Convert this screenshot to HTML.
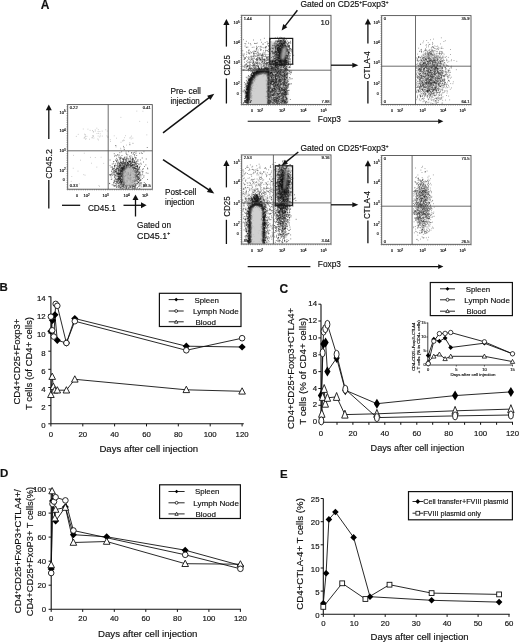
<!DOCTYPE html><html><head><meta charset="utf-8"><title>Figure</title><style>html,body{margin:0;padding:0;background:#fff}svg{display:block;filter:grayscale(1)}text{font-family:"Liberation Sans",Arial,sans-serif;stroke:#111;stroke-width:.16px}</style></head><body>
<svg width="520" height="642" viewBox="0 0 520 642">
<rect width="520" height="642" fill="#fff"/>
<defs><filter id="b0" x="-5%" y="-5%" width="110%" height="110%"><feGaussianBlur stdDeviation="0.38"/></filter><filter id="b3" x="-20%" y="-20%" width="140%" height="140%"><feGaussianBlur stdDeviation="1.5"/></filter><filter id="b1" x="-20%" y="-20%" width="140%" height="140%"><feGaussianBlur stdDeviation="1.0"/></filter><filter id="b2" x="-30%" y="-30%" width="160%" height="160%"><feGaussianBlur stdDeviation="1.6"/></filter></defs>
<text x="40.8" y="8.8" font-size="12.00" text-anchor="start" font-weight="bold" fill="#111" stroke-width="0.35">A</text>
<clipPath id="c0"><rect x="108.8" y="151.4" width="43" height="37.3"/></clipPath>
<g clip-path="url(#c0)"><ellipse cx="127" cy="174.5" rx="12" ry="14" fill="#444" opacity="0.28" filter="url(#b2)"/></g>
<path d="M125.0 178.5h0.9M125.2 171.7h0.9M120.4 172.6h0.9M134.3 177.8h0.9M133.8 176.3h0.9M129.4 175.8h0.9M115.4 181.3h0.9M130.2 178.4h0.9M115.2 160.0h0.9M120.7 170.5h0.9M128.8 173.9h0.9M130.3 169.0h0.9M128.8 177.5h0.9M122.3 188.4h0.9M130.5 184.1h0.9M122.5 168.2h0.9M124.4 173.4h0.9M131.0 176.3h0.9M123.7 166.5h0.9M123.2 184.3h0.9M121.3 176.3h0.9M129.7 162.1h0.9M127.1 185.0h0.9M113.1 171.7h0.9M126.0 167.6h0.9M130.1 173.8h0.9M116.8 181.1h0.9M131.3 182.1h0.9M136.5 177.3h0.9M127.6 163.6h0.9M130.9 169.3h0.9M123.7 163.9h0.9M120.2 169.9h0.9M135.5 157.6h0.9M116.8 176.3h0.9M136.6 179.0h0.9M113.8 153.7h0.9M129.2 168.3h0.9M119.1 182.3h0.9M134.2 175.6h0.9M128.4 177.9h0.9M137.6 179.4h0.9M130.3 178.8h0.9M116.1 184.8h0.9M133.2 178.6h0.9M113.3 169.1h0.9M132.5 159.4h0.9M125.5 182.7h0.9M117.8 187.5h0.9M130.5 173.1h0.9M129.0 179.6h0.9M127.6 183.7h0.9M122.3 170.9h0.9M133.8 174.5h0.9M120.8 182.1h0.9M136.7 170.7h0.9M117.4 173.2h0.9M125.7 171.9h0.9M136.3 165.9h0.9M135.3 163.9h0.9M121.4 179.5h0.9M134.4 181.3h0.9M129.1 175.5h0.9M127.8 179.0h0.9M125.6 176.6h0.9M130.6 174.3h0.9M131.9 178.9h0.9M140.4 177.0h0.9M123.8 171.2h0.9M126.7 181.9h0.9M124.5 177.5h0.9M139.2 153.3h0.9M119.1 176.3h0.9M129.5 176.3h0.9M123.8 179.7h0.9M128.7 170.0h0.9M143.3 177.2h0.9M123.0 173.5h0.9M125.2 173.8h0.9M133.6 164.7h0.9M126.3 182.1h0.9M132.6 186.5h0.9M115.2 171.4h0.9M124.4 179.4h0.9M134.2 152.3h0.9M134.2 162.4h0.9M131.4 162.1h0.9M127.9 184.1h0.9M125.7 175.9h0.9M132.2 175.5h0.9M126.1 186.9h0.9M133.9 171.9h0.9M145.4 164.9h0.9M133.0 172.1h0.9M127.7 180.1h0.9M128.3 179.5h0.9M116.4 161.9h0.9M130.9 166.4h0.9M119.8 162.2h0.9M135.4 180.4h0.9M136.8 166.6h0.9M126.8 164.9h0.9M132.0 187.3h0.9M120.7 187.1h0.9M133.5 172.8h0.9M113.3 185.8h0.9M126.1 169.4h0.9M129.5 177.7h0.9M136.9 165.9h0.9M134.5 186.5h0.9M136.6 172.8h0.9M121.7 182.7h0.9M127.5 175.3h0.9M136.4 172.1h0.9M111.1 171.1h0.9M114.1 181.0h0.9M128.9 169.3h0.9M126.7 181.1h0.9M127.3 185.2h0.9M126.3 182.8h0.9M136.9 187.5h0.9M122.2 181.5h0.9M114.0 165.4h0.9M113.4 183.1h0.9M118.4 174.2h0.9M125.4 174.1h0.9M122.7 176.2h0.9M138.9 174.7h0.9M130.4 182.5h0.9M125.4 164.0h0.9M123.0 183.1h0.9M115.6 169.4h0.9M133.6 180.8h0.9M126.8 180.9h0.9M127.9 164.6h0.9M116.1 169.1h0.9M133.0 169.7h0.9M120.6 168.0h0.9M116.3 173.3h0.9M118.7 177.3h0.9M110.7 177.0h0.9M122.4 158.4h0.9M131.7 172.0h0.9M111.6 167.1h0.9M128.7 170.5h0.9M132.1 180.4h0.9M131.3 177.0h0.9M135.8 179.7h0.9M129.8 157.2h0.9M132.8 185.0h0.9M124.7 170.5h0.9M139.9 159.9h0.9M120.4 180.0h0.9M139.6 173.3h0.9M130.6 181.7h0.9M120.6 173.6h0.9M128.7 181.1h0.9M126.5 172.7h0.9M119.8 171.4h0.9M132.8 175.1h0.9M120.9 167.4h0.9M144.9 183.6h0.9M131.1 153.0h0.9M131.0 178.2h0.9M138.2 177.8h0.9M126.3 178.6h0.9M113.5 182.8h0.9M129.0 168.5h0.9M117.2 168.8h0.9M128.7 175.8h0.9M124.0 166.3h0.9M141.2 182.8h0.9M118.6 163.3h0.9M138.3 182.4h0.9M139.1 180.9h0.9M120.8 176.4h0.9M112.1 168.2h0.9M126.3 178.6h0.9M121.8 173.3h0.9M129.9 177.4h0.9M131.1 176.0h0.9M124.5 180.8h0.9M127.1 167.5h0.9M122.5 174.3h0.9M126.0 175.6h0.9M126.7 175.7h0.9M125.8 164.0h0.9M129.6 182.9h0.9M129.7 172.7h0.9M129.8 166.4h0.9M113.9 174.8h0.9M120.4 180.4h0.9M119.4 152.7h0.9M119.7 187.2h0.9M124.2 163.1h0.9M121.6 178.6h0.9M130.1 175.7h0.9M136.8 180.1h0.9M126.6 179.2h0.9M138.0 182.3h0.9M133.7 165.4h0.9M125.7 180.3h0.9M124.7 183.1h0.9M130.8 181.7h0.9M135.2 172.5h0.9M124.4 181.5h0.9M133.4 174.4h0.9M118.8 175.8h0.9M129.2 183.6h0.9M132.1 174.5h0.9M132.6 178.7h0.9M128.2 174.8h0.9M125.1 179.9h0.9M119.6 169.1h0.9M126.8 162.3h0.9M123.8 157.8h0.9M122.1 179.0h0.9M130.6 173.9h0.9M125.2 162.7h0.9M139.2 178.5h0.9M134.2 167.1h0.9M125.5 159.4h0.9M132.1 182.0h0.9M113.8 173.9h0.9M131.0 159.9h0.9M114.3 165.6h0.9M122.5 162.8h0.9M127.0 176.3h0.9M131.1 180.1h0.9M137.0 183.8h0.9M117.8 170.2h0.9M119.5 165.5h0.9M126.2 174.3h0.9M130.1 161.3h0.9M118.3 174.1h0.9M125.4 171.7h0.9M126.3 168.1h0.9M131.5 177.2h0.9M126.2 168.8h0.9M125.6 152.0h0.9M120.1 174.6h0.9M116.5 175.9h0.9M127.8 163.0h0.9M125.0 171.7h0.9M129.9 179.3h0.9M126.5 167.3h0.9M125.8 173.8h0.9M131.7 176.7h0.9M121.8 163.2h0.9M124.2 168.2h0.9M119.2 173.3h0.9M123.4 175.2h0.9M130.3 170.9h0.9M142.6 171.7h0.9M134.2 175.3h0.9M134.3 154.8h0.9M121.6 176.3h0.9M128.9 184.8h0.9M132.0 182.1h0.9M130.2 173.0h0.9M130.2 165.5h0.9M134.8 166.0h0.9M125.2 174.5h0.9M134.7 174.5h0.9M121.3 176.4h0.9M130.7 180.1h0.9M121.5 188.7h0.9M138.1 174.4h0.9M128.6 170.8h0.9M136.4 168.5h0.9M131.3 170.4h0.9M122.0 180.2h0.9M135.8 174.2h0.9M122.1 181.0h0.9M126.4 176.8h0.9M137.1 183.6h0.9M126.8 180.7h0.9M122.3 173.9h0.9M136.0 164.3h0.9M116.5 161.0h0.9M134.7 170.5h0.9M126.3 171.7h0.9M125.9 165.4h0.9M126.9 162.5h0.9M126.3 176.8h0.9M129.9 172.4h0.9M120.6 175.6h0.9M123.5 187.1h0.9M132.0 173.4h0.9M123.5 168.5h0.9M120.4 171.4h0.9M128.8 178.5h0.9M122.0 174.4h0.9M145.8 159.0h0.9M123.2 175.7h0.9M127.8 177.6h0.9M125.1 177.3h0.9M127.1 180.6h0.9M113.9 167.0h0.9M126.7 165.8h0.9M119.6 179.4h0.9M122.3 179.5h0.9M131.8 176.8h0.9M130.2 173.4h0.9M117.2 174.1h0.9M129.8 170.0h0.9M126.1 180.4h0.9M120.8 179.5h0.9M139.4 169.8h0.9M127.7 173.1h0.9M137.2 176.9h0.9M132.9 168.6h0.9M126.6 174.2h0.9M114.7 186.1h0.9M132.9 160.0h0.9M131.8 173.2h0.9M129.8 177.3h0.9M116.6 172.6h0.9M136.9 169.6h0.9M119.8 163.2h0.9M118.4 177.1h0.9M138.3 177.8h0.9M123.2 168.8h0.9M130.3 178.8h0.9M119.8 164.7h0.9M128.7 176.3h0.9M117.9 172.6h0.9M123.1 178.1h0.9M126.0 173.6h0.9M124.3 182.9h0.9M136.2 171.3h0.9M132.5 168.1h0.9M127.2 180.4h0.9M137.0 171.2h0.9M126.2 175.9h0.9M116.6 174.4h0.9M122.2 177.3h0.9M119.1 158.1h0.9M127.0 176.4h0.9M123.0 181.6h0.9M124.9 169.3h0.9M130.0 161.4h0.9M122.1 174.1h0.9M132.5 173.0h0.9M128.8 168.9h0.9M128.8 187.9h0.9M122.4 174.4h0.9M127.9 182.7h0.9M118.3 157.1h0.9M130.9 180.8h0.9M128.1 176.4h0.9M133.1 177.3h0.9M138.1 164.1h0.9M132.3 171.2h0.9M126.7 172.2h0.9M123.4 167.4h0.9M122.5 179.5h0.9M127.0 174.8h0.9M125.6 181.8h0.9M130.1 173.1h0.9M131.3 173.1h0.9M118.9 186.2h0.9M129.9 166.5h0.9M134.1 177.1h0.9M116.1 187.5h0.9M129.0 181.6h0.9M128.1 173.1h0.9M116.2 182.3h0.9M127.0 172.0h0.9M129.1 174.9h0.9M131.3 171.3h0.9M126.5 156.8h0.9M123.9 179.8h0.9M135.8 171.3h0.9M125.9 187.3h0.9M124.5 180.3h0.9M138.2 174.6h0.9M135.1 168.5h0.9M128.2 173.7h0.9M127.5 183.6h0.9M143.0 168.8h0.9M122.8 178.4h0.9M119.6 178.4h0.9M130.6 172.0h0.9M130.4 161.6h0.9M131.9 161.6h0.9M122.0 169.7h0.9M124.0 181.3h0.9M127.3 171.0h0.9M130.4 187.3h0.9M126.8 177.3h0.9M135.2 176.5h0.9M141.8 158.0h0.9M126.5 177.7h0.9M133.3 179.8h0.9M124.9 165.7h0.9M127.5 182.8h0.9M119.3 165.9h0.9M126.6 158.4h0.9M125.0 170.7h0.9M129.8 168.5h0.9M120.8 171.1h0.9M126.4 168.8h0.9M126.8 180.5h0.9M134.8 188.3h0.9M121.4 170.9h0.9M121.8 174.0h0.9M130.3 163.2h0.9M129.9 174.1h0.9M114.3 176.7h0.9M134.9 159.0h0.9M132.2 176.0h0.9M130.0 177.9h0.9M135.6 172.5h0.9M132.7 170.9h0.9M131.7 167.6h0.9M126.0 188.5h0.9M129.8 173.0h0.9M119.0 167.8h0.9M128.1 182.0h0.9M129.6 178.6h0.9M126.5 185.4h0.9M124.1 169.8h0.9M132.8 174.8h0.9M124.9 169.6h0.9M125.0 179.4h0.9M129.2 164.4h0.9M129.6 175.8h0.9M119.9 180.6h0.9M124.8 171.5h0.9M132.2 185.1h0.9M122.1 177.9h0.9M123.4 184.1h0.9M122.3 181.0h0.9M141.8 153.5h0.9M123.8 178.4h0.9M126.1 168.8h0.9M141.4 175.0h0.9M115.6 181.3h0.9M115.0 183.7h0.9M122.8 175.5h0.9M135.3 175.3h0.9M117.3 160.4h0.9M134.8 180.4h0.9M121.2 181.3h0.9M130.1 179.6h0.9M111.4 171.8h0.9M132.9 180.3h0.9M132.7 154.2h0.9M127.9 178.3h0.9M144.1 166.5h0.9M124.5 174.6h0.9M132.8 170.7h0.9M134.6 167.8h0.9M128.6 170.0h0.9M127.8 168.6h0.9M115.9 183.3h0.9M128.8 169.7h0.9M128.1 182.4h0.9M120.1 173.4h0.9M130.4 178.6h0.9M124.5 157.0h0.9M135.2 177.0h0.9M126.8 172.0h0.9M128.5 170.8h0.9M119.8 168.2h0.9M122.7 169.3h0.9M118.9 179.5h0.9M117.8 179.7h0.9M119.9 177.2h0.9M136.1 176.0h0.9M121.8 174.7h0.9M127.8 160.1h0.9M122.6 175.6h0.9M123.6 175.0h0.9M131.7 180.6h0.9M132.9 179.1h0.9M124.8 174.1h0.9M124.9 171.7h0.9M125.5 160.2h0.9M124.5 174.1h0.9M120.1 174.1h0.9M130.3 173.0h0.9M140.9 152.9h0.9M125.3 159.3h0.9M109.7 175.3h0.9M130.3 171.8h0.9M130.5 155.9h0.9M132.5 177.4h0.9M126.9 169.5h0.9M131.1 170.3h0.9M128.3 170.1h0.9M111.5 174.0h0.9M128.1 180.5h0.9M120.8 174.0h0.9M130.9 175.5h0.9M120.6 158.5h0.9M132.6 186.8h0.9M133.0 181.0h0.9M122.5 168.4h0.9M132.8 166.8h0.9M114.4 166.1h0.9M122.1 168.3h0.9M128.3 168.2h0.9M135.7 173.7h0.9M119.4 185.0h0.9M122.8 176.1h0.9M126.7 171.7h0.9M129.0 168.6h0.9M114.2 156.2h0.9M118.1 168.1h0.9M126.6 174.8h0.9M130.5 175.3h0.9M121.4 168.5h0.9M112.3 172.9h0.9M130.0 178.6h0.9M125.9 172.9h0.9M133.1 174.4h0.9M131.8 179.1h0.9M128.2 185.0h0.9M122.9 171.4h0.9M121.3 167.8h0.9M126.9 179.0h0.9M134.7 180.9h0.9M134.9 163.9h0.9M122.4 178.0h0.9M136.5 175.2h0.9M120.9 171.4h0.9M122.3 167.3h0.9M137.0 169.2h0.9M134.8 177.1h0.9M122.6 177.7h0.9M137.8 179.4h0.9M135.3 175.1h0.9M130.3 172.7h0.9M129.7 185.0h0.9M117.0 173.8h0.9M128.4 169.6h0.9M124.7 180.8h0.9M140.4 179.5h0.9M129.0 161.6h0.9M139.9 174.9h0.9M126.5 165.1h0.9M126.4 165.3h0.9M127.2 178.1h0.9M127.0 176.6h0.9M121.0 186.0h0.9M122.3 159.4h0.9M125.5 168.0h0.9M119.9 171.4h0.9M128.7 164.6h0.9M125.8 186.0h0.9M131.4 173.1h0.9M127.6 173.3h0.9M126.4 180.3h0.9M126.1 154.6h0.9M126.6 167.0h0.9M131.2 169.3h0.9M119.6 165.1h0.9M117.2 154.7h0.9M114.0 177.3h0.9M122.4 159.0h0.9M116.7 179.4h0.9M121.5 171.3h0.9M129.0 185.4h0.9M139.9 182.8h0.9M127.7 175.8h0.9M139.0 186.0h0.9M124.6 178.1h0.9M128.7 174.7h0.9M123.3 163.4h0.9M123.1 161.6h0.9M135.1 178.7h0.9M118.5 185.7h0.9M132.8 158.6h0.9M139.3 180.9h0.9M140.8 164.2h0.9M130.4 177.8h0.9M128.1 175.7h0.9M133.9 162.0h0.9M118.3 162.9h0.9M123.0 169.3h0.9M129.2 176.5h0.9M127.0 168.8h0.9M123.7 182.1h0.9M131.9 175.1h0.9M124.6 187.0h0.9M122.7 179.6h0.9M134.6 172.1h0.9M132.4 165.2h0.9M133.6 175.9h0.9M116.0 179.8h0.9M120.7 184.8h0.9M122.1 172.9h0.9M128.7 171.6h0.9M128.5 169.8h0.9M131.3 174.3h0.9M128.2 151.7h0.9M134.6 174.6h0.9M114.6 175.1h0.9M129.9 183.1h0.9M119.4 187.0h0.9M125.8 179.9h0.9M124.3 165.1h0.9M134.2 181.7h0.9M137.2 181.3h0.9M122.9 160.7h0.9M122.3 168.8h0.9M121.2 179.1h0.9M129.0 172.1h0.9M127.9 173.1h0.9M128.2 180.5h0.9M133.3 168.7h0.9M116.5 186.0h0.9M127.5 183.4h0.9M115.6 171.6h0.9M126.9 162.5h0.9M123.2 180.2h0.9M134.1 187.4h0.9M120.9 162.8h0.9M130.3 182.0h0.9M128.1 163.6h0.9M132.1 180.8h0.9M130.5 170.3h0.9M128.8 180.8h0.9M123.0 159.2h0.9M129.0 178.2h0.9M126.8 181.6h0.9M122.8 173.6h0.9M124.7 179.0h0.9M137.6 172.2h0.9M140.7 186.8h0.9M132.1 179.1h0.9M138.8 172.8h0.9M126.0 165.6h0.9M130.0 185.3h0.9M130.4 177.8h0.9M125.4 175.7h0.9M117.1 182.9h0.9M124.0 165.2h0.9M121.6 167.5h0.9M132.6 183.0h0.9M117.5 181.9h0.9M132.8 169.5h0.9M116.6 168.2h0.9M122.4 177.1h0.9M124.3 157.7h0.9M128.3 161.7h0.9M132.9 164.4h0.9M122.0 167.3h0.9M123.1 184.9h0.9M132.5 179.2h0.9M128.9 161.6h0.9M123.2 169.8h0.9M120.1 178.5h0.9M121.7 168.5h0.9M119.6 157.4h0.9M130.8 185.2h0.9M127.9 166.3h0.9M135.0 176.7h0.9M133.1 186.4h0.9M134.4 170.7h0.9M133.9 180.7h0.9M116.3 171.0h0.9M117.1 173.4h0.9M130.7 165.5h0.9M112.8 184.9h0.9M129.3 186.4h0.9M117.7 183.0h0.9M125.3 176.5h0.9M125.7 182.5h0.9M133.8 175.0h0.9M117.5 180.4h0.9M123.6 179.5h0.9M128.5 187.6h0.9M134.5 170.6h0.9M123.1 177.9h0.9M134.8 184.6h0.9M130.3 163.5h0.9M118.2 176.3h0.9M120.9 183.6h0.9M132.0 160.6h0.9M121.2 175.7h0.9M123.4 173.0h0.9M129.9 167.7h0.9M129.9 169.1h0.9M123.0 178.7h0.9M122.9 176.7h0.9M137.6 174.5h0.9M125.8 180.3h0.9M124.3 183.2h0.9M118.0 179.4h0.9M123.3 167.8h0.9M138.8 167.3h0.9M138.7 179.7h0.9M136.6 166.3h0.9M134.9 186.2h0.9M126.0 173.2h0.9M143.5 175.8h0.9M123.9 169.1h0.9M129.8 177.0h0.9M128.0 188.4h0.9M124.5 178.2h0.9M136.7 166.1h0.9M117.5 165.3h0.9M119.7 159.2h0.9M129.8 159.1h0.9M130.1 186.2h0.9M115.8 171.7h0.9M113.7 180.7h0.9M121.7 172.1h0.9M127.1 178.8h0.9M124.4 174.4h0.9M123.0 175.2h0.9M118.8 174.8h0.9M113.6 170.3h0.9M139.8 175.0h0.9M118.2 176.4h0.9M120.1 160.8h0.9M121.7 180.3h0.9M129.4 173.5h0.9M120.4 165.5h0.9M135.9 176.3h0.9M120.3 157.0h0.9M118.9 173.7h0.9M128.2 173.0h0.9M124.9 163.0h0.9M119.6 188.1h0.9M121.6 181.2h0.9M115.2 172.1h0.9M128.5 182.8h0.9M119.1 179.2h0.9M129.4 168.3h0.9M130.0 166.9h0.9M121.3 174.1h0.9M119.9 162.3h0.9M123.9 180.6h0.9M124.0 184.7h0.9M118.9 163.5h0.9M137.3 177.6h0.9M133.2 167.5h0.9M132.2 176.4h0.9M131.2 174.5h0.9M135.0 169.0h0.9M120.2 162.2h0.9M134.6 168.2h0.9M119.7 166.6h0.9M123.7 163.9h0.9M124.8 169.2h0.9M123.0 166.4h0.9M127.0 170.5h0.9M127.5 176.3h0.9M129.1 156.3h0.9M123.1 167.8h0.9M132.0 161.4h0.9M121.9 171.9h0.9M124.5 182.4h0.9M123.7 182.2h0.9M116.8 159.4h0.9M135.0 177.9h0.9M130.1 175.3h0.9M130.0 164.3h0.9M133.2 169.9h0.9M133.5 175.0h0.9M113.3 163.7h0.9M134.4 173.2h0.9M124.1 176.3h0.9M123.9 169.8h0.9M127.4 175.5h0.9M137.1 174.7h0.9M138.4 183.0h0.9M127.6 175.4h0.9M125.8 168.3h0.9M126.3 169.0h0.9M137.9 178.7h0.9M123.7 158.6h0.9M126.4 170.9h0.9M119.4 165.0h0.9M111.4 179.0h0.9M126.5 173.1h0.9M136.6 175.4h0.9M127.9 171.3h0.9M122.6 186.6h0.9M133.6 188.4h0.9M124.4 174.5h0.9M120.8 182.2h0.9M117.3 178.9h0.9M134.2 185.9h0.9M120.4 183.2h0.9M121.9 168.1h0.9M117.8 183.8h0.9M138.0 169.4h0.9M121.6 171.5h0.9M143.8 182.5h0.9M123.1 159.6h0.9M122.2 184.0h0.9M139.5 172.1h0.9M122.0 170.1h0.9M113.9 181.7h0.9M119.4 183.0h0.9M115.1 163.9h0.9M128.7 168.0h0.9M132.1 174.4h0.9M118.8 179.4h0.9M132.5 158.6h0.9M139.2 178.4h0.9M131.9 159.0h0.9M121.9 171.4h0.9M134.1 162.3h0.9M120.7 157.7h0.9M125.1 177.1h0.9M115.3 169.5h0.9M130.2 187.3h0.9M131.3 171.8h0.9M118.7 166.6h0.9M122.2 175.5h0.9M126.4 188.0h0.9M128.7 165.5h0.9M137.3 182.1h0.9M127.4 168.4h0.9M114.0 165.9h0.9M132.9 167.7h0.9M117.8 175.9h0.9M128.4 179.3h0.9M131.2 185.9h0.9M121.0 182.3h0.9M120.0 180.0h0.9M128.0 176.3h0.9M133.3 174.2h0.9M134.3 181.5h0.9M127.7 169.7h0.9M121.6 170.0h0.9M125.4 174.1h0.9M147.0 179.5h0.9M132.0 167.2h0.9M121.9 171.7h0.9M128.1 165.8h0.9M137.7 169.7h0.9M134.1 155.1h0.9M126.7 176.6h0.9M128.1 179.2h0.9M128.7 175.6h0.9M113.9 168.4h0.9M110.8 179.5h0.9M128.8 172.7h0.9M121.2 169.5h0.9M139.3 188.5h0.9M126.4 184.9h0.9M116.0 158.4h0.9M123.5 167.1h0.9M122.9 175.8h0.9M147.3 168.9h0.9M127.1 176.6h0.9M126.5 181.9h0.9M138.8 164.1h0.9M127.8 172.1h0.9M129.2 161.7h0.9M114.8 155.3h0.9M130.3 175.9h0.9M127.3 154.9h0.9M124.2 168.1h0.9M117.1 166.8h0.9M131.5 178.8h0.9M126.6 178.5h0.9M122.6 174.9h0.9M127.0 178.8h0.9M126.3 173.1h0.9M125.8 169.0h0.9M141.9 178.5h0.9M136.3 161.5h0.9M131.5 181.2h0.9M139.6 185.1h0.9M132.0 164.6h0.9M120.8 176.5h0.9M130.2 165.9h0.9M124.1 171.0h0.9M127.2 177.1h0.9M124.8 164.2h0.9M135.2 187.4h0.9M126.0 182.7h0.9M129.8 179.7h0.9M130.0 168.0h0.9M130.7 182.6h0.9M140.3 180.4h0.9M124.4 169.4h0.9M121.2 175.3h0.9M126.5 179.8h0.9M142.2 174.1h0.9M131.3 178.2h0.9M128.6 172.6h0.9M125.9 167.5h0.9M128.0 174.1h0.9M128.9 167.3h0.9M127.0 174.7h0.9M130.9 165.6h0.9M129.6 182.4h0.9M130.8 171.3h0.9M123.4 172.4h0.9M131.7 187.0h0.9M125.7 169.0h0.9M129.3 176.0h0.9M120.6 168.3h0.9M126.1 179.8h0.9M118.6 166.0h0.9M130.1 164.3h0.9M127.5 177.2h0.9M126.0 166.0h0.9M126.3 171.6h0.9M129.0 167.4h0.9M134.2 160.6h0.9M125.6 174.4h0.9M133.3 169.3h0.9M130.5 169.7h0.9M131.8 188.5h0.9M124.0 177.9h0.9M120.4 182.3h0.9M135.0 174.6h0.9M119.0 177.6h0.9M134.6 183.2h0.9M132.3 159.3h0.9M122.1 186.0h0.9M118.4 183.6h0.9M139.6 180.5h0.9M134.4 171.6h0.9M118.4 173.5h0.9M125.4 173.9h0.9M131.5 173.1h0.9M128.1 177.8h0.9M129.8 175.0h0.9M125.3 169.2h0.9M135.9 175.5h0.9M119.4 169.7h0.9M125.8 170.6h0.9M134.1 164.8h0.9M130.1 175.5h0.9M118.7 174.7h0.9M126.1 178.4h0.9M123.7 176.8h0.9M115.4 165.4h0.9M132.1 182.8h0.9M126.7 169.4h0.9M134.1 157.1h0.9M121.3 179.8h0.9M131.2 165.8h0.9M113.9 186.2h0.9M127.8 167.0h0.9M127.1 181.7h0.9M109.1 183.4h0.9M131.8 157.2h0.9M132.0 159.7h0.9M134.5 177.6h0.9M142.1 169.3h0.9M126.8 182.9h0.9M122.4 168.5h0.9M124.2 173.7h0.9M119.4 178.3h0.9M130.4 174.9h0.9M138.3 171.6h0.9M135.6 169.8h0.9M131.9 158.4h0.9M128.1 172.9h0.9M123.4 169.3h0.9M124.4 168.4h0.9M111.8 169.4h0.9M123.0 170.0h0.9M119.6 173.2h0.9M132.1 172.2h0.9M123.4 185.4h0.9M133.4 181.9h0.9M134.6 171.6h0.9M125.9 183.4h0.9M123.0 173.3h0.9M129.3 177.4h0.9M124.9 182.4h0.9M125.5 180.2h0.9M134.0 179.7h0.9M131.7 164.8h0.9M117.8 169.2h0.9M130.0 186.6h0.9M118.4 176.8h0.9M120.9 168.3h0.9M124.9 180.0h0.9M128.2 184.0h0.9M120.0 181.6h0.9M133.1 174.9h0.9M130.0 169.7h0.9M119.3 171.0h0.9M123.5 187.8h0.9M128.1 176.9h0.9M131.8 167.9h0.9M133.0 177.4h0.9M116.4 179.2h0.9M130.5 178.0h0.9M137.5 170.9h0.9M130.2 180.4h0.9M120.6 184.1h0.9M116.9 163.6h0.9M130.3 165.4h0.9M126.0 160.8h0.9M127.2 165.0h0.9M129.1 161.7h0.9M129.8 172.1h0.9M127.2 173.7h0.9M127.6 163.5h0.9M109.3 174.6h0.9M120.4 170.6h0.9M129.7 158.0h0.9M121.6 169.3h0.9M119.6 177.0h0.9M125.8 167.6h0.9M120.1 180.9h0.9M122.3 179.1h0.9M129.8 158.8h0.9M119.4 174.3h0.9M129.1 180.7h0.9M132.2 182.8h0.9M124.2 172.6h0.9M132.0 170.8h0.9M133.9 161.3h0.9M131.2 172.9h0.9M113.4 182.3h0.9M128.9 174.5h0.9M119.4 170.5h0.9M137.0 167.5h0.9M118.6 173.2h0.9M124.1 166.8h0.9M121.0 182.9h0.9M123.1 165.3h0.9M132.1 178.9h0.9M119.7 180.4h0.9M114.2 166.7h0.9M134.4 172.2h0.9M117.9 178.5h0.9M133.0 174.1h0.9M114.5 171.5h0.9M129.6 180.6h0.9M139.4 172.2h0.9M123.5 174.0h0.9M135.0 166.6h0.9M135.6 151.8h0.9M132.2 168.8h0.9M129.9 179.9h0.9M118.7 173.6h0.9M128.4 179.1h0.9M120.4 166.2h0.9M125.4 172.5h0.9M116.6 181.9h0.9M123.1 186.1h0.9M132.5 174.5h0.9M131.7 165.2h0.9M124.5 169.6h0.9M118.1 174.4h0.9M125.8 186.1h0.9M120.5 170.5h0.9M129.6 177.6h0.9M126.9 170.4h0.9M130.1 177.3h0.9M114.2 172.1h0.9M117.4 164.6h0.9M127.7 174.8h0.9M127.5 167.1h0.9M125.4 166.8h0.9M129.3 179.9h0.9M138.7 184.7h0.9M121.3 170.5h0.9M120.4 176.8h0.9M140.2 180.1h0.9M111.8 164.0h0.9M118.0 178.5h0.9M126.8 176.8h0.9M138.9 167.5h0.9M129.1 167.9h0.9M113.0 161.8h0.9M110.1 174.9h0.9M127.1 182.4h0.9M125.8 168.6h0.9M114.7 175.7h0.9M126.9 179.4h0.9M124.0 178.4h0.9M132.3 173.1h0.9M123.6 172.8h0.9M120.2 172.6h0.9M124.7 176.0h0.9M135.8 185.0h0.9M123.7 179.2h0.9M128.8 180.5h0.9M126.9 176.5h0.9M123.6 167.9h0.9M132.7 185.0h0.9M131.3 177.9h0.9M128.6 170.6h0.9M114.6 179.7h0.9M128.1 169.8h0.9M120.2 184.8h0.9M121.9 174.1h0.9M123.3 175.6h0.9M125.3 168.2h0.9M134.1 167.9h0.9M123.3 178.8h0.9M123.1 170.7h0.9M129.2 171.3h0.9M118.3 173.5h0.9M125.3 188.3h0.9M119.3 182.2h0.9M121.4 171.4h0.9M124.5 176.5h0.9M132.6 188.6h0.9M122.4 185.2h0.9M133.5 181.0h0.9M121.6 181.7h0.9M126.0 177.2h0.9M124.9 179.7h0.9M134.3 183.6h0.9M125.4 182.5h0.9M136.6 166.6h0.9M136.8 163.4h0.9M130.4 179.2h0.9M136.8 176.6h0.9M123.5 167.8h0.9M118.2 180.6h0.9M125.1 168.4h0.9M130.4 168.0h0.9M123.8 170.5h0.9M138.0 186.3h0.9M125.7 161.4h0.9M128.6 174.9h0.9M129.1 178.9h0.9M124.6 181.9h0.9M132.4 176.0h0.9M124.0 170.4h0.9M131.5 165.3h0.9M125.7 168.2h0.9M117.3 179.3h0.9M126.6 174.6h0.9M132.7 162.0h0.9M126.3 176.7h0.9M132.4 165.4h0.9M131.6 176.1h0.9M136.0 183.6h0.9M126.7 170.8h0.9M124.4 166.6h0.9M126.6 158.9h0.9M126.2 177.8h0.9M133.5 171.5h0.9M136.2 169.0h0.9M125.8 158.9h0.9M121.6 167.8h0.9M136.7 178.5h0.9M119.4 178.6h0.9M129.9 172.4h0.9M126.9 171.9h0.9M123.1 160.1h0.9M126.1 184.6h0.9M136.3 172.1h0.9M121.8 172.6h0.9M132.7 177.1h0.9M122.9 177.2h0.9M125.4 178.4h0.9M124.0 162.5h0.9M127.1 180.4h0.9M119.4 173.4h0.9M132.6 171.3h0.9M132.2 182.5h0.9M120.5 187.3h0.9M115.8 170.2h0.9M131.6 184.9h0.9M120.6 169.0h0.9M128.1 158.9h0.9M131.0 178.8h0.9M123.8 178.6h0.9M131.9 176.8h0.9M130.2 186.4h0.9M123.6 175.6h0.9M123.3 182.5h0.9M124.1 178.1h0.9M127.7 174.8h0.9M138.1 173.6h0.9M136.1 180.9h0.9M135.4 173.0h0.9M132.9 180.3h0.9M122.7 176.4h0.9M125.9 174.0h0.9M135.3 168.6h0.9M115.7 160.5h0.9M123.8 169.2h0.9M126.8 178.8h0.9M138.3 176.7h0.9M129.8 168.5h0.9M130.6 185.1h0.9M135.5 158.8h0.9M132.6 186.8h0.9M132.2 162.5h0.9M124.7 178.9h0.9M129.5 167.9h0.9M120.9 181.9h0.9M118.0 185.6h0.9M126.9 176.7h0.9M118.0 169.6h0.9M131.3 162.7h0.9M140.3 163.2h0.9M113.8 172.4h0.9M130.2 179.1h0.9M122.0 170.0h0.9M123.3 166.5h0.9M128.0 173.5h0.9M119.5 174.4h0.9M125.4 171.3h0.9M136.2 155.5h0.9M128.0 161.8h0.9M122.5 186.4h0.9M115.1 171.0h0.9M119.9 181.1h0.9M116.1 155.8h0.9M130.5 168.6h0.9M122.5 182.4h0.9M117.0 168.4h0.9M127.0 176.0h0.9M120.6 181.9h0.9M147.1 168.1h0.9M143.5 151.7h0.9M139.1 168.7h0.9M126.9 168.7h0.9M119.4 159.7h0.9M121.8 184.4h0.9M136.5 168.7h0.9M120.5 165.3h0.9M131.9 173.1h0.9M120.8 162.2h0.9M138.2 179.5h0.9M116.4 181.5h0.9M114.9 178.2h0.9M116.3 168.0h0.9M130.3 176.2h0.9M135.3 164.0h0.9M140.7 184.9h0.9M125.5 176.5h0.9M118.1 170.5h0.9M112.9 172.9h0.9M127.5 184.9h0.9M134.6 179.8h0.9M122.1 169.8h0.9M122.3 174.1h0.9M110.5 167.1h0.9M125.8 167.1h0.9M141.5 171.1h0.9M140.6 183.3h0.9M120.8 175.8h0.9M138.0 168.8h0.9M126.4 166.6h0.9M126.1 168.6h0.9M126.3 181.6h0.9M138.9 173.3h0.9M127.5 180.2h0.9M122.8 161.8h0.9M136.2 163.0h0.9M134.5 162.7h0.9M143.1 162.0h0.9M133.7 186.4h0.9M116.3 186.3h0.9M117.6 155.1h0.9M132.5 178.7h0.9M123.6 147.8h0.9M125.0 169.1h0.9M121.9 169.2h0.9M142.8 186.8h0.9M122.1 165.2h0.9M129.4 182.2h0.9M132.5 160.8h0.9M127.1 173.3h0.9M139.4 183.5h0.9M130.6 183.7h0.9M121.8 186.8h0.9M121.5 175.8h0.9M134.4 163.2h0.9M118.8 155.1h0.9M127.1 171.5h0.9M122.4 176.8h0.9M126.4 169.4h0.9M121.3 163.0h0.9M119.7 172.9h0.9M131.2 163.7h0.9M135.1 162.2h0.9M133.5 176.1h0.9M123.0 170.4h0.9M130.1 180.3h0.9M112.7 174.6h0.9M118.4 178.1h0.9M138.7 172.5h0.9M124.5 173.8h0.9M130.9 173.6h0.9M121.7 165.0h0.9M123.8 183.6h0.9M124.6 184.9h0.9M128.2 171.9h0.9M109.6 165.6h0.9M137.5 159.6h0.9M116.0 161.5h0.9M120.3 178.2h0.9M131.3 152.5h0.9M139.6 166.3h0.9M119.9 188.0h0.9M124.8 160.1h0.9M119.4 165.0h0.9M115.9 168.8h0.9M134.0 175.4h0.9M116.0 173.1h0.9M125.9 179.3h0.9M122.4 176.4h0.9M145.8 172.9h0.9M115.2 175.2h0.9M117.8 168.4h0.9M127.4 175.2h0.9M122.8 180.1h0.9M123.7 159.5h0.9M134.0 168.5h0.9M137.2 165.7h0.9M131.0 175.0h0.9M114.8 185.5h0.9M136.0 176.8h0.9M132.0 167.2h0.9M125.4 174.2h0.9M129.6 178.8h0.9M123.6 165.3h0.9M120.2 175.9h0.9M109.6 160.0h0.9M121.6 166.7h0.9M123.0 146.4h0.9M122.3 169.6h0.9M133.0 153.0h0.9M122.6 176.6h0.9M130.2 183.5h0.9M135.7 161.9h0.9M131.7 168.8h0.9M117.8 186.7h0.9M119.5 163.8h0.9M121.6 163.8h0.9M135.2 175.7h0.9M139.0 176.0h0.9M119.6 182.1h0.9M119.3 167.6h0.9M123.9 172.4h0.9M137.0 166.2h0.9M128.9 171.7h0.9M113.4 161.5h0.9M123.4 175.9h0.9M128.6 176.6h0.9M126.0 167.7h0.9M129.7 162.3h0.9M112.6 168.8h0.9M111.8 167.0h0.9M118.4 166.7h0.9M125.1 164.3h0.9M121.5 155.5h0.9M126.9 163.5h0.9M129.4 144.7h0.9M117.8 174.3h0.9M126.5 173.0h0.9M111.1 174.2h0.9M127.0 162.6h0.9M132.7 171.5h0.9M125.7 167.7h0.9M130.8 172.9h0.9M136.5 176.4h0.9M119.6 169.8h0.9M134.4 168.5h0.9M129.2 177.0h0.9M123.8 149.5h0.9M126.8 174.1h0.9M126.9 164.7h0.9M137.2 170.7h0.9M119.5 165.1h0.9M129.0 161.5h0.9M138.2 182.2h0.9M138.8 177.8h0.9M109.3 183.6h0.9M137.5 176.7h0.9M138.8 167.2h0.9M126.8 179.5h0.9M124.7 182.6h0.9M126.3 178.7h0.9M126.4 157.7h0.9M128.3 184.7h0.9M136.6 188.6h0.9M130.9 166.2h0.9M125.7 153.4h0.9M123.7 180.8h0.9M133.5 184.9h0.9M116.6 165.7h0.9M114.4 185.4h0.9M129.7 167.2h0.9M146.8 147.5h0.9M124.9 174.1h0.9M147.5 173.3h0.9M135.1 185.3h0.9M130.5 175.5h0.9M123.8 168.0h0.9M121.2 151.8h0.9M128.1 171.7h0.9M124.5 169.4h0.9M118.3 171.8h0.9M121.3 174.0h0.9M134.0 179.9h0.9M132.5 180.0h0.9M132.1 185.7h0.9M135.3 185.1h0.9M120.7 172.0h0.9M118.5 181.3h0.9M133.6 167.5h0.9M137.6 161.1h0.9M124.7 178.2h0.9M125.2 175.8h0.9M137.0 175.2h0.9M114.9 179.0h0.9M124.6 173.1h0.9M120.0 158.5h0.9M113.4 168.6h0.9M115.1 145.6h0.9M136.7 160.7h0.9M118.5 177.2h0.9M118.1 178.4h0.9M120.9 175.0h0.9M126.6 172.0h0.9M125.1 185.7h0.9M120.2 177.2h0.9M127.1 176.7h0.9M135.2 157.4h0.9M128.2 170.3h0.9M122.5 163.7h0.9M117.9 162.0h0.9M142.1 172.1h0.9M132.8 162.5h0.9M126.9 186.0h0.9M125.1 162.2h0.9M123.2 162.3h0.9M112.0 169.7h0.9M121.7 164.1h0.9M116.9 162.9h0.9M127.9 185.6h0.9M109.8 174.7h0.9M114.3 170.4h0.9M126.5 177.4h0.9M136.6 166.6h0.9M113.4 170.2h0.9M128.4 165.2h0.9M134.3 188.4h0.9M111.7 175.5h0.9M135.5 153.3h0.9M127.6 169.8h0.9M111.7 184.8h0.9M127.7 167.3h0.9M129.9 178.3h0.9M133.0 177.7h0.9M129.5 160.5h0.9M121.4 173.3h0.9M121.9 161.7h0.9M125.9 166.3h0.9M121.5 163.3h0.9M118.2 171.0h0.9M119.3 178.6h0.9M124.2 173.3h0.9" stroke="#111" stroke-opacity="0.60" stroke-width="0.9" fill="none" filter="url(#b0)"/>
<g clip-path="url(#c0)"><ellipse cx="129.2" cy="176.5" rx="6.6" ry="10" fill="#d2d2d2" opacity="0.88" filter="url(#b1)"/></g>
<path d="M130.4 174.9h0.9M120.9 177.1h0.9M124.8 171.7h0.9M130.7 177.7h0.9M130.5 172.4h0.9M129.8 175.3h0.9M120.3 166.9h0.9M123.5 188.0h0.9M128.1 174.4h0.9M126.7 181.7h0.9M129.0 185.9h0.9M131.9 185.5h0.9M128.4 178.2h0.9M127.2 175.0h0.9M122.2 172.6h0.9M125.2 172.2h0.9M133.5 177.5h0.9M133.6 181.0h0.9M132.4 181.8h0.9M126.5 180.6h0.9M127.6 172.9h0.9M125.1 186.0h0.9M132.1 171.1h0.9M129.9 178.1h0.9M130.3 173.9h0.9M123.9 176.2h0.9M132.2 180.5h0.9M131.4 182.4h0.9M125.0 175.8h0.9M130.2 181.8h0.9M129.5 179.0h0.9M120.4 175.9h0.9M138.4 177.4h0.9M121.8 176.8h0.9M123.3 172.1h0.9M129.7 185.9h0.9M130.6 179.9h0.9M132.8 177.2h0.9M125.5 175.4h0.9M130.1 174.4h0.9M126.3 173.9h0.9M123.1 170.1h0.9M128.5 173.9h0.9M129.0 184.1h0.9M130.0 175.8h0.9M124.3 169.8h0.9M130.3 171.0h0.9M130.5 169.8h0.9M129.4 175.6h0.9M132.7 173.7h0.9M127.4 177.4h0.9M129.1 185.8h0.9M127.9 172.9h0.9M127.6 178.7h0.9M129.8 180.0h0.9M135.9 175.8h0.9M124.2 176.9h0.9M130.4 163.1h0.9M128.9 167.5h0.9M130.6 184.0h0.9" stroke="#555" stroke-opacity="0.35" stroke-width="0.9" fill="none" filter="url(#b0)"/>
<path d="M98.1 140.0h0.8M99.9 135.9h0.8M93.1 131.9h0.8M91.6 137.7h0.8M96.6 133.5h0.8M82.9 129.0h0.8M97.4 139.0h0.8M97.9 129.6h0.8M92.7 135.9h0.8M86.5 136.4h0.8M92.8 131.7h0.8M83.7 138.2h0.8M97.7 131.5h0.8M85.7 138.5h0.8M99.8 133.8h0.8M85.3 139.3h0.8M92.9 136.3h0.8M94.9 131.1h0.8M84.2 134.2h0.8M106.9 131.1h0.8M106.5 135.9h0.8M84.8 136.0h0.8M99.5 131.5h0.8M75.9 136.4h0.8M84.9 136.7h0.8M77.8 134.4h0.8M87.5 129.2h0.8M92.5 135.7h0.8M89.7 130.4h0.8M96.4 128.2h0.8M99.3 136.9h0.8M97.7 136.0h0.8M94.8 129.8h0.8M107.4 137.0h0.8M92.1 130.5h0.8M107.6 137.1h0.8M84.2 137.6h0.8M98.1 133.4h0.8M89.1 139.2h0.8M93.5 138.1h0.8M91.9 137.8h0.8M101.8 131.1h0.8M85.2 134.7h0.8M101.9 136.1h0.8M105.4 129.7h0.8M130.8 138.9h0.8M113.8 135.8h0.8M122.5 140.6h0.8M120.6 142.3h0.8M123.8 140.5h0.8M129.4 138.0h0.8M132.5 143.3h0.8M109.9 139.7h0.8M122.4 141.1h0.8M123.3 139.9h0.8M115.7 146.9h0.8M116.2 145.7h0.8M129.4 143.9h0.8M120.4 149.0h0.8M120.1 148.2h0.8M110.1 141.5h0.8M125.2 135.7h0.8M131.0 136.1h0.8M124.1 137.7h0.8M132.6 143.4h0.8M129.4 142.5h0.8M126.1 145.1h0.8M116.2 138.2h0.8M130.4 137.2h0.8M132.4 138.1h0.8M73.0 155.4h0.8M98.5 185.5h0.8M84.7 175.2h0.8M78.9 183.9h0.8M94.9 157.5h0.8M71.4 176.5h0.8M70.8 181.4h0.8M80.2 160.2h0.8M91.0 163.2h0.8M90.2 157.4h0.8M103.3 163.4h0.8M100.7 157.3h0.8M99.1 186.5h0.8M83.9 153.2h0.8M83.4 174.6h0.8M77.6 171.2h0.8M72.8 168.3h0.8M96.4 167.1h0.8M136.4 111.1h0.8M142.5 111.3h0.8M146.4 134.9h0.8M147.1 122.2h0.8M120.5 117.4h0.8M139.3 121.4h0.8" stroke="#444" stroke-opacity="0.38" stroke-width="0.8" fill="none" filter="url(#b0)"/>
<rect x="67.7" y="104.6" width="84.6" height="84.6" fill="none" stroke="#505050" stroke-width="0.9"/><line x1="108.2" y1="104.6" x2="108.2" y2="189.2" stroke="#505050" stroke-width="0.85"/><line x1="67.7" y1="150.8" x2="152.3" y2="150.8" stroke="#505050" stroke-width="0.85"/><path d="M67.7 104.6h-1.2M67.7 106.8h-1.2M67.7 109.1h-1.2M67.7 111.3h-1.2M67.7 113.5h-1.2M67.7 115.7h-1.2M67.7 118.0h-1.2M67.7 120.2h-1.2M67.7 122.4h-1.2M67.7 124.6h-1.2M67.7 126.9h-1.2M67.7 129.1h-1.2M67.7 131.3h-1.2M67.7 133.5h-1.2M67.7 135.8h-1.2M67.7 138.0h-1.2M67.7 140.2h-1.2M67.7 142.4h-1.2M67.7 144.7h-1.2M67.7 146.9h-1.2M67.7 149.1h-1.2M67.7 151.4h-1.2M67.7 153.6h-1.2M67.7 155.8h-1.2M67.7 158.0h-1.2M67.7 160.3h-1.2M67.7 162.5h-1.2M67.7 164.7h-1.2M67.7 166.9h-1.2M67.7 169.2h-1.2M67.7 171.4h-1.2M67.7 173.6h-1.2M67.7 175.8h-1.2M67.7 178.1h-1.2M67.7 180.3h-1.2M67.7 182.5h-1.2M67.7 184.7h-1.2M67.7 187.0h-1.2M67.7 189.2h-1.2M67.7 189.2v1.2M69.9 189.2v1.2M72.2 189.2v1.2M74.4 189.2v1.2M76.6 189.2v1.2M78.8 189.2v1.2M81.1 189.2v1.2M83.3 189.2v1.2M85.5 189.2v1.2M87.7 189.2v1.2M90.0 189.2v1.2M92.2 189.2v1.2M94.4 189.2v1.2M96.6 189.2v1.2M98.9 189.2v1.2M101.1 189.2v1.2M103.3 189.2v1.2M105.5 189.2v1.2M107.8 189.2v1.2M110.0 189.2v1.2M112.2 189.2v1.2M114.5 189.2v1.2M116.7 189.2v1.2M118.9 189.2v1.2M121.1 189.2v1.2M123.4 189.2v1.2M125.6 189.2v1.2M127.8 189.2v1.2M130.0 189.2v1.2M132.3 189.2v1.2M134.5 189.2v1.2M136.7 189.2v1.2M138.9 189.2v1.2M141.2 189.2v1.2M143.4 189.2v1.2M145.6 189.2v1.2M147.8 189.2v1.2M150.1 189.2v1.2M152.3 189.2v1.2" stroke="#555" stroke-width="0.6" fill="none"/><text x="77.0" y="197.2" font-size="3.6" text-anchor="middle" fill="#111" stroke="none">0</text><text x="86.5" y="197.2" font-size="4.1" text-anchor="middle" fill="#000" stroke="none">10<tspan dy="-1.5" font-size="3">2</tspan></text><text x="105.5" y="197.2" font-size="4.1" text-anchor="middle" fill="#000" stroke="none">10<tspan dy="-1.5" font-size="3">3</tspan></text><text x="126.5" y="197.2" font-size="4.1" text-anchor="middle" fill="#000" stroke="none">10<tspan dy="-1.5" font-size="3">4</tspan></text><text x="145.0" y="197.2" font-size="4.1" text-anchor="middle" fill="#000" stroke="none">10<tspan dy="-1.5" font-size="3">5</tspan></text><text x="65.7" y="113.8" font-size="4.1" text-anchor="end" fill="#000" stroke="none">10<tspan dy="-1.5" font-size="3">5</tspan></text><text x="65.7" y="132.3" font-size="4.1" text-anchor="end" fill="#000" stroke="none">10<tspan dy="-1.5" font-size="3">4</tspan></text><text x="65.7" y="152.3" font-size="4.1" text-anchor="end" fill="#000" stroke="none">10<tspan dy="-1.5" font-size="3">3</tspan></text><text x="65.7" y="171.5" font-size="4.1" text-anchor="end" fill="#000" stroke="none">10<tspan dy="-1.5" font-size="3">2</tspan></text><text x="64.7" y="181.2" font-size="3.4" text-anchor="end" fill="#111" stroke="none">0</text><text x="69.7" y="108.9" font-size="4.1" text-anchor="start" fill="#111" stroke="none">0.22</text><text x="150.8" y="108.9" font-size="4.1" text-anchor="end" fill="#111" stroke="none">0.41</text><text x="69.7" y="187.4" font-size="4.1" text-anchor="start" fill="#111" stroke="none">0.33</text><text x="150.8" y="187.4" font-size="4.1" text-anchor="end" fill="#111" stroke="none">98.5</text>
<line x1="48.8" y1="139.0" x2="48.8" y2="109.7" stroke="#111" stroke-width="1.30"/><polygon points="48.8,104.6 51.8,110.2 45.8,110.2" fill="#111"/>
<line x1="48.8" y1="180.0" x2="48.8" y2="208.5" stroke="#111" stroke-width="1.30"/>
<text x="0" y="0" transform="translate(52.0 164.0) rotate(-90)" font-size="8.80" text-anchor="middle" font-weight="normal" fill="#111" textLength="29.5" lengthAdjust="spacingAndGlyphs" >CD45.2</text>
<line x1="62.0" y1="205.3" x2="80.2" y2="205.3" stroke="#111" stroke-width="1.30"/>
<line x1="123.5" y1="205.3" x2="141.5" y2="205.3" stroke="#111" stroke-width="1.30"/><polygon points="146.6,205.3 141.0,208.3 141.0,202.3" fill="#111"/>
<text x="87.9" y="211.3" font-size="8.50" text-anchor="start" font-weight="normal" fill="#111" textLength="28.0" lengthAdjust="spacingAndGlyphs" >CD45.1</text>
<line x1="135.5" y1="216.5" x2="135.5" y2="199.5" stroke="#111" stroke-width="1.30"/><polygon points="135.5,194.4 138.5,200.0 132.5,200.0" fill="#111"/>
<text x="137.0" y="227.9" font-size="8.40" text-anchor="start" font-weight="normal" fill="#111" textLength="34.0" lengthAdjust="spacingAndGlyphs" >Gated on</text>
<text x="137" y="238.6" font-size="8.4" fill="#111" textLength="33.2" lengthAdjust="spacingAndGlyphs">CD45.1<tspan dy="-3.2" font-size="4.8">+</tspan></text>
<line x1="163.0" y1="132.8" x2="209.1" y2="97.6" stroke="#111" stroke-width="1.50"/><polygon points="214.3,93.7 210.4,100.1 207.1,95.8" fill="#111"/>
<line x1="163.0" y1="159.7" x2="208.9" y2="189.8" stroke="#111" stroke-width="1.50"/><polygon points="214.3,193.4 206.9,191.9 210.0,187.3" fill="#111"/>
<text x="170.4" y="93.8" font-size="8.50" text-anchor="start" font-weight="normal" fill="#111" textLength="30.6" lengthAdjust="spacingAndGlyphs" >Pre- cell</text>
<text x="170.4" y="103.5" font-size="8.50" text-anchor="start" font-weight="normal" fill="#111" textLength="29.4" lengthAdjust="spacingAndGlyphs" >injection</text>
<text x="165.0" y="195.4" font-size="8.50" text-anchor="start" font-weight="normal" fill="#111" textLength="31.4" lengthAdjust="spacingAndGlyphs" >Post-cell</text>
<text x="165.0" y="205.1" font-size="8.50" text-anchor="start" font-weight="normal" fill="#111" textLength="29.4" lengthAdjust="spacingAndGlyphs" >injection</text>
<clipPath id="c1"><rect x="242.3" y="15.9" width="88.2" height="88"/></clipPath>
<g clip-path="url(#c1)" filter="url(#b2)" opacity="0.30"><path d="M246 101Q246 69.5 262 69.5L270 69.5V104.4H246Z" fill="#333"/><rect x="270" y="42" width="17.5" height="63" fill="#333"/></g>
<path d="M253.7 50.9h0.9M256.8 47.4h0.9M253.3 53.7h0.9M265.5 56.3h0.9M256.8 43.0h0.9M259.6 54.3h0.9M248.0 50.2h0.9M261.0 69.3h0.9M244.8 65.5h0.9M262.1 59.7h0.9M253.1 60.2h0.9M256.5 48.4h0.9M242.6 69.7h0.9M256.6 69.6h0.9M264.6 54.1h0.9M249.4 53.9h0.9M250.3 67.7h0.9M248.4 56.9h0.9M255.9 58.7h0.9M258.4 67.8h0.9M246.7 65.3h0.9M251.9 69.3h0.9M267.4 43.0h0.9M254.8 62.2h0.9M264.9 66.9h0.9M247.7 52.4h0.9M249.0 64.8h0.9M249.0 68.6h0.9M254.1 69.3h0.9M260.2 39.9h0.9M261.7 55.7h0.9M248.6 52.6h0.9M268.3 57.6h0.9M255.6 65.7h0.9M268.4 46.6h0.9M248.8 53.6h0.9M263.3 66.8h0.9M263.4 65.5h0.9M250.1 64.7h0.9M243.5 69.4h0.9M266.3 62.4h0.9M244.7 58.6h0.9M259.8 59.5h0.9M262.1 54.7h0.9M255.8 43.5h0.9M260.4 66.8h0.9M262.9 59.8h0.9M266.4 62.8h0.9M259.4 55.2h0.9M246.1 56.7h0.9M243.3 55.3h0.9M256.6 63.9h0.9M255.6 62.7h0.9M259.4 68.4h0.9M254.3 65.6h0.9M258.3 58.9h0.9M257.2 62.4h0.9M261.4 59.3h0.9M260.8 68.8h0.9M242.3 50.7h0.9M245.7 64.3h0.9M252.0 71.0h0.9M267.5 63.2h0.9M260.8 57.1h0.9M252.3 60.9h0.9M242.8 66.7h0.9M267.2 69.2h0.9M264.4 68.9h0.9M259.3 63.2h0.9M267.5 59.5h0.9M253.3 52.4h0.9M262.3 68.3h0.9M260.5 55.2h0.9M268.0 49.3h0.9M251.1 70.8h0.9M245.3 43.9h0.9M246.7 66.7h0.9M251.1 68.5h0.9M267.9 64.2h0.9M266.6 62.4h0.9M267.5 70.2h0.9M263.4 47.8h0.9M250.1 60.9h0.9M256.1 46.3h0.9M252.7 66.0h0.9M259.1 68.9h0.9M267.7 62.4h0.9M256.0 63.4h0.9M252.6 58.8h0.9M257.7 52.1h0.9M262.0 57.8h0.9M248.3 58.8h0.9M260.5 57.9h0.9M249.4 68.6h0.9M267.2 70.4h0.9M244.0 57.6h0.9M261.6 63.8h0.9M263.6 69.9h0.9M248.1 70.9h0.9M256.2 49.6h0.9M256.1 48.4h0.9M261.6 61.7h0.9M253.6 57.2h0.9M256.6 68.5h0.9M265.3 61.2h0.9M268.5 45.8h0.9M264.1 67.2h0.9M254.0 58.4h0.9M261.8 62.2h0.9M265.8 56.9h0.9M250.4 44.8h0.9M257.5 61.3h0.9M243.5 59.4h0.9M266.6 60.2h0.9M252.7 65.3h0.9M257.5 63.1h0.9M265.2 63.7h0.9M247.4 65.6h0.9M254.6 63.7h0.9M268.1 66.5h0.9M258.6 68.0h0.9M265.3 47.3h0.9M265.8 65.7h0.9M255.7 65.7h0.9M245.9 68.5h0.9M249.9 69.2h0.9M267.8 45.5h0.9M253.5 70.4h0.9M267.1 68.6h0.9M250.3 68.8h0.9M262.0 55.1h0.9M248.1 58.8h0.9M266.6 57.3h0.9M266.9 60.4h0.9M247.9 68.8h0.9M258.9 58.5h0.9M255.7 51.1h0.9M249.9 51.8h0.9M247.4 47.1h0.9M262.1 61.0h0.9M249.2 67.6h0.9M265.5 63.4h0.9M253.2 67.5h0.9M256.6 59.9h0.9M261.9 53.7h0.9M251.4 56.0h0.9M247.1 66.6h0.9M265.5 47.2h0.9M266.3 50.5h0.9M255.1 51.5h0.9M265.4 64.2h0.9M244.4 70.1h0.9M255.1 67.6h0.9M257.4 57.8h0.9M262.7 52.8h0.9M252.5 58.4h0.9M259.3 60.0h0.9M253.2 66.0h0.9M260.5 71.0h0.9M251.9 59.8h0.9M260.5 64.8h0.9M259.1 58.7h0.9M264.3 60.4h0.9M267.4 67.7h0.9M253.7 53.5h0.9M265.6 65.1h0.9M254.5 64.1h0.9M253.1 40.0h0.9M243.0 39.6h0.9M254.7 56.1h0.9M249.9 43.5h0.9M263.7 63.9h0.9M264.2 58.9h0.9M252.9 62.8h0.9M261.9 66.5h0.9M246.2 67.4h0.9M259.5 65.0h0.9M254.2 68.2h0.9M265.8 70.5h0.9M252.4 63.5h0.9M266.6 41.6h0.9M267.5 70.6h0.9M249.1 50.1h0.9M252.6 62.3h0.9M253.9 66.7h0.9M254.1 70.3h0.9M256.4 58.7h0.9M260.6 49.6h0.9M251.8 47.4h0.9M268.3 62.2h0.9M257.2 55.6h0.9M257.1 68.5h0.9M262.3 61.4h0.9M266.5 59.4h0.9M253.0 60.9h0.9M254.8 43.5h0.9M246.3 66.6h0.9M260.7 65.1h0.9M264.2 68.2h0.9M253.4 65.2h0.9M265.2 50.7h0.9M260.9 55.6h0.9M251.5 56.5h0.9M258.2 55.0h0.9M255.9 69.1h0.9M262.6 44.2h0.9M260.7 60.3h0.9M256.7 58.9h0.9M244.6 67.7h0.9M253.7 51.7h0.9M249.5 66.6h0.9M265.8 64.1h0.9M249.6 68.8h0.9M265.3 48.9h0.9M242.5 55.3h0.9M258.5 54.9h0.9M264.3 70.0h0.9M266.8 70.0h0.9M256.6 70.7h0.9M267.3 70.0h0.9M260.1 59.6h0.9M253.2 70.1h0.9M244.6 46.0h0.9M253.2 56.1h0.9M243.1 70.5h0.9M248.9 68.6h0.9M262.8 70.1h0.9M244.5 43.5h0.9M257.7 50.0h0.9M254.3 68.5h0.9M267.9 64.5h0.9M254.9 56.1h0.9M259.6 60.9h0.9M259.2 62.8h0.9M265.7 60.7h0.9M265.2 59.3h0.9M267.8 70.8h0.9M251.6 59.1h0.9M266.8 63.3h0.9M256.1 48.1h0.9M261.8 63.0h0.9M263.5 69.8h0.9M266.1 57.9h0.9M260.4 46.9h0.9M259.8 63.4h0.9M258.6 64.2h0.9M267.9 68.0h0.9M256.4 59.5h0.9M253.7 55.7h0.9M268.1 43.5h0.9M257.2 60.3h0.9M263.1 66.2h0.9M257.1 52.1h0.9M266.2 67.6h0.9M245.1 64.4h0.9M247.2 66.6h0.9M251.3 67.8h0.9M262.5 54.5h0.9M250.3 69.0h0.9M264.7 42.5h0.9M257.5 59.0h0.9M245.1 57.8h0.9M247.7 69.7h0.9M257.7 57.1h0.9M261.6 59.8h0.9M253.0 53.8h0.9M257.1 66.5h0.9M252.6 68.2h0.9M246.2 61.3h0.9M266.3 64.7h0.9M263.3 56.3h0.9M260.3 50.5h0.9M264.6 61.1h0.9M268.1 70.7h0.9M249.4 70.2h0.9M256.9 70.3h0.9M258.0 66.9h0.9M254.4 64.4h0.9M267.7 59.6h0.9M253.4 70.8h0.9M249.5 57.7h0.9M265.1 51.1h0.9M264.4 56.6h0.9M263.8 60.0h0.9M261.5 47.4h0.9M254.1 68.0h0.9M267.2 69.4h0.9M258.9 57.6h0.9M261.9 58.2h0.9M264.4 62.4h0.9M248.8 67.1h0.9M268.3 66.1h0.9M253.9 65.7h0.9M265.6 66.9h0.9M248.5 65.5h0.9M249.5 62.5h0.9M250.9 59.4h0.9M259.7 48.2h0.9M249.3 70.5h0.9M266.5 54.6h0.9M263.5 62.7h0.9M267.3 58.4h0.9M268.1 60.4h0.9M251.1 57.9h0.9M261.3 65.0h0.9M248.4 53.4h0.9M251.5 57.0h0.9M257.1 65.0h0.9M265.8 65.2h0.9M248.0 43.1h0.9M253.3 64.4h0.9M256.9 63.9h0.9M265.1 70.9h0.9M253.4 64.9h0.9M249.0 63.0h0.9M264.2 63.4h0.9M265.0 68.5h0.9M248.7 62.9h0.9M252.2 70.3h0.9M253.7 63.7h0.9M264.2 67.1h0.9M253.1 69.2h0.9M257.4 65.5h0.9M252.3 51.8h0.9M260.4 49.6h0.9M261.0 68.5h0.9M253.5 47.2h0.9M254.0 43.4h0.9M264.9 68.4h0.9M268.4 68.9h0.9M255.7 68.7h0.9M257.8 63.1h0.9M261.0 55.2h0.9M261.1 68.1h0.9M258.8 57.1h0.9M250.1 62.7h0.9M259.4 69.5h0.9M248.8 59.6h0.9M268.1 62.5h0.9M263.9 38.3h0.9M267.8 68.6h0.9M253.9 65.2h0.9M256.5 65.6h0.9M264.8 69.8h0.9M263.3 60.0h0.9M268.5 56.6h0.9M248.1 69.3h0.9M256.2 60.8h0.9M255.1 68.4h0.9M248.0 50.9h0.9M267.8 65.7h0.9M250.6 59.9h0.9M257.3 57.6h0.9M246.3 47.4h0.9M256.0 60.0h0.9M252.2 63.9h0.9M251.2 62.1h0.9M253.0 61.9h0.9M243.9 54.0h0.9M255.6 67.6h0.9M258.2 55.5h0.9M266.6 58.1h0.9M257.0 62.8h0.9M248.1 69.9h0.9M263.8 59.8h0.9M264.4 70.7h0.9M246.2 54.3h0.9M266.4 69.8h0.9M262.1 70.8h0.9M252.3 65.9h0.9M268.1 58.9h0.9M254.8 51.6h0.9M250.8 52.9h0.9M265.5 68.0h0.9M257.7 53.0h0.9M266.8 67.2h0.9M258.8 68.4h0.9M268.5 54.5h0.9M256.8 70.5h0.9M248.5 66.8h0.9M261.0 68.7h0.9M247.7 62.0h0.9M265.4 46.9h0.9M250.5 70.0h0.9M252.6 62.4h0.9M244.6 66.4h0.9M264.4 70.1h0.9M255.7 62.2h0.9M266.3 63.3h0.9M265.1 67.7h0.9M257.3 70.5h0.9M262.5 55.3h0.9M255.4 53.5h0.9M243.9 59.0h0.9M244.0 65.2h0.9M256.5 66.9h0.9M248.8 65.8h0.9M260.4 46.3h0.9M246.7 65.8h0.9M257.9 68.4h0.9M261.9 61.3h0.9M264.1 61.0h0.9M251.9 68.8h0.9M256.7 54.6h0.9M247.4 62.5h0.9M259.7 58.9h0.9M259.2 58.1h0.9M268.4 61.9h0.9M267.7 51.3h0.9M266.5 57.7h0.9M263.7 64.8h0.9M263.2 63.5h0.9M246.5 70.5h0.9M256.9 56.0h0.9M264.7 54.3h0.9M261.2 62.4h0.9M244.2 59.0h0.9M244.1 62.2h0.9M261.5 67.8h0.9M245.0 58.1h0.9M259.6 71.0h0.9M266.4 63.3h0.9M245.9 41.3h0.9M267.1 62.9h0.9M258.0 67.1h0.9M249.3 61.4h0.9M254.5 62.0h0.9M263.9 65.8h0.9M255.0 66.4h0.9M260.1 70.8h0.9M259.7 53.6h0.9M258.0 65.7h0.9M265.9 60.7h0.9M258.4 46.5h0.9M264.4 70.0h0.9M246.0 64.2h0.9M264.2 59.5h0.9M261.4 57.0h0.9M265.9 46.5h0.9M262.7 65.1h0.9M253.1 56.3h0.9M251.4 68.8h0.9M263.8 59.3h0.9M259.6 59.8h0.9M258.2 70.5h0.9M263.6 63.0h0.9M262.4 58.3h0.9M242.4 66.1h0.9M264.5 52.5h0.9M245.8 47.2h0.9M250.0 65.9h0.9M255.6 65.8h0.9M261.4 55.0h0.9M265.7 63.8h0.9M261.0 42.3h0.9M265.1 55.8h0.9M253.6 53.9h0.9M263.5 61.6h0.9M260.2 59.5h0.9M255.8 70.3h0.9M253.1 62.0h0.9M264.1 62.4h0.9M255.8 49.9h0.9M260.6 58.7h0.9M265.9 58.2h0.9M248.6 65.8h0.9M250.2 56.3h0.9M267.8 56.7h0.9M268.3 67.6h0.9M263.4 70.4h0.9M257.9 69.6h0.9M250.6 58.8h0.9M267.1 44.0h0.9M264.9 67.4h0.9M268.5 69.7h0.9M265.2 69.1h0.9M251.2 52.6h0.9M246.4 63.8h0.9M267.0 57.0h0.9M267.7 63.9h0.9M262.7 55.8h0.9M243.2 56.8h0.9M255.9 63.1h0.9M253.7 54.9h0.9M247.6 57.4h0.9M267.2 50.5h0.9M252.1 65.8h0.9M246.9 60.3h0.9M267.1 67.3h0.9M246.0 52.0h0.9M247.7 69.2h0.9M256.4 53.2h0.9M263.6 64.9h0.9M266.5 70.3h0.9M262.6 44.0h0.9M259.1 69.1h0.9M244.1 67.0h0.9M251.0 70.8h0.9M256.6 59.3h0.9M251.0 65.6h0.9M263.1 50.8h0.9M268.3 68.8h0.9M263.5 59.4h0.9M262.1 56.8h0.9M262.7 69.9h0.9M267.8 51.7h0.9M256.0 69.6h0.9M253.7 68.2h0.9M266.9 64.8h0.9M242.5 54.0h0.9M264.9 47.5h0.9M256.0 56.1h0.9M254.9 59.5h0.9M250.3 68.3h0.9M268.5 69.6h0.9M258.3 53.7h0.9M260.6 60.8h0.9M246.8 66.4h0.9M257.4 60.0h0.9M263.6 54.0h0.9" stroke="#111" stroke-opacity="0.50" stroke-width="0.9" fill="none" filter="url(#b0)"/>
<path d="M261.9 70.9h0.9M256.0 73.7h0.9M266.0 69.3h0.9M249.2 92.8h0.9M264.3 68.8h0.9M258.7 70.8h0.9M261.5 68.9h0.9M249.9 88.0h0.9M268.8 73.7h0.9M259.2 74.3h0.9M248.4 92.8h0.9M245.0 91.3h0.9M254.9 72.4h0.9M259.7 69.8h0.9M266.6 70.1h0.9M246.2 95.6h0.9M246.4 85.2h0.9M261.1 71.7h0.9M249.5 102.4h0.9M248.1 82.4h0.9M248.8 88.1h0.9M260.9 70.7h0.9M247.4 99.7h0.9M248.3 80.3h0.9M247.5 95.9h0.9M261.2 72.5h0.9M266.1 72.0h0.9M261.5 69.6h0.9M245.6 84.3h0.9M251.4 79.6h0.9M262.0 72.9h0.9M250.2 80.9h0.9M250.0 87.1h0.9M261.2 71.4h0.9M267.0 70.1h0.9M246.6 97.1h0.9M265.4 72.8h0.9M252.3 76.2h0.9M256.2 73.0h0.9M249.1 85.6h0.9M260.6 69.9h0.9M249.7 79.3h0.9M257.0 72.5h0.9M250.6 89.8h0.9M264.9 72.8h0.9M253.3 77.4h0.9M257.0 71.6h0.9M257.9 73.8h0.9M251.3 83.0h0.9M259.4 70.4h0.9M266.4 69.3h0.9M249.1 90.9h0.9M261.3 70.3h0.9M244.9 95.1h0.9M247.7 93.6h0.9M249.5 88.2h0.9M252.2 84.1h0.9M246.6 96.3h0.9M247.1 94.2h0.9M247.6 98.1h0.9M249.9 84.4h0.9M249.0 91.8h0.9M259.9 69.7h0.9M249.7 89.6h0.9M248.1 80.4h0.9M257.7 73.7h0.9M263.8 71.2h0.9M253.3 77.5h0.9M248.4 98.1h0.9M249.6 85.7h0.9M249.6 91.6h0.9M257.3 71.1h0.9M261.0 72.3h0.9M255.7 74.3h0.9M255.7 72.2h0.9M265.9 70.1h0.9M249.4 83.2h0.9M248.9 92.2h0.9M249.3 76.5h0.9M247.4 96.1h0.9M246.6 83.5h0.9M253.3 73.4h0.9M251.5 79.7h0.9M259.7 71.1h0.9M254.7 72.3h0.9M265.9 70.1h0.9M259.1 69.3h0.9M247.1 93.7h0.9M252.9 76.3h0.9M253.2 75.1h0.9M248.0 92.8h0.9M257.3 73.5h0.9M248.5 85.3h0.9M261.4 71.6h0.9M254.1 76.0h0.9M246.0 99.5h0.9M262.6 72.2h0.9M248.0 98.5h0.9M247.7 88.2h0.9M248.1 91.1h0.9M262.1 69.9h0.9M247.6 99.8h0.9M250.0 79.9h0.9M253.1 73.4h0.9M247.3 83.9h0.9M250.9 88.3h0.9M261.1 71.3h0.9M269.3 71.9h0.9M245.7 96.2h0.9M255.0 73.6h0.9M246.8 93.8h0.9M247.6 91.4h0.9M250.2 84.5h0.9M247.6 94.6h0.9M258.1 73.0h0.9M268.2 70.3h0.9M257.4 73.4h0.9M249.0 99.3h0.9M253.3 76.4h0.9M244.9 91.3h0.9M249.2 88.4h0.9M250.6 84.5h0.9M250.3 82.2h0.9M248.0 93.3h0.9M270.2 70.0h0.9M250.4 80.3h0.9M246.2 96.1h0.9M247.8 92.6h0.9M263.8 68.2h0.9M265.7 72.1h0.9M249.8 82.3h0.9M248.6 95.7h0.9M252.1 76.8h0.9M261.5 70.1h0.9M248.9 98.5h0.9M246.8 100.1h0.9M261.6 71.6h0.9M247.9 95.4h0.9M250.2 85.9h0.9M248.1 97.4h0.9M250.8 75.1h0.9M251.6 83.3h0.9M246.3 99.4h0.9M254.5 72.9h0.9M253.4 73.1h0.9M249.2 94.3h0.9M247.9 102.7h0.9M246.1 93.0h0.9M259.4 69.9h0.9M250.7 101.9h0.9M260.3 71.7h0.9M248.9 90.6h0.9M256.5 73.1h0.9M265.0 72.1h0.9M247.6 100.1h0.9M267.2 70.4h0.9M260.9 73.0h0.9M248.3 94.1h0.9M267.5 71.4h0.9M252.1 76.3h0.9M251.1 74.2h0.9M249.2 98.7h0.9M248.1 88.9h0.9M260.1 72.9h0.9M259.6 71.7h0.9M254.3 75.8h0.9M249.3 96.4h0.9M250.4 87.3h0.9M262.3 71.0h0.9M247.9 87.6h0.9M244.8 92.7h0.9M259.1 72.1h0.9M247.0 94.8h0.9M249.3 79.5h0.9M251.1 73.4h0.9M258.0 69.9h0.9M261.4 71.2h0.9M255.9 72.6h0.9M264.6 74.4h0.9M249.3 81.4h0.9M247.6 89.3h0.9M244.1 98.7h0.9M256.1 73.4h0.9M263.7 71.4h0.9M248.2 90.9h0.9M247.9 103.4h0.9M264.0 73.4h0.9M260.6 70.4h0.9M252.8 80.1h0.9M247.5 86.9h0.9M251.7 78.2h0.9M249.8 77.3h0.9M263.3 73.0h0.9M256.0 73.5h0.9M247.2 95.1h0.9M247.4 103.0h0.9M268.7 72.5h0.9M254.5 71.6h0.9M257.9 73.4h0.9M247.2 99.4h0.9M250.0 89.7h0.9M251.4 75.0h0.9M255.5 74.0h0.9M248.9 98.7h0.9M248.9 96.3h0.9M266.8 70.3h0.9M258.8 72.6h0.9M246.6 89.4h0.9M249.6 81.6h0.9M264.2 73.5h0.9M248.0 99.3h0.9M262.9 69.6h0.9M249.1 89.4h0.9M265.5 73.0h0.9M251.8 75.9h0.9M250.8 97.4h0.9M247.8 83.4h0.9M248.1 91.8h0.9M264.5 74.0h0.9M248.5 84.9h0.9M259.3 73.0h0.9M251.5 79.6h0.9M259.3 72.9h0.9M258.5 73.0h0.9M246.9 92.8h0.9M251.0 75.2h0.9M246.3 97.1h0.9M249.4 91.5h0.9M245.6 97.0h0.9M248.8 98.4h0.9M247.9 95.3h0.9M248.8 96.8h0.9M251.6 80.5h0.9M248.0 100.6h0.9M254.0 75.0h0.9M264.8 73.5h0.9M250.8 79.7h0.9M262.8 72.0h0.9M249.5 89.2h0.9M258.4 73.5h0.9M249.0 89.5h0.9M251.5 88.4h0.9M250.2 80.9h0.9M253.7 74.3h0.9M249.9 79.5h0.9M246.1 91.3h0.9M255.5 76.4h0.9M266.0 68.6h0.9M249.4 85.0h0.9M245.6 89.9h0.9M247.7 98.3h0.9M250.1 83.1h0.9M255.0 70.9h0.9M249.0 83.8h0.9M266.5 72.8h0.9M252.0 78.9h0.9M267.5 70.6h0.9M262.9 76.6h0.9M250.3 85.1h0.9M247.4 88.1h0.9M255.9 74.2h0.9M247.7 94.4h0.9M252.7 77.4h0.9M251.4 76.8h0.9M250.5 93.3h0.9M248.8 96.2h0.9M252.5 76.5h0.9M248.9 92.8h0.9M247.4 83.4h0.9M256.5 71.5h0.9M249.4 89.3h0.9M248.1 98.9h0.9M247.3 101.8h0.9M268.1 70.2h0.9M252.2 76.7h0.9M253.4 74.3h0.9M247.0 89.3h0.9M262.6 69.5h0.9M250.3 94.4h0.9M252.7 79.1h0.9M248.2 91.6h0.9M250.5 78.4h0.9M256.4 71.5h0.9M254.8 73.7h0.9M249.1 79.0h0.9M255.3 77.6h0.9M259.4 73.2h0.9M267.1 72.6h0.9M267.7 70.7h0.9M255.9 74.3h0.9M259.1 72.8h0.9M247.8 92.5h0.9M246.5 96.3h0.9M244.8 96.5h0.9M250.7 78.7h0.9M250.2 83.9h0.9M247.2 100.0h0.9M250.9 84.8h0.9M260.1 70.0h0.9M256.9 73.1h0.9M258.1 73.1h0.9M258.6 70.0h0.9M262.3 71.0h0.9M245.4 100.4h0.9M248.3 89.6h0.9M247.7 93.8h0.9M247.7 93.6h0.9M268.7 71.3h0.9M266.4 71.2h0.9M247.3 86.7h0.9M248.2 83.5h0.9M248.3 99.5h0.9M246.2 96.0h0.9M248.7 87.9h0.9M247.7 86.6h0.9M265.0 71.2h0.9M247.2 93.5h0.9M256.8 75.5h0.9M261.4 72.6h0.9M247.1 90.8h0.9M259.5 72.3h0.9M253.7 73.8h0.9M247.2 92.7h0.9M253.6 76.1h0.9M247.2 82.7h0.9M247.4 99.2h0.9M247.0 87.2h0.9M253.8 75.2h0.9M247.8 87.0h0.9M248.1 96.9h0.9M260.3 68.2h0.9M259.1 72.7h0.9M258.4 73.6h0.9M249.2 98.1h0.9M250.2 93.7h0.9M250.1 82.2h0.9M249.2 79.5h0.9M254.2 72.7h0.9M248.9 97.4h0.9M250.1 82.6h0.9M247.3 93.2h0.9M256.5 71.9h0.9M252.5 80.7h0.9M254.3 76.5h0.9M253.5 75.3h0.9M268.3 70.9h0.9M249.1 80.6h0.9M247.6 96.2h0.9M250.7 83.2h0.9M248.1 97.3h0.9M248.3 88.2h0.9M248.4 97.2h0.9M251.2 77.9h0.9M247.9 92.5h0.9M249.3 87.4h0.9M268.1 72.0h0.9M259.7 70.8h0.9M251.8 80.6h0.9M246.2 89.3h0.9M257.8 73.4h0.9M268.7 72.8h0.9M248.6 87.7h0.9M250.7 81.2h0.9M261.8 72.2h0.9M257.1 73.3h0.9M250.5 80.9h0.9M254.2 77.2h0.9M255.5 74.0h0.9M249.9 85.2h0.9M247.3 90.8h0.9M248.1 86.5h0.9M249.1 90.8h0.9M255.3 73.5h0.9M250.2 89.6h0.9M267.8 69.0h0.9M260.3 73.5h0.9M249.2 84.3h0.9M249.7 80.5h0.9M250.0 84.2h0.9M265.3 73.9h0.9M256.7 70.8h0.9M248.8 98.2h0.9M248.5 83.8h0.9M259.7 71.1h0.9M248.5 87.3h0.9M250.9 87.6h0.9M248.4 91.8h0.9M257.9 74.0h0.9M250.2 80.8h0.9M246.4 85.8h0.9M251.8 79.9h0.9M249.6 86.6h0.9M245.5 95.5h0.9M249.2 79.3h0.9M262.9 70.6h0.9M246.4 88.3h0.9M257.8 75.6h0.9M246.4 99.2h0.9M256.0 73.3h0.9M251.7 76.8h0.9M249.0 88.1h0.9M260.4 74.3h0.9M267.0 71.8h0.9M257.0 72.8h0.9M247.3 90.2h0.9M246.2 92.9h0.9M256.7 76.6h0.9M266.3 70.3h0.9M249.2 92.6h0.9M259.0 71.3h0.9M265.3 71.6h0.9M252.8 78.1h0.9M263.5 71.1h0.9M252.7 79.1h0.9M258.3 72.4h0.9M247.9 91.6h0.9M250.0 79.5h0.9M246.4 103.1h0.9M257.8 73.5h0.9M251.4 80.9h0.9M264.9 73.1h0.9M256.6 70.9h0.9M255.9 75.7h0.9M268.3 72.4h0.9M250.1 82.6h0.9M259.3 70.9h0.9M246.8 78.0h0.9M248.6 85.8h0.9M248.5 94.0h0.9M252.8 76.3h0.9M248.6 92.4h0.9M247.6 87.7h0.9M246.7 82.1h0.9M251.6 80.0h0.9M247.1 92.4h0.9M249.6 95.0h0.9M266.1 72.0h0.9M248.1 84.7h0.9M250.5 86.6h0.9M254.5 77.3h0.9M255.8 74.4h0.9M263.9 72.2h0.9M246.4 87.8h0.9M257.9 72.5h0.9M250.1 83.6h0.9M251.8 75.4h0.9M264.8 70.9h0.9M249.9 95.4h0.9M261.0 71.8h0.9M248.8 80.8h0.9M263.0 72.8h0.9M264.5 70.2h0.9M247.1 88.2h0.9M259.1 73.1h0.9M246.9 86.9h0.9M250.8 79.5h0.9M261.8 73.3h0.9M247.7 101.0h0.9M260.6 72.4h0.9M247.4 101.2h0.9M259.4 71.3h0.9M251.8 77.6h0.9M264.5 71.7h0.9M258.6 71.4h0.9M249.2 95.8h0.9M252.9 76.3h0.9M247.8 99.2h0.9M255.7 72.8h0.9M248.5 96.1h0.9M256.0 73.7h0.9M266.4 71.8h0.9M248.5 94.1h0.9M268.1 70.4h0.9M248.5 94.6h0.9M258.8 73.3h0.9M256.5 74.1h0.9M258.1 71.0h0.9M262.4 70.7h0.9M251.5 83.3h0.9M264.1 71.1h0.9M246.2 95.2h0.9M248.3 99.1h0.9M253.0 79.4h0.9M248.4 82.0h0.9M254.1 74.7h0.9M268.3 70.5h0.9M247.7 88.4h0.9M265.0 69.1h0.9M262.8 71.4h0.9M248.5 86.5h0.9M254.4 78.1h0.9M249.8 83.4h0.9M249.7 96.9h0.9M247.8 93.2h0.9M263.3 70.6h0.9M267.6 72.5h0.9M247.5 97.6h0.9M260.9 72.2h0.9M247.8 88.3h0.9M245.5 97.3h0.9M247.2 91.2h0.9M251.5 83.8h0.9M266.9 72.0h0.9M260.2 70.1h0.9M259.9 73.4h0.9M251.7 82.6h0.9M247.5 94.7h0.9M265.9 70.7h0.9M246.8 94.8h0.9M248.2 90.3h0.9M252.3 82.2h0.9M265.4 71.7h0.9M249.5 79.1h0.9M249.3 86.2h0.9M248.0 94.9h0.9M246.5 93.4h0.9M249.1 93.7h0.9M259.2 74.7h0.9M249.4 90.8h0.9M267.5 69.4h0.9M251.7 77.4h0.9M249.7 95.9h0.9M255.1 72.8h0.9M251.4 78.3h0.9M266.3 73.1h0.9M250.7 78.3h0.9M246.1 95.8h0.9M247.0 91.1h0.9M257.6 71.8h0.9M261.3 74.0h0.9M268.9 72.6h0.9M265.8 72.4h0.9M249.3 88.0h0.9M247.3 97.9h0.9M253.6 76.8h0.9M250.5 85.1h0.9M252.4 76.6h0.9M247.8 85.1h0.9M267.3 74.9h0.9M249.3 98.8h0.9M247.1 92.5h0.9M260.4 69.7h0.9M267.4 71.2h0.9M256.8 73.1h0.9M250.6 82.8h0.9M253.2 77.4h0.9M262.2 70.0h0.9M247.8 101.7h0.9M263.7 73.4h0.9M249.3 88.7h0.9M249.8 87.1h0.9M258.0 74.5h0.9M269.4 72.7h0.9M248.9 90.7h0.9M258.4 72.9h0.9M266.9 69.8h0.9M247.5 92.8h0.9M249.5 85.2h0.9M248.1 95.9h0.9M252.6 75.8h0.9M248.9 79.0h0.9M249.0 83.5h0.9M246.7 99.4h0.9M258.2 74.8h0.9M249.3 91.8h0.9M247.7 86.6h0.9M246.7 89.5h0.9M246.7 81.8h0.9M252.9 76.5h0.9M247.3 98.4h0.9M252.9 75.0h0.9M251.5 79.0h0.9M247.3 95.8h0.9M264.2 70.0h0.9M248.4 94.4h0.9M261.4 70.9h0.9M254.8 75.9h0.9M250.3 88.2h0.9M255.7 73.0h0.9M252.8 74.8h0.9M247.7 97.4h0.9M247.2 92.3h0.9M246.0 93.7h0.9M248.3 88.9h0.9M246.2 93.0h0.9M249.7 83.2h0.9M254.1 78.0h0.9M246.1 97.1h0.9M247.0 91.6h0.9M259.4 74.6h0.9M259.7 71.7h0.9M251.6 82.1h0.9M252.5 71.7h0.9M247.1 97.2h0.9M247.5 97.0h0.9M251.9 75.6h0.9M254.2 75.1h0.9M249.6 89.2h0.9M249.4 102.5h0.9M262.1 70.9h0.9M262.8 70.8h0.9M248.7 84.8h0.9M245.9 101.8h0.9M267.2 73.9h0.9M260.4 70.4h0.9M265.2 68.7h0.9M252.2 78.9h0.9M249.5 81.7h0.9M249.7 79.0h0.9M246.6 89.3h0.9M248.9 82.6h0.9M250.4 80.9h0.9M256.3 71.7h0.9M249.5 89.9h0.9M248.4 86.4h0.9M256.8 71.8h0.9M257.4 74.2h0.9M248.2 87.1h0.9M257.9 71.4h0.9M248.4 89.3h0.9M253.5 72.3h0.9M249.4 90.1h0.9M249.2 99.7h0.9M257.0 73.5h0.9M247.6 92.0h0.9M259.5 70.0h0.9M248.5 86.9h0.9M258.4 71.6h0.9M261.4 72.0h0.9M249.3 87.6h0.9M247.1 97.6h0.9M260.8 73.8h0.9M263.0 71.8h0.9M258.2 72.5h0.9M263.0 71.9h0.9M252.5 76.6h0.9M248.8 84.6h0.9M248.8 84.1h0.9M254.4 73.2h0.9M246.7 99.0h0.9M249.1 91.2h0.9M264.8 73.2h0.9M251.8 77.4h0.9M247.3 85.8h0.9M251.2 80.1h0.9M247.3 88.5h0.9M267.2 74.0h0.9M248.6 90.2h0.9M252.0 76.9h0.9M260.0 70.6h0.9M254.9 72.5h0.9M246.9 99.8h0.9M253.7 72.8h0.9M249.4 79.6h0.9M247.5 99.2h0.9M250.2 82.4h0.9M249.9 81.6h0.9M248.7 98.1h0.9M248.4 82.7h0.9M252.1 73.0h0.9M246.2 94.0h0.9M249.3 84.6h0.9M262.4 72.4h0.9M252.0 75.3h0.9M248.9 97.4h0.9M246.7 95.1h0.9M247.2 89.5h0.9M245.6 88.4h0.9M248.0 86.2h0.9M253.6 72.8h0.9M249.4 86.2h0.9M250.5 80.6h0.9M258.1 72.9h0.9M266.0 69.4h0.9M249.5 80.2h0.9M246.5 92.3h0.9M247.7 89.6h0.9M253.7 77.2h0.9M247.7 87.6h0.9M249.6 80.1h0.9M247.6 86.5h0.9M253.4 73.9h0.9M245.5 92.7h0.9M251.7 76.1h0.9M252.2 81.6h0.9M255.5 75.5h0.9M250.9 98.6h0.9M256.6 75.5h0.9M248.5 92.3h0.9M248.7 99.9h0.9M260.5 70.0h0.9M263.4 74.2h0.9M249.7 86.9h0.9M249.3 99.4h0.9M248.3 97.2h0.9M250.8 87.9h0.9M264.3 71.4h0.9M259.0 74.6h0.9M260.2 70.6h0.9M249.2 96.7h0.9M253.4 75.2h0.9M253.5 73.9h0.9M250.9 84.9h0.9M248.1 86.7h0.9M247.6 89.4h0.9M248.6 95.0h0.9M247.1 85.3h0.9M247.6 98.1h0.9M262.5 72.2h0.9M248.4 84.4h0.9M248.4 83.7h0.9M263.4 71.6h0.9M260.0 73.8h0.9M248.8 85.5h0.9M247.2 88.3h0.9M247.9 84.6h0.9M252.0 82.6h0.9M248.9 88.9h0.9M252.2 75.7h0.9M258.2 74.5h0.9M258.2 69.5h0.9M248.0 79.6h0.9M248.9 94.0h0.9M251.1 80.3h0.9M262.1 72.0h0.9M247.0 93.1h0.9M248.6 80.6h0.9M250.6 79.5h0.9M265.6 71.7h0.9M257.0 71.4h0.9M248.1 90.8h0.9M257.1 74.6h0.9M252.8 75.6h0.9M246.3 97.0h0.9M245.6 94.1h0.9M249.1 94.8h0.9M247.6 99.9h0.9M249.4 91.3h0.9M247.6 92.0h0.9M249.2 83.2h0.9M247.7 96.7h0.9M250.1 88.4h0.9M259.9 71.8h0.9M247.6 98.5h0.9M264.6 72.1h0.9M249.2 97.8h0.9M247.5 83.3h0.9M260.3 71.7h0.9M250.2 82.9h0.9M252.9 73.6h0.9M252.0 78.8h0.9M263.8 72.1h0.9M263.5 71.4h0.9M251.6 73.3h0.9M250.8 82.0h0.9M256.2 72.2h0.9M252.7 73.1h0.9M246.5 101.0h0.9M252.2 76.9h0.9M254.1 76.3h0.9M246.0 87.4h0.9M247.6 95.9h0.9M267.9 71.7h0.9M249.3 86.6h0.9M249.8 80.2h0.9M249.6 82.3h0.9M247.9 85.2h0.9M266.3 73.0h0.9M259.4 72.9h0.9M248.5 89.6h0.9M250.3 81.4h0.9M249.7 81.3h0.9M246.3 94.6h0.9M266.7 70.7h0.9M251.3 77.7h0.9M250.6 81.7h0.9M252.1 76.2h0.9M266.1 72.1h0.9M257.7 73.3h0.9M247.4 96.0h0.9M247.8 95.4h0.9M248.2 99.1h0.9M248.3 94.2h0.9M248.2 93.1h0.9M247.6 98.8h0.9M264.6 72.3h0.9M263.0 71.8h0.9M253.7 72.4h0.9M247.3 89.4h0.9M249.2 84.3h0.9M248.0 90.3h0.9M248.1 96.3h0.9M249.1 92.5h0.9M250.2 78.5h0.9M250.1 82.9h0.9M270.9 68.7h0.9M266.0 73.8h0.9M254.3 80.3h0.9M254.5 72.9h0.9M248.2 97.4h0.9M247.4 89.6h0.9M249.8 80.9h0.9M255.5 75.1h0.9M253.8 74.1h0.9M249.0 92.8h0.9M247.9 84.5h0.9M256.6 71.5h0.9M250.9 77.2h0.9M268.6 70.8h0.9M265.7 71.8h0.9M247.9 88.8h0.9M267.3 68.9h0.9M248.5 88.3h0.9M246.8 89.6h0.9M262.8 69.8h0.9M248.7 95.5h0.9M247.5 92.8h0.9M247.5 93.8h0.9M260.6 73.8h0.9M248.1 90.6h0.9M245.5 101.9h0.9M249.0 99.2h0.9M249.2 101.1h0.9M249.1 90.6h0.9M253.8 71.9h0.9M246.6 96.7h0.9M253.5 84.9h0.9M248.0 95.7h0.9M257.6 69.9h0.9M251.8 76.7h0.9M250.8 80.6h0.9M247.0 90.2h0.9M256.8 69.6h0.9M266.3 68.6h0.9M250.5 86.3h0.9M245.9 100.1h0.9M263.5 68.6h0.9M266.2 68.9h0.9M250.0 79.5h0.9M244.6 93.8h0.9M246.1 86.2h0.9M249.4 97.9h0.9M255.9 84.5h0.9M250.5 79.0h0.9M249.1 93.7h0.9M247.2 98.3h0.9M245.3 83.7h0.9M251.6 80.3h0.9M252.4 78.6h0.9M247.7 82.3h0.9M249.1 82.5h0.9M269.0 73.2h0.9M248.2 101.4h0.9M251.2 80.1h0.9M268.7 68.7h0.9M254.3 77.1h0.9M247.5 89.5h0.9M249.2 80.1h0.9M252.1 86.1h0.9M258.9 70.9h0.9M257.2 71.3h0.9M262.7 73.6h0.9M253.6 79.2h0.9M262.3 70.5h0.9M250.6 78.3h0.9M256.7 70.8h0.9M253.8 76.9h0.9M258.2 68.5h0.9M244.8 100.9h0.9M260.0 72.3h0.9M248.2 78.7h0.9M256.4 73.2h0.9M249.0 86.9h0.9M262.6 72.3h0.9M260.0 73.8h0.9M247.1 88.9h0.9M251.4 78.7h0.9M267.6 65.7h0.9M245.8 90.5h0.9M249.0 85.0h0.9M252.3 72.3h0.9M247.2 103.3h0.9M268.1 75.1h0.9M244.0 82.6h0.9M247.0 99.9h0.9M246.5 99.0h0.9M255.1 79.7h0.9M253.1 82.9h0.9M261.8 76.9h0.9M260.3 71.7h0.9M263.2 70.5h0.9M258.9 68.9h0.9M263.3 71.3h0.9M263.0 70.6h0.9M253.4 69.6h0.9M251.4 79.1h0.9M254.1 81.6h0.9M263.9 75.0h0.9M257.6 76.7h0.9M258.1 73.1h0.9M248.6 86.6h0.9M261.1 72.5h0.9M249.6 85.3h0.9M247.6 97.3h0.9M256.0 74.9h0.9M256.0 72.4h0.9M251.8 82.4h0.9M248.9 87.4h0.9M255.7 71.1h0.9M246.2 97.2h0.9M248.1 87.6h0.9M247.5 91.8h0.9M251.4 75.1h0.9M267.5 70.4h0.9M252.9 76.0h0.9M250.3 91.8h0.9M259.9 74.1h0.9M265.9 71.5h0.9M263.3 70.1h0.9M245.2 93.2h0.9M264.1 69.7h0.9M250.0 81.7h0.9M254.2 78.6h0.9M259.4 72.2h0.9M250.6 93.8h0.9M256.9 75.1h0.9M250.0 96.9h0.9M249.5 83.8h0.9M255.6 72.9h0.9M248.9 89.3h0.9M249.3 97.4h0.9M246.1 86.7h0.9M266.8 70.3h0.9M249.4 86.1h0.9M248.5 77.9h0.9M266.0 72.3h0.9M251.9 88.1h0.9M250.0 75.9h0.9M247.0 93.0h0.9M252.6 81.8h0.9M249.1 92.9h0.9M249.6 81.7h0.9M248.4 88.7h0.9M250.3 78.2h0.9M245.9 95.5h0.9M252.5 82.8h0.9M251.0 89.5h0.9M254.2 75.0h0.9M253.9 81.3h0.9M252.8 77.8h0.9M248.5 92.6h0.9M257.0 72.6h0.9M249.7 83.4h0.9M251.7 76.2h0.9M251.1 92.6h0.9M250.2 77.8h0.9M249.0 91.3h0.9M243.2 102.5h0.9M258.7 69.9h0.9M247.4 89.5h0.9M254.4 76.1h0.9M254.6 71.0h0.9M249.1 84.9h0.9M266.0 72.0h0.9M249.1 82.6h0.9M248.4 89.5h0.9M257.4 72.4h0.9M259.2 74.6h0.9M256.7 70.3h0.9M256.4 71.4h0.9M247.8 76.3h0.9M247.0 94.8h0.9M245.5 100.3h0.9M253.8 80.3h0.9M247.7 95.1h0.9M247.6 100.0h0.9M252.2 86.1h0.9M248.2 85.6h0.9M251.4 83.2h0.9M268.7 71.5h0.9M249.2 89.8h0.9M268.4 72.1h0.9M253.3 88.4h0.9M248.4 90.7h0.9M249.7 86.5h0.9M245.9 89.4h0.9M244.4 87.5h0.9M253.9 77.2h0.9M257.0 70.7h0.9M251.7 90.7h0.9M257.1 79.0h0.9M267.1 72.2h0.9M243.7 90.1h0.9M245.2 86.2h0.9M246.1 91.3h0.9M269.2 74.6h0.9M247.4 100.8h0.9M246.3 94.7h0.9M262.2 73.4h0.9M263.6 72.6h0.9M253.1 73.2h0.9M243.9 90.2h0.9M253.3 85.5h0.9M242.5 91.2h0.9M250.0 93.1h0.9M256.9 71.8h0.9M269.9 73.7h0.9M255.3 76.1h0.9M249.2 83.0h0.9M262.5 74.1h0.9M250.8 79.3h0.9M253.8 78.5h0.9M249.8 95.4h0.9M254.9 82.1h0.9M269.8 73.1h0.9M256.6 72.6h0.9M262.4 72.5h0.9M260.4 72.1h0.9M265.1 72.0h0.9M251.5 95.4h0.9M250.8 96.2h0.9M253.4 73.5h0.9M249.4 83.5h0.9M256.8 86.1h0.9M251.9 95.7h0.9M260.5 73.7h0.9M249.0 80.3h0.9M251.0 78.2h0.9M261.5 72.3h0.9M244.8 91.9h0.9M253.9 75.5h0.9M252.2 79.3h0.9M246.6 102.5h0.9M247.1 96.4h0.9M260.4 71.8h0.9M255.2 69.6h0.9M248.1 86.8h0.9M248.1 75.5h0.9M245.3 97.7h0.9M261.1 71.4h0.9M250.7 94.6h0.9M255.2 69.3h0.9M245.8 77.3h0.9M252.2 72.0h0.9M250.4 77.2h0.9M245.5 96.9h0.9M247.5 81.9h0.9M246.9 85.4h0.9M267.7 71.5h0.9M254.7 74.5h0.9M251.3 77.7h0.9M251.4 97.0h0.9M246.3 89.4h0.9M251.0 96.2h0.9M247.9 94.5h0.9M257.4 72.0h0.9M249.3 86.9h0.9M264.7 73.5h0.9M267.3 68.7h0.9M251.2 96.5h0.9M248.9 95.3h0.9M254.2 77.7h0.9M255.5 77.4h0.9M249.3 88.5h0.9M258.2 74.0h0.9M246.7 85.6h0.9M250.1 81.1h0.9M253.9 77.8h0.9M265.0 74.1h0.9M244.9 98.4h0.9M253.3 75.4h0.9M246.4 95.5h0.9M244.7 84.8h0.9M250.5 82.3h0.9M248.5 88.1h0.9M243.5 91.9h0.9M248.2 95.4h0.9M246.7 94.2h0.9M256.0 73.7h0.9M249.8 79.3h0.9M250.9 82.2h0.9M264.1 70.7h0.9M248.6 86.1h0.9M261.3 74.2h0.9M248.3 81.3h0.9M245.9 96.7h0.9M254.7 78.2h0.9M251.1 83.5h0.9M249.1 89.6h0.9M248.5 89.1h0.9M245.9 92.6h0.9M257.8 67.2h0.9M254.6 74.8h0.9M247.6 97.1h0.9M258.7 70.3h0.9M251.8 90.5h0.9M254.8 88.5h0.9M248.7 89.4h0.9M251.0 78.1h0.9M249.5 89.4h0.9M263.3 71.1h0.9M254.7 75.5h0.9M248.3 97.6h0.9M252.1 77.0h0.9M251.1 81.9h0.9M245.4 91.8h0.9M252.5 83.7h0.9M248.4 98.2h0.9M247.7 79.8h0.9M258.9 71.3h0.9M247.8 99.3h0.9M250.4 90.1h0.9M260.4 73.2h0.9M261.6 70.5h0.9M255.9 71.4h0.9M246.6 93.0h0.9M248.9 97.6h0.9M245.5 97.9h0.9M247.9 80.2h0.9M245.1 102.3h0.9M266.1 69.6h0.9M251.6 75.5h0.9M247.6 97.4h0.9M262.1 73.6h0.9M253.9 80.5h0.9M261.0 67.0h0.9M250.8 90.7h0.9M254.1 75.0h0.9M249.0 92.5h0.9M259.2 73.3h0.9M250.4 74.6h0.9M247.8 83.9h0.9M262.7 68.5h0.9M248.0 90.4h0.9M259.5 72.5h0.9M248.4 92.8h0.9M257.4 71.0h0.9M248.5 79.9h0.9M248.6 97.0h0.9M246.2 92.5h0.9M258.2 66.6h0.9M249.3 99.3h0.9M260.6 74.2h0.9M260.2 74.4h0.9M264.2 69.1h0.9M249.1 86.6h0.9M258.3 70.0h0.9M253.0 73.1h0.9M251.2 83.2h0.9M245.9 80.4h0.9M251.1 78.6h0.9M263.5 68.8h0.9M263.2 73.2h0.9M257.4 71.1h0.9M267.9 70.6h0.9M250.3 97.5h0.9M248.3 89.9h0.9M251.3 95.7h0.9M249.7 78.3h0.9M249.1 81.2h0.9M266.0 67.0h0.9M249.1 99.7h0.9M262.9 71.1h0.9M249.7 92.1h0.9M245.7 98.7h0.9M251.9 72.7h0.9M248.0 84.9h0.9M253.9 73.6h0.9M250.7 89.6h0.9M254.8 79.8h0.9M265.8 68.1h0.9M251.1 82.0h0.9M258.4 72.6h0.9M246.3 102.9h0.9M255.9 79.2h0.9M250.3 85.6h0.9M251.0 93.5h0.9M252.7 75.8h0.9M250.4 71.6h0.9M267.5 72.7h0.9M262.9 69.9h0.9M253.6 91.3h0.9M246.1 89.2h0.9M257.1 74.7h0.9M263.0 75.7h0.9M242.8 103.5h0.9M246.0 92.6h0.9M247.1 87.9h0.9M248.4 96.9h0.9M254.9 74.5h0.9M251.8 98.0h0.9M251.5 75.8h0.9M263.5 71.0h0.9M254.3 78.7h0.9M255.9 72.0h0.9M252.4 76.4h0.9M265.2 71.9h0.9M268.9 91.8h0.9M268.2 86.8h0.9M267.8 91.0h0.9M267.8 74.5h0.9M268.4 78.7h0.9M267.9 100.3h0.9M267.2 95.7h0.9M267.3 72.8h0.9M268.4 90.7h0.9M267.7 74.0h0.9M265.7 80.0h0.9M267.5 83.2h0.9M266.8 77.9h0.9M268.0 81.9h0.9M267.2 74.6h0.9M268.9 102.2h0.9M267.6 93.7h0.9M267.9 90.7h0.9M267.4 86.1h0.9M268.2 86.4h0.9M269.9 88.0h0.9M267.6 90.3h0.9M267.8 91.6h0.9M268.6 94.1h0.9M266.8 102.5h0.9M268.1 100.4h0.9M268.5 103.8h0.9M267.8 86.1h0.9M267.8 101.7h0.9M268.7 74.5h0.9M266.7 72.7h0.9M268.4 77.8h0.9M267.2 103.6h0.9M267.7 90.7h0.9M267.9 72.8h0.9M267.6 100.2h0.9M266.7 80.6h0.9M268.0 74.7h0.9M267.1 89.2h0.9M269.4 102.8h0.9M267.7 95.1h0.9M268.4 72.1h0.9M267.6 92.8h0.9M267.7 101.4h0.9M267.7 83.1h0.9M269.1 102.5h0.9M267.5 72.3h0.9M268.4 93.9h0.9M267.9 97.4h0.9M268.7 73.7h0.9M268.0 90.1h0.9M267.8 75.9h0.9M266.7 104.2h0.9M265.8 96.5h0.9M269.7 95.9h0.9M267.9 74.1h0.9M266.5 84.4h0.9M267.5 74.1h0.9M266.6 103.9h0.9M267.9 87.9h0.9M267.8 84.0h0.9M267.3 101.9h0.9M267.1 95.2h0.9M268.2 90.3h0.9M268.0 82.1h0.9M267.7 93.8h0.9M267.6 77.1h0.9M268.0 92.8h0.9M267.8 85.1h0.9M266.6 98.3h0.9M267.8 78.5h0.9M267.5 74.8h0.9M268.7 86.9h0.9M266.6 91.7h0.9M270.1 83.7h0.9M268.1 97.6h0.9M267.6 78.8h0.9M267.8 72.6h0.9M267.4 80.7h0.9M267.8 72.7h0.9M267.2 82.8h0.9M269.4 82.6h0.9M267.8 95.6h0.9M268.6 78.9h0.9M268.6 77.0h0.9M266.8 75.9h0.9M267.4 76.8h0.9M267.1 92.7h0.9M268.0 84.2h0.9M269.0 97.5h0.9M267.9 73.9h0.9M268.3 84.6h0.9M268.2 97.5h0.9M267.8 103.0h0.9M267.9 94.3h0.9M268.0 74.7h0.9M267.7 77.5h0.9M266.3 92.1h0.9M268.1 97.0h0.9M267.9 77.9h0.9M266.9 75.8h0.9M268.3 93.3h0.9M267.7 90.9h0.9M266.9 74.6h0.9M267.9 74.0h0.9M267.1 90.7h0.9M267.2 102.8h0.9M269.1 87.3h0.9M266.6 96.3h0.9M269.9 91.9h0.9M268.1 97.3h0.9M268.0 87.5h0.9M267.6 78.2h0.9M267.5 84.4h0.9M269.3 103.7h0.9M267.4 79.6h0.9M267.1 102.3h0.9M266.9 73.0h0.9M268.6 82.4h0.9M268.3 75.0h0.9M266.9 83.1h0.9M268.0 84.5h0.9M268.5 89.8h0.9M267.3 84.5h0.9M267.9 87.7h0.9M268.1 77.0h0.9M266.3 86.2h0.9M266.0 85.1h0.9M266.6 91.7h0.9M269.8 83.2h0.9M267.6 89.0h0.9M267.0 96.7h0.9M268.5 80.7h0.9M268.3 80.5h0.9M265.6 80.9h0.9M268.2 77.1h0.9M266.6 75.1h0.9M268.0 94.4h0.9M266.9 101.6h0.9M268.6 86.5h0.9M268.4 81.0h0.9M268.7 75.0h0.9M268.1 90.0h0.9M267.5 87.4h0.9M269.0 79.8h0.9M266.6 87.3h0.9M267.6 102.4h0.9M268.2 100.4h0.9M266.8 76.3h0.9M267.4 86.8h0.9M267.2 94.8h0.9M269.5 98.0h0.9M268.6 103.9h0.9M267.8 87.7h0.9M268.5 101.7h0.9M268.5 102.4h0.9M266.9 75.6h0.9M268.1 97.7h0.9M268.9 103.6h0.9M267.9 74.2h0.9M268.1 103.2h0.9M268.2 79.4h0.9M266.2 75.8h0.9M267.8 83.1h0.9M267.5 88.4h0.9M267.2 90.8h0.9M267.7 98.2h0.9M268.4 75.6h0.9M269.9 92.0h0.9M268.9 100.7h0.9M265.2 96.8h0.9M268.3 91.5h0.9M267.0 75.4h0.9M268.0 99.5h0.9M267.8 103.8h0.9M268.9 100.6h0.9M266.8 100.3h0.9M267.0 71.5h0.9M267.5 96.6h0.9M267.7 78.9h0.9M267.8 76.8h0.9M266.6 91.1h0.9M267.9 91.6h0.9M267.3 100.0h0.9M269.0 90.4h0.9M267.2 77.5h0.9M267.8 87.0h0.9M267.4 89.2h0.9M266.7 98.5h0.9M267.8 82.2h0.9M268.1 90.4h0.9M267.5 88.5h0.9M269.4 97.7h0.9M268.9 80.4h0.9M268.6 71.8h0.9M266.7 83.2h0.9M266.9 78.2h0.9M267.5 93.6h0.9M267.8 79.1h0.9M266.2 91.7h0.9M268.6 89.3h0.9M267.7 89.4h0.9M267.8 102.0h0.9M268.2 84.4h0.9M266.0 88.6h0.9M268.0 96.5h0.9M266.9 93.8h0.9M268.7 88.2h0.9M267.7 98.6h0.9M268.7 75.4h0.9M267.4 75.5h0.9M267.0 98.5h0.9M266.4 75.1h0.9M268.8 84.2h0.9M268.1 94.6h0.9M268.9 89.5h0.9M268.7 100.7h0.9M267.6 78.2h0.9M269.0 87.2h0.9M269.0 91.9h0.9M268.5 73.7h0.9M267.5 102.0h0.9M268.9 96.6h0.9M268.6 88.7h0.9M267.2 81.4h0.9M267.7 87.5h0.9M267.9 95.3h0.9M267.7 87.2h0.9M268.5 80.6h0.9M267.7 97.0h0.9M268.8 86.5h0.9M267.5 72.5h0.9M267.4 86.6h0.9M267.7 77.5h0.9M268.5 81.1h0.9M267.6 87.5h0.9M267.7 84.2h0.9M270.4 83.9h0.9M267.6 100.7h0.9M267.6 100.8h0.9M266.8 92.0h0.9M268.4 79.7h0.9M268.2 95.7h0.9M267.6 85.4h0.9M267.5 99.2h0.9M268.1 89.2h0.9M267.5 82.5h0.9M267.8 88.5h0.9M266.8 95.0h0.9M268.5 100.7h0.9M268.4 88.9h0.9M265.8 74.4h0.9M267.4 96.9h0.9M269.3 102.3h0.9M269.6 100.2h0.9M267.2 93.2h0.9M266.3 91.2h0.9M267.8 100.7h0.9M267.2 96.0h0.9M269.4 75.2h0.9M265.7 84.0h0.9M267.7 78.0h0.9M267.8 89.5h0.9M269.3 96.0h0.9M269.1 96.9h0.9M268.5 88.2h0.9M267.6 91.7h0.9M267.1 84.2h0.9M267.2 99.5h0.9M268.5 74.2h0.9M268.6 74.2h0.9M268.5 83.6h0.9M267.0 92.5h0.9M267.7 103.6h0.9M268.1 87.7h0.9M268.1 87.4h0.9M268.2 73.7h0.9M269.0 100.6h0.9M267.8 77.5h0.9M267.1 96.5h0.9M267.2 84.8h0.9M268.0 102.9h0.9M267.1 90.6h0.9M267.5 72.6h0.9M267.6 102.5h0.9M267.2 82.0h0.9M266.8 94.1h0.9M266.9 81.6h0.9M267.4 94.3h0.9M268.2 75.0h0.9M268.3 79.0h0.9M268.3 82.6h0.9M268.0 80.3h0.9M267.3 93.5h0.9M267.5 97.2h0.9M267.4 90.7h0.9M266.6 76.4h0.9M267.6 83.7h0.9M268.4 96.2h0.9M267.2 83.9h0.9" stroke="#111" stroke-opacity="0.62" stroke-width="0.9" fill="none" filter="url(#b0)"/>
<path d="M276.8 63.4h0.9M284.3 60.0h0.9M286.4 76.9h0.9M284.1 75.5h0.9M277.6 78.0h0.9M280.6 61.0h0.9M287.0 61.4h0.9M275.2 66.4h0.9M273.6 68.6h0.9M277.8 68.7h0.9M283.3 72.6h0.9M274.7 77.3h0.9M283.7 101.6h0.9M277.9 76.5h0.9M281.2 103.5h0.9M281.2 84.7h0.9M270.9 72.3h0.9M284.5 68.2h0.9M271.1 75.3h0.9M282.6 82.9h0.9M282.2 76.8h0.9M276.6 98.2h0.9M272.8 70.7h0.9M284.3 90.1h0.9M273.5 101.3h0.9M284.5 85.1h0.9M273.5 75.1h0.9M275.0 69.3h0.9M271.5 87.7h0.9M278.1 98.2h0.9M283.7 60.7h0.9M284.0 60.0h0.9M282.9 98.1h0.9M285.8 63.8h0.9M284.5 94.8h0.9M279.9 79.2h0.9M276.8 74.0h0.9M282.3 75.8h0.9M274.3 81.9h0.9M275.8 78.3h0.9M275.2 75.4h0.9M274.9 65.9h0.9M285.7 93.3h0.9M286.2 77.6h0.9M271.1 77.5h0.9M271.0 79.2h0.9M273.4 84.2h0.9M286.8 74.0h0.9M270.6 68.2h0.9M269.5 65.0h0.9M277.9 99.7h0.9M271.0 66.4h0.9M287.5 92.8h0.9M275.8 79.2h0.9M274.6 66.8h0.9M276.4 90.1h0.9M271.5 60.1h0.9M284.1 83.1h0.9M278.3 83.7h0.9M277.7 100.7h0.9M286.4 90.3h0.9M272.9 88.8h0.9M277.9 66.6h0.9M280.8 88.7h0.9M274.7 69.3h0.9M286.5 98.2h0.9M274.9 85.7h0.9M271.1 68.8h0.9M280.7 102.2h0.9M271.8 81.2h0.9M270.0 76.7h0.9M277.2 67.9h0.9M283.5 82.3h0.9M282.0 93.4h0.9M276.2 100.3h0.9M283.7 80.2h0.9M274.1 101.3h0.9M275.3 62.6h0.9M284.7 62.2h0.9M274.8 61.3h0.9M285.1 91.5h0.9M274.3 86.4h0.9M278.4 81.8h0.9M273.2 86.0h0.9M274.9 81.8h0.9M281.3 65.0h0.9M270.5 83.7h0.9M284.6 60.8h0.9M274.9 101.8h0.9M272.1 89.3h0.9M284.4 80.9h0.9M280.3 69.8h0.9M271.0 70.4h0.9M272.4 78.2h0.9M280.4 84.1h0.9M280.7 80.6h0.9M272.1 72.0h0.9M286.2 98.5h0.9M286.0 74.5h0.9M277.1 101.9h0.9M276.1 61.0h0.9M286.5 78.4h0.9M286.0 101.1h0.9M284.3 92.6h0.9M281.4 90.2h0.9M275.5 79.9h0.9M271.4 66.7h0.9M269.7 94.7h0.9M274.6 71.0h0.9M280.5 91.3h0.9M282.6 85.1h0.9M282.9 93.5h0.9M275.9 65.1h0.9M272.5 100.5h0.9M272.3 90.5h0.9M276.1 79.2h0.9M279.0 89.1h0.9M278.6 75.2h0.9M279.5 90.5h0.9M282.3 98.8h0.9M282.3 98.8h0.9M284.6 72.2h0.9M280.5 71.3h0.9M286.0 71.1h0.9M279.2 91.4h0.9M270.3 94.2h0.9M275.4 100.4h0.9M283.6 64.0h0.9M283.4 90.0h0.9M282.2 61.2h0.9M270.2 70.6h0.9M278.6 64.2h0.9M272.0 74.7h0.9M271.5 95.2h0.9M273.1 99.1h0.9M286.9 73.5h0.9M276.8 94.9h0.9M269.7 86.2h0.9M278.8 77.7h0.9M272.3 80.8h0.9M285.4 94.4h0.9M283.9 83.8h0.9M273.9 93.8h0.9M283.8 71.3h0.9M285.1 67.3h0.9M274.8 72.0h0.9M283.8 88.0h0.9M282.0 95.5h0.9M285.4 82.8h0.9M285.3 69.4h0.9M282.5 60.7h0.9M279.4 79.7h0.9M284.8 65.0h0.9M274.6 63.7h0.9M271.8 80.1h0.9M273.3 79.4h0.9M281.9 65.7h0.9M276.3 63.6h0.9M280.9 75.8h0.9M284.5 62.7h0.9M279.2 76.8h0.9M280.3 65.2h0.9M277.1 103.7h0.9M286.3 85.5h0.9M269.5 100.9h0.9M281.2 63.2h0.9M277.4 66.0h0.9M274.0 99.5h0.9M279.7 79.5h0.9M276.0 82.5h0.9M275.7 64.8h0.9M274.6 90.2h0.9M272.3 102.6h0.9M271.0 97.9h0.9M280.7 102.1h0.9M272.0 60.5h0.9M278.0 84.2h0.9M270.7 63.1h0.9M270.3 85.9h0.9M273.6 74.1h0.9M274.9 69.8h0.9M280.3 84.6h0.9M274.6 61.2h0.9M275.2 69.2h0.9M270.3 83.8h0.9M285.4 93.3h0.9M283.2 63.6h0.9M271.6 78.6h0.9M275.0 62.3h0.9M271.1 70.7h0.9M271.0 69.9h0.9M271.4 97.7h0.9M283.6 65.6h0.9M279.0 70.3h0.9M277.4 71.4h0.9M283.5 96.1h0.9M269.7 61.0h0.9M270.1 87.2h0.9M283.7 60.9h0.9M273.6 103.8h0.9M279.0 97.2h0.9M287.3 72.9h0.9M274.6 76.1h0.9M283.2 103.3h0.9M282.1 97.5h0.9M277.0 68.7h0.9M278.1 96.4h0.9M280.5 92.7h0.9M274.4 63.7h0.9M277.0 68.8h0.9M275.3 65.5h0.9M272.3 69.5h0.9M285.0 101.1h0.9M284.1 87.6h0.9M286.1 89.4h0.9M286.7 80.0h0.9M269.6 91.7h0.9M285.6 102.6h0.9M273.1 85.1h0.9M271.3 63.2h0.9M277.6 68.6h0.9M283.4 96.5h0.9M283.3 94.9h0.9M275.3 85.2h0.9M274.0 75.7h0.9M280.5 65.0h0.9M272.9 65.1h0.9M275.5 102.0h0.9M280.3 81.2h0.9M284.4 68.3h0.9M274.4 68.2h0.9M284.0 100.9h0.9M272.7 67.7h0.9M276.3 98.7h0.9M278.5 87.4h0.9M276.3 79.3h0.9M275.1 85.0h0.9M274.3 63.2h0.9M272.3 60.2h0.9M282.9 101.0h0.9M283.6 97.3h0.9M270.1 72.0h0.9M277.5 85.1h0.9M273.5 61.0h0.9M271.6 70.2h0.9M285.0 70.0h0.9M280.1 61.8h0.9M284.2 70.5h0.9M282.8 84.6h0.9M278.9 89.2h0.9M283.0 92.8h0.9M277.4 66.4h0.9M274.9 84.6h0.9M275.2 66.5h0.9M273.1 96.0h0.9M279.8 74.5h0.9M282.1 62.6h0.9M273.7 68.2h0.9M276.6 62.5h0.9M284.0 77.0h0.9M280.8 60.1h0.9M280.5 70.7h0.9M277.6 103.3h0.9M270.0 88.4h0.9M284.8 64.8h0.9M278.2 72.2h0.9M272.0 61.9h0.9M271.9 61.3h0.9M282.4 88.3h0.9M284.3 62.0h0.9M286.6 62.3h0.9M278.3 75.4h0.9M284.9 94.6h0.9M277.1 84.4h0.9M279.9 74.0h0.9M279.0 70.3h0.9M283.8 81.8h0.9M279.5 90.2h0.9M285.8 77.9h0.9M279.0 93.3h0.9M272.8 81.4h0.9M277.4 65.6h0.9M276.2 99.2h0.9M274.6 87.9h0.9M269.5 79.3h0.9M284.3 102.3h0.9M278.9 76.7h0.9M284.5 79.1h0.9M283.4 98.1h0.9M279.2 64.4h0.9M273.0 93.8h0.9M285.1 76.5h0.9M271.4 101.4h0.9M274.3 86.3h0.9M273.3 102.7h0.9M271.0 77.2h0.9M284.3 79.9h0.9M272.0 94.9h0.9M276.1 70.1h0.9M280.9 77.3h0.9M275.4 90.9h0.9M278.3 93.7h0.9M271.8 89.6h0.9M280.6 99.7h0.9M278.8 79.8h0.9M275.5 70.5h0.9M284.6 92.5h0.9M284.5 103.2h0.9M284.0 90.4h0.9M273.7 60.0h0.9M285.2 92.1h0.9M271.1 68.1h0.9M279.5 101.8h0.9M270.7 66.6h0.9M284.3 78.8h0.9M270.1 101.0h0.9M273.1 81.3h0.9M278.4 91.5h0.9M284.1 74.3h0.9M286.0 92.4h0.9M284.1 78.5h0.9M279.1 97.1h0.9M282.5 100.4h0.9M277.9 70.9h0.9M275.2 69.4h0.9M279.9 92.3h0.9M279.2 80.9h0.9M275.2 74.6h0.9M277.6 84.0h0.9M275.3 86.7h0.9M277.7 80.1h0.9M278.3 75.2h0.9M286.9 74.7h0.9M277.1 89.0h0.9M279.2 64.6h0.9M281.4 60.1h0.9M274.6 92.5h0.9M270.3 67.0h0.9M287.0 84.4h0.9M281.7 75.5h0.9M272.7 77.4h0.9M281.9 101.5h0.9M278.7 87.9h0.9M276.0 71.7h0.9M275.2 81.8h0.9M279.7 102.6h0.9M273.4 77.8h0.9M285.2 62.6h0.9M273.8 94.1h0.9M284.4 75.2h0.9M274.2 100.8h0.9M276.7 73.3h0.9M283.5 83.3h0.9M274.8 85.7h0.9M282.7 101.9h0.9M278.0 85.6h0.9M286.5 69.4h0.9M282.2 92.7h0.9M271.7 90.2h0.9M284.6 60.8h0.9M283.8 89.4h0.9M271.1 65.1h0.9M276.5 75.9h0.9M284.0 102.9h0.9M273.3 83.7h0.9M282.7 90.4h0.9M286.3 62.4h0.9M279.9 87.2h0.9M284.0 93.3h0.9M286.6 78.2h0.9M273.7 76.4h0.9M270.1 66.2h0.9M279.0 81.1h0.9M286.3 87.8h0.9M276.8 97.4h0.9M282.5 65.3h0.9M284.0 81.9h0.9M279.0 99.4h0.9M280.3 61.0h0.9M280.9 60.2h0.9M269.8 62.7h0.9M283.5 74.2h0.9M274.5 70.0h0.9M274.5 100.0h0.9M273.7 87.3h0.9M271.0 77.0h0.9M284.1 70.5h0.9M281.9 78.3h0.9M279.3 64.7h0.9M272.4 61.4h0.9M284.9 99.3h0.9M275.8 74.9h0.9M275.0 80.5h0.9M274.5 65.9h0.9M281.4 60.2h0.9M285.0 86.0h0.9M272.2 99.3h0.9M285.5 88.8h0.9M282.5 71.9h0.9M281.0 94.0h0.9M283.3 83.8h0.9M271.2 83.0h0.9M281.0 94.7h0.9M277.4 87.3h0.9M275.9 62.4h0.9M273.6 90.8h0.9M285.3 62.6h0.9M275.7 75.0h0.9M284.8 80.0h0.9M271.6 84.4h0.9M271.7 74.8h0.9M276.6 100.5h0.9M283.3 99.4h0.9M276.3 87.3h0.9M274.0 100.0h0.9M278.6 80.1h0.9M283.1 72.3h0.9M277.0 62.4h0.9M271.6 89.2h0.9M275.4 69.6h0.9M273.7 98.8h0.9M280.5 67.5h0.9M269.5 103.6h0.9M283.7 94.4h0.9M273.1 88.5h0.9M272.2 62.5h0.9M286.3 74.4h0.9M275.0 91.5h0.9M277.4 98.6h0.9M274.7 65.1h0.9M283.0 70.0h0.9M278.9 84.9h0.9M279.9 84.5h0.9M276.2 67.1h0.9M284.5 70.0h0.9M276.6 67.9h0.9M270.1 92.6h0.9M274.6 82.3h0.9M280.1 80.8h0.9M275.6 94.0h0.9M280.0 61.6h0.9M277.3 62.0h0.9M284.6 64.9h0.9M273.8 83.1h0.9M274.3 80.0h0.9M286.8 80.2h0.9M283.1 67.2h0.9M283.7 100.4h0.9M280.6 99.2h0.9M276.5 76.2h0.9M284.1 90.5h0.9M274.5 72.7h0.9M278.0 69.8h0.9M284.3 68.4h0.9M279.2 62.4h0.9M273.2 97.6h0.9M278.5 80.5h0.9M285.0 101.4h0.9M281.3 98.4h0.9M277.4 64.8h0.9M275.2 69.3h0.9M274.8 81.4h0.9M276.9 86.0h0.9M278.6 81.3h0.9M285.9 85.6h0.9M275.0 67.1h0.9M281.3 69.6h0.9M283.6 85.1h0.9M286.8 67.0h0.9M279.3 87.9h0.9M286.0 68.3h0.9M271.7 89.7h0.9M275.2 62.3h0.9M271.8 88.9h0.9M271.6 63.6h0.9M278.7 97.0h0.9M272.8 70.8h0.9M284.6 89.1h0.9M276.6 93.6h0.9M271.4 75.8h0.9M277.8 70.1h0.9M275.7 97.9h0.9M271.1 65.8h0.9M277.5 100.8h0.9M274.4 65.8h0.9M284.8 69.8h0.9M272.7 95.3h0.9M278.3 84.7h0.9M269.9 93.2h0.9M286.0 60.3h0.9M274.1 90.0h0.9M271.6 70.1h0.9M286.5 77.4h0.9M279.1 73.8h0.9M284.3 79.9h0.9M271.4 74.8h0.9M285.0 79.6h0.9M270.4 79.3h0.9M275.5 82.5h0.9M275.8 62.5h0.9M286.3 102.9h0.9M271.9 68.5h0.9M270.1 75.0h0.9M275.5 96.7h0.9M283.5 91.9h0.9M276.3 95.7h0.9M282.7 90.3h0.9M280.8 80.3h0.9M278.2 86.6h0.9M275.6 84.4h0.9M272.6 90.9h0.9M285.6 62.2h0.9M283.2 79.0h0.9M278.4 100.8h0.9M276.1 101.5h0.9M271.2 92.2h0.9M284.1 77.4h0.9M285.1 101.4h0.9M282.5 75.9h0.9M274.3 91.3h0.9M277.9 60.5h0.9M273.0 77.9h0.9M275.1 74.6h0.9M281.7 88.4h0.9M274.6 93.3h0.9M283.4 99.9h0.9M286.7 82.3h0.9M279.5 70.1h0.9M285.3 89.6h0.9M285.4 96.7h0.9M286.8 102.1h0.9M273.3 86.9h0.9M277.2 81.8h0.9M277.1 86.0h0.9M282.4 64.5h0.9M278.3 93.8h0.9M283.0 70.0h0.9M285.1 68.6h0.9M279.6 61.1h0.9M279.4 65.5h0.9M276.6 99.3h0.9M283.2 66.8h0.9M283.2 96.2h0.9M275.1 97.4h0.9M286.3 94.6h0.9M277.3 70.1h0.9M285.1 92.3h0.9M270.6 80.3h0.9M279.3 89.3h0.9M269.5 73.4h0.9M277.2 72.5h0.9M273.4 102.1h0.9M285.9 98.8h0.9M286.3 68.5h0.9M276.1 67.3h0.9M281.3 65.8h0.9M285.0 95.7h0.9M273.1 60.1h0.9M277.6 91.9h0.9M283.9 64.8h0.9M284.4 94.0h0.9M286.5 87.7h0.9M270.2 81.2h0.9M277.5 75.1h0.9M276.2 64.2h0.9M284.8 82.6h0.9M285.6 103.1h0.9M272.0 74.1h0.9M285.5 91.2h0.9M272.6 80.1h0.9M277.6 83.2h0.9M277.0 85.1h0.9M274.9 78.2h0.9M272.3 80.7h0.9M286.5 60.4h0.9M287.2 91.1h0.9M283.0 82.0h0.9M271.4 61.9h0.9M279.6 89.2h0.9M284.4 76.2h0.9M273.4 70.0h0.9M276.9 73.0h0.9M270.2 73.8h0.9M284.1 94.5h0.9M280.9 61.1h0.9M281.7 94.7h0.9M277.1 73.1h0.9M273.2 65.9h0.9M277.5 101.8h0.9M286.1 91.3h0.9M272.2 90.9h0.9M274.8 63.6h0.9M281.3 87.7h0.9M275.8 101.6h0.9M271.5 88.5h0.9M274.2 83.2h0.9M277.7 96.1h0.9M272.4 75.5h0.9M275.6 74.2h0.9M281.3 81.5h0.9M275.4 99.6h0.9M279.7 76.8h0.9M277.5 78.3h0.9M270.5 81.7h0.9M286.4 94.6h0.9M273.3 89.1h0.9M276.9 77.9h0.9M277.0 62.2h0.9M273.8 61.2h0.9M273.1 75.5h0.9M279.7 93.4h0.9M269.6 76.1h0.9M282.1 75.9h0.9M272.3 102.5h0.9M272.0 76.3h0.9M272.9 90.5h0.9M269.7 101.6h0.9M285.4 103.2h0.9M283.6 60.2h0.9M284.0 90.4h0.9M274.4 63.3h0.9M281.3 75.3h0.9M278.7 71.5h0.9M272.5 79.1h0.9M282.0 93.9h0.9M283.3 75.7h0.9M272.7 81.8h0.9M270.6 94.1h0.9M272.5 65.9h0.9M282.4 74.4h0.9M276.0 81.6h0.9M274.7 102.0h0.9M282.3 87.1h0.9M280.9 90.5h0.9M283.9 73.2h0.9M277.9 94.5h0.9M272.5 85.1h0.9M279.4 93.4h0.9M269.9 73.3h0.9M278.1 94.4h0.9M280.3 69.8h0.9M283.2 74.6h0.9M280.7 74.9h0.9M286.6 93.4h0.9M269.8 73.2h0.9M271.1 80.7h0.9M285.5 96.0h0.9M273.3 63.3h0.9M280.0 60.4h0.9M283.3 89.7h0.9M277.9 81.1h0.9M271.9 73.6h0.9M269.8 80.5h0.9M270.6 72.7h0.9M280.6 72.6h0.9M282.4 97.9h0.9M285.6 88.8h0.9M285.4 81.6h0.9M286.5 69.3h0.9M286.7 99.0h0.9M277.9 97.6h0.9M279.1 103.7h0.9M280.2 71.5h0.9M285.4 71.7h0.9M271.5 82.2h0.9M274.9 98.6h0.9M278.1 89.0h0.9M286.8 75.6h0.9M283.4 94.9h0.9M274.4 97.8h0.9M280.4 74.7h0.9M270.7 92.4h0.9M283.5 85.8h0.9M275.3 82.0h0.9M274.2 87.9h0.9M286.4 83.1h0.9M272.7 72.1h0.9M282.4 102.3h0.9M277.0 67.4h0.9M279.7 98.3h0.9M284.6 79.0h0.9M284.7 94.7h0.9M278.1 71.5h0.9M281.7 89.3h0.9M272.0 62.1h0.9M273.0 81.7h0.9M285.5 97.7h0.9M284.0 66.6h0.9M284.3 92.0h0.9M274.9 89.0h0.9M278.5 90.1h0.9M280.2 72.5h0.9M285.5 84.2h0.9M274.9 74.8h0.9M272.3 79.7h0.9M276.6 76.0h0.9M285.7 73.3h0.9M286.8 76.7h0.9M281.9 101.3h0.9M281.3 64.7h0.9M277.8 88.6h0.9M283.0 96.7h0.9M279.1 64.4h0.9M280.1 96.3h0.9M284.2 88.9h0.9M270.7 82.6h0.9M283.7 89.7h0.9M273.4 93.9h0.9M285.3 72.2h0.9M275.9 85.8h0.9M280.9 62.6h0.9M276.0 85.9h0.9M278.5 101.7h0.9M282.9 77.4h0.9M275.6 76.4h0.9M278.5 94.7h0.9M276.8 93.7h0.9M287.5 85.5h0.9M278.9 68.9h0.9M280.5 69.7h0.9M278.6 89.8h0.9M275.6 79.7h0.9M279.0 64.5h0.9M281.5 100.6h0.9M275.6 82.3h0.9M274.3 67.5h0.9M270.5 72.3h0.9M285.6 88.3h0.9M275.4 89.7h0.9M284.9 97.0h0.9M273.8 61.7h0.9M286.8 87.2h0.9M278.5 90.9h0.9M279.1 88.5h0.9M272.4 68.9h0.9M270.6 80.1h0.9M279.5 73.3h0.9M276.9 95.3h0.9M273.6 82.8h0.9M275.1 63.2h0.9M285.7 82.3h0.9M277.9 73.5h0.9M276.1 102.7h0.9M273.1 69.6h0.9M276.6 65.3h0.9M285.7 83.9h0.9M278.6 70.8h0.9M275.0 76.8h0.9M277.0 98.3h0.9M275.2 67.7h0.9M272.5 84.7h0.9M283.0 83.0h0.9M286.9 81.2h0.9M279.5 82.5h0.9M270.2 81.7h0.9M276.1 88.2h0.9M282.8 94.8h0.9M286.4 77.9h0.9M269.6 76.5h0.9M283.7 78.8h0.9M280.6 62.4h0.9M285.0 65.5h0.9M278.6 86.7h0.9M274.3 99.7h0.9M279.7 63.8h0.9M287.4 70.0h0.9M269.7 96.9h0.9M272.6 98.1h0.9M275.8 92.3h0.9M276.6 102.6h0.9M274.2 69.9h0.9M277.7 100.8h0.9M275.8 73.3h0.9M284.6 73.7h0.9M274.3 95.6h0.9M281.9 89.7h0.9M279.4 61.1h0.9M273.9 97.4h0.9M274.1 92.7h0.9M283.3 84.4h0.9M271.2 68.0h0.9M275.9 79.9h0.9M282.2 63.7h0.9M270.0 65.0h0.9M275.5 88.0h0.9M278.3 82.7h0.9M276.9 93.5h0.9M285.7 64.6h0.9M269.9 61.3h0.9M277.8 68.0h0.9M273.1 99.0h0.9M277.1 84.9h0.9M271.3 62.6h0.9M272.6 68.5h0.9M284.7 85.9h0.9M284.5 84.2h0.9M271.1 71.9h0.9M270.7 94.1h0.9M276.2 91.1h0.9M286.3 70.1h0.9M273.2 100.7h0.9M282.3 80.1h0.9M280.4 69.8h0.9M285.9 68.0h0.9M269.7 75.4h0.9M275.0 65.3h0.9M276.0 83.5h0.9M270.6 95.9h0.9M276.2 70.4h0.9M273.4 69.6h0.9M273.9 88.5h0.9M286.6 99.2h0.9M279.1 63.5h0.9M284.9 102.1h0.9M285.8 99.7h0.9M283.4 94.1h0.9M273.7 62.3h0.9M274.4 82.9h0.9M276.8 73.8h0.9M274.6 89.2h0.9M285.9 98.2h0.9M284.5 69.2h0.9M270.3 101.3h0.9M276.7 93.6h0.9M282.7 60.7h0.9M270.0 95.9h0.9M284.4 93.1h0.9M275.0 94.8h0.9M277.2 65.8h0.9M275.9 81.6h0.9M285.4 90.3h0.9M279.2 86.8h0.9M270.3 83.8h0.9M285.4 70.2h0.9M274.1 88.6h0.9M271.3 76.9h0.9M283.0 93.7h0.9M282.7 79.7h0.9M280.6 67.4h0.9M276.2 98.6h0.9M277.1 76.2h0.9M282.9 61.3h0.9M271.0 81.6h0.9M283.9 91.8h0.9M281.0 88.3h0.9M282.0 79.8h0.9M275.2 78.8h0.9M282.6 67.4h0.9M272.9 95.3h0.9M273.6 72.0h0.9M274.7 91.7h0.9M286.1 73.1h0.9M284.6 91.9h0.9M285.6 79.9h0.9M284.0 81.7h0.9M280.7 79.2h0.9M285.5 94.7h0.9M279.6 79.6h0.9M274.8 60.3h0.9M273.4 67.8h0.9M274.4 90.1h0.9M281.1 63.4h0.9M284.6 77.1h0.9M278.6 61.5h0.9M283.7 102.3h0.9M277.9 101.8h0.9M279.8 85.2h0.9M276.7 82.1h0.9M270.9 67.7h0.9M284.6 70.1h0.9M280.6 70.7h0.9M284.3 71.6h0.9M277.4 64.4h0.9M283.0 89.4h0.9M271.2 78.9h0.9M281.0 79.8h0.9M278.4 83.8h0.9M275.3 71.1h0.9M276.0 72.1h0.9M270.9 72.9h0.9M281.5 73.4h0.9M282.6 76.5h0.9M286.2 66.6h0.9M281.1 98.4h0.9M274.7 83.7h0.9M279.1 71.1h0.9M280.6 64.9h0.9M271.1 90.2h0.9M274.5 97.5h0.9M278.0 74.4h0.9M283.7 75.8h0.9M272.8 90.7h0.9M286.6 69.7h0.9M276.6 72.4h0.9M275.3 69.7h0.9M276.8 75.9h0.9M272.2 68.0h0.9M274.3 95.2h0.9M270.5 68.6h0.9M285.5 92.7h0.9M273.9 67.1h0.9M274.7 71.9h0.9M276.9 94.8h0.9M285.4 85.8h0.9M283.8 73.4h0.9M271.6 77.2h0.9M275.1 60.5h0.9M280.8 89.0h0.9M270.7 62.0h0.9M270.1 68.9h0.9M276.4 90.0h0.9M278.9 78.5h0.9M274.1 61.1h0.9M286.0 75.3h0.9M284.3 84.2h0.9M282.5 82.8h0.9M279.7 92.3h0.9M278.3 99.6h0.9M270.9 72.4h0.9M285.5 102.7h0.9M274.7 70.8h0.9M282.5 71.2h0.9M277.8 81.8h0.9M277.8 61.5h0.9M287.3 72.6h0.9M287.5 73.6h0.9M285.5 77.5h0.9M274.9 65.6h0.9M283.6 83.6h0.9M282.9 85.1h0.9M273.0 68.1h0.9M284.9 69.8h0.9M284.7 92.2h0.9M271.8 95.4h0.9M269.9 85.6h0.9M284.6 91.3h0.9M276.1 100.6h0.9M277.8 64.9h0.9M282.1 82.6h0.9M270.3 87.8h0.9M281.6 93.3h0.9M286.8 85.7h0.9M276.5 96.9h0.9M279.6 86.8h0.9M274.7 79.0h0.9M284.4 75.0h0.9M279.2 81.0h0.9M275.0 60.5h0.9M275.9 100.0h0.9M271.5 67.8h0.9M273.1 64.6h0.9M278.5 66.7h0.9M282.0 96.6h0.9M273.3 61.7h0.9M279.2 103.6h0.9M270.4 83.2h0.9M273.8 72.1h0.9M285.0 85.2h0.9M276.1 71.2h0.9M284.7 93.7h0.9M275.8 100.8h0.9M282.4 100.1h0.9M272.1 67.7h0.9M275.8 80.0h0.9M272.4 69.9h0.9M273.8 79.8h0.9M281.1 88.7h0.9M284.0 101.1h0.9M283.9 73.5h0.9M287.0 90.9h0.9M275.8 68.1h0.9M275.6 63.6h0.9M281.4 78.0h0.9M286.4 86.8h0.9M270.9 102.7h0.9M270.3 61.0h0.9M283.6 66.1h0.9M273.4 91.2h0.9M284.2 75.3h0.9M270.7 81.9h0.9M270.1 102.1h0.9M284.3 95.7h0.9M280.8 102.5h0.9M284.3 81.1h0.9M283.1 67.7h0.9M283.5 100.2h0.9M276.2 67.6h0.9M271.4 99.6h0.9M280.6 76.2h0.9M274.3 61.3h0.9M279.3 74.3h0.9M271.3 73.3h0.9M285.2 85.7h0.9M281.0 100.8h0.9M272.9 83.6h0.9M273.9 88.9h0.9M272.7 60.1h0.9M285.0 87.9h0.9M286.9 88.4h0.9M286.5 70.1h0.9M279.9 74.2h0.9M280.2 100.5h0.9M276.9 84.1h0.9M270.0 61.2h0.9M285.4 93.2h0.9M280.8 66.6h0.9M279.1 89.7h0.9M271.2 91.8h0.9M285.9 90.6h0.9M280.6 73.1h0.9M271.4 91.6h0.9M272.4 71.1h0.9M286.9 102.3h0.9M285.7 87.5h0.9M270.2 91.4h0.9M273.4 83.4h0.9M271.5 81.7h0.9M279.3 72.6h0.9M271.8 61.4h0.9M286.3 60.6h0.9M273.5 86.7h0.9M277.0 88.0h0.9M276.2 64.7h0.9M269.9 100.6h0.9M279.6 66.2h0.9M277.5 88.6h0.9M274.7 83.7h0.9M281.6 61.2h0.9M284.8 75.7h0.9M278.8 81.9h0.9M280.7 96.9h0.9M280.8 83.6h0.9M285.2 66.0h0.9M270.8 99.0h0.9M282.3 89.1h0.9M283.6 71.9h0.9M280.3 91.2h0.9M276.0 87.4h0.9M279.4 77.6h0.9M275.5 62.5h0.9M275.3 63.1h0.9M286.9 82.0h0.9M270.6 84.4h0.9M270.3 83.8h0.9M280.1 64.8h0.9M280.9 60.1h0.9M276.6 97.9h0.9M272.2 66.4h0.9M273.7 86.1h0.9M275.1 76.1h0.9M276.1 74.7h0.9M283.5 76.7h0.9M281.8 103.3h0.9M269.5 82.4h0.9M275.3 102.6h0.9M276.6 92.0h0.9M278.7 65.9h0.9M279.3 62.5h0.9M280.3 79.2h0.9M278.6 67.9h0.9M283.5 100.1h0.9M279.2 96.7h0.9M279.7 83.1h0.9M276.6 78.6h0.9M280.3 95.2h0.9M282.4 92.0h0.9M272.6 79.5h0.9M285.7 60.9h0.9M273.0 94.7h0.9M279.3 73.2h0.9M277.3 72.0h0.9M285.9 97.8h0.9M282.6 100.5h0.9M280.8 93.7h0.9M280.0 71.5h0.9M271.0 72.5h0.9M280.9 95.5h0.9M271.7 73.5h0.9M279.8 64.9h0.9M282.1 101.2h0.9M279.0 99.2h0.9M281.8 83.8h0.9M275.4 62.3h0.9M281.9 64.4h0.9M278.0 80.0h0.9M272.2 95.3h0.9M279.9 83.2h0.9M284.0 102.8h0.9M274.3 93.8h0.9M283.8 66.0h0.9M278.1 61.0h0.9M272.5 81.9h0.9M271.1 101.0h0.9M276.1 64.1h0.9M277.4 103.6h0.9M280.7 74.8h0.9M277.0 69.6h0.9M281.9 72.5h0.9M275.1 77.2h0.9M269.7 102.2h0.9M284.7 60.2h0.9M278.4 96.4h0.9M273.7 80.2h0.9M275.6 67.8h0.9M269.8 66.4h0.9M284.8 89.1h0.9M285.9 99.3h0.9M281.4 71.0h0.9M279.3 85.7h0.9M273.7 72.4h0.9M275.2 76.4h0.9M279.8 75.7h0.9M280.0 87.4h0.9M281.0 65.3h0.9M282.9 86.2h0.9M274.4 85.2h0.9M270.7 96.3h0.9M285.1 70.2h0.9M283.0 81.0h0.9M276.7 79.9h0.9M270.0 73.3h0.9M271.5 95.0h0.9M285.7 70.4h0.9M285.2 74.3h0.9M283.7 101.3h0.9M273.2 80.0h0.9M280.7 64.5h0.9M286.4 83.7h0.9M275.1 99.8h0.9M271.0 72.5h0.9M272.5 81.5h0.9M281.7 72.2h0.9M278.0 68.0h0.9M276.7 97.3h0.9M279.2 72.2h0.9M271.9 84.5h0.9M280.8 89.8h0.9M287.3 101.1h0.9M272.6 94.8h0.9M271.9 81.5h0.9M271.8 91.4h0.9M272.3 103.5h0.9M274.9 70.9h0.9M280.4 60.5h0.9M284.5 101.9h0.9M271.9 72.6h0.9M286.6 86.5h0.9M272.8 76.0h0.9M280.7 81.9h0.9M275.2 89.5h0.9M284.7 63.8h0.9M285.5 68.1h0.9M273.3 64.9h0.9M272.7 92.0h0.9M276.7 66.3h0.9M274.8 77.5h0.9M276.9 85.3h0.9M284.0 79.7h0.9M273.7 103.5h0.9M272.4 63.9h0.9M277.1 72.1h0.9M280.5 69.2h0.9M280.5 62.1h0.9M280.4 68.2h0.9M276.4 84.5h0.9M277.4 102.9h0.9M278.0 71.2h0.9M281.8 101.2h0.9M286.3 94.3h0.9M272.7 61.2h0.9M270.6 90.8h0.9M271.5 69.0h0.9M285.5 100.3h0.9M282.3 78.9h0.9M273.0 63.6h0.9M274.6 84.2h0.9M279.8 81.9h0.9M270.9 77.7h0.9M283.0 91.1h0.9M272.6 93.7h0.9M278.0 75.8h0.9M270.4 73.2h0.9M278.7 95.7h0.9M287.2 69.9h0.9M275.9 66.3h0.9M278.7 77.0h0.9M279.5 85.5h0.9M286.5 74.4h0.9M278.8 93.7h0.9M274.8 86.0h0.9M275.7 65.7h0.9M278.1 86.7h0.9M279.1 79.6h0.9M271.6 62.3h0.9M271.6 61.5h0.9M284.8 60.3h0.9M270.9 77.0h0.9M273.2 74.8h0.9M282.0 94.9h0.9M275.6 66.0h0.9M281.7 94.9h0.9M280.6 77.9h0.9M277.7 64.9h0.9M272.3 92.5h0.9M279.6 65.3h0.9M283.8 62.9h0.9M285.0 91.6h0.9M277.8 77.2h0.9M276.0 80.6h0.9M272.3 67.4h0.9M280.0 81.5h0.9M276.0 103.7h0.9M279.2 73.1h0.9M275.1 78.5h0.9M275.7 79.9h0.9M283.7 62.2h0.9M278.7 87.1h0.9M282.8 71.6h0.9M273.7 82.4h0.9M285.6 82.9h0.9M274.2 82.1h0.9M275.2 78.1h0.9M272.2 74.5h0.9M280.1 91.2h0.9M273.5 100.6h0.9M272.6 84.3h0.9M285.5 97.5h0.9M271.5 81.1h0.9M281.8 64.2h0.9M286.5 92.7h0.9M286.0 66.3h0.9M282.4 90.3h0.9M279.2 63.1h0.9M281.3 93.3h0.9M283.5 76.6h0.9M282.1 90.2h0.9M272.0 90.2h0.9M283.3 87.6h0.9M274.2 88.8h0.9M278.1 72.7h0.9M272.3 95.2h0.9M281.4 84.1h0.9M270.7 81.8h0.9M281.1 70.3h0.9M281.4 62.1h0.9M282.0 69.5h0.9M281.9 99.1h0.9M280.8 96.0h0.9M282.6 97.3h0.9M285.1 75.3h0.9M279.8 61.4h0.9M280.6 50.4h0.9M284.6 56.5h0.9M277.4 57.5h0.9M289.7 48.7h0.9M285.6 61.4h0.9M282.8 54.9h0.9M287.7 62.4h0.9M280.8 44.2h0.9M277.6 48.1h0.9M284.9 58.2h0.9M282.6 52.0h0.9M281.5 50.2h0.9M279.8 52.0h0.9M282.9 54.2h0.9M273.7 61.9h0.9M284.1 59.4h0.9M280.7 59.7h0.9M282.5 60.4h0.9M283.7 52.5h0.9M284.8 41.3h0.9M276.8 55.9h0.9M272.0 45.7h0.9M287.3 57.1h0.9M284.0 43.1h0.9M283.0 52.6h0.9M277.6 44.9h0.9M285.6 57.1h0.9M283.9 42.8h0.9M277.2 62.4h0.9M284.0 50.2h0.9M282.0 45.1h0.9M291.2 51.9h0.9M279.1 48.9h0.9M282.3 53.6h0.9M279.0 58.0h0.9M283.9 55.7h0.9M285.6 43.7h0.9M280.8 55.7h0.9M288.6 46.3h0.9M282.3 41.7h0.9M280.8 47.6h0.9M281.6 52.8h0.9M280.9 57.3h0.9M286.1 60.7h0.9M279.1 55.3h0.9M282.8 42.5h0.9M278.5 38.6h0.9M283.3 60.5h0.9M286.8 58.3h0.9M281.9 51.1h0.9M281.1 55.4h0.9M283.7 43.7h0.9M282.0 64.6h0.9M288.2 46.7h0.9M281.3 54.1h0.9M280.0 57.3h0.9M281.0 46.5h0.9M283.4 48.0h0.9M288.0 42.3h0.9M281.0 52.5h0.9M283.5 38.7h0.9M285.5 62.0h0.9M284.3 56.6h0.9M281.4 57.2h0.9M273.7 52.6h0.9M281.7 56.9h0.9M280.4 59.1h0.9M285.1 45.6h0.9M276.4 62.2h0.9M283.3 56.9h0.9M278.9 47.1h0.9M279.4 40.4h0.9M281.0 48.7h0.9M281.4 47.6h0.9M284.2 56.6h0.9M278.8 58.9h0.9M285.4 60.1h0.9M275.5 54.8h0.9M283.5 43.4h0.9M281.1 50.3h0.9M289.3 42.4h0.9M283.1 51.5h0.9M282.5 59.4h0.9M283.0 58.1h0.9M285.5 58.7h0.9M284.0 48.1h0.9M285.3 40.1h0.9M275.8 46.3h0.9M281.8 63.3h0.9M281.7 52.5h0.9M284.5 52.5h0.9M275.9 51.5h0.9M280.1 53.5h0.9M288.7 52.0h0.9M278.8 53.3h0.9M284.8 53.2h0.9M287.5 51.4h0.9M284.8 61.7h0.9M285.2 57.5h0.9M282.6 52.5h0.9M272.9 52.8h0.9M284.9 57.7h0.9M283.9 39.3h0.9M277.5 50.8h0.9M276.9 50.1h0.9M286.8 51.5h0.9M282.2 58.4h0.9M276.8 53.7h0.9M282.6 47.2h0.9M282.4 56.0h0.9M281.9 51.1h0.9M285.5 53.5h0.9M281.5 59.9h0.9M283.3 55.5h0.9M283.9 65.6h0.9M280.5 41.7h0.9M282.2 48.0h0.9M286.0 51.2h0.9M281.9 54.4h0.9M282.0 49.1h0.9M288.4 52.2h0.9M278.3 47.9h0.9M279.7 49.0h0.9M280.8 58.9h0.9M277.6 48.1h0.9M281.8 50.3h0.9M277.1 45.1h0.9M288.7 61.5h0.9M281.2 53.1h0.9M285.3 51.7h0.9M284.5 54.3h0.9M279.0 53.4h0.9M281.1 46.1h0.9M278.4 54.1h0.9M282.6 43.8h0.9M276.7 63.0h0.9M272.0 61.7h0.9M282.9 55.4h0.9M279.5 38.2h0.9M284.8 55.1h0.9M281.1 41.1h0.9M277.0 49.2h0.9M284.9 45.9h0.9M280.2 56.5h0.9M278.7 65.0h0.9M283.9 47.5h0.9M285.0 55.5h0.9M277.5 59.4h0.9M286.8 55.8h0.9M284.1 54.2h0.9M276.4 57.5h0.9M283.6 63.2h0.9M283.8 53.7h0.9M281.4 55.8h0.9M283.4 43.8h0.9M283.7 45.6h0.9M281.1 52.4h0.9M284.6 50.4h0.9M277.7 41.6h0.9M279.2 56.8h0.9M282.4 39.5h0.9M284.8 48.9h0.9M279.7 60.5h0.9M277.6 46.7h0.9M284.1 43.7h0.9M281.8 65.9h0.9M282.9 38.9h0.9M284.6 57.4h0.9M283.9 47.0h0.9M282.4 54.8h0.9M281.6 51.2h0.9M279.7 59.9h0.9M283.7 60.3h0.9M281.7 50.1h0.9M279.6 62.9h0.9M278.7 46.4h0.9M281.2 59.9h0.9M285.4 49.5h0.9M280.9 61.2h0.9M285.2 59.5h0.9M286.4 49.1h0.9M288.4 53.4h0.9M282.1 54.9h0.9M281.1 62.1h0.9M281.5 53.6h0.9M283.8 53.6h0.9M284.3 57.8h0.9M281.2 54.3h0.9M287.5 50.0h0.9M280.8 63.3h0.9M275.8 54.8h0.9M281.3 42.6h0.9M277.3 48.6h0.9M288.9 55.3h0.9M279.6 53.4h0.9M278.4 62.3h0.9M282.4 47.9h0.9M285.0 55.9h0.9M287.1 49.6h0.9M278.2 52.0h0.9M287.0 58.3h0.9M281.1 55.5h0.9M283.3 52.4h0.9M276.7 55.3h0.9M278.6 51.0h0.9M281.7 47.4h0.9M280.8 45.5h0.9M288.4 49.8h0.9M278.9 55.4h0.9M283.1 56.7h0.9M284.2 54.2h0.9M277.9 60.4h0.9M286.2 46.5h0.9M289.8 48.8h0.9M283.7 48.4h0.9M286.2 55.7h0.9M290.0 55.8h0.9M280.8 64.1h0.9M281.3 44.5h0.9M282.8 38.8h0.9M286.3 62.7h0.9M288.2 51.7h0.9M278.0 47.5h0.9M285.4 58.5h0.9M281.1 58.2h0.9M284.2 50.5h0.9M275.1 49.6h0.9M275.7 60.6h0.9M279.5 48.6h0.9M280.8 55.9h0.9M280.6 52.0h0.9M284.0 49.7h0.9M280.4 59.7h0.9M274.2 55.4h0.9M284.7 56.3h0.9M277.9 50.7h0.9M284.8 46.4h0.9M279.3 43.3h0.9M279.3 58.8h0.9M282.3 56.6h0.9M286.8 50.2h0.9M286.7 62.7h0.9M278.9 57.2h0.9M282.6 46.9h0.9M279.4 41.1h0.9M280.8 49.1h0.9M286.0 61.6h0.9M279.3 48.5h0.9M285.8 49.3h0.9M284.0 52.6h0.9M283.0 57.4h0.9M278.9 54.1h0.9M280.5 51.1h0.9M283.3 53.7h0.9M284.2 57.4h0.9M282.9 43.4h0.9M284.2 61.7h0.9M290.5 51.1h0.9M285.3 61.8h0.9M287.7 60.6h0.9M279.7 62.4h0.9M285.0 48.8h0.9M281.4 55.3h0.9M279.4 43.2h0.9M281.2 50.2h0.9M280.4 58.1h0.9M282.8 56.0h0.9M285.0 45.4h0.9M280.5 59.0h0.9M283.4 50.6h0.9M288.0 65.0h0.9M281.4 56.3h0.9M284.8 45.0h0.9M278.3 51.5h0.9M280.6 55.2h0.9M279.0 49.3h0.9M279.9 45.8h0.9M283.8 50.8h0.9M286.1 61.0h0.9M281.5 56.4h0.9M287.0 49.1h0.9M280.8 57.6h0.9M280.7 40.7h0.9M281.6 55.0h0.9M279.3 60.5h0.9M279.9 65.1h0.9M279.5 53.9h0.9M280.1 51.9h0.9M282.1 57.6h0.9M279.6 50.3h0.9M284.9 58.7h0.9M283.9 63.4h0.9M279.4 52.8h0.9M285.4 47.9h0.9M283.4 40.3h0.9M281.8 58.3h0.9M280.9 61.7h0.9M281.7 49.2h0.9M281.8 54.4h0.9M278.1 47.5h0.9M279.1 55.8h0.9M281.8 53.2h0.9M282.3 61.5h0.9M279.4 61.8h0.9M283.8 59.0h0.9M284.0 50.7h0.9M282.1 53.0h0.9M290.7 49.2h0.9M285.8 51.7h0.9M282.7 48.6h0.9M282.7 48.8h0.9M285.5 43.1h0.9M279.5 41.1h0.9M279.0 65.1h0.9M286.1 48.0h0.9M280.8 48.0h0.9M277.5 59.9h0.9M278.2 48.0h0.9M282.2 54.0h0.9M275.6 54.7h0.9M283.7 52.8h0.9M284.6 52.2h0.9M285.3 51.8h0.9M283.3 43.8h0.9M281.1 50.8h0.9M286.8 65.2h0.9M286.2 56.6h0.9M286.5 49.7h0.9M277.1 47.6h0.9M282.5 47.0h0.9M284.0 57.2h0.9M280.2 49.2h0.9M279.6 59.7h0.9M279.2 62.1h0.9M285.8 49.5h0.9M282.6 47.8h0.9M287.1 43.8h0.9M282.3 53.9h0.9M279.6 55.8h0.9M283.9 53.2h0.9M283.6 45.2h0.9M279.3 46.3h0.9M285.3 49.9h0.9M286.8 50.6h0.9M280.4 54.8h0.9M282.8 52.8h0.9M279.2 56.3h0.9M281.4 45.7h0.9M285.0 55.5h0.9M286.3 54.7h0.9M286.5 48.5h0.9M286.1 50.6h0.9M277.7 49.6h0.9M284.8 53.9h0.9M277.7 54.9h0.9M286.2 46.1h0.9M280.8 51.2h0.9M279.0 52.2h0.9M278.1 59.1h0.9M284.8 42.9h0.9M286.0 49.9h0.9M285.3 59.4h0.9M284.0 48.3h0.9M283.1 52.5h0.9M280.0 49.5h0.9M279.7 50.1h0.9M279.7 52.1h0.9M288.7 45.3h0.9M279.8 52.6h0.9M279.7 51.5h0.9M287.7 46.4h0.9M283.2 55.9h0.9M280.2 48.5h0.9M283.4 56.2h0.9M288.4 56.6h0.9M282.7 55.2h0.9M281.7 54.7h0.9M283.1 40.5h0.9M272.4 48.6h0.9M285.8 48.4h0.9M284.9 63.5h0.9M290.3 53.7h0.9M283.0 42.1h0.9M286.2 62.6h0.9M278.9 56.0h0.9M284.4 47.5h0.9M279.2 41.9h0.9M283.0 62.3h0.9M281.9 59.8h0.9M279.9 54.1h0.9M286.9 53.2h0.9M281.7 45.2h0.9M284.1 58.8h0.9M285.3 60.3h0.9M284.3 55.4h0.9M285.6 55.9h0.9M286.4 47.5h0.9M283.2 55.8h0.9M281.1 50.2h0.9M281.1 51.9h0.9M287.5 62.2h0.9M279.4 56.9h0.9M287.1 56.8h0.9M276.8 49.0h0.9M284.6 57.2h0.9M281.7 53.9h0.9M278.0 56.7h0.9M276.4 53.1h0.9M278.2 55.6h0.9M283.3 59.9h0.9M282.3 60.9h0.9M279.6 45.9h0.9M282.7 65.4h0.9M286.1 63.7h0.9M283.6 49.6h0.9M283.7 61.7h0.9M285.8 55.1h0.9M275.9 53.8h0.9M284.0 64.6h0.9M285.5 57.3h0.9M279.0 56.4h0.9M278.8 53.7h0.9M280.4 42.3h0.9M285.4 53.2h0.9M280.3 63.4h0.9M284.7 41.6h0.9M288.1 43.0h0.9M281.2 52.6h0.9M284.9 48.8h0.9M284.7 59.1h0.9M283.5 58.2h0.9M288.1 50.0h0.9M275.9 44.8h0.9M284.9 48.9h0.9M279.8 57.4h0.9M284.1 65.9h0.9M280.3 59.9h0.9M284.8 45.3h0.9M286.4 55.6h0.9M285.1 58.0h0.9M278.5 49.6h0.9M277.3 58.8h0.9M286.2 58.1h0.9M280.7 55.2h0.9M284.2 58.5h0.9M284.3 60.4h0.9M287.6 52.5h0.9M284.5 47.3h0.9M282.3 55.0h0.9M278.7 49.9h0.9M280.6 47.2h0.9M280.9 63.5h0.9M285.0 48.6h0.9M281.9 51.3h0.9M275.0 52.1h0.9M287.7 55.0h0.9M280.5 54.2h0.9M280.6 55.9h0.9M280.7 52.5h0.9M286.6 51.3h0.9M280.5 53.4h0.9M281.8 53.1h0.9M284.4 59.5h0.9M280.7 61.1h0.9M281.4 50.9h0.9M286.3 49.2h0.9M281.0 52.4h0.9M285.0 51.0h0.9M282.1 64.6h0.9M279.6 53.6h0.9M287.4 62.1h0.9M280.3 45.8h0.9M283.0 51.6h0.9M275.3 57.2h0.9M276.0 49.8h0.9M282.3 46.8h0.9M282.7 52.5h0.9M281.9 51.9h0.9M282.5 54.4h0.9M283.5 61.9h0.9M278.0 57.9h0.9M284.4 49.1h0.9M288.5 59.4h0.9M290.6 50.5h0.9M285.4 47.8h0.9M288.0 63.4h0.9M284.9 51.0h0.9M282.3 55.2h0.9M279.8 56.1h0.9M280.1 58.7h0.9M283.0 45.7h0.9M284.1 61.8h0.9M280.5 53.3h0.9M279.1 54.2h0.9M285.8 53.0h0.9M284.6 48.1h0.9M284.5 46.2h0.9M280.8 59.1h0.9M287.4 44.2h0.9M288.8 45.7h0.9M281.9 54.8h0.9M280.0 43.9h0.9M280.6 57.9h0.9M281.0 40.2h0.9M283.7 58.3h0.9M280.6 58.4h0.9M281.9 51.6h0.9M278.7 64.4h0.9M285.1 56.4h0.9M290.9 49.4h0.9M280.1 40.5h0.9M279.3 47.7h0.9M285.7 54.7h0.9M283.3 53.1h0.9M274.6 51.5h0.9M278.6 58.4h0.9M285.0 60.6h0.9M290.1 41.3h0.9M284.2 54.9h0.9M278.1 54.8h0.9M286.5 47.0h0.9M280.1 50.4h0.9M280.0 45.2h0.9M281.8 52.9h0.9M279.6 57.4h0.9M278.5 58.0h0.9M282.9 44.1h0.9M282.9 61.3h0.9M280.9 52.0h0.9M278.1 48.2h0.9M278.7 44.2h0.9M281.9 49.8h0.9M280.8 58.5h0.9M277.1 41.4h0.9M277.9 62.8h0.9M284.4 53.6h0.9M274.8 49.0h0.9M284.5 51.6h0.9M283.7 51.3h0.9M279.8 50.7h0.9M284.2 57.2h0.9M280.3 42.0h0.9M283.6 58.9h0.9M286.3 50.9h0.9M282.7 54.6h0.9M284.7 40.7h0.9M279.4 65.6h0.9M280.8 46.7h0.9M279.6 40.7h0.9M277.6 52.4h0.9M282.3 55.8h0.9M287.4 58.2h0.9M288.0 52.2h0.9M284.4 46.7h0.9M287.7 63.4h0.9M277.5 50.4h0.9M281.4 47.6h0.9M285.9 49.1h0.9M279.4 48.6h0.9M274.3 45.2h0.9M283.0 57.6h0.9M280.2 41.8h0.9M276.2 53.6h0.9M279.6 52.0h0.9M280.8 59.1h0.9M280.5 56.2h0.9M284.4 49.1h0.9M282.4 56.5h0.9M280.6 53.4h0.9M280.1 54.4h0.9M280.1 53.6h0.9M285.7 55.6h0.9M284.3 41.5h0.9M283.7 58.0h0.9M276.8 48.2h0.9M285.5 48.4h0.9M282.4 54.5h0.9M275.6 46.3h0.9M281.7 64.5h0.9M281.9 52.5h0.9M283.2 61.2h0.9M282.1 56.5h0.9M280.7 49.5h0.9M284.4 54.2h0.9M285.0 58.0h0.9M283.0 40.6h0.9M280.6 59.1h0.9M277.8 50.5h0.9M288.5 60.7h0.9M283.7 41.4h0.9M285.6 57.9h0.9M282.5 56.1h0.9M277.9 52.2h0.9M276.7 57.2h0.9M278.5 50.1h0.9M283.5 49.4h0.9M280.6 52.5h0.9M282.4 48.1h0.9M277.0 48.3h0.9M283.1 54.6h0.9M277.2 52.8h0.9M282.9 59.4h0.9M286.4 49.2h0.9M284.0 62.1h0.9M281.8 54.9h0.9M288.0 53.8h0.9M284.3 51.7h0.9M281.2 40.3h0.9M282.7 51.5h0.9M282.2 65.1h0.9M280.5 55.5h0.9M288.9 56.1h0.9M285.3 50.0h0.9M281.6 41.8h0.9M284.7 52.7h0.9M277.2 54.3h0.9M288.9 46.7h0.9M282.7 43.9h0.9M281.1 61.2h0.9M278.4 55.1h0.9M284.8 47.2h0.9M281.5 44.1h0.9M287.2 45.0h0.9M285.6 42.5h0.9M280.3 45.7h0.9M282.9 55.6h0.9M278.9 61.2h0.9M284.2 47.8h0.9M280.5 43.3h0.9M288.0 43.2h0.9M287.4 53.8h0.9M284.9 55.9h0.9M286.4 55.4h0.9M283.2 53.9h0.9M280.1 50.9h0.9M288.8 53.9h0.9M283.9 45.5h0.9M284.5 44.9h0.9M283.0 50.5h0.9M286.8 55.7h0.9M280.5 62.3h0.9M281.7 44.0h0.9M279.1 58.5h0.9M280.9 52.8h0.9M277.3 50.3h0.9M284.4 63.2h0.9M274.1 58.6h0.9M280.8 55.2h0.9M284.3 50.1h0.9M286.7 50.1h0.9M279.5 60.2h0.9M284.0 38.4h0.9M283.7 57.7h0.9M285.3 58.0h0.9M281.4 59.0h0.9M283.0 61.8h0.9M277.9 57.4h0.9M280.8 57.2h0.9M273.5 53.6h0.9M284.0 53.5h0.9M283.3 51.3h0.9M280.0 50.7h0.9M284.4 59.4h0.9M284.9 46.0h0.9M284.2 53.5h0.9M287.8 52.3h0.9M278.9 52.1h0.9M281.5 54.9h0.9M277.4 64.0h0.9M286.8 50.0h0.9M280.9 60.8h0.9M283.6 56.7h0.9M281.3 54.7h0.9M284.3 46.0h0.9M279.0 61.4h0.9M279.0 54.9h0.9M279.1 58.4h0.9M280.7 59.7h0.9M275.3 56.1h0.9M284.2 39.0h0.9M273.6 56.6h0.9M288.0 58.2h0.9M281.5 51.5h0.9M283.6 47.5h0.9M281.0 51.4h0.9M278.9 44.2h0.9M280.0 58.4h0.9M284.7 53.1h0.9M278.9 51.9h0.9M279.8 61.5h0.9M285.4 41.9h0.9M276.6 62.9h0.9M283.7 52.4h0.9M284.0 56.3h0.9M288.1 52.7h0.9M283.0 60.3h0.9M284.4 52.8h0.9M282.3 47.3h0.9M274.7 61.1h0.9M279.9 46.3h0.9M288.9 49.3h0.9M285.8 49.9h0.9M284.0 57.6h0.9M283.0 58.5h0.9M284.8 62.2h0.9M282.0 51.5h0.9M284.3 40.6h0.9M272.3 52.0h0.9M282.6 54.2h0.9M283.3 55.8h0.9M282.3 42.5h0.9M286.4 62.8h0.9M280.9 43.4h0.9M281.5 60.3h0.9M286.5 51.7h0.9M285.3 55.8h0.9M277.1 48.5h0.9M279.5 51.9h0.9M280.1 45.0h0.9M284.3 49.4h0.9M282.0 47.9h0.9M281.2 55.1h0.9M282.4 47.8h0.9M284.1 44.1h0.9M284.1 42.6h0.9M284.1 64.1h0.9M283.2 45.6h0.9M282.5 46.6h0.9M285.2 58.0h0.9M284.8 56.1h0.9M287.8 46.3h0.9M281.8 45.5h0.9M284.3 60.3h0.9M286.8 59.6h0.9M282.3 50.0h0.9M280.1 61.4h0.9M277.9 60.6h0.9M287.4 55.9h0.9M280.6 48.4h0.9M283.4 54.9h0.9M284.0 59.9h0.9M282.1 54.0h0.9M281.2 54.6h0.9M288.0 55.2h0.9M279.7 49.6h0.9M281.0 60.5h0.9M277.7 57.7h0.9M284.0 62.0h0.9M277.4 41.8h0.9M284.1 41.2h0.9M280.9 51.8h0.9M285.8 46.4h0.9M279.3 48.7h0.9M283.3 54.9h0.9M285.0 48.4h0.9M276.1 62.7h0.9M278.8 53.6h0.9M278.6 58.1h0.9M277.8 45.2h0.9M287.3 56.2h0.9M280.8 56.1h0.9M284.6 52.1h0.9M286.1 39.1h0.9M281.5 46.9h0.9M277.4 52.3h0.9M281.2 62.8h0.9M286.3 51.9h0.9M278.9 48.2h0.9M285.1 57.6h0.9M274.4 38.3h0.9M281.2 51.1h0.9M281.0 56.7h0.9M285.4 45.4h0.9M282.7 51.5h0.9M275.6 58.6h0.9M283.8 58.3h0.9M276.8 42.9h0.9M282.3 58.2h0.9M286.1 55.5h0.9M281.2 51.3h0.9M284.5 59.1h0.9M281.1 51.3h0.9M285.0 46.6h0.9M278.3 45.7h0.9M278.6 60.0h0.9M277.5 60.8h0.9M280.7 52.8h0.9M281.0 54.9h0.9M282.9 51.1h0.9M276.7 57.3h0.9M281.2 53.8h0.9M282.9 60.4h0.9M280.9 48.0h0.9M277.9 57.7h0.9M285.1 61.8h0.9M275.3 52.3h0.9M283.4 55.1h0.9M279.4 50.8h0.9M281.9 59.6h0.9M282.3 43.8h0.9M284.8 61.5h0.9M281.9 53.3h0.9M281.4 60.4h0.9M279.3 53.4h0.9M285.6 64.2h0.9M285.1 58.8h0.9M283.0 46.5h0.9M280.4 47.9h0.9M281.1 50.6h0.9M289.8 48.7h0.9M286.8 50.2h0.9M277.3 55.7h0.9M284.3 38.2h0.9M278.8 53.3h0.9M282.9 58.8h0.9M281.4 50.0h0.9M281.0 51.4h0.9M282.3 47.8h0.9M275.5 57.7h0.9M281.8 49.3h0.9M280.2 46.5h0.9M284.3 52.6h0.9M279.0 47.4h0.9M277.0 52.9h0.9M276.7 59.4h0.9M280.0 49.0h0.9M283.1 63.5h0.9M279.9 51.6h0.9M274.9 60.1h0.9M279.4 56.1h0.9M281.0 51.2h0.9M283.6 53.9h0.9M280.4 57.3h0.9M285.8 55.2h0.9M281.3 52.0h0.9M281.1 43.7h0.9M280.1 48.9h0.9M284.4 48.6h0.9M285.0 53.9h0.9M282.1 45.3h0.9M278.0 45.4h0.9M279.7 55.1h0.9M281.8 44.6h0.9M278.8 52.0h0.9M277.4 50.2h0.9M284.4 42.7h0.9M275.6 48.3h0.9M282.5 40.1h0.9M288.2 62.9h0.9M275.2 54.2h0.9M278.5 46.4h0.9M277.4 49.9h0.9M275.0 38.0h0.9M277.7 41.0h0.9M279.1 46.0h0.9M272.9 53.8h0.9M283.8 47.1h0.9M282.5 52.9h0.9M277.8 41.1h0.9M277.4 40.7h0.9M283.6 48.7h0.9M282.5 58.0h0.9M286.8 60.6h0.9M278.5 49.0h0.9M275.0 64.1h0.9M279.1 57.7h0.9M276.8 60.3h0.9M275.2 51.9h0.9M281.4 53.8h0.9M279.9 62.2h0.9M275.3 43.9h0.9M283.4 48.5h0.9M280.3 54.8h0.9M276.9 49.7h0.9M279.0 38.0h0.9M282.7 50.4h0.9M281.6 60.0h0.9M282.1 59.6h0.9M271.6 61.1h0.9M276.7 54.6h0.9M283.3 53.0h0.9M275.2 58.4h0.9M278.1 43.7h0.9M276.4 51.2h0.9M283.2 52.5h0.9M277.0 44.7h0.9M280.2 50.8h0.9M281.1 56.3h0.9M279.1 56.3h0.9M282.5 46.2h0.9M279.8 37.3h0.9M274.7 43.0h0.9M277.1 49.8h0.9M274.4 42.9h0.9M284.2 41.6h0.9M272.3 52.6h0.9M278.0 58.5h0.9M281.9 62.1h0.9M277.6 58.1h0.9M275.6 59.5h0.9M283.5 37.7h0.9M273.7 43.8h0.9M284.1 52.5h0.9M287.6 59.2h0.9M277.2 64.6h0.9M286.3 58.0h0.9M279.1 55.0h0.9M276.5 64.9h0.9M275.4 48.0h0.9M278.0 52.6h0.9M279.4 55.8h0.9M281.4 50.5h0.9M274.9 41.3h0.9M285.3 59.4h0.9M281.0 37.6h0.9M279.9 53.9h0.9M278.4 50.3h0.9M277.5 48.3h0.9M279.9 60.7h0.9M277.1 44.2h0.9M276.1 59.2h0.9M281.6 55.8h0.9M278.6 50.4h0.9M274.9 51.0h0.9M276.6 46.5h0.9M272.1 53.7h0.9M280.8 50.0h0.9M272.3 51.7h0.9M280.9 52.6h0.9M279.5 61.1h0.9M281.7 52.1h0.9M271.0 57.5h0.9M287.9 47.6h0.9M280.2 54.3h0.9M273.6 47.6h0.9M282.3 59.6h0.9M283.2 47.6h0.9M274.7 54.8h0.9M275.0 47.7h0.9M276.6 41.5h0.9M275.0 46.3h0.9M284.8 60.6h0.9M277.9 55.1h0.9M276.4 56.7h0.9M278.3 50.1h0.9M281.5 41.6h0.9M284.4 60.8h0.9M273.5 58.8h0.9M277.8 56.9h0.9M275.5 62.4h0.9M285.2 50.7h0.9M271.1 51.7h0.9M278.7 43.2h0.9M287.3 57.2h0.9M280.2 56.3h0.9M276.1 65.1h0.9M274.4 56.3h0.9M282.8 65.0h0.9M278.0 39.4h0.9M279.5 50.5h0.9M281.8 37.8h0.9M274.2 53.3h0.9M286.5 50.4h0.9M279.7 51.2h0.9M278.4 44.8h0.9M286.7 55.7h0.9M284.7 42.0h0.9M272.9 48.9h0.9M284.1 59.4h0.9M281.1 54.9h0.9M278.0 63.0h0.9M276.9 60.2h0.9M276.0 52.2h0.9M277.7 51.6h0.9M273.0 56.9h0.9M277.7 51.7h0.9M276.1 57.1h0.9M280.2 42.5h0.9M279.0 56.4h0.9M276.8 48.2h0.9M277.2 47.9h0.9M272.4 56.4h0.9M276.2 45.8h0.9M270.4 41.9h0.9M278.9 42.2h0.9M280.4 52.9h0.9M278.9 54.0h0.9M275.7 40.6h0.9M289.8 58.8h0.9M280.9 64.5h0.9M284.9 46.7h0.9M276.6 60.1h0.9M274.9 52.4h0.9M282.3 45.1h0.9M281.8 56.6h0.9M285.4 57.6h0.9M278.7 51.5h0.9M277.6 45.5h0.9M281.7 43.6h0.9M281.9 58.0h0.9M287.9 54.2h0.9M287.8 54.4h0.9M279.5 55.0h0.9M275.7 41.9h0.9M274.8 50.5h0.9M275.1 58.3h0.9M283.4 46.0h0.9M282.6 43.8h0.9M277.3 56.2h0.9M271.9 51.1h0.9M282.8 53.2h0.9M276.8 45.6h0.9M284.2 49.9h0.9M278.6 46.1h0.9M280.7 44.8h0.9M281.8 59.2h0.9M280.4 61.2h0.9M282.3 47.2h0.9M280.6 65.9h0.9M275.0 61.6h0.9M279.7 45.4h0.9M278.9 56.3h0.9M277.6 49.1h0.9M280.0 50.5h0.9M283.2 39.3h0.9M273.5 61.8h0.9M278.4 51.8h0.9M272.1 48.3h0.9M277.3 58.8h0.9M279.5 53.3h0.9M279.3 54.6h0.9M282.4 53.3h0.9M271.5 51.1h0.9M281.3 43.8h0.9M283.2 59.0h0.9M280.9 52.5h0.9M275.3 46.7h0.9M284.0 46.1h0.9M274.0 52.1h0.9M277.3 48.7h0.9M279.4 55.7h0.9M279.5 39.6h0.9M280.3 56.9h0.9M274.7 65.7h0.9M277.2 37.3h0.9M278.2 41.2h0.9M274.6 45.2h0.9M274.7 63.0h0.9M281.8 40.6h0.9M282.8 55.0h0.9M277.4 59.1h0.9M279.6 52.9h0.9M275.7 59.5h0.9M277.3 51.1h0.9M286.7 46.6h0.9M280.8 60.7h0.9M278.2 47.8h0.9M278.9 58.5h0.9M271.4 48.0h0.9M279.9 44.0h0.9M280.6 52.6h0.9M277.2 55.0h0.9M274.8 52.9h0.9M271.1 60.9h0.9M285.5 51.1h0.9M285.6 60.8h0.9M282.1 45.2h0.9M282.2 63.5h0.9M280.0 46.1h0.9M283.0 41.8h0.9M280.7 53.7h0.9M277.9 40.3h0.9M274.4 46.3h0.9M281.4 43.6h0.9M282.2 45.7h0.9M276.0 43.7h0.9M283.2 52.6h0.9M279.2 61.2h0.9M283.0 54.6h0.9M272.8 63.7h0.9M275.4 65.3h0.9M273.3 45.7h0.9M281.0 57.5h0.9M284.3 54.8h0.9M282.1 54.5h0.9M282.3 46.8h0.9M275.6 56.1h0.9M279.8 41.5h0.9M269.7 53.7h0.9M279.0 53.5h0.9M284.8 42.3h0.9M276.6 51.4h0.9M281.0 65.3h0.9M282.5 61.3h0.9M270.1 63.6h0.9M279.0 43.6h0.9M282.6 59.9h0.9M277.8 50.2h0.9M276.1 52.6h0.9M275.2 65.4h0.9M280.4 50.0h0.9M275.4 60.8h0.9M287.4 45.2h0.9M279.3 47.0h0.9M278.8 38.5h0.9M283.0 54.3h0.9M275.7 51.7h0.9M281.1 59.7h0.9M282.6 52.2h0.9M275.0 51.3h0.9M274.2 53.8h0.9M284.7 63.6h0.9M286.9 41.1h0.9M276.4 59.2h0.9M276.8 48.2h0.9M276.6 63.2h0.9M281.5 41.2h0.9M276.6 45.3h0.9M282.3 42.0h0.9M275.6 47.6h0.9M275.0 48.6h0.9M269.9 64.8h0.9M275.8 54.0h0.9M275.8 55.4h0.9M277.7 46.0h0.9M277.3 42.3h0.9M273.4 58.0h0.9M284.5 50.3h0.9M279.6 59.7h0.9M282.5 62.0h0.9M279.9 50.3h0.9M278.3 56.4h0.9M270.1 49.0h0.9M283.4 65.8h0.9M274.0 58.6h0.9M270.1 39.4h0.9M290.3 43.0h0.9M279.9 40.5h0.9M275.3 47.7h0.9M281.3 60.3h0.9M278.5 52.6h0.9M281.4 49.5h0.9M283.7 49.7h0.9M278.3 61.1h0.9M283.3 58.3h0.9M278.4 52.6h0.9M279.4 61.2h0.9M281.3 48.8h0.9M280.8 43.5h0.9M288.1 85.1h0.9M287.6 70.9h0.9M290.3 61.1h0.9M288.3 67.5h0.9M289.3 77.9h0.9M290.3 72.5h0.9M287.6 86.2h0.9M289.2 84.0h0.9M288.9 71.6h0.9M288.7 58.5h0.9M288.6 53.2h0.9M289.6 63.0h0.9M293.2 55.3h0.9M291.1 72.7h0.9M288.9 47.0h0.9M289.4 71.7h0.9M287.9 90.5h0.9M290.2 64.5h0.9M289.6 43.1h0.9M289.0 48.3h0.9M289.4 67.4h0.9M289.3 67.4h0.9M287.8 63.9h0.9M288.6 90.4h0.9M289.1 52.2h0.9M289.7 71.0h0.9M291.7 78.7h0.9M288.4 79.8h0.9M289.2 47.7h0.9M288.8 45.6h0.9M289.4 67.2h0.9M291.0 83.8h0.9M288.3 84.4h0.9M290.1 65.8h0.9M288.1 52.8h0.9M289.9 99.5h0.9M288.0 83.7h0.9M288.9 50.2h0.9M290.0 74.2h0.9M287.8 94.2h0.9M288.2 84.4h0.9M288.8 73.3h0.9M289.6 59.4h0.9M292.5 64.2h0.9M288.9 66.4h0.9M291.2 71.1h0.9M287.6 70.4h0.9M289.7 83.9h0.9M288.0 81.4h0.9M288.1 87.1h0.9M289.3 77.5h0.9M288.1 45.8h0.9M289.0 57.4h0.9M290.4 78.9h0.9M289.6 62.1h0.9M288.3 59.3h0.9M289.3 70.4h0.9M288.0 64.1h0.9M288.8 52.4h0.9M288.1 61.5h0.9" stroke="#111" stroke-opacity="0.58" stroke-width="0.9" fill="none" filter="url(#b0)"/>
<g clip-path="url(#c1)"><path d="M250.3 105V98Q250.5 75 262 73.6L267.2 73.4V105Z" fill="#d2d2d2" opacity="0.92" filter="url(#b3)"/></g>
<ellipse cx="283.8" cy="53.2" rx="2.5" ry="7.2" fill="#c0c0c0" opacity="0.85" filter="url(#b1)" transform="rotate(12 283.8 53.2)"/>
<rect x="241.7" y="15.3" width="89.3" height="89.1" fill="none" stroke="#505050" stroke-width="0.9"/><line x1="269.7" y1="15.3" x2="269.7" y2="104.4" stroke="#505050" stroke-width="0.85"/><line x1="241.7" y1="70.2" x2="331.0" y2="70.2" stroke="#505050" stroke-width="0.85"/><path d="M241.7 15.3h-1.2M241.7 17.5h-1.2M241.7 19.8h-1.2M241.7 22.0h-1.2M241.7 24.2h-1.2M241.7 26.4h-1.2M241.7 28.7h-1.2M241.7 30.9h-1.2M241.7 33.1h-1.2M241.7 35.3h-1.2M241.7 37.6h-1.2M241.7 39.8h-1.2M241.7 42.0h-1.2M241.7 44.3h-1.2M241.7 46.5h-1.2M241.7 48.7h-1.2M241.7 50.9h-1.2M241.7 53.2h-1.2M241.7 55.4h-1.2M241.7 57.6h-1.2M241.7 59.9h-1.2M241.7 62.1h-1.2M241.7 64.3h-1.2M241.7 66.5h-1.2M241.7 68.8h-1.2M241.7 71.0h-1.2M241.7 73.2h-1.2M241.7 75.4h-1.2M241.7 77.7h-1.2M241.7 79.9h-1.2M241.7 82.1h-1.2M241.7 84.4h-1.2M241.7 86.6h-1.2M241.7 88.8h-1.2M241.7 91.0h-1.2M241.7 93.3h-1.2M241.7 95.5h-1.2M241.7 97.7h-1.2M241.7 99.9h-1.2M241.7 102.2h-1.2M241.7 104.4h-1.2M241.7 104.4v1.2M243.9 104.4v1.2M246.2 104.4v1.2M248.4 104.4v1.2M250.6 104.4v1.2M252.9 104.4v1.2M255.1 104.4v1.2M257.3 104.4v1.2M259.6 104.4v1.2M261.8 104.4v1.2M264.0 104.4v1.2M266.3 104.4v1.2M268.5 104.4v1.2M270.7 104.4v1.2M273.0 104.4v1.2M275.2 104.4v1.2M277.4 104.4v1.2M279.7 104.4v1.2M281.9 104.4v1.2M284.1 104.4v1.2M286.4 104.4v1.2M288.6 104.4v1.2M290.8 104.4v1.2M293.0 104.4v1.2M295.3 104.4v1.2M297.5 104.4v1.2M299.7 104.4v1.2M302.0 104.4v1.2M304.2 104.4v1.2M306.4 104.4v1.2M308.7 104.4v1.2M310.9 104.4v1.2M313.1 104.4v1.2M315.4 104.4v1.2M317.6 104.4v1.2M319.8 104.4v1.2M322.1 104.4v1.2M324.3 104.4v1.2M326.5 104.4v1.2M328.8 104.4v1.2M331.0 104.4v1.2" stroke="#555" stroke-width="0.6" fill="none"/><text x="251.9" y="112.4" font-size="3.6" text-anchor="middle" fill="#111" stroke="none">0</text><text x="260.0" y="112.4" font-size="4.1" text-anchor="middle" fill="#000" stroke="none">10<tspan dy="-1.5" font-size="3">2</tspan></text><text x="282.0" y="112.4" font-size="4.1" text-anchor="middle" fill="#000" stroke="none">10<tspan dy="-1.5" font-size="3">3</tspan></text><text x="303.3" y="112.4" font-size="4.1" text-anchor="middle" fill="#000" stroke="none">10<tspan dy="-1.5" font-size="3">4</tspan></text><text x="323.5" y="112.4" font-size="4.1" text-anchor="middle" fill="#000" stroke="none">10<tspan dy="-1.5" font-size="3">5</tspan></text><text x="239.7" y="24.0" font-size="4.1" text-anchor="end" fill="#000" stroke="none">10<tspan dy="-1.5" font-size="3">5</tspan></text><text x="239.7" y="44.0" font-size="4.1" text-anchor="end" fill="#000" stroke="none">10<tspan dy="-1.5" font-size="3">4</tspan></text><text x="239.7" y="64.3" font-size="4.1" text-anchor="end" fill="#000" stroke="none">10<tspan dy="-1.5" font-size="3">3</tspan></text><text x="239.7" y="85.3" font-size="4.1" text-anchor="end" fill="#000" stroke="none">10<tspan dy="-1.5" font-size="3">2</tspan></text><text x="238.7" y="95.4" font-size="3.4" text-anchor="end" fill="#111" stroke="none">0</text><text x="243.7" y="19.6" font-size="4.1" text-anchor="start" fill="#111" stroke="none">1.44</text><text x="329.5" y="19.6" font-size="4.1" text-anchor="end" fill="#111" stroke="none"></text><text x="243.7" y="102.6" font-size="4.1" text-anchor="start" fill="#111" stroke="none">80.7</text><text x="329.5" y="102.6" font-size="4.1" text-anchor="end" fill="#111" stroke="none">7.88</text>
<rect x="269.8" y="38.4" width="22.9" height="25.8" fill="none" stroke="#1a1a1a" stroke-width="1.2"/>
<text x="329.3" y="25.0" font-size="8.00" text-anchor="end" font-weight="normal" fill="#111" textLength="8.8" lengthAdjust="spacingAndGlyphs" >10</text>
<line x1="226.4" y1="46.6" x2="226.4" y2="24.5" stroke="#111" stroke-width="1.30"/><polygon points="226.4,19.0 229.5,25.0 223.3,25.0" fill="#111"/>
<line x1="226.4" y1="78.5" x2="226.4" y2="103.5" stroke="#111" stroke-width="1.30"/>
<text x="0" y="0" transform="translate(229.6 65.3) rotate(-90)" font-size="8.70" text-anchor="middle" font-weight="normal" fill="#111" textLength="20.2" lengthAdjust="spacingAndGlyphs" >CD25</text>
<line x1="247.7" y1="121.3" x2="310.4" y2="121.3" stroke="#111" stroke-width="1.05"/>
<text x="317.8" y="121.5" font-size="8.30" text-anchor="start" font-weight="normal" fill="#111" textLength="23.2" lengthAdjust="spacingAndGlyphs" >Foxp3</text>
<line x1="348.5" y1="121.3" x2="438.7" y2="121.3" stroke="#111" stroke-width="1.05"/><polygon points="443.4,121.3 438.2,123.7 438.2,118.9" fill="#111"/>
<line x1="331.0" y1="65.2" x2="352.8" y2="65.2" stroke="#111" stroke-width="1.30"/><polygon points="358.3,65.2 352.3,67.7 352.3,62.7" fill="#111"/>
<text x="300.4" y="7.4" font-size="8.3" fill="#111" textLength="88" lengthAdjust="spacingAndGlyphs">Gated on CD25<tspan dy="-3.2" font-size="4.6">+</tspan><tspan dy="3.2">Foxp3</tspan><tspan dy="-3.2" font-size="4.6">+</tspan></text>
<line x1="297.4" y1="10.3" x2="285.0" y2="26.1" stroke="#111" stroke-width="1.40"/><polygon points="281.6,30.4 283.3,24.1 287.3,27.2" fill="#111"/>
<clipPath id="c2"><rect x="416" y="16" width="54" height="88"/></clipPath>
<g clip-path="url(#c2)"><ellipse cx="430" cy="73" rx="12" ry="22" fill="#555" opacity="0.18" filter="url(#b2)"/></g>
<path d="M426.4 84.5h0.8M421.1 66.2h0.8M423.5 69.9h0.8M435.7 69.1h0.8M434.9 84.0h0.8M429.0 55.2h0.8M435.9 57.1h0.8M423.0 84.4h0.8M430.7 60.0h0.8M427.3 87.2h0.8M437.2 60.0h0.8M426.2 61.1h0.8M432.0 87.7h0.8M435.1 71.4h0.8M417.0 97.3h0.8M428.2 83.1h0.8M442.8 87.7h0.8M432.1 91.1h0.8M421.9 93.0h0.8M440.5 90.3h0.8M437.9 77.7h0.8M421.5 72.6h0.8M442.3 83.5h0.8M432.4 43.4h0.8M441.4 72.0h0.8M431.0 68.2h0.8M421.6 82.1h0.8M442.3 92.3h0.8M422.2 57.6h0.8M417.7 81.6h0.8M430.6 59.9h0.8M432.5 55.7h0.8M425.3 103.8h0.8M441.8 70.9h0.8M428.4 82.8h0.8M443.2 59.8h0.8M432.5 69.1h0.8M429.7 84.1h0.8M446.2 86.7h0.8M439.8 62.8h0.8M455.9 69.7h0.8M440.6 51.7h0.8M416.5 92.7h0.8M430.1 84.9h0.8M418.5 77.7h0.8M431.7 89.8h0.8M431.8 74.8h0.8M421.4 89.5h0.8M423.5 68.1h0.8M432.3 70.0h0.8M428.7 67.8h0.8M433.2 65.1h0.8M418.2 57.2h0.8M434.2 65.0h0.8M422.9 76.2h0.8M434.6 69.3h0.8M424.5 50.9h0.8M429.4 73.2h0.8M432.8 47.4h0.8M427.4 61.3h0.8M432.1 61.8h0.8M438.3 78.2h0.8M442.4 89.9h0.8M425.7 90.9h0.8M423.9 76.3h0.8M442.3 71.0h0.8M435.7 46.5h0.8M434.6 82.5h0.8M440.8 79.6h0.8M430.0 66.1h0.8M444.6 74.9h0.8M420.4 100.7h0.8M435.1 60.4h0.8M436.4 60.7h0.8M418.3 78.7h0.8M420.4 70.1h0.8M418.5 57.3h0.8M431.4 57.9h0.8M438.7 57.8h0.8M441.7 86.8h0.8M422.8 63.4h0.8M443.6 65.0h0.8M435.1 71.0h0.8M428.9 66.5h0.8M428.5 65.5h0.8M419.4 51.4h0.8M437.7 92.5h0.8M419.3 60.4h0.8M428.6 102.1h0.8M427.7 66.7h0.8M441.4 75.7h0.8M431.2 94.1h0.8M426.2 68.6h0.8M426.0 81.8h0.8M436.0 85.8h0.8M427.0 92.1h0.8M428.8 76.9h0.8M421.0 76.7h0.8M437.1 88.5h0.8M429.2 95.3h0.8M436.2 67.5h0.8M441.2 63.8h0.8M422.6 85.3h0.8M423.5 60.1h0.8M429.8 67.8h0.8M436.2 87.3h0.8M421.4 71.5h0.8M435.8 98.0h0.8M417.4 60.5h0.8M422.9 72.9h0.8M426.7 76.2h0.8M439.3 61.0h0.8M423.1 86.4h0.8M434.7 62.6h0.8M428.8 81.9h0.8M426.1 101.5h0.8M437.8 68.5h0.8M428.8 52.6h0.8M418.6 70.5h0.8M430.3 79.7h0.8M432.4 68.1h0.8M420.1 62.7h0.8M437.0 48.8h0.8M436.3 56.4h0.8M443.1 63.8h0.8M426.9 97.5h0.8M423.5 68.3h0.8M432.1 44.6h0.8M438.7 80.9h0.8M442.3 89.0h0.8M445.2 82.3h0.8M418.4 90.2h0.8M426.8 51.4h0.8M439.6 83.2h0.8M430.8 53.0h0.8M429.7 94.9h0.8M420.5 59.1h0.8M450.0 54.5h0.8M419.3 75.0h0.8M421.0 67.1h0.8M426.9 80.0h0.8M418.6 66.7h0.8M422.2 58.6h0.8M429.1 72.9h0.8M417.9 90.2h0.8M423.7 98.3h0.8M424.8 63.3h0.8M436.3 73.4h0.8M430.1 76.2h0.8M440.6 81.1h0.8M434.5 88.8h0.8M442.6 64.8h0.8M417.2 59.4h0.8M448.0 85.6h0.8M425.3 67.4h0.8M429.6 73.1h0.8M439.5 65.3h0.8M427.8 98.7h0.8M426.9 91.1h0.8M426.2 83.0h0.8M433.5 65.8h0.8M422.0 83.1h0.8M421.2 50.2h0.8M415.8 85.2h0.8M431.8 72.9h0.8M427.2 91.0h0.8M435.6 67.2h0.8M428.0 62.9h0.8M424.7 94.4h0.8M426.9 82.1h0.8M428.7 87.8h0.8M439.2 53.8h0.8M419.6 80.8h0.8M428.0 70.8h0.8M435.4 80.5h0.8M441.4 77.1h0.8M423.8 65.4h0.8M425.1 82.6h0.8M427.6 67.4h0.8M428.6 94.2h0.8M425.3 102.8h0.8M423.8 89.4h0.8M432.8 62.2h0.8M422.8 99.5h0.8M426.9 77.8h0.8M422.6 81.8h0.8M422.6 89.7h0.8M428.5 89.7h0.8M437.7 90.6h0.8M423.7 87.1h0.8M432.2 46.6h0.8M444.5 82.9h0.8M423.2 65.9h0.8M426.1 83.1h0.8M421.7 77.1h0.8M431.1 70.6h0.8M428.9 88.9h0.8M417.3 70.1h0.8M432.9 90.0h0.8M435.3 89.1h0.8M425.8 80.5h0.8M420.8 62.6h0.8M441.6 85.3h0.8M439.2 95.2h0.8M434.4 64.6h0.8M439.3 86.1h0.8M441.8 70.5h0.8M419.3 86.4h0.8M444.0 62.9h0.8M420.4 91.9h0.8M444.9 74.5h0.8M426.9 66.1h0.8M432.7 71.2h0.8M429.0 71.9h0.8M426.8 81.2h0.8M429.3 82.2h0.8M435.3 88.3h0.8M428.6 72.5h0.8M433.0 84.0h0.8M436.8 80.9h0.8M423.9 57.8h0.8M437.8 47.2h0.8M433.8 68.7h0.8M425.7 66.8h0.8M434.6 74.6h0.8M425.6 59.7h0.8M440.1 81.8h0.8M432.9 92.7h0.8M447.2 82.1h0.8M429.8 63.8h0.8M435.4 90.3h0.8M419.1 87.1h0.8M440.0 62.9h0.8M426.0 65.1h0.8M435.1 100.9h0.8M426.5 66.8h0.8M442.4 79.1h0.8M441.3 72.2h0.8M423.1 69.2h0.8M442.9 73.0h0.8M443.8 65.2h0.8M434.4 72.5h0.8M433.7 81.3h0.8M421.4 83.8h0.8M423.6 69.0h0.8M418.6 69.9h0.8M430.9 56.3h0.8M436.4 86.9h0.8M431.0 89.4h0.8M434.5 78.5h0.8M440.6 85.8h0.8M421.1 60.3h0.8M417.1 68.1h0.8M419.9 64.3h0.8M430.3 78.5h0.8M433.1 73.7h0.8M436.6 64.3h0.8M428.8 90.1h0.8M422.9 80.6h0.8M421.5 65.4h0.8M424.8 74.2h0.8M432.2 62.3h0.8M432.0 64.9h0.8M421.4 91.5h0.8M420.0 80.4h0.8M422.5 42.8h0.8M447.8 75.9h0.8M437.7 76.1h0.8M425.4 95.6h0.8M425.3 73.4h0.8M435.4 50.9h0.8M427.7 75.5h0.8M424.5 80.8h0.8M437.2 46.1h0.8M439.6 57.5h0.8M431.8 51.2h0.8M431.9 96.1h0.8M424.2 62.9h0.8M448.0 80.4h0.8M446.4 65.9h0.8M450.6 67.9h0.8M442.6 96.8h0.8M420.4 84.8h0.8M429.3 90.5h0.8M429.7 72.8h0.8M434.5 69.9h0.8M419.1 79.7h0.8M423.1 62.8h0.8M422.7 72.6h0.8M440.5 75.3h0.8M435.1 100.6h0.8M420.6 65.3h0.8M442.3 67.9h0.8M418.0 73.4h0.8M437.1 72.1h0.8M431.8 78.6h0.8M434.7 62.3h0.8M429.1 63.2h0.8M434.4 85.4h0.8M435.3 80.3h0.8M440.3 72.9h0.8M429.9 75.8h0.8M433.7 74.2h0.8M440.8 77.0h0.8M431.9 81.8h0.8M428.0 56.3h0.8M417.7 76.5h0.8M429.2 79.6h0.8M431.5 67.8h0.8M440.3 66.3h0.8M415.9 74.4h0.8M423.9 76.9h0.8M425.3 82.9h0.8M422.7 58.6h0.8M442.0 74.0h0.8M425.3 83.4h0.8M442.5 48.5h0.8M427.1 52.1h0.8M432.2 63.3h0.8M436.6 64.9h0.8M427.8 79.9h0.8M427.9 84.4h0.8M431.9 75.3h0.8M425.7 87.1h0.8M426.9 91.5h0.8M448.5 61.3h0.8M420.0 66.2h0.8M431.5 66.6h0.8M427.3 81.9h0.8M442.0 73.7h0.8M421.1 86.4h0.8M437.1 71.2h0.8M429.9 54.7h0.8M433.9 60.4h0.8M421.1 52.0h0.8M424.9 49.7h0.8M435.0 87.9h0.8M427.8 71.4h0.8M420.9 75.8h0.8M449.2 74.9h0.8M421.1 64.3h0.8M434.7 81.4h0.8M419.5 73.5h0.8M437.4 65.4h0.8M432.2 62.7h0.8M440.9 68.0h0.8M443.2 75.7h0.8M424.7 59.8h0.8M429.5 52.0h0.8M431.7 77.9h0.8M441.0 77.1h0.8M430.2 82.8h0.8M429.5 82.7h0.8M428.4 69.7h0.8M420.0 90.7h0.8M434.2 50.7h0.8M434.8 74.9h0.8M439.9 61.3h0.8M421.1 68.1h0.8M430.9 83.8h0.8M439.5 68.1h0.8M433.5 54.0h0.8M435.9 90.2h0.8M434.8 61.5h0.8M431.6 97.2h0.8M419.5 86.9h0.8M430.3 91.5h0.8M427.5 96.3h0.8M429.5 80.9h0.8M442.1 82.2h0.8M417.2 63.3h0.8M424.6 61.9h0.8M434.0 82.9h0.8M432.0 86.8h0.8M447.8 71.1h0.8M426.0 47.1h0.8M432.7 77.0h0.8M427.5 87.0h0.8M429.1 68.1h0.8M430.8 89.2h0.8M440.3 70.4h0.8M421.2 78.3h0.8M421.7 96.3h0.8M426.1 75.3h0.8M436.2 93.1h0.8M446.8 91.4h0.8M438.8 86.0h0.8M418.1 61.4h0.8M430.7 55.1h0.8M436.6 99.4h0.8M416.2 91.8h0.8M425.2 79.8h0.8M431.5 80.2h0.8M427.1 68.6h0.8M425.8 74.7h0.8M435.3 59.4h0.8M431.4 60.2h0.8M433.8 70.8h0.8M429.1 84.0h0.8M439.4 53.3h0.8M431.3 73.7h0.8M433.2 80.7h0.8M432.2 77.7h0.8M436.8 68.5h0.8M451.2 66.2h0.8M442.8 85.3h0.8M430.4 84.1h0.8M440.5 66.6h0.8M420.9 75.3h0.8M427.2 65.8h0.8M434.5 87.7h0.8M427.1 79.2h0.8M422.7 54.6h0.8M445.4 69.4h0.8M437.3 56.4h0.8M421.1 69.1h0.8M430.6 69.6h0.8M429.9 60.2h0.8M441.0 84.9h0.8M436.3 98.3h0.8M443.8 76.4h0.8M421.7 66.2h0.8M430.6 93.3h0.8M425.8 90.3h0.8M427.5 71.2h0.8M434.1 93.2h0.8M425.4 50.4h0.8M442.3 72.8h0.8M447.9 66.5h0.8M434.5 95.9h0.8M432.1 54.5h0.8M441.4 72.7h0.8M420.5 57.6h0.8M422.1 90.2h0.8M429.5 81.3h0.8M418.8 83.5h0.8M442.0 57.4h0.8M440.3 80.5h0.8M440.4 64.0h0.8M417.7 90.9h0.8M444.4 79.2h0.8M431.3 85.6h0.8M423.2 76.7h0.8M420.2 75.8h0.8M425.3 53.8h0.8M430.5 70.4h0.8M423.3 90.4h0.8M427.3 76.0h0.8M430.7 59.4h0.8M434.9 82.7h0.8M440.6 60.2h0.8M450.1 78.2h0.8M450.8 60.8h0.8M424.3 86.6h0.8M432.3 76.4h0.8M432.1 66.5h0.8M442.0 67.4h0.8M428.6 84.1h0.8M428.5 79.7h0.8M423.5 98.0h0.8M446.6 90.4h0.8M430.0 75.7h0.8M420.5 69.6h0.8M428.4 64.2h0.8M438.3 76.0h0.8M432.1 88.6h0.8M428.3 67.8h0.8M439.3 78.7h0.8M416.4 67.5h0.8M438.7 92.8h0.8M423.1 63.7h0.8M423.3 84.2h0.8M434.9 74.5h0.8M427.1 95.7h0.8M419.3 71.8h0.8M419.7 92.1h0.8M425.1 73.4h0.8M428.3 61.9h0.8M437.4 71.2h0.8M432.6 76.3h0.8M430.2 91.6h0.8M433.5 89.2h0.8M434.0 72.6h0.8M419.3 82.1h0.8M431.6 61.1h0.8M431.0 84.1h0.8M420.3 85.8h0.8M443.9 86.8h0.8M440.7 58.5h0.8M429.7 89.9h0.8M428.8 74.7h0.8M418.9 73.8h0.8M430.9 78.3h0.8M443.8 80.3h0.8M434.6 56.8h0.8M422.6 58.8h0.8M431.1 72.7h0.8M448.5 75.8h0.8M431.1 77.1h0.8M416.2 73.8h0.8M441.7 103.8h0.8M438.0 71.6h0.8M442.6 73.0h0.8M436.1 66.5h0.8M418.9 69.7h0.8M428.0 76.6h0.8M422.4 64.9h0.8M420.5 88.1h0.8M423.9 56.1h0.8M429.8 76.2h0.8M445.7 83.8h0.8M431.8 77.6h0.8M448.4 70.5h0.8M447.4 84.2h0.8M443.8 76.5h0.8M434.2 55.2h0.8M437.9 84.3h0.8M440.2 66.6h0.8M435.2 73.6h0.8M437.8 84.3h0.8M426.9 54.4h0.8M441.4 98.1h0.8M427.7 72.7h0.8M420.3 67.2h0.8M419.0 65.0h0.8M431.5 83.8h0.8M441.9 60.5h0.8M416.2 87.7h0.8M419.8 70.5h0.8M420.0 75.3h0.8M435.3 48.7h0.8M422.8 76.5h0.8M445.1 71.2h0.8M434.4 72.3h0.8M426.0 81.1h0.8M422.2 90.5h0.8M436.1 62.5h0.8M423.7 71.6h0.8M420.3 78.3h0.8M430.1 82.7h0.8M427.0 61.7h0.8M431.5 65.2h0.8M427.4 53.2h0.8M429.7 52.2h0.8M436.4 51.6h0.8M419.4 74.7h0.8M423.0 59.5h0.8M431.9 49.9h0.8M438.2 85.1h0.8M442.3 90.4h0.8M421.8 67.4h0.8M424.2 63.0h0.8M430.7 53.6h0.8M432.6 97.6h0.8M431.4 65.2h0.8M436.1 73.6h0.8M428.3 88.3h0.8M439.8 80.7h0.8M424.9 56.6h0.8M433.8 65.0h0.8M420.3 44.1h0.8M438.2 96.0h0.8M444.5 82.4h0.8M436.3 67.6h0.8M439.9 86.4h0.8M420.6 82.7h0.8M447.6 70.0h0.8M434.0 82.6h0.8M433.2 77.0h0.8M435.2 77.7h0.8M433.8 82.5h0.8M438.7 68.3h0.8M441.8 68.6h0.8M419.1 89.1h0.8M437.5 76.1h0.8M424.3 96.5h0.8M438.6 83.0h0.8M441.4 89.5h0.8M417.0 96.5h0.8M422.3 82.6h0.8M427.3 91.4h0.8M440.3 68.0h0.8M427.9 72.1h0.8M423.1 66.5h0.8M432.3 67.3h0.8M428.1 81.8h0.8M424.8 76.3h0.8M440.9 58.1h0.8M430.5 54.8h0.8M424.2 92.8h0.8M429.9 80.1h0.8M438.4 73.8h0.8M416.6 60.3h0.8M421.8 61.7h0.8M420.8 77.6h0.8M451.2 59.8h0.8M435.8 72.5h0.8M419.8 83.0h0.8M443.7 80.7h0.8M421.3 86.2h0.8M438.5 73.1h0.8M426.2 64.5h0.8M424.2 84.2h0.8M429.0 90.4h0.8M436.7 71.7h0.8M425.6 45.3h0.8M429.9 79.5h0.8M419.1 77.1h0.8M441.4 81.3h0.8M428.7 53.3h0.8M430.1 70.6h0.8M425.2 83.7h0.8M444.8 73.0h0.8M439.8 98.2h0.8M429.3 89.3h0.8M417.7 76.8h0.8M417.7 84.2h0.8M419.2 91.6h0.8M428.3 82.1h0.8M436.8 81.2h0.8M428.3 85.1h0.8M420.5 96.4h0.8M430.0 78.8h0.8M436.9 77.2h0.8M439.8 74.2h0.8M441.6 93.8h0.8M420.9 99.1h0.8M441.0 60.0h0.8M429.3 86.6h0.8M436.0 58.2h0.8M442.6 61.9h0.8M422.8 83.2h0.8M435.1 98.3h0.8M425.4 80.3h0.8M444.0 81.0h0.8M428.2 45.2h0.8M418.7 56.7h0.8M436.1 83.1h0.8M416.8 59.0h0.8M439.6 78.0h0.8M438.0 56.7h0.8M432.0 42.4h0.8M444.7 91.0h0.8M433.7 81.9h0.8M432.6 93.4h0.8M421.5 76.2h0.8M432.7 65.2h0.8M437.7 98.1h0.8M428.4 75.1h0.8M420.0 64.7h0.8M437.1 68.1h0.8M429.8 66.1h0.8M429.9 67.7h0.8M432.7 50.5h0.8M440.4 80.0h0.8M447.4 62.3h0.8M423.7 57.5h0.8M438.5 85.2h0.8M427.9 91.9h0.8M441.5 64.6h0.8M438.7 57.7h0.8M443.7 78.0h0.8M423.1 57.5h0.8M431.2 53.7h0.8M428.4 75.3h0.8M446.2 95.5h0.8M418.7 68.3h0.8M428.9 79.4h0.8M440.7 77.7h0.8M428.0 88.9h0.8M436.3 82.2h0.8M435.0 82.8h0.8M430.5 83.9h0.8M429.2 93.6h0.8M431.2 82.4h0.8M430.0 95.0h0.8M420.7 59.7h0.8M417.9 92.4h0.8M427.5 78.1h0.8M434.7 101.0h0.8M444.2 75.3h0.8M429.1 66.5h0.8M422.8 74.0h0.8M435.5 83.9h0.8M422.9 51.8h0.8M430.8 78.0h0.8M439.8 81.9h0.8M434.2 76.9h0.8M432.0 55.2h0.8M423.5 87.6h0.8M438.5 53.4h0.8M432.6 58.1h0.8M416.2 64.4h0.8M445.5 84.8h0.8M437.4 58.9h0.8M424.5 92.3h0.8M436.6 55.3h0.8M418.5 83.4h0.8M428.5 69.7h0.8M420.1 96.5h0.8M424.6 76.4h0.8M441.2 61.8h0.8M425.5 67.5h0.8M418.1 87.1h0.8M428.4 93.6h0.8M442.7 58.8h0.8M431.6 66.6h0.8M442.8 76.4h0.8M433.0 39.1h0.8M441.6 52.8h0.8M435.6 66.3h0.8M434.0 48.4h0.8M436.3 81.3h0.8M433.5 71.4h0.8M425.0 65.8h0.8M446.8 65.6h0.8M428.2 55.9h0.8M440.9 78.0h0.8M444.1 84.4h0.8M423.4 101.0h0.8M445.6 64.9h0.8M431.9 82.9h0.8M417.6 76.6h0.8M443.4 87.1h0.8M429.8 99.0h0.8M435.8 83.8h0.8M438.1 90.7h0.8M423.2 76.7h0.8M445.9 56.5h0.8M419.4 51.3h0.8M427.4 90.6h0.8M419.7 65.3h0.8M428.0 58.9h0.8M442.8 84.6h0.8M431.6 80.1h0.8M435.6 68.4h0.8M421.9 95.9h0.8M422.1 89.6h0.8M437.8 59.2h0.8M439.1 72.6h0.8M418.1 90.1h0.8M427.9 57.7h0.8M444.0 60.4h0.8M418.8 74.7h0.8M425.0 48.7h0.8M427.1 61.5h0.8M434.7 68.6h0.8M429.1 80.7h0.8M427.4 78.3h0.8M450.5 66.7h0.8M423.5 64.4h0.8M436.5 82.5h0.8M431.6 72.8h0.8M422.2 85.1h0.8M437.2 66.0h0.8M435.1 77.8h0.8M445.5 69.9h0.8M437.5 82.6h0.8M431.4 86.2h0.8M447.2 76.5h0.8M426.8 82.0h0.8M427.6 70.3h0.8M423.4 69.6h0.8M434.4 82.2h0.8M434.2 98.9h0.8M428.1 62.2h0.8M434.1 95.1h0.8M420.4 69.6h0.8M418.2 91.4h0.8M431.0 74.4h0.8M438.4 87.9h0.8M434.6 65.6h0.8M423.3 93.6h0.8M433.8 74.3h0.8M421.1 51.5h0.8M425.6 78.5h0.8M433.2 82.7h0.8M438.3 72.7h0.8M429.9 84.9h0.8M441.6 87.9h0.8M426.3 70.2h0.8M445.2 67.6h0.8M430.1 86.8h0.8M438.1 78.4h0.8M440.3 89.2h0.8M434.1 76.8h0.8M424.5 90.2h0.8M418.1 56.8h0.8M440.7 48.1h0.8M421.0 60.5h0.8M429.3 79.9h0.8M430.0 87.9h0.8M429.8 60.8h0.8M425.8 79.0h0.8M433.8 73.6h0.8M432.7 60.2h0.8M432.4 76.5h0.8M441.2 77.2h0.8M433.1 85.3h0.8M429.5 44.4h0.8M442.5 83.5h0.8M419.3 88.4h0.8M441.0 95.8h0.8M436.3 67.1h0.8M447.3 77.7h0.8M440.5 81.4h0.8M433.4 78.2h0.8M422.9 78.8h0.8M446.7 76.3h0.8M422.3 98.7h0.8M417.3 54.1h0.8M438.1 98.1h0.8M429.2 58.1h0.8M431.5 63.8h0.8M430.1 39.7h0.8M426.6 66.4h0.8M435.9 70.3h0.8M439.8 78.7h0.8M443.8 71.2h0.8M425.8 68.2h0.8M442.4 79.4h0.8M417.5 58.3h0.8M435.4 75.1h0.8M418.9 100.0h0.8M441.4 47.0h0.8M431.7 96.1h0.8M447.5 78.8h0.8M450.0 49.5h0.8M428.1 74.9h0.8M426.6 102.2h0.8M429.2 57.9h0.8M435.5 55.8h0.8M441.5 75.2h0.8M434.2 68.9h0.8M421.6 76.7h0.8M425.0 65.9h0.8M423.4 91.5h0.8M424.2 68.4h0.8M422.8 75.3h0.8M427.1 74.7h0.8M444.5 84.4h0.8M420.1 85.4h0.8M430.9 68.4h0.8M429.4 81.8h0.8M437.8 72.3h0.8M438.1 61.7h0.8M431.0 79.7h0.8M430.6 66.8h0.8M447.9 77.2h0.8M419.4 69.0h0.8M426.0 80.2h0.8M437.3 97.3h0.8M435.5 82.9h0.8M421.6 56.0h0.8M427.6 53.1h0.8M446.1 60.7h0.8M449.0 68.8h0.8M426.9 89.8h0.8M428.0 78.7h0.8M419.5 83.4h0.8M432.1 103.7h0.8M428.7 72.1h0.8M427.9 99.8h0.8M431.2 76.9h0.8M432.7 103.7h0.8M433.1 85.5h0.8M444.9 75.8h0.8M428.5 50.6h0.8M439.6 91.9h0.8M425.7 63.4h0.8M437.5 72.1h0.8M419.8 73.3h0.8M426.3 40.5h0.8M442.2 83.5h0.8M441.8 75.6h0.8M437.9 80.3h0.8M428.3 71.8h0.8M429.6 64.1h0.8M420.9 70.1h0.8M433.6 60.0h0.8M421.4 56.3h0.8M436.9 51.4h0.8M437.6 78.4h0.8M431.1 74.9h0.8M429.5 56.6h0.8M428.8 83.2h0.8M427.6 90.6h0.8M430.6 83.6h0.8M428.7 59.8h0.8M421.8 64.3h0.8M417.2 78.0h0.8M434.0 89.4h0.8M438.5 94.5h0.8M433.0 70.1h0.8M428.7 52.6h0.8M422.6 69.2h0.8M434.6 90.3h0.8M428.1 68.7h0.8M436.8 53.2h0.8M431.4 99.7h0.8M444.5 80.1h0.8M442.9 75.6h0.8M434.4 54.2h0.8M431.4 67.6h0.8M433.0 83.0h0.8M428.0 46.8h0.8M447.2 87.6h0.8M428.5 90.5h0.8M422.6 62.8h0.8M426.4 91.2h0.8M421.6 81.0h0.8M425.9 77.1h0.8M420.3 81.7h0.8M428.8 61.3h0.8M427.3 55.3h0.8M437.1 57.9h0.8M444.7 82.7h0.8M416.5 72.1h0.8M432.8 69.1h0.8M425.9 91.2h0.8M416.8 77.5h0.8M419.6 79.0h0.8M419.7 69.2h0.8M434.5 67.6h0.8M432.0 77.1h0.8M418.0 65.6h0.8M427.9 54.7h0.8M431.1 61.7h0.8M441.1 54.6h0.8M429.6 70.3h0.8M449.8 89.3h0.8M417.3 64.9h0.8M431.9 94.2h0.8M439.0 86.1h0.8M429.4 60.1h0.8M424.2 73.7h0.8M435.4 78.1h0.8M431.0 92.6h0.8M420.3 85.8h0.8M423.2 55.4h0.8M419.9 79.2h0.8M432.5 89.1h0.8M427.7 102.8h0.8M440.4 86.2h0.8M433.4 66.8h0.8M429.9 80.2h0.8M439.9 61.7h0.8M433.0 62.8h0.8M416.8 83.3h0.8M435.5 73.4h0.8M433.5 59.5h0.8M435.4 95.4h0.8M438.8 79.0h0.8M425.9 83.0h0.8M427.5 92.0h0.8M427.6 75.3h0.8M431.3 98.0h0.8M432.7 91.6h0.8M419.4 88.3h0.8M430.0 71.0h0.8M428.1 86.7h0.8M419.2 80.0h0.8M417.2 81.3h0.8M425.4 87.9h0.8M433.5 48.1h0.8M432.8 89.4h0.8M428.9 61.9h0.8M419.8 95.9h0.8M415.9 84.1h0.8M430.5 52.1h0.8M429.3 96.8h0.8M422.2 78.1h0.8M427.3 68.3h0.8M423.8 64.3h0.8M427.1 73.5h0.8M420.6 75.7h0.8M437.3 71.2h0.8M438.7 76.5h0.8M434.7 101.0h0.8M434.9 87.8h0.8M433.1 74.0h0.8M429.9 95.4h0.8M422.3 61.1h0.8M427.8 54.3h0.8M420.4 49.9h0.8M430.6 102.9h0.8M442.8 80.9h0.8M430.5 53.6h0.8M431.4 54.5h0.8M438.8 70.5h0.8M415.9 76.0h0.8M439.7 61.8h0.8M433.8 59.5h0.8M416.8 98.0h0.8M440.5 63.5h0.8M438.6 48.1h0.8M431.1 79.9h0.8M435.8 76.1h0.8M439.3 63.7h0.8M419.5 66.4h0.8M430.3 70.6h0.8M425.1 74.0h0.8M438.6 72.7h0.8M439.5 73.9h0.8M437.5 89.6h0.8M424.0 68.3h0.8M435.6 60.1h0.8M439.0 52.9h0.8M424.9 85.6h0.8M435.2 87.6h0.8M434.3 81.6h0.8M424.6 58.9h0.8M433.8 65.5h0.8M425.0 52.8h0.8M438.3 74.8h0.8M425.5 49.9h0.8M426.7 90.5h0.8M438.6 74.1h0.8M434.7 79.9h0.8M425.2 75.7h0.8M425.1 59.1h0.8M434.5 69.5h0.8M443.3 75.8h0.8M443.8 83.4h0.8M425.9 87.0h0.8M419.9 77.2h0.8M431.6 47.2h0.8M431.0 76.4h0.8M426.4 50.3h0.8M445.8 72.5h0.8M442.0 51.9h0.8M424.8 73.8h0.8M441.0 53.7h0.8M444.6 63.1h0.8M434.8 89.1h0.8M419.6 57.3h0.8M449.8 72.4h0.8M428.4 77.3h0.8M424.8 82.3h0.8M427.8 58.3h0.8M437.1 61.9h0.8M427.9 80.2h0.8M430.0 60.5h0.8M439.2 84.2h0.8M446.3 84.4h0.8M423.8 95.2h0.8M424.7 93.4h0.8M442.9 85.7h0.8M415.9 91.9h0.8M433.9 74.6h0.8M438.7 80.1h0.8M422.7 87.0h0.8M427.1 90.4h0.8M425.6 70.4h0.8M436.7 60.1h0.8M437.8 100.7h0.8M436.3 80.1h0.8M436.3 68.0h0.8M421.0 83.2h0.8M450.3 83.6h0.8M427.0 74.4h0.8M431.1 74.1h0.8M435.8 63.6h0.8M425.5 66.5h0.8M429.7 58.3h0.8M429.2 97.8h0.8M422.7 86.3h0.8M421.2 93.8h0.8M446.0 65.1h0.8M430.9 71.6h0.8M429.3 85.7h0.8M434.9 57.9h0.8M433.7 60.9h0.8M436.7 77.0h0.8M437.2 68.9h0.8M430.7 79.0h0.8M440.1 63.9h0.8M437.9 66.8h0.8M423.0 62.9h0.8M420.6 60.3h0.8M433.0 90.1h0.8M426.7 73.8h0.8M438.8 63.2h0.8M430.6 83.9h0.8M424.8 54.1h0.8M429.0 90.8h0.8M430.3 74.3h0.8M429.9 62.6h0.8M423.8 68.0h0.8M431.6 80.0h0.8M434.4 71.4h0.8M444.5 67.6h0.8M424.8 60.0h0.8M428.3 99.5h0.8M431.3 87.4h0.8M430.1 63.1h0.8M439.4 84.8h0.8M426.6 82.9h0.8M433.1 95.0h0.8M425.5 86.9h0.8M426.5 70.5h0.8M421.3 89.1h0.8M418.0 57.1h0.8M432.4 77.0h0.8M425.7 59.6h0.8M430.0 85.7h0.8M425.7 57.4h0.8M424.5 77.2h0.8M435.7 83.6h0.8M423.2 72.7h0.8M434.7 95.7h0.8M422.1 89.4h0.8M434.7 66.9h0.8M420.5 78.2h0.8M443.7 54.2h0.8M434.1 72.2h0.8M423.4 60.5h0.8M420.0 86.9h0.8M427.4 88.3h0.8M430.4 70.7h0.8M436.1 49.2h0.8M432.5 57.8h0.8M427.0 90.2h0.8M431.4 80.2h0.8M435.9 90.8h0.8M440.0 86.5h0.8M429.3 60.7h0.8M434.7 62.6h0.8M437.4 80.8h0.8M437.0 59.0h0.8M427.7 82.9h0.8M426.5 68.0h0.8M429.6 58.6h0.8M437.7 81.5h0.8M424.5 82.7h0.8M419.5 87.8h0.8M430.0 96.1h0.8M426.5 91.7h0.8M439.4 56.7h0.8M428.1 61.1h0.8M424.5 95.9h0.8M437.4 77.3h0.8M437.5 48.8h0.8M418.6 68.6h0.8M435.8 87.0h0.8M439.9 62.2h0.8M440.5 61.3h0.8M424.0 69.7h0.8M420.0 44.4h0.8M427.8 63.7h0.8M446.7 93.0h0.8M438.0 83.7h0.8M432.1 82.9h0.8M428.1 80.5h0.8M423.9 83.0h0.8M437.2 92.5h0.8M433.4 81.6h0.8M431.5 81.4h0.8M430.9 100.4h0.8M436.2 53.8h0.8M432.8 75.8h0.8M439.9 99.5h0.8M427.8 58.4h0.8M438.4 89.7h0.8M440.9 37.8h0.8M444.0 92.1h0.8M424.3 65.5h0.8M416.0 80.0h0.8M435.5 70.7h0.8M417.3 95.3h0.8M437.9 102.4h0.8M426.9 69.9h0.8M428.7 83.0h0.8M419.1 79.0h0.8M423.2 41.1h0.8M441.1 51.7h0.8M439.4 54.7h0.8M437.5 88.4h0.8M432.3 66.4h0.8M421.3 81.1h0.8M425.9 86.9h0.8M433.4 78.6h0.8M422.8 85.5h0.8M421.9 89.4h0.8M440.5 74.7h0.8M422.2 82.8h0.8M428.6 60.6h0.8M427.2 56.6h0.8M428.7 57.4h0.8M435.6 65.1h0.8M440.1 91.3h0.8M428.0 58.1h0.8M427.5 79.1h0.8M440.6 75.0h0.8M431.2 92.2h0.8M425.4 101.8h0.8M446.3 75.0h0.8M439.8 98.0h0.8M422.5 84.2h0.8M433.1 65.1h0.8M446.1 74.2h0.8M430.1 74.2h0.8M438.8 88.9h0.8M420.5 61.1h0.8M433.8 61.1h0.8M441.8 102.8h0.8M423.6 60.8h0.8M435.3 67.9h0.8M427.5 86.1h0.8M430.8 83.9h0.8M433.3 89.6h0.8M427.4 92.5h0.8M420.5 86.4h0.8M436.6 68.3h0.8M436.0 66.2h0.8M439.7 92.2h0.8M438.3 90.1h0.8M436.2 90.2h0.8M417.6 72.2h0.8M436.3 89.9h0.8M431.9 80.2h0.8M434.0 56.8h0.8M432.7 52.0h0.8M436.6 57.7h0.8M419.7 63.3h0.8M424.8 61.9h0.8M419.9 83.9h0.8M420.6 71.2h0.8M423.7 53.9h0.8M437.0 92.9h0.8M417.1 90.0h0.8M433.9 83.2h0.8M427.5 91.4h0.8M437.4 69.1h0.8M426.7 64.3h0.8M434.7 103.1h0.8M446.7 60.2h0.8M429.7 69.0h0.8M416.9 87.2h0.8M435.9 84.7h0.8M437.2 72.6h0.8M433.1 76.2h0.8M442.3 100.3h0.8M434.2 70.7h0.8M415.8 70.5h0.8M432.6 77.2h0.8M441.3 97.5h0.8M424.2 87.4h0.8M432.3 63.7h0.8M421.6 85.1h0.8M422.8 78.9h0.8M440.7 94.4h0.8M428.2 68.9h0.8M442.2 80.5h0.8M430.6 76.6h0.8M418.7 69.7h0.8M418.9 94.8h0.8M425.0 63.8h0.8M431.2 51.8h0.8M447.6 65.6h0.8M436.1 101.8h0.8M433.4 99.6h0.8M436.9 64.7h0.8M433.2 80.1h0.8M430.0 79.8h0.8M432.9 82.3h0.8M442.5 53.3h0.8M427.0 71.3h0.8M437.0 65.7h0.8M435.1 57.7h0.8M435.5 86.1h0.8M433.5 71.7h0.8M424.6 50.5h0.8M441.6 68.5h0.8M423.9 79.8h0.8M446.3 73.6h0.8M445.8 68.5h0.8M427.8 64.4h0.8M436.7 98.8h0.8M433.2 88.1h0.8M434.5 87.4h0.8M434.5 79.9h0.8M421.7 66.2h0.8M434.8 86.6h0.8M438.7 89.0h0.8M431.7 69.9h0.8M447.9 57.4h0.8M433.5 64.8h0.8M426.8 78.0h0.8M435.4 85.8h0.8M422.8 84.7h0.8M420.5 68.0h0.8M428.4 54.1h0.8M417.8 65.4h0.8M427.4 70.0h0.8M443.8 66.9h0.8M439.1 75.9h0.8M451.0 67.9h0.8M441.7 69.9h0.8M424.5 63.8h0.8M445.5 71.6h0.8M426.0 75.3h0.8M431.0 67.1h0.8M428.8 77.2h0.8M448.6 77.2h0.8M428.3 75.5h0.8M419.2 77.0h0.8M424.5 77.8h0.8M453.6 60.5h0.8M431.4 80.7h0.8M431.6 87.3h0.8M416.1 68.6h0.8M445.2 100.1h0.8M422.0 78.9h0.8M426.3 64.6h0.8M424.4 71.9h0.8M429.4 97.2h0.8M448.7 80.4h0.8M440.7 83.5h0.8M435.0 62.3h0.8M448.1 71.7h0.8M435.8 77.6h0.8M438.3 88.1h0.8M438.5 73.5h0.8M433.4 58.1h0.8M440.0 56.0h0.8M436.3 76.1h0.8M435.3 72.9h0.8M425.3 54.8h0.8M442.0 68.6h0.8M443.8 85.1h0.8M417.8 87.2h0.8M419.8 64.1h0.8M441.1 78.4h0.8M426.5 64.5h0.8M429.5 72.0h0.8M436.3 91.7h0.8M434.5 81.5h0.8M430.9 76.6h0.8M442.2 80.1h0.8M437.1 68.6h0.8M421.8 88.9h0.8M440.2 65.8h0.8M421.4 66.1h0.8M436.2 80.4h0.8M445.1 68.0h0.8M429.6 53.8h0.8M443.1 71.2h0.8M433.7 81.9h0.8M422.6 65.7h0.8M428.0 78.7h0.8M429.8 65.8h0.8M422.1 71.7h0.8M424.5 89.7h0.8M425.7 67.0h0.8M416.8 86.8h0.8M419.9 95.5h0.8M423.6 66.2h0.8M418.6 69.3h0.8M428.8 81.6h0.8M418.5 91.0h0.8M432.8 93.5h0.8M430.4 72.7h0.8M422.1 84.8h0.8M420.2 68.3h0.8M422.4 71.3h0.8M420.2 84.7h0.8M436.0 78.6h0.8M437.2 70.6h0.8M441.8 61.2h0.8M426.9 62.0h0.8M430.3 92.1h0.8M423.7 94.7h0.8M435.7 64.8h0.8M421.7 86.0h0.8M420.7 78.3h0.8M422.5 64.7h0.8M419.9 73.7h0.8M448.6 87.0h0.8M439.7 74.7h0.8M433.6 72.8h0.8M440.6 74.9h0.8M429.1 86.6h0.8M431.8 75.0h0.8M429.4 66.7h0.8M425.0 76.1h0.8M424.0 60.8h0.8M448.1 70.2h0.8M439.5 79.1h0.8M433.2 58.2h0.8M419.5 68.8h0.8M419.0 87.3h0.8M436.3 83.3h0.8M419.6 71.1h0.8M419.9 96.2h0.8M431.7 65.3h0.8M430.4 83.5h0.8M431.9 91.3h0.8M436.8 78.7h0.8M431.9 64.6h0.8M424.1 73.9h0.8M427.5 90.8h0.8M441.7 53.1h0.8M443.5 81.2h0.8M423.0 91.3h0.8M433.2 100.9h0.8M428.9 50.2h0.8M436.0 98.5h0.8M428.9 75.9h0.8M419.9 57.7h0.8M433.5 90.4h0.8M432.5 99.9h0.8M433.6 94.8h0.8M434.7 88.4h0.8M437.7 62.2h0.8M418.9 98.9h0.8M437.4 59.7h0.8M441.2 98.9h0.8M428.8 59.4h0.8M420.4 89.3h0.8M430.1 94.1h0.8M432.0 87.2h0.8M420.8 66.3h0.8M416.9 61.1h0.8M423.2 87.8h0.8M418.0 91.2h0.8M424.0 68.1h0.8M438.0 83.6h0.8M431.8 70.6h0.8M434.6 73.5h0.8M427.9 94.7h0.8M419.6 84.2h0.8M415.8 66.9h0.8M439.9 86.4h0.8M445.5 87.9h0.8M439.2 73.9h0.8M422.6 101.8h0.8M426.6 72.8h0.8M423.1 70.4h0.8M431.7 61.6h0.8M432.7 63.9h0.8M428.6 74.7h0.8M421.7 75.1h0.8M427.7 86.2h0.8M432.2 74.1h0.8M429.8 75.6h0.8M421.8 64.4h0.8M434.6 89.7h0.8M427.2 95.8h0.8M437.2 102.4h0.8M442.8 60.6h0.8M442.5 61.1h0.8M452.9 81.8h0.8M428.3 65.0h0.8M423.3 83.2h0.8M425.3 91.5h0.8M443.9 62.5h0.8M424.8 72.4h0.8M429.9 53.6h0.8M428.3 77.8h0.8M421.0 71.0h0.8M423.1 57.6h0.8M429.9 77.1h0.8M424.1 81.5h0.8M451.2 87.9h0.8M434.3 60.5h0.8M426.6 88.7h0.8M440.0 77.6h0.8M425.9 65.8h0.8M437.2 69.7h0.8M440.2 83.2h0.8M430.3 92.0h0.8M438.9 98.0h0.8M419.6 71.5h0.8M447.3 72.3h0.8M428.6 83.3h0.8M429.1 85.0h0.8M427.9 70.5h0.8M424.6 63.0h0.8M420.2 73.5h0.8M437.2 79.6h0.8M431.0 83.9h0.8M438.3 65.1h0.8M425.3 94.5h0.8M430.6 82.5h0.8M421.0 87.2h0.8M437.8 75.7h0.8M428.1 75.5h0.8M434.8 67.4h0.8M436.6 65.8h0.8M450.9 77.2h0.8M425.2 84.7h0.8M437.8 55.6h0.8M446.0 71.9h0.8M417.1 75.5h0.8M429.0 69.1h0.8M439.1 95.4h0.8M423.3 73.9h0.8M428.7 89.4h0.8M421.6 67.6h0.8M425.8 70.9h0.8M444.3 79.2h0.8M425.7 79.9h0.8M427.8 89.7h0.8M423.4 66.0h0.8M434.3 75.6h0.8M440.7 69.9h0.8M435.5 60.9h0.8M437.1 73.8h0.8M434.9 83.2h0.8M421.7 76.2h0.8M438.3 100.7h0.8M419.8 86.0h0.8M438.9 83.4h0.8M422.0 96.0h0.8M418.2 69.5h0.8M422.9 93.2h0.8M446.0 59.2h0.8M426.2 83.4h0.8M430.4 70.6h0.8M432.1 85.1h0.8M431.0 93.8h0.8M434.0 58.7h0.8M417.6 60.4h0.8M430.1 72.2h0.8M421.5 60.7h0.8M439.8 53.5h0.8M440.2 86.7h0.8M418.0 57.1h0.8M422.8 63.8h0.8M430.9 49.1h0.8M435.8 94.3h0.8M422.6 94.8h0.8M433.1 66.4h0.8M420.9 77.7h0.8M426.6 96.4h0.8M437.1 64.0h0.8M422.1 98.4h0.8M434.8 68.3h0.8M441.4 73.6h0.8M430.5 103.9h0.8M426.8 61.0h0.8M427.1 79.0h0.8M431.7 67.9h0.8M434.4 62.6h0.8M434.7 71.4h0.8M430.7 77.1h0.8M428.2 87.4h0.8M426.2 59.2h0.8M431.4 85.3h0.8M443.5 65.2h0.8M425.0 102.3h0.8M436.3 88.3h0.8M441.8 61.2h0.8M428.7 90.6h0.8M431.4 67.0h0.8M438.3 69.1h0.8M441.8 85.3h0.8M437.1 60.3h0.8M443.7 79.2h0.8M442.3 80.5h0.8M428.8 69.2h0.8M438.2 84.8h0.8M421.0 49.4h0.8M423.1 66.7h0.8M424.8 58.4h0.8M424.9 78.2h0.8M427.4 83.0h0.8M425.8 82.9h0.8M432.0 60.3h0.8M433.0 47.3h0.8M428.2 82.0h0.8M431.9 79.1h0.8M430.7 96.2h0.8M421.4 81.6h0.8M426.1 60.2h0.8M430.0 72.2h0.8M424.4 77.7h0.8M425.1 62.5h0.8M439.6 51.3h0.8M435.5 69.7h0.8M452.5 83.7h0.8M428.1 90.9h0.8M426.9 61.4h0.8M434.8 92.2h0.8M439.6 58.0h0.8M428.4 72.5h0.8M443.4 79.6h0.8M433.2 61.8h0.8M422.3 82.8h0.8M419.6 89.9h0.8M428.1 73.6h0.8M423.0 63.3h0.8M432.7 90.4h0.8M417.1 78.0h0.8M434.9 67.2h0.8M431.3 50.4h0.8M429.8 86.1h0.8M420.9 69.1h0.8M418.9 74.5h0.8M424.2 84.6h0.8M435.7 89.9h0.8M434.4 63.8h0.8M439.1 82.4h0.8M427.0 63.5h0.8M430.1 94.5h0.8M419.3 81.4h0.8M439.0 93.1h0.8M444.4 90.8h0.8M437.1 68.7h0.8M438.7 92.3h0.8M427.6 85.5h0.8M432.9 60.4h0.8M433.3 60.6h0.8M434.3 66.3h0.8M449.6 72.2h0.8M418.9 63.2h0.8M448.3 96.1h0.8M422.7 85.3h0.8M432.2 72.5h0.8M431.4 53.9h0.8M437.7 81.5h0.8M438.8 60.4h0.8M428.7 92.1h0.8M424.7 89.5h0.8M423.9 70.2h0.8M428.5 55.7h0.8M428.3 53.9h0.8M437.7 86.1h0.8M426.5 71.5h0.8M415.9 82.3h0.8M442.0 67.7h0.8M434.2 66.6h0.8M439.6 65.7h0.8M419.8 87.9h0.8M430.9 47.8h0.8M437.6 69.3h0.8M428.3 71.4h0.8M434.8 79.5h0.8M416.3 99.7h0.8M436.4 95.0h0.8M431.7 89.4h0.8M418.9 64.1h0.8M427.8 42.7h0.8M445.2 57.4h0.8M435.2 63.8h0.8M435.7 102.8h0.8M436.8 81.4h0.8M437.9 72.4h0.8M432.5 51.0h0.8M430.2 89.0h0.8M437.2 83.8h0.8M436.6 65.8h0.8M426.3 84.7h0.8M423.9 68.3h0.8M432.8 93.4h0.8M420.3 95.1h0.8M440.3 70.5h0.8M419.2 68.3h0.8M425.6 59.6h0.8M436.0 91.2h0.8M433.0 55.2h0.8M418.5 77.1h0.8M439.1 51.9h0.8M425.2 87.4h0.8M427.2 88.5h0.8M438.4 63.3h0.8M434.1 87.1h0.8M435.1 67.4h0.8M425.5 93.8h0.8M438.3 62.5h0.8M425.2 93.3h0.8M436.8 63.5h0.8M429.4 49.7h0.8M419.6 80.2h0.8M423.7 91.8h0.8M430.7 75.5h0.8M429.2 44.5h0.8M420.6 65.8h0.8M422.1 82.3h0.8M433.3 68.4h0.8M429.1 61.2h0.8M444.4 83.0h0.8M430.2 80.7h0.8M444.9 40.7h0.8M443.4 56.2h0.8M424.8 87.1h0.8M430.9 60.6h0.8M442.1 56.2h0.8M429.9 80.4h0.8M426.1 82.6h0.8M433.6 66.9h0.8M423.4 71.7h0.8M416.6 77.1h0.8M428.5 91.6h0.8M441.6 63.3h0.8M425.8 79.2h0.8M423.4 68.8h0.8M422.0 73.5h0.8M420.0 95.9h0.8M422.6 88.8h0.8M430.6 61.4h0.8M445.2 67.9h0.8M428.6 63.8h0.8M449.3 99.9h0.8M431.2 73.0h0.8M428.3 83.6h0.8M423.3 93.7h0.8M426.6 84.2h0.8M426.1 56.0h0.8M438.7 99.3h0.8M446.2 85.9h0.8M436.3 100.4h0.8M427.7 83.1h0.8M440.7 95.2h0.8M434.1 60.9h0.8M421.2 75.3h0.8M436.8 78.2h0.8M443.5 57.5h0.8M419.9 79.2h0.8M423.5 63.0h0.8M424.1 100.9h0.8M434.0 73.7h0.8M440.2 59.4h0.8M419.3 69.2h0.8M418.2 85.8h0.8M433.8 92.7h0.8M439.1 78.4h0.8M442.0 72.4h0.8M427.1 63.3h0.8M427.7 66.6h0.8M440.1 43.9h0.8M438.0 73.6h0.8M437.5 63.5h0.8M427.2 85.1h0.8M426.9 58.0h0.8M444.1 84.8h0.8M423.5 70.6h0.8M430.1 58.9h0.8M440.5 72.4h0.8M440.3 61.4h0.8M430.9 83.0h0.8M434.3 57.3h0.8M440.7 71.5h0.8M431.0 87.8h0.8M430.3 60.9h0.8M430.0 51.5h0.8M426.9 71.2h0.8M443.0 65.1h0.8M417.4 85.9h0.8M432.6 90.8h0.8M449.4 70.5h0.8M426.0 44.7h0.8M432.3 91.3h0.8M419.9 71.0h0.8M425.3 58.6h0.8M456.4 61.3h0.8M429.6 77.1h0.8M429.3 81.5h0.8M440.4 73.3h0.8M418.3 48.2h0.8M423.4 85.5h0.8M434.4 66.6h0.8M432.1 82.2h0.8M442.9 92.7h0.8M448.9 81.4h0.8M426.3 66.9h0.8M435.0 68.6h0.8M422.6 80.6h0.8M434.3 74.5h0.8M425.4 67.2h0.8M431.9 83.1h0.8M433.7 60.4h0.8M439.5 70.8h0.8M424.1 86.9h0.8M439.9 73.1h0.8M420.5 93.9h0.8M432.7 93.4h0.8M437.0 78.8h0.8M420.1 97.1h0.8M433.8 69.4h0.8M420.0 70.9h0.8M434.6 67.6h0.8M448.5 72.9h0.8M435.4 61.9h0.8M440.6 57.4h0.8M440.9 48.5h0.8M439.2 66.5h0.8M425.5 80.3h0.8M426.6 53.3h0.8M425.8 73.9h0.8M438.2 78.8h0.8M424.9 66.7h0.8M430.3 63.8h0.8M442.5 70.6h0.8M426.7 58.0h0.8M449.6 75.1h0.8M430.1 70.2h0.8M444.2 75.8h0.8M432.7 46.8h0.8M426.2 79.3h0.8M438.8 66.7h0.8M433.7 82.5h0.8M427.3 83.7h0.8M438.9 76.8h0.8M427.5 74.0h0.8M427.1 73.0h0.8M441.5 81.5h0.8M441.4 67.4h0.8M428.6 61.8h0.8M435.6 69.9h0.8M422.0 66.8h0.8M447.1 74.7h0.8M430.8 67.6h0.8M441.8 58.0h0.8M426.0 65.2h0.8M436.1 92.7h0.8M432.1 84.7h0.8M418.2 67.1h0.8M421.6 80.9h0.8M421.1 51.9h0.8M438.2 49.6h0.8M425.2 64.4h0.8M418.2 70.0h0.8M434.2 89.2h0.8M427.5 62.9h0.8M432.3 74.9h0.8M433.9 95.6h0.8M429.9 62.2h0.8M423.9 63.0h0.8M436.1 103.3h0.8M425.4 94.9h0.8M435.6 68.5h0.8M443.5 41.5h0.8M435.2 78.9h0.8M434.4 45.9h0.8M437.4 71.3h0.8M433.1 84.6h0.8M416.3 90.2h0.8M443.5 81.7h0.8M424.8 71.6h0.8M416.2 57.9h0.8M434.0 82.6h0.8M432.2 61.7h0.8M426.1 78.9h0.8M445.1 74.6h0.8M444.8 72.1h0.8M438.6 73.7h0.8M425.7 65.6h0.8M441.3 75.2h0.8M416.8 87.2h0.8M438.7 78.2h0.8M440.8 76.9h0.8M433.5 62.2h0.8M433.2 85.1h0.8M433.3 51.9h0.8M448.2 80.7h0.8M425.7 58.9h0.8M431.7 50.2h0.8M429.1 88.1h0.8" stroke="#111" stroke-opacity="0.50" stroke-width="0.8" fill="none" filter="url(#b0)"/>
<rect x="381.7" y="15.6" width="89.3" height="88.8" fill="none" stroke="#505050" stroke-width="0.9"/><line x1="415.5" y1="15.6" x2="415.5" y2="104.4" stroke="#505050" stroke-width="0.85"/><line x1="381.7" y1="66.2" x2="471.0" y2="66.2" stroke="#505050" stroke-width="0.85"/><path d="M381.7 15.6h-1.2M381.7 17.8h-1.2M381.7 20.0h-1.2M381.7 22.3h-1.2M381.7 24.5h-1.2M381.7 26.7h-1.2M381.7 28.9h-1.2M381.7 31.1h-1.2M381.7 33.4h-1.2M381.7 35.6h-1.2M381.7 37.8h-1.2M381.7 40.0h-1.2M381.7 42.2h-1.2M381.7 44.5h-1.2M381.7 46.7h-1.2M381.7 48.9h-1.2M381.7 51.1h-1.2M381.7 53.3h-1.2M381.7 55.6h-1.2M381.7 57.8h-1.2M381.7 60.0h-1.2M381.7 62.2h-1.2M381.7 64.4h-1.2M381.7 66.7h-1.2M381.7 68.9h-1.2M381.7 71.1h-1.2M381.7 73.3h-1.2M381.7 75.5h-1.2M381.7 77.8h-1.2M381.7 80.0h-1.2M381.7 82.2h-1.2M381.7 84.4h-1.2M381.7 86.6h-1.2M381.7 88.9h-1.2M381.7 91.1h-1.2M381.7 93.3h-1.2M381.7 95.5h-1.2M381.7 97.7h-1.2M381.7 100.0h-1.2M381.7 102.2h-1.2M381.7 104.4h-1.2M381.7 104.4v1.2M383.9 104.4v1.2M386.2 104.4v1.2M388.4 104.4v1.2M390.6 104.4v1.2M392.9 104.4v1.2M395.1 104.4v1.2M397.3 104.4v1.2M399.6 104.4v1.2M401.8 104.4v1.2M404.0 104.4v1.2M406.3 104.4v1.2M408.5 104.4v1.2M410.7 104.4v1.2M413.0 104.4v1.2M415.2 104.4v1.2M417.4 104.4v1.2M419.7 104.4v1.2M421.9 104.4v1.2M424.1 104.4v1.2M426.4 104.4v1.2M428.6 104.4v1.2M430.8 104.4v1.2M433.0 104.4v1.2M435.3 104.4v1.2M437.5 104.4v1.2M439.7 104.4v1.2M442.0 104.4v1.2M444.2 104.4v1.2M446.4 104.4v1.2M448.7 104.4v1.2M450.9 104.4v1.2M453.1 104.4v1.2M455.4 104.4v1.2M457.6 104.4v1.2M459.8 104.4v1.2M462.1 104.4v1.2M464.3 104.4v1.2M466.5 104.4v1.2M468.8 104.4v1.2M471.0 104.4v1.2" stroke="#555" stroke-width="0.6" fill="none"/><text x="392.0" y="112.4" font-size="3.6" text-anchor="middle" fill="#111" stroke="none">0</text><text x="400.0" y="112.4" font-size="4.1" text-anchor="middle" fill="#000" stroke="none">10<tspan dy="-1.5" font-size="3">2</tspan></text><text x="422.6" y="112.4" font-size="4.1" text-anchor="middle" fill="#000" stroke="none">10<tspan dy="-1.5" font-size="3">3</tspan></text><text x="443.0" y="112.4" font-size="4.1" text-anchor="middle" fill="#000" stroke="none">10<tspan dy="-1.5" font-size="3">4</tspan></text><text x="462.5" y="112.4" font-size="4.1" text-anchor="middle" fill="#000" stroke="none">10<tspan dy="-1.5" font-size="3">5</tspan></text><text x="379.7" y="24.0" font-size="4.1" text-anchor="end" fill="#000" stroke="none">10<tspan dy="-1.5" font-size="3">5</tspan></text><text x="379.7" y="44.0" font-size="4.1" text-anchor="end" fill="#000" stroke="none">10<tspan dy="-1.5" font-size="3">4</tspan></text><text x="379.7" y="64.3" font-size="4.1" text-anchor="end" fill="#000" stroke="none">10<tspan dy="-1.5" font-size="3">3</tspan></text><text x="379.7" y="85.3" font-size="4.1" text-anchor="end" fill="#000" stroke="none">10<tspan dy="-1.5" font-size="3">2</tspan></text><text x="378.7" y="95.4" font-size="3.4" text-anchor="end" fill="#111" stroke="none">0</text><text x="383.7" y="19.9" font-size="4.1" text-anchor="start" fill="#111" stroke="none">0</text><text x="469.5" y="19.9" font-size="4.1" text-anchor="end" fill="#111" stroke="none">35.9</text><text x="383.7" y="102.6" font-size="4.1" text-anchor="start" fill="#111" stroke="none">0</text><text x="469.5" y="102.6" font-size="4.1" text-anchor="end" fill="#111" stroke="none">64.1</text>
<line x1="367.9" y1="43.5" x2="367.9" y2="24.1" stroke="#111" stroke-width="1.30"/><polygon points="367.9,18.6 371.0,24.6 364.8,24.6" fill="#111"/>
<line x1="367.9" y1="80.9" x2="367.9" y2="103.5" stroke="#111" stroke-width="1.30"/>
<text x="0" y="0" transform="translate(370.1 65.3) rotate(-90)" font-size="8.70" text-anchor="middle" font-weight="normal" fill="#111" textLength="28.0" lengthAdjust="spacingAndGlyphs" >CTLA-4</text>
<clipPath id="c3"><rect x="242.3" y="155.5" width="88.2" height="88"/></clipPath>
<g clip-path="url(#c3)" filter="url(#b2)" opacity="0.30"><path d="M247.8 244V212Q247.8 196 256.7 196Q265.5 196 265.5 212V244Z" fill="#333"/><rect x="276" y="167" width="15" height="40" fill="#333"/></g>
<path d="M258.8 192.0h0.9M270.0 180.8h0.9M273.0 183.6h0.9M250.6 197.0h0.9M249.8 183.4h0.9M247.7 198.3h0.9M265.1 192.5h0.9M273.1 194.3h0.9M258.0 184.6h0.9M258.9 177.1h0.9M250.5 189.9h0.9M248.4 201.1h0.9M260.0 199.1h0.9M269.9 203.1h0.9M245.3 172.6h0.9M245.7 191.5h0.9M266.7 197.4h0.9M261.5 174.8h0.9M253.3 203.2h0.9M258.2 194.1h0.9M247.3 183.3h0.9M254.5 198.0h0.9M273.4 164.7h0.9M242.7 193.4h0.9M272.7 202.0h0.9M270.1 174.1h0.9M272.6 183.7h0.9M256.6 174.9h0.9M272.5 192.4h0.9M254.8 172.3h0.9M263.2 193.5h0.9M262.8 202.9h0.9M251.1 179.4h0.9M251.8 187.8h0.9M244.0 178.0h0.9M259.9 186.9h0.9M245.0 199.0h0.9M256.6 173.6h0.9M269.8 193.1h0.9M263.8 193.3h0.9M256.0 196.0h0.9M249.2 198.6h0.9M259.5 192.0h0.9M271.1 199.8h0.9M269.8 167.1h0.9M270.2 191.3h0.9M266.3 202.8h0.9M254.2 201.7h0.9M258.0 191.3h0.9M255.4 189.3h0.9M247.1 201.8h0.9M263.7 201.5h0.9M250.6 180.2h0.9M248.5 200.8h0.9M266.2 190.3h0.9M242.8 189.2h0.9M242.3 180.1h0.9M256.8 168.8h0.9M272.2 195.7h0.9M271.6 192.1h0.9M255.8 192.4h0.9M260.0 198.0h0.9M260.6 185.2h0.9M253.1 192.5h0.9M266.2 174.9h0.9M247.7 167.4h0.9M252.9 179.5h0.9M271.2 171.0h0.9M270.2 182.9h0.9M257.6 170.7h0.9M246.5 204.0h0.9M258.3 174.9h0.9M270.5 198.9h0.9M267.1 198.2h0.9M269.3 203.0h0.9M269.1 201.3h0.9M252.3 180.9h0.9M262.2 196.1h0.9M271.5 199.0h0.9M252.4 183.9h0.9M270.1 185.0h0.9M272.0 178.8h0.9M245.9 198.9h0.9M257.3 188.7h0.9M248.3 194.1h0.9M252.9 196.8h0.9M258.8 184.0h0.9M247.2 187.5h0.9M258.4 191.0h0.9M246.9 167.4h0.9M255.2 182.4h0.9M245.8 201.4h0.9M247.4 185.4h0.9M268.6 184.2h0.9M252.7 183.1h0.9M243.3 171.2h0.9M251.9 199.1h0.9M253.5 170.5h0.9M267.7 188.2h0.9M242.3 200.4h0.9M255.5 195.7h0.9M244.4 202.8h0.9M268.7 188.6h0.9M243.4 193.6h0.9M243.5 174.9h0.9M261.1 190.8h0.9M250.1 198.6h0.9M252.2 179.4h0.9M260.9 183.3h0.9M271.1 197.2h0.9M253.6 199.3h0.9M257.1 172.9h0.9M267.9 191.3h0.9M245.9 192.3h0.9M263.1 172.3h0.9M269.8 189.0h0.9M255.5 188.2h0.9M249.9 164.9h0.9M254.5 194.0h0.9M254.6 202.0h0.9M249.2 177.9h0.9M259.6 186.0h0.9M259.2 185.2h0.9M262.5 198.2h0.9M244.3 174.1h0.9M257.5 190.1h0.9M244.9 180.3h0.9M269.4 194.7h0.9M269.0 192.8h0.9M253.1 190.1h0.9M263.4 199.2h0.9M255.0 171.3h0.9M253.0 196.5h0.9M268.6 174.4h0.9M250.0 185.2h0.9M264.0 188.8h0.9M247.8 198.8h0.9M265.1 167.6h0.9M263.2 179.9h0.9M251.6 186.0h0.9M269.4 174.8h0.9M264.4 172.0h0.9M261.1 197.0h0.9M260.2 172.1h0.9M270.0 187.2h0.9M253.4 197.6h0.9M260.6 202.1h0.9M259.0 192.4h0.9M254.3 183.9h0.9M242.3 194.9h0.9M267.5 200.3h0.9M243.8 203.2h0.9M250.7 199.3h0.9M242.8 173.0h0.9M270.8 189.8h0.9M256.2 189.3h0.9M265.7 191.7h0.9M245.9 190.3h0.9M264.4 202.2h0.9M259.9 177.5h0.9M248.5 202.6h0.9M271.2 199.8h0.9M270.1 165.6h0.9M245.1 168.5h0.9M263.2 171.6h0.9M247.5 202.1h0.9M254.2 190.6h0.9M271.0 197.4h0.9M244.6 198.1h0.9M255.1 193.7h0.9M267.7 203.0h0.9M271.1 181.5h0.9M245.5 200.8h0.9M242.3 202.1h0.9M254.7 191.3h0.9M243.1 203.6h0.9M257.0 203.3h0.9M249.0 169.0h0.9M253.6 181.9h0.9M262.0 196.7h0.9M265.7 188.4h0.9M245.5 180.0h0.9M242.5 193.1h0.9M259.5 166.2h0.9M265.6 198.8h0.9M266.1 176.6h0.9M261.0 202.6h0.9M250.5 174.4h0.9M260.7 182.2h0.9M253.5 191.7h0.9M266.9 172.7h0.9M251.9 191.7h0.9M263.3 188.0h0.9M261.4 196.7h0.9M251.2 176.3h0.9M248.4 197.9h0.9M251.4 199.1h0.9M266.0 169.0h0.9M257.6 183.2h0.9M258.6 199.6h0.9M256.9 199.7h0.9M248.8 182.4h0.9M254.2 179.1h0.9M270.2 167.3h0.9M254.2 190.6h0.9M263.1 203.2h0.9M246.3 194.0h0.9M247.5 203.5h0.9M260.2 182.9h0.9M266.9 202.8h0.9M267.3 203.8h0.9M264.4 168.3h0.9M266.0 183.6h0.9M248.6 174.5h0.9M260.7 202.9h0.9M256.7 196.0h0.9M242.4 170.7h0.9M260.4 184.1h0.9M247.1 173.5h0.9M256.3 200.7h0.9M242.9 191.6h0.9M266.9 203.5h0.9M252.2 166.3h0.9M244.8 194.9h0.9M243.9 184.9h0.9M263.4 184.4h0.9M242.3 176.2h0.9M247.6 187.7h0.9M263.3 195.7h0.9M253.9 203.7h0.9M251.0 195.8h0.9M254.3 197.9h0.9M266.9 198.2h0.9M263.3 191.7h0.9M267.9 203.2h0.9M256.2 182.0h0.9M254.2 198.7h0.9M269.2 196.8h0.9M256.6 179.0h0.9M248.4 170.5h0.9M243.0 188.4h0.9M271.6 181.5h0.9M253.8 197.8h0.9M265.7 184.3h0.9M260.7 177.2h0.9M256.2 165.7h0.9M264.7 168.4h0.9M243.1 183.1h0.9M251.4 200.3h0.9M249.1 185.4h0.9M254.1 203.2h0.9M259.1 178.4h0.9M271.1 181.2h0.9M256.5 199.0h0.9M255.5 185.2h0.9M264.3 202.1h0.9M267.6 181.7h0.9M264.2 192.4h0.9M266.4 175.6h0.9M258.9 172.9h0.9M251.5 167.1h0.9M244.7 192.7h0.9M262.3 192.9h0.9M257.0 201.9h0.9M267.4 200.3h0.9M244.6 184.5h0.9M257.8 199.1h0.9M270.2 196.3h0.9M259.0 199.7h0.9M266.2 182.9h0.9M261.0 196.9h0.9M259.8 192.0h0.9M248.4 198.6h0.9M265.7 193.2h0.9M259.1 195.0h0.9M262.9 204.0h0.9M266.1 186.4h0.9M273.4 190.0h0.9M270.8 172.7h0.9M270.7 176.8h0.9M268.7 198.0h0.9M271.9 164.3h0.9M256.4 199.8h0.9M272.7 199.8h0.9M253.7 189.2h0.9M267.7 191.6h0.9M260.1 202.2h0.9M260.5 191.8h0.9M270.5 187.9h0.9M245.9 198.2h0.9M264.4 194.4h0.9M267.3 188.1h0.9M256.9 191.5h0.9M244.3 201.4h0.9M264.9 182.8h0.9M265.4 189.0h0.9M270.0 166.9h0.9M252.2 181.3h0.9M265.4 199.9h0.9M249.4 169.8h0.9M247.6 178.3h0.9M256.2 182.1h0.9M267.3 201.7h0.9M248.2 191.8h0.9M244.2 189.0h0.9M252.0 169.4h0.9M246.2 167.2h0.9M252.0 189.9h0.9M262.4 197.6h0.9M262.3 180.7h0.9M246.3 200.2h0.9M267.5 202.2h0.9M266.6 201.6h0.9M249.4 198.2h0.9M261.6 189.7h0.9M258.7 181.2h0.9M262.7 193.5h0.9M251.8 202.3h0.9M242.9 189.3h0.9M243.7 196.6h0.9M253.9 200.1h0.9M257.6 202.3h0.9M245.4 188.1h0.9M253.4 194.7h0.9M265.3 174.0h0.9M272.5 201.8h0.9M260.1 173.6h0.9M267.1 191.2h0.9M247.5 203.4h0.9M258.8 167.8h0.9M256.5 185.8h0.9M262.1 201.9h0.9M261.9 199.9h0.9M264.1 191.8h0.9M266.9 185.1h0.9M273.5 190.5h0.9M260.3 188.7h0.9M253.3 169.5h0.9M245.0 197.9h0.9M257.8 201.6h0.9M246.9 165.9h0.9M259.8 184.8h0.9M260.4 197.9h0.9M266.2 188.1h0.9M245.0 187.3h0.9M259.8 202.4h0.9M252.6 173.7h0.9M250.0 200.3h0.9M266.3 188.0h0.9M271.9 185.0h0.9M258.4 185.3h0.9M257.3 189.8h0.9M252.7 194.2h0.9M268.2 169.8h0.9M265.5 194.3h0.9M250.9 188.7h0.9M244.7 187.6h0.9M263.6 187.8h0.9M266.8 203.2h0.9M261.2 201.1h0.9M248.3 200.0h0.9M262.6 192.5h0.9M245.0 181.5h0.9M244.9 201.7h0.9M269.4 179.1h0.9M260.9 177.2h0.9M249.3 194.8h0.9M253.7 198.6h0.9M246.1 191.7h0.9M263.0 190.2h0.9M260.7 173.3h0.9M259.8 192.4h0.9M247.6 195.3h0.9M252.9 202.4h0.9M262.0 173.6h0.9M260.0 189.9h0.9M264.1 199.8h0.9M253.8 192.2h0.9M255.1 190.6h0.9M267.2 195.9h0.9M246.6 182.7h0.9M242.6 169.6h0.9M254.3 189.9h0.9M242.3 175.7h0.9M264.2 195.1h0.9M259.8 168.0h0.9M245.4 193.3h0.9M271.7 179.5h0.9M249.1 190.4h0.9M252.2 187.1h0.9M244.7 173.5h0.9M256.9 200.6h0.9M257.7 197.7h0.9M251.5 193.6h0.9M257.2 196.7h0.9M250.2 200.8h0.9M268.1 191.9h0.9M270.9 191.3h0.9M243.8 194.6h0.9M271.9 181.8h0.9M273.0 183.9h0.9M272.6 190.2h0.9M255.4 169.8h0.9M263.5 196.8h0.9M255.1 186.2h0.9M262.1 182.7h0.9M269.7 203.3h0.9M253.4 201.8h0.9M249.3 188.2h0.9M253.3 172.3h0.9M256.8 197.3h0.9M270.8 189.2h0.9M246.6 199.9h0.9M248.2 195.8h0.9M247.9 199.0h0.9M253.0 182.4h0.9M257.8 180.1h0.9M270.8 197.3h0.9M256.3 184.7h0.9M242.4 199.7h0.9M256.5 170.2h0.9M251.7 169.5h0.9M253.4 173.0h0.9M269.1 179.0h0.9M259.5 179.5h0.9M261.4 178.7h0.9M251.0 185.0h0.9M269.3 190.7h0.9M257.2 170.6h0.9M265.4 196.8h0.9M263.4 188.8h0.9M250.8 174.8h0.9M246.6 196.3h0.9M258.7 164.2h0.9M260.4 179.4h0.9M253.8 195.0h0.9M273.1 178.6h0.9M248.9 195.3h0.9M272.2 189.0h0.9M245.2 199.0h0.9M255.8 197.9h0.9M266.5 188.3h0.9M266.3 200.1h0.9M243.7 203.9h0.9M256.0 197.7h0.9M244.2 184.1h0.9M258.7 201.0h0.9M243.1 178.6h0.9M250.0 183.0h0.9M244.9 199.1h0.9M253.6 197.9h0.9M248.9 189.6h0.9M257.3 188.8h0.9M269.6 190.3h0.9M257.5 196.2h0.9M249.1 203.4h0.9M261.7 178.9h0.9M260.7 187.6h0.9M267.1 184.6h0.9M260.0 195.6h0.9M270.2 207.4h0.9M265.0 215.0h0.9M271.9 205.1h0.9M267.5 237.9h0.9M269.8 210.2h0.9M270.3 219.6h0.9M271.8 235.1h0.9M267.9 224.5h0.9M268.9 208.6h0.9M270.9 226.1h0.9M267.1 208.9h0.9M264.4 232.5h0.9M272.1 204.6h0.9M271.7 232.3h0.9M267.9 233.5h0.9M268.8 238.8h0.9M266.1 224.6h0.9M267.6 225.2h0.9M267.4 242.2h0.9M264.5 206.9h0.9M272.3 207.1h0.9M272.5 233.4h0.9M265.9 242.3h0.9M264.4 224.9h0.9M270.1 209.3h0.9M269.6 209.2h0.9M268.7 219.9h0.9M267.3 238.4h0.9M267.3 210.5h0.9M267.3 222.0h0.9M272.4 212.5h0.9M268.6 210.3h0.9M270.1 236.1h0.9M264.7 206.0h0.9M266.8 238.6h0.9M271.8 229.0h0.9M270.9 206.5h0.9M264.9 211.6h0.9M268.7 224.2h0.9M270.1 225.3h0.9M271.8 227.5h0.9M269.6 230.5h0.9M269.2 214.2h0.9M270.6 213.4h0.9M271.8 210.8h0.9M271.0 215.8h0.9M272.4 226.0h0.9M264.2 217.1h0.9M267.8 204.6h0.9M271.9 235.1h0.9M267.3 225.8h0.9M264.3 207.8h0.9M267.0 211.5h0.9M264.2 219.2h0.9M264.4 225.1h0.9M264.4 223.7h0.9M264.7 218.8h0.9M271.2 237.1h0.9M271.4 204.4h0.9M268.0 222.5h0.9M269.4 209.5h0.9M265.4 234.5h0.9M268.7 205.7h0.9M268.2 225.3h0.9M270.4 213.4h0.9M266.3 224.6h0.9M265.6 205.2h0.9M266.8 232.8h0.9M266.3 217.6h0.9M267.9 234.1h0.9M265.4 233.6h0.9M266.3 217.4h0.9M268.2 232.1h0.9M264.7 224.6h0.9M265.0 230.4h0.9M271.2 217.2h0.9M269.2 213.7h0.9M266.7 210.3h0.9M272.0 236.6h0.9M269.5 223.6h0.9M265.5 236.6h0.9M267.6 213.9h0.9M264.8 234.8h0.9M265.5 220.5h0.9M271.7 217.8h0.9M264.1 206.9h0.9M268.7 229.8h0.9M267.7 204.8h0.9M265.6 213.6h0.9M265.1 237.4h0.9M264.8 206.0h0.9M267.7 237.0h0.9M265.6 222.0h0.9M272.2 210.6h0.9M269.4 209.7h0.9M269.5 226.9h0.9M269.8 214.1h0.9M266.9 239.4h0.9M264.3 232.1h0.9M270.5 219.7h0.9M267.4 216.7h0.9M266.4 228.8h0.9M271.5 206.7h0.9M271.3 239.2h0.9M269.1 219.1h0.9M270.9 210.9h0.9M266.2 237.1h0.9M264.7 211.8h0.9M271.7 228.6h0.9M267.9 217.5h0.9M268.2 227.7h0.9M264.3 217.2h0.9M265.3 237.5h0.9M266.0 212.7h0.9M269.2 206.4h0.9M268.7 241.7h0.9M264.1 205.1h0.9M268.9 216.9h0.9M265.6 206.6h0.9M267.6 236.7h0.9M269.8 213.6h0.9M264.7 222.8h0.9M264.9 212.8h0.9M272.2 225.0h0.9M266.6 221.9h0.9M268.5 218.4h0.9M264.9 212.7h0.9M266.9 224.1h0.9M271.1 210.4h0.9M269.3 237.6h0.9M245.4 239.0h0.9M246.6 223.2h0.9M246.9 222.4h0.9M247.2 213.9h0.9M245.7 237.9h0.9M244.8 229.8h0.9M245.2 235.7h0.9M244.8 230.3h0.9M244.0 222.7h0.9M246.3 210.0h0.9M245.4 208.1h0.9M243.3 222.0h0.9M247.9 240.8h0.9M244.6 224.5h0.9M247.7 217.2h0.9M247.7 204.2h0.9M245.9 215.9h0.9M247.8 224.2h0.9M246.1 235.5h0.9M245.3 209.3h0.9M247.2 231.3h0.9M244.5 212.9h0.9M242.5 241.9h0.9M246.4 235.1h0.9M245.2 219.2h0.9M242.6 209.2h0.9M245.2 219.3h0.9M243.3 205.0h0.9M245.6 228.3h0.9M242.9 205.9h0.9M248.0 212.3h0.9M244.5 226.5h0.9M243.4 208.3h0.9M243.4 208.6h0.9M242.5 211.2h0.9M245.8 223.4h0.9M245.3 228.2h0.9M244.5 216.5h0.9M243.7 216.5h0.9M243.5 229.9h0.9M242.5 214.7h0.9M246.3 224.7h0.9M245.6 228.0h0.9M246.3 240.1h0.9M248.0 238.9h0.9M242.7 209.6h0.9M244.3 212.3h0.9M247.0 241.1h0.9M243.7 218.9h0.9M242.6 222.7h0.9M244.1 205.9h0.9M244.9 237.1h0.9M242.7 210.9h0.9M248.0 220.5h0.9M248.0 242.4h0.9M247.9 207.2h0.9M245.6 225.5h0.9M245.3 222.1h0.9M247.7 240.4h0.9M245.2 220.0h0.9" stroke="#111" stroke-opacity="0.45" stroke-width="0.9" fill="none" filter="url(#b0)"/>
<path d="M263.0 213.2h0.9M248.2 222.7h0.9M261.4 233.0h0.9M264.0 230.4h0.9M263.3 235.4h0.9M262.1 222.9h0.9M263.8 242.4h0.9M262.9 210.0h0.9M251.9 206.2h0.9M248.6 238.8h0.9M250.6 241.7h0.9M263.1 232.3h0.9M255.8 204.8h0.9M248.3 241.0h0.9M263.0 209.1h0.9M254.7 202.4h0.9M248.5 215.8h0.9M255.6 202.1h0.9M251.9 206.1h0.9M251.2 207.3h0.9M248.9 225.8h0.9M249.6 228.1h0.9M248.2 224.5h0.9M249.2 215.3h0.9M247.9 235.3h0.9M250.1 225.8h0.9M249.0 220.4h0.9M249.0 221.7h0.9M249.3 237.2h0.9M262.5 216.9h0.9M263.9 241.1h0.9M250.9 215.8h0.9M248.6 229.1h0.9M263.0 232.3h0.9M262.7 216.7h0.9M250.2 228.0h0.9M249.5 224.8h0.9M260.7 205.6h0.9M250.0 226.9h0.9M249.5 241.8h0.9M250.0 217.5h0.9M249.2 234.9h0.9M260.4 206.3h0.9M263.9 236.6h0.9M248.9 212.0h0.9M263.8 234.6h0.9M249.2 215.6h0.9M250.0 232.0h0.9M263.2 218.2h0.9M251.9 204.8h0.9M247.7 211.5h0.9M264.9 209.5h0.9M259.9 206.2h0.9M247.1 226.4h0.9M257.5 203.3h0.9M263.5 228.7h0.9M257.2 205.4h0.9M249.1 228.6h0.9M252.3 206.2h0.9M262.6 209.7h0.9M262.4 228.4h0.9M263.5 216.6h0.9M250.3 222.2h0.9M250.1 227.3h0.9M264.5 210.8h0.9M247.6 224.2h0.9M248.9 209.3h0.9M263.6 224.3h0.9M262.9 237.5h0.9M249.1 209.8h0.9M248.9 221.9h0.9M249.4 223.2h0.9M249.2 223.5h0.9M249.8 212.6h0.9M255.5 205.2h0.9M251.7 207.6h0.9M249.4 219.2h0.9M251.0 237.5h0.9M251.1 213.7h0.9M247.5 241.5h0.9M249.8 215.2h0.9M264.9 220.2h0.9M249.9 226.1h0.9M263.9 237.7h0.9M249.7 224.9h0.9M262.8 217.8h0.9M263.7 218.3h0.9M261.4 227.3h0.9M249.9 206.8h0.9M262.2 211.5h0.9M250.8 236.5h0.9M250.5 222.2h0.9M250.4 218.9h0.9M249.0 237.7h0.9M260.8 203.8h0.9M262.5 208.8h0.9M262.8 214.7h0.9M264.2 224.8h0.9M250.3 241.2h0.9M251.0 219.5h0.9M265.2 225.6h0.9M262.7 212.0h0.9M263.1 216.1h0.9M261.0 204.8h0.9M247.4 221.4h0.9M247.4 242.4h0.9M249.6 213.0h0.9M262.0 240.3h0.9M261.8 238.6h0.9M250.3 235.9h0.9M249.8 236.9h0.9M261.0 218.8h0.9M263.2 234.3h0.9M250.1 219.0h0.9M249.9 216.6h0.9M248.5 214.2h0.9M262.2 225.0h0.9M260.7 206.2h0.9M248.5 233.9h0.9M261.2 231.4h0.9M264.0 222.5h0.9M264.2 228.4h0.9M252.3 206.7h0.9M248.8 224.5h0.9M257.4 205.2h0.9M261.9 239.9h0.9M262.0 234.1h0.9M262.0 230.1h0.9M263.6 230.5h0.9M262.4 229.0h0.9M249.3 230.1h0.9M262.9 218.7h0.9M249.6 217.7h0.9M249.8 221.2h0.9M262.6 242.2h0.9M265.0 221.8h0.9M248.6 240.4h0.9M249.2 230.5h0.9M253.8 205.3h0.9M251.0 215.4h0.9M249.3 221.4h0.9M252.4 203.2h0.9M250.1 241.1h0.9M264.5 227.7h0.9M263.8 222.7h0.9M249.7 242.5h0.9M262.3 242.1h0.9M264.0 230.5h0.9M253.0 204.9h0.9M262.4 223.7h0.9M251.4 206.9h0.9M250.3 223.9h0.9M249.0 222.4h0.9M264.4 223.3h0.9M262.9 231.0h0.9M248.6 220.7h0.9M249.7 241.3h0.9M252.8 205.4h0.9M262.7 227.2h0.9M262.6 217.3h0.9M263.3 218.0h0.9M263.7 221.2h0.9M249.4 239.3h0.9M249.0 230.3h0.9M261.8 237.8h0.9M249.4 207.8h0.9M249.9 216.1h0.9M249.0 235.6h0.9M254.6 203.5h0.9M263.6 232.2h0.9M263.5 231.5h0.9M247.9 221.5h0.9M249.7 222.3h0.9M264.1 215.9h0.9M262.9 217.5h0.9M260.9 206.3h0.9M263.2 241.9h0.9M249.6 217.7h0.9M247.8 217.8h0.9M263.2 209.4h0.9M250.8 225.8h0.9M264.2 232.7h0.9M250.2 238.0h0.9M262.2 234.1h0.9M248.7 226.9h0.9M259.1 204.1h0.9M248.5 225.5h0.9M249.4 213.4h0.9M254.3 204.9h0.9M250.0 236.7h0.9M263.4 242.4h0.9M250.5 212.1h0.9M249.9 230.7h0.9M249.9 207.1h0.9M263.4 230.3h0.9M258.7 207.3h0.9M249.9 209.6h0.9M262.4 210.1h0.9M249.8 232.8h0.9M249.3 220.0h0.9M249.8 209.9h0.9M249.7 213.5h0.9M250.1 230.3h0.9M262.8 208.7h0.9M249.6 242.4h0.9M264.3 220.3h0.9M247.3 213.3h0.9M249.7 231.6h0.9M247.1 233.6h0.9M261.4 206.3h0.9M256.1 205.3h0.9M263.3 243.2h0.9M264.8 224.9h0.9M249.7 221.1h0.9M254.5 203.6h0.9M262.5 226.5h0.9M262.5 240.1h0.9M251.5 206.5h0.9M248.8 220.3h0.9M259.1 205.3h0.9M258.2 206.0h0.9M262.5 232.3h0.9M252.2 203.3h0.9M249.5 233.6h0.9M247.0 240.9h0.9M264.6 226.9h0.9M262.8 237.3h0.9M261.1 219.7h0.9M261.5 206.8h0.9M250.3 210.6h0.9M262.9 207.8h0.9M248.9 240.4h0.9M263.7 235.9h0.9M249.0 227.0h0.9M262.5 221.5h0.9M247.7 236.8h0.9M249.8 217.9h0.9M248.8 233.0h0.9M262.2 231.6h0.9M252.0 207.4h0.9M263.5 223.0h0.9M264.5 235.6h0.9M254.3 205.5h0.9M249.6 219.9h0.9M249.5 230.2h0.9M248.9 208.7h0.9M250.5 241.5h0.9M251.9 206.1h0.9M249.8 233.1h0.9M252.9 207.1h0.9M248.0 239.0h0.9M250.4 206.4h0.9M251.5 209.6h0.9M262.5 243.5h0.9M261.9 220.5h0.9M251.7 210.9h0.9M263.3 239.5h0.9M263.5 240.4h0.9M248.0 243.5h0.9M251.0 206.7h0.9M262.6 219.3h0.9M259.0 207.0h0.9M251.2 212.5h0.9M264.7 228.6h0.9M249.3 235.3h0.9M249.7 223.8h0.9M262.8 225.7h0.9M249.2 212.7h0.9M261.4 235.8h0.9M250.9 223.1h0.9M250.5 229.5h0.9M263.3 219.6h0.9M262.7 219.9h0.9M263.4 213.7h0.9M263.1 220.6h0.9M261.9 233.3h0.9M263.4 232.3h0.9M262.6 239.8h0.9M250.6 210.1h0.9M249.9 218.1h0.9M249.2 240.5h0.9M262.1 222.5h0.9M261.8 226.3h0.9M250.0 225.3h0.9M248.9 223.8h0.9M248.9 221.2h0.9M249.5 231.5h0.9M249.1 215.9h0.9M248.7 214.3h0.9M248.8 239.5h0.9M254.2 204.3h0.9M249.3 207.6h0.9M248.8 242.3h0.9M247.8 238.2h0.9M248.3 224.8h0.9M253.2 206.5h0.9M263.4 223.3h0.9M248.4 227.4h0.9M250.2 213.0h0.9M248.0 241.5h0.9M264.9 239.9h0.9M262.7 210.1h0.9M248.5 236.2h0.9M263.9 242.2h0.9M261.8 213.7h0.9M249.7 220.9h0.9M264.1 228.1h0.9M253.8 203.7h0.9M263.7 232.9h0.9M263.1 235.9h0.9M247.8 210.9h0.9M248.8 235.1h0.9M249.0 242.6h0.9M250.1 232.1h0.9M263.3 209.6h0.9M249.2 223.7h0.9M253.3 206.9h0.9M260.5 205.9h0.9M263.7 223.8h0.9M262.9 232.3h0.9M263.8 213.8h0.9M259.1 203.5h0.9M249.3 227.9h0.9M250.4 226.7h0.9M249.9 207.9h0.9M265.1 226.6h0.9M250.3 241.3h0.9M262.9 223.3h0.9M265.9 211.5h0.9M250.3 239.4h0.9M249.5 230.6h0.9M249.6 243.4h0.9M263.9 228.0h0.9M258.4 203.8h0.9M262.7 224.3h0.9M260.9 204.4h0.9M262.0 214.9h0.9M258.4 204.1h0.9M251.2 215.5h0.9M262.5 240.1h0.9M262.1 237.0h0.9M262.6 233.7h0.9M262.0 224.8h0.9M263.4 213.0h0.9M263.1 219.6h0.9M260.7 206.4h0.9M251.0 235.0h0.9M250.8 234.0h0.9M259.2 206.8h0.9M256.1 203.6h0.9M250.1 209.9h0.9M247.7 228.5h0.9M250.9 229.3h0.9M250.0 236.4h0.9M263.5 222.6h0.9M249.0 211.0h0.9M249.8 225.8h0.9M264.1 239.1h0.9M248.7 234.8h0.9M247.5 214.2h0.9M263.4 238.4h0.9M252.7 205.7h0.9M250.6 221.7h0.9M249.8 226.0h0.9M249.5 240.3h0.9M250.6 232.8h0.9M248.2 225.8h0.9M263.1 237.7h0.9M248.3 220.3h0.9M249.9 223.7h0.9M250.3 225.8h0.9M264.2 224.2h0.9M255.6 203.4h0.9M251.2 236.5h0.9M248.7 216.3h0.9M263.7 211.9h0.9M252.8 205.9h0.9M253.0 204.6h0.9M249.9 216.4h0.9M263.5 225.5h0.9M263.8 221.8h0.9M248.7 240.6h0.9M263.6 233.0h0.9M263.2 218.0h0.9M262.2 225.0h0.9M265.3 224.2h0.9M263.8 228.7h0.9M249.2 240.0h0.9M249.6 234.4h0.9M249.6 211.6h0.9M249.0 227.3h0.9M249.6 214.0h0.9M262.2 225.6h0.9M260.5 219.3h0.9M249.6 234.6h0.9M247.4 208.7h0.9M263.4 224.2h0.9M248.6 226.1h0.9M263.5 208.0h0.9M262.9 241.5h0.9M248.3 220.0h0.9M248.7 210.4h0.9M263.8 215.4h0.9M255.0 204.9h0.9M251.1 223.0h0.9M254.7 205.2h0.9M263.7 220.6h0.9M249.2 239.5h0.9M254.0 205.3h0.9M248.2 238.2h0.9M263.2 239.6h0.9M260.0 205.0h0.9M263.2 239.9h0.9M262.4 231.6h0.9M249.5 238.4h0.9M262.9 227.0h0.9M249.7 216.1h0.9M252.5 207.4h0.9M264.3 230.9h0.9M249.7 212.3h0.9M263.8 224.9h0.9M264.1 225.1h0.9M264.1 208.6h0.9M258.5 205.4h0.9M249.4 230.1h0.9M263.0 213.8h0.9M248.5 216.6h0.9M263.9 217.9h0.9M262.7 222.7h0.9M249.1 231.8h0.9M251.2 205.7h0.9M249.5 217.5h0.9M263.8 232.2h0.9M263.1 223.8h0.9M247.8 240.7h0.9M262.2 239.5h0.9M263.0 207.2h0.9M248.8 236.4h0.9M261.3 216.6h0.9M249.0 216.3h0.9M264.1 238.0h0.9M248.0 241.6h0.9M249.0 224.4h0.9M262.3 229.9h0.9M250.1 226.6h0.9M250.6 208.7h0.9M262.5 209.5h0.9M249.8 236.0h0.9M250.6 215.8h0.9M262.6 232.6h0.9M250.1 221.2h0.9M261.2 240.6h0.9M248.8 208.4h0.9M262.8 216.9h0.9M263.2 224.8h0.9M247.8 220.4h0.9M261.8 206.4h0.9M255.2 203.4h0.9M248.8 238.3h0.9M259.5 206.5h0.9M263.5 243.3h0.9M262.4 238.8h0.9M251.3 208.7h0.9M249.2 216.5h0.9M262.1 205.6h0.9M248.5 232.8h0.9M263.0 236.9h0.9M249.3 227.7h0.9M246.6 213.4h0.9M250.1 211.7h0.9M263.3 240.5h0.9M263.7 217.6h0.9M261.7 207.4h0.9M260.9 206.5h0.9M246.7 216.7h0.9M263.1 217.9h0.9M263.4 216.7h0.9M263.7 223.3h0.9M248.2 217.8h0.9M249.9 229.5h0.9M262.7 221.9h0.9M265.2 231.9h0.9M250.3 231.3h0.9M261.5 207.0h0.9M260.5 234.0h0.9M262.1 224.1h0.9M260.8 212.7h0.9M247.9 242.6h0.9M264.3 212.5h0.9M248.0 214.3h0.9M263.9 227.5h0.9M261.3 224.4h0.9M262.6 208.5h0.9M250.2 232.1h0.9M249.2 219.4h0.9M262.2 209.0h0.9M262.2 235.4h0.9M264.4 219.9h0.9M256.0 203.1h0.9M252.7 206.5h0.9M263.5 214.3h0.9M264.7 233.0h0.9M258.4 202.6h0.9M257.1 204.8h0.9M251.7 243.1h0.9M262.8 228.8h0.9M265.4 215.4h0.9M247.7 238.8h0.9M248.4 236.3h0.9M262.9 240.3h0.9M263.3 237.3h0.9M248.1 212.0h0.9M265.2 215.7h0.9M263.1 219.6h0.9M261.9 229.1h0.9M248.6 213.4h0.9M256.0 204.4h0.9M251.6 204.5h0.9M262.8 233.5h0.9M260.9 208.8h0.9M251.1 206.5h0.9M251.4 205.2h0.9M250.8 216.3h0.9M249.6 242.1h0.9M249.7 214.6h0.9M251.1 228.7h0.9M264.6 214.4h0.9M263.8 234.4h0.9M259.7 204.5h0.9M251.1 230.9h0.9M250.1 218.8h0.9M250.8 227.8h0.9M254.3 203.7h0.9M249.1 216.6h0.9M251.6 211.0h0.9M257.2 204.8h0.9M263.4 227.5h0.9M262.5 217.4h0.9M263.4 224.3h0.9M251.6 207.5h0.9M248.7 238.0h0.9M250.5 223.9h0.9M248.7 215.2h0.9M250.6 209.8h0.9M262.6 220.0h0.9M250.1 238.1h0.9M250.1 206.8h0.9M262.1 208.6h0.9M250.3 224.9h0.9M250.6 211.7h0.9M247.8 233.4h0.9M262.1 223.8h0.9M248.6 240.2h0.9M255.5 204.4h0.9M248.6 231.2h0.9M261.9 235.9h0.9M263.5 232.1h0.9M252.1 206.5h0.9M265.2 223.2h0.9M264.2 241.1h0.9M262.1 240.3h0.9M262.8 217.7h0.9M256.6 204.4h0.9M262.2 216.2h0.9M258.6 205.3h0.9M263.9 225.1h0.9M250.1 224.9h0.9M259.4 205.0h0.9M257.8 205.0h0.9M248.3 213.6h0.9M252.0 209.4h0.9M263.5 215.2h0.9M251.0 240.0h0.9M248.7 243.0h0.9M250.2 212.6h0.9M265.5 226.1h0.9M264.3 236.0h0.9M249.9 215.4h0.9M248.5 219.1h0.9M258.8 204.1h0.9M263.5 235.6h0.9M249.8 210.2h0.9M248.6 232.3h0.9M263.2 237.3h0.9M249.2 207.9h0.9M248.5 242.1h0.9M262.0 212.8h0.9M252.4 205.9h0.9M262.1 209.0h0.9M263.2 233.6h0.9M263.3 208.8h0.9M249.4 224.1h0.9M250.8 211.1h0.9M263.6 219.3h0.9M249.5 236.1h0.9M250.5 240.3h0.9M263.7 212.2h0.9M248.7 213.6h0.9M252.5 205.7h0.9M248.0 233.1h0.9M249.1 211.1h0.9M263.4 229.3h0.9M248.4 243.5h0.9M249.2 239.7h0.9M264.2 235.2h0.9M249.8 237.6h0.9M256.9 204.5h0.9M262.3 241.5h0.9M249.5 239.5h0.9M264.4 240.7h0.9M248.1 241.0h0.9M249.4 236.0h0.9M249.1 236.8h0.9M250.6 232.7h0.9M249.1 224.8h0.9M255.8 204.3h0.9M248.1 213.1h0.9M261.5 204.5h0.9M262.8 236.3h0.9M251.2 208.9h0.9M262.0 228.2h0.9M249.3 226.9h0.9M250.5 204.9h0.9M248.7 231.3h0.9M250.9 206.7h0.9M249.3 238.0h0.9M249.8 232.0h0.9M251.3 207.5h0.9M264.1 231.8h0.9M263.1 232.2h0.9M264.2 222.4h0.9M250.1 223.2h0.9M263.4 220.5h0.9M263.2 235.5h0.9M249.2 214.5h0.9M248.5 230.7h0.9M250.1 239.5h0.9M262.4 242.5h0.9M249.8 233.5h0.9M263.8 234.9h0.9M263.1 241.1h0.9M262.4 217.4h0.9M250.8 208.1h0.9M263.2 233.5h0.9M250.0 232.5h0.9M247.5 211.9h0.9M263.0 219.6h0.9M263.0 230.0h0.9M248.9 242.0h0.9M264.2 242.7h0.9M261.7 241.5h0.9M249.8 221.7h0.9M262.3 210.3h0.9M249.3 241.1h0.9M263.7 229.4h0.9M249.1 209.2h0.9M250.3 241.5h0.9M264.2 232.3h0.9M264.3 217.1h0.9M249.6 222.2h0.9M250.0 236.8h0.9M249.1 212.9h0.9M249.1 228.7h0.9M249.4 239.0h0.9M264.4 236.9h0.9M252.2 204.9h0.9M262.1 210.5h0.9M252.3 203.1h0.9M264.2 225.3h0.9M256.4 205.7h0.9M249.5 228.7h0.9M262.9 236.4h0.9M256.8 204.7h0.9M252.9 206.4h0.9M263.0 225.2h0.9M261.4 205.1h0.9M263.1 219.2h0.9M262.7 234.3h0.9M249.7 226.8h0.9M249.1 217.5h0.9M262.3 209.3h0.9M248.7 226.8h0.9M249.5 211.5h0.9M263.5 234.5h0.9M262.5 206.8h0.9M262.6 212.7h0.9M263.4 240.0h0.9M261.3 208.1h0.9M263.9 212.8h0.9M248.6 235.1h0.9M251.2 227.9h0.9M250.2 233.6h0.9M254.3 204.1h0.9M262.8 234.6h0.9M262.7 234.0h0.9M262.4 208.0h0.9M262.2 205.3h0.9M247.6 216.7h0.9M249.8 232.4h0.9M263.7 222.4h0.9M248.6 218.2h0.9M263.6 220.9h0.9M262.9 241.0h0.9M262.9 217.7h0.9M248.3 234.7h0.9M248.1 241.3h0.9M252.9 205.6h0.9M250.3 236.7h0.9M263.2 229.8h0.9M261.6 226.2h0.9M259.0 205.9h0.9M249.9 224.8h0.9M250.2 207.6h0.9M253.2 204.8h0.9M261.0 205.4h0.9M262.2 231.5h0.9M248.8 229.1h0.9M248.6 228.3h0.9M248.3 211.8h0.9M250.0 239.1h0.9M263.7 218.3h0.9M259.4 205.7h0.9M263.1 223.8h0.9M256.5 203.4h0.9M256.4 203.9h0.9M262.0 224.5h0.9M261.2 215.2h0.9M248.6 220.5h0.9M263.5 220.0h0.9M248.2 218.0h0.9M250.6 207.7h0.9M262.5 211.8h0.9M250.6 224.3h0.9M248.7 238.4h0.9M262.5 223.2h0.9M248.6 240.7h0.9M260.0 204.6h0.9M249.7 214.5h0.9M249.2 207.0h0.9M249.5 228.1h0.9M261.8 208.2h0.9M249.6 208.3h0.9M250.4 206.0h0.9M264.2 243.0h0.9M254.6 202.8h0.9M248.6 219.7h0.9M253.0 206.7h0.9M263.4 227.1h0.9M263.6 206.6h0.9M263.1 223.7h0.9M249.7 228.9h0.9M248.6 225.0h0.9M248.7 235.9h0.9M250.2 227.1h0.9M248.7 227.3h0.9M250.0 208.3h0.9M263.0 238.0h0.9M253.5 208.3h0.9M264.0 208.7h0.9M247.8 211.8h0.9M249.3 215.2h0.9M263.7 228.8h0.9M262.7 233.7h0.9M262.9 220.0h0.9M250.6 215.5h0.9M265.1 240.6h0.9M263.1 219.5h0.9M250.5 208.9h0.9M252.4 204.4h0.9M262.9 240.1h0.9M263.6 228.8h0.9M249.0 222.5h0.9M262.0 214.9h0.9M258.0 204.0h0.9M265.1 223.0h0.9M250.4 210.9h0.9M260.6 226.7h0.9M250.0 224.0h0.9M249.2 225.5h0.9M264.0 239.7h0.9M261.9 217.3h0.9M249.9 224.8h0.9M249.0 222.6h0.9M263.7 242.9h0.9M262.9 216.8h0.9M263.2 211.7h0.9M263.4 232.4h0.9M263.4 240.9h0.9M249.7 227.9h0.9M248.1 238.1h0.9M263.5 226.4h0.9M263.6 222.2h0.9M248.6 222.9h0.9M262.1 207.6h0.9M251.3 205.8h0.9M262.6 238.2h0.9M263.3 227.5h0.9M264.0 222.7h0.9M262.7 230.0h0.9M262.7 220.8h0.9M263.8 227.5h0.9M262.7 215.6h0.9M262.5 232.6h0.9M251.4 223.5h0.9M250.9 241.0h0.9M262.3 236.6h0.9M257.7 203.7h0.9M248.9 216.5h0.9M263.2 218.3h0.9M249.1 209.2h0.9M248.2 215.2h0.9M262.9 228.5h0.9M257.3 205.7h0.9M264.5 204.9h0.9M266.2 210.4h0.9M265.3 217.4h0.9M250.9 235.3h0.9M251.5 218.0h0.9M251.7 204.9h0.9M254.2 241.5h0.9M258.9 241.7h0.9M254.2 204.8h0.9M263.2 213.7h0.9M250.4 222.6h0.9M258.8 202.6h0.9M248.7 230.9h0.9M261.1 204.5h0.9M248.2 230.8h0.9M258.4 204.2h0.9M266.3 231.6h0.9M246.4 230.2h0.9M248.3 208.9h0.9M264.3 223.6h0.9M249.6 240.6h0.9M266.3 242.0h0.9M249.7 229.3h0.9M261.2 208.1h0.9M249.8 213.9h0.9M264.3 216.4h0.9M265.6 223.1h0.9M264.4 213.7h0.9M252.0 199.8h0.9M258.3 230.8h0.9M248.2 206.2h0.9M265.6 235.3h0.9M263.1 213.6h0.9M262.8 240.3h0.9M263.9 217.2h0.9M250.6 218.0h0.9M248.2 231.0h0.9M258.2 205.4h0.9M250.7 210.8h0.9M268.6 233.6h0.9M262.8 214.2h0.9M254.1 205.7h0.9M263.5 213.5h0.9M246.8 216.7h0.9M251.2 227.7h0.9M260.6 238.9h0.9M261.2 218.6h0.9M249.4 205.5h0.9M262.1 242.0h0.9M248.6 220.4h0.9M259.6 204.6h0.9M250.8 226.7h0.9M260.0 239.1h0.9M260.5 201.5h0.9M265.4 237.8h0.9M256.8 204.1h0.9M264.9 214.5h0.9M258.8 206.9h0.9M246.0 212.8h0.9M253.0 226.5h0.9M250.6 209.4h0.9M265.4 211.2h0.9M257.8 208.9h0.9M263.1 225.8h0.9M249.8 229.2h0.9M253.8 228.0h0.9M248.5 208.7h0.9M246.7 211.6h0.9M247.1 205.3h0.9M250.1 223.0h0.9M247.6 218.0h0.9M246.7 236.4h0.9M266.9 220.5h0.9M260.1 207.8h0.9M265.0 226.9h0.9M249.2 240.0h0.9M264.8 207.3h0.9M250.0 241.6h0.9M258.9 210.3h0.9M266.2 207.7h0.9M264.1 219.5h0.9M248.1 230.1h0.9M247.6 218.8h0.9M245.5 221.8h0.9M267.2 226.6h0.9M250.4 230.7h0.9M264.2 240.3h0.9M251.6 206.8h0.9M248.5 216.1h0.9M262.6 216.8h0.9M250.1 225.6h0.9M248.8 203.6h0.9M255.7 203.3h0.9M245.6 231.6h0.9M255.2 205.5h0.9M261.3 239.9h0.9M249.9 234.8h0.9M262.9 225.8h0.9M249.9 215.0h0.9M246.7 224.5h0.9M248.6 226.8h0.9M262.2 228.1h0.9M248.6 210.8h0.9M261.0 218.9h0.9M264.2 212.5h0.9M250.0 238.3h0.9M262.6 214.2h0.9M262.9 217.4h0.9M261.5 208.7h0.9M259.2 206.3h0.9M249.5 233.6h0.9M245.3 209.9h0.9M263.2 229.3h0.9M250.4 239.7h0.9M262.4 213.5h0.9M247.7 229.8h0.9M253.1 211.4h0.9M249.5 208.7h0.9M248.2 207.8h0.9M263.6 231.1h0.9M243.0 218.2h0.9M258.1 202.9h0.9M257.7 232.3h0.9M254.7 204.4h0.9M264.5 243.2h0.9M262.2 208.0h0.9M253.7 236.5h0.9M266.7 228.0h0.9M258.2 203.0h0.9M248.4 237.0h0.9M248.1 217.9h0.9M263.8 219.2h0.9M266.4 227.5h0.9M248.8 219.3h0.9M249.0 204.0h0.9M262.5 235.3h0.9M267.4 219.2h0.9M249.2 220.3h0.9M261.7 213.8h0.9M260.6 219.9h0.9M247.3 227.4h0.9M249.9 232.6h0.9M250.5 223.9h0.9M258.0 233.5h0.9M249.3 239.7h0.9M246.2 214.4h0.9M255.9 205.5h0.9M246.2 231.2h0.9M261.6 208.8h0.9M260.5 202.1h0.9M251.7 239.6h0.9M263.5 208.6h0.9M244.6 236.3h0.9M265.3 240.4h0.9M250.3 229.1h0.9M248.8 222.6h0.9M256.2 204.3h0.9M263.6 229.2h0.9M264.3 206.4h0.9M245.1 213.4h0.9M247.8 227.8h0.9M249.7 237.5h0.9M245.8 222.8h0.9M262.1 214.5h0.9M256.4 206.1h0.9M246.3 215.9h0.9M246.5 236.2h0.9M249.2 232.7h0.9M259.9 208.5h0.9M259.2 204.1h0.9M265.0 214.5h0.9M267.6 213.0h0.9M266.3 223.1h0.9M261.9 212.7h0.9M248.3 226.3h0.9M254.0 206.5h0.9M257.6 205.0h0.9M267.8 240.5h0.9M245.2 209.2h0.9M261.8 236.4h0.9M245.8 224.8h0.9M249.4 235.7h0.9M251.1 217.8h0.9M246.3 232.1h0.9M261.3 208.1h0.9M261.4 228.6h0.9M258.5 204.4h0.9M247.4 218.1h0.9M249.5 225.7h0.9M248.7 239.2h0.9M247.3 221.3h0.9M265.1 204.8h0.9M252.3 210.6h0.9M265.2 209.6h0.9M246.3 225.1h0.9M246.2 225.7h0.9M263.9 203.3h0.9M246.7 235.2h0.9M253.4 234.8h0.9M253.2 204.6h0.9M262.5 206.9h0.9M263.6 236.5h0.9M261.9 203.7h0.9M262.6 220.4h0.9M248.1 207.5h0.9M261.9 224.0h0.9M264.2 216.2h0.9M264.7 208.2h0.9M248.6 237.3h0.9M247.4 233.3h0.9M247.0 223.8h0.9M250.3 207.4h0.9M261.3 210.5h0.9M250.5 223.0h0.9M247.3 237.0h0.9M245.9 231.5h0.9M263.9 228.2h0.9M252.9 234.5h0.9M265.8 202.4h0.9M253.7 205.4h0.9M254.3 205.3h0.9M264.6 219.7h0.9M248.0 213.9h0.9M248.0 231.3h0.9M264.6 211.8h0.9M251.6 217.9h0.9M252.6 201.1h0.9M259.9 203.9h0.9M268.5 230.7h0.9M254.6 229.9h0.9M260.2 229.8h0.9M253.2 242.1h0.9M245.9 231.6h0.9M248.8 224.9h0.9M250.2 228.8h0.9M262.7 205.2h0.9M258.6 241.5h0.9M249.1 225.4h0.9M264.4 215.6h0.9M247.7 226.1h0.9M262.1 223.6h0.9M253.7 204.7h0.9M263.4 229.2h0.9M250.2 225.6h0.9M250.2 205.6h0.9M252.8 207.4h0.9M252.0 205.9h0.9M264.9 207.1h0.9M252.2 208.4h0.9M266.1 231.9h0.9M263.9 227.8h0.9M267.6 232.1h0.9M250.3 227.4h0.9M262.7 241.2h0.9M266.7 220.3h0.9M246.0 230.1h0.9M245.3 228.1h0.9M265.7 233.2h0.9M262.7 218.1h0.9M244.4 225.8h0.9M262.8 215.7h0.9M246.9 210.7h0.9M267.0 230.8h0.9M250.0 218.5h0.9M250.5 242.2h0.9M252.1 202.2h0.9M245.4 218.2h0.9M264.8 216.5h0.9M266.4 220.2h0.9M257.4 205.1h0.9M265.8 202.6h0.9M258.6 209.7h0.9M259.4 203.8h0.9M262.9 209.7h0.9M248.3 208.2h0.9M265.9 237.0h0.9M257.2 205.2h0.9M246.9 220.8h0.9M244.4 223.7h0.9M246.8 218.8h0.9M263.6 233.8h0.9M264.6 223.3h0.9M264.9 238.2h0.9M259.2 230.5h0.9M244.7 219.4h0.9M261.7 240.8h0.9M247.6 225.6h0.9M248.6 241.9h0.9M261.3 209.9h0.9M266.9 225.6h0.9M264.1 224.5h0.9M263.5 234.9h0.9M264.0 223.6h0.9M263.1 217.6h0.9M264.0 228.8h0.9M264.5 209.6h0.9M253.3 241.4h0.9M265.7 228.0h0.9M249.0 226.4h0.9M247.8 212.2h0.9M255.1 207.4h0.9M263.6 219.0h0.9M250.5 203.1h0.9M246.9 233.5h0.9M248.7 225.0h0.9M248.3 211.9h0.9M263.8 222.3h0.9M250.7 203.6h0.9M254.1 202.1h0.9M263.7 225.2h0.9M252.2 216.6h0.9M249.8 207.2h0.9M248.1 235.6h0.9M251.0 222.6h0.9M262.1 202.9h0.9M263.3 224.6h0.9M261.4 232.9h0.9M251.0 209.2h0.9M246.6 219.1h0.9M264.6 232.9h0.9M262.7 238.4h0.9M264.1 233.8h0.9M267.0 230.0h0.9M261.3 208.9h0.9M251.7 227.8h0.9M260.8 234.7h0.9M259.5 224.6h0.9M263.0 217.2h0.9M262.4 210.4h0.9M265.2 238.8h0.9M265.0 216.7h0.9M245.8 229.4h0.9M249.5 239.5h0.9M264.6 215.5h0.9M249.6 214.3h0.9M256.3 202.3h0.9M246.1 222.6h0.9M244.7 219.8h0.9M262.5 211.4h0.9M261.6 205.6h0.9M261.5 231.3h0.9M252.7 214.8h0.9M247.6 211.6h0.9M247.2 218.6h0.9M246.5 214.9h0.9M246.5 213.5h0.9M264.9 223.4h0.9M261.2 208.6h0.9M250.0 232.2h0.9M263.5 216.6h0.9M248.4 231.9h0.9M265.4 204.8h0.9M247.3 234.0h0.9M266.5 223.0h0.9M248.4 206.2h0.9M253.0 220.5h0.9M251.0 231.9h0.9M248.5 238.6h0.9M248.4 208.9h0.9M249.2 219.3h0.9M249.4 212.0h0.9M260.5 227.2h0.9M261.1 205.6h0.9M252.1 225.9h0.9M258.3 204.0h0.9M254.5 197.8h0.9M256.9 203.6h0.9M253.4 196.9h0.9M257.1 196.7h0.9M255.2 203.5h0.9M255.9 203.9h0.9M256.2 200.7h0.9M254.6 198.1h0.9M252.2 202.1h0.9M256.3 196.3h0.9M254.3 198.6h0.9M263.0 199.9h0.9M254.7 196.1h0.9M261.7 195.2h0.9M254.2 198.3h0.9M257.0 202.7h0.9M255.1 201.6h0.9M257.2 207.6h0.9M257.9 206.3h0.9M254.5 199.1h0.9M259.0 202.1h0.9M252.9 201.7h0.9M255.1 196.9h0.9M255.5 200.2h0.9M254.6 203.0h0.9M261.3 202.6h0.9M252.1 199.5h0.9M258.4 199.3h0.9M256.1 195.4h0.9M257.2 195.0h0.9M259.3 198.7h0.9M263.9 204.2h0.9M255.0 198.1h0.9M259.6 202.0h0.9M258.9 194.7h0.9M251.6 194.6h0.9M256.3 199.6h0.9M253.7 197.2h0.9M257.1 199.1h0.9M259.9 198.0h0.9M258.8 200.8h0.9M254.7 199.7h0.9M257.4 197.3h0.9M258.9 193.8h0.9M253.0 206.0h0.9M253.6 197.8h0.9M254.1 201.9h0.9M249.9 203.7h0.9M254.0 195.3h0.9M260.2 201.5h0.9M256.0 195.9h0.9M258.4 202.1h0.9M256.7 199.5h0.9M251.1 199.1h0.9M255.1 204.9h0.9M253.6 198.9h0.9M255.0 199.6h0.9M257.5 197.8h0.9M254.8 202.2h0.9M255.7 198.8h0.9M253.3 205.8h0.9M264.1 200.5h0.9M255.1 202.4h0.9M258.1 198.4h0.9M255.9 200.6h0.9M253.6 199.6h0.9M259.6 204.7h0.9M252.2 199.2h0.9M256.3 197.2h0.9M257.6 197.9h0.9M251.8 199.3h0.9M258.7 203.4h0.9M255.8 203.6h0.9M262.9 200.1h0.9M251.2 198.3h0.9M255.0 200.4h0.9M253.6 201.0h0.9M257.1 198.4h0.9M259.5 202.8h0.9M256.9 201.1h0.9M256.2 203.4h0.9M255.2 199.3h0.9M258.3 196.4h0.9M254.7 204.4h0.9M257.1 200.5h0.9M254.9 202.0h0.9M261.2 193.7h0.9M256.7 196.9h0.9M260.2 199.5h0.9M252.4 195.9h0.9M254.5 196.2h0.9M256.5 201.0h0.9M256.3 200.8h0.9M256.7 202.0h0.9M260.2 205.9h0.9M258.9 193.6h0.9M248.1 203.9h0.9M256.3 195.9h0.9M253.9 201.6h0.9M257.5 199.1h0.9M257.0 199.9h0.9M260.9 201.3h0.9M254.1 197.0h0.9M258.4 199.8h0.9M255.9 203.2h0.9M257.7 197.7h0.9M256.4 197.3h0.9M252.2 203.0h0.9M253.4 200.7h0.9M258.8 196.2h0.9M253.2 194.6h0.9M254.6 201.2h0.9M260.9 194.2h0.9M257.9 199.8h0.9M254.8 204.6h0.9M263.0 199.7h0.9M249.2 199.4h0.9M255.9 194.8h0.9M249.8 201.0h0.9M250.9 199.4h0.9M257.8 201.5h0.9M251.9 204.4h0.9M255.1 204.7h0.9M254.4 195.7h0.9M255.4 197.9h0.9M255.4 198.6h0.9M253.3 201.9h0.9M255.9 202.2h0.9M252.0 201.2h0.9M254.6 202.3h0.9M256.7 197.0h0.9M258.3 203.4h0.9M257.0 197.7h0.9M255.4 201.5h0.9M257.9 198.7h0.9M255.4 198.6h0.9M255.7 200.3h0.9M255.9 201.7h0.9M255.4 200.7h0.9M253.1 201.6h0.9M255.8 201.4h0.9M256.1 202.3h0.9M255.4 203.4h0.9M255.5 200.6h0.9M260.0 198.0h0.9M257.2 204.3h0.9M255.3 194.1h0.9M252.5 200.7h0.9M257.0 195.0h0.9M251.1 197.7h0.9M254.9 199.3h0.9M262.7 198.2h0.9M252.6 201.3h0.9M254.0 199.8h0.9M256.0 198.2h0.9M257.6 203.8h0.9M255.8 197.2h0.9M253.0 197.3h0.9M258.3 204.9h0.9M256.5 206.1h0.9M257.6 201.3h0.9M254.5 198.9h0.9M258.0 200.4h0.9M257.5 193.0h0.9M255.0 196.6h0.9M251.8 198.1h0.9M255.7 201.6h0.9M256.5 202.6h0.9M256.5 195.0h0.9M257.3 196.6h0.9M253.7 198.3h0.9M255.6 200.9h0.9M250.3 196.8h0.9M257.3 202.8h0.9M251.3 201.0h0.9M255.0 202.6h0.9M258.7 198.0h0.9M252.1 201.1h0.9M257.4 200.1h0.9M256.9 198.2h0.9M258.7 198.8h0.9M259.5 196.3h0.9M259.4 200.1h0.9M251.2 202.7h0.9M255.3 201.1h0.9M256.9 202.8h0.9M256.0 197.2h0.9M252.3 202.5h0.9M252.9 198.4h0.9M256.4 198.7h0.9M256.1 196.0h0.9M260.5 198.8h0.9M257.4 200.5h0.9M261.7 204.5h0.9M259.8 198.1h0.9M254.6 203.5h0.9M256.4 198.8h0.9M258.0 198.1h0.9M254.6 196.3h0.9M256.2 200.8h0.9M260.7 198.9h0.9M258.1 205.6h0.9M251.4 202.2h0.9M251.7 198.3h0.9M251.5 200.5h0.9M257.2 195.0h0.9M252.4 192.7h0.9M254.8 194.9h0.9M254.3 198.5h0.9M254.0 199.2h0.9M254.9 203.5h0.9M260.5 196.3h0.9M254.5 202.6h0.9M258.4 198.7h0.9M255.8 198.7h0.9M250.6 203.9h0.9M256.0 194.6h0.9M256.0 201.9h0.9M254.6 194.9h0.9M256.1 194.9h0.9M255.7 201.2h0.9M256.8 195.6h0.9M255.6 195.4h0.9M257.2 200.9h0.9M260.8 203.0h0.9M254.9 203.0h0.9M257.4 201.3h0.9M260.0 201.9h0.9M257.0 201.5h0.9M256.2 195.7h0.9" stroke="#111" stroke-opacity="0.62" stroke-width="0.9" fill="none" filter="url(#b0)"/>
<path d="M287.0 210.2h0.9M285.0 195.7h0.9M287.5 181.3h0.9M283.6 196.8h0.9M286.1 184.1h0.9M283.1 170.6h0.9M278.3 193.4h0.9M277.5 196.7h0.9M285.0 182.6h0.9M286.1 182.3h0.9M280.3 194.2h0.9M284.0 191.7h0.9M283.5 190.2h0.9M284.4 195.2h0.9M286.4 188.9h0.9M284.9 183.1h0.9M286.3 192.1h0.9M288.1 184.7h0.9M281.1 187.1h0.9M288.7 195.7h0.9M285.3 182.5h0.9M284.2 190.4h0.9M287.7 196.3h0.9M284.7 168.4h0.9M291.7 185.2h0.9M281.7 184.5h0.9M288.4 187.8h0.9M286.2 191.5h0.9M286.6 174.7h0.9M281.2 201.7h0.9M281.8 208.0h0.9M280.6 198.2h0.9M275.2 181.6h0.9M284.1 181.5h0.9M279.8 200.0h0.9M281.0 174.2h0.9M280.8 208.5h0.9M290.6 177.1h0.9M278.6 172.1h0.9M280.6 174.0h0.9M282.3 182.3h0.9M287.0 166.0h0.9M286.0 180.8h0.9M279.0 192.0h0.9M279.2 183.7h0.9M283.4 185.9h0.9M284.3 205.6h0.9M277.9 180.3h0.9M289.9 178.6h0.9M282.4 198.0h0.9M289.0 212.7h0.9M282.5 178.0h0.9M282.4 177.5h0.9M282.2 186.7h0.9M281.9 192.3h0.9M284.3 186.0h0.9M283.3 200.4h0.9M288.4 196.5h0.9M286.7 174.2h0.9M278.1 201.5h0.9M287.0 207.3h0.9M284.3 192.8h0.9M280.1 170.7h0.9M288.4 180.6h0.9M282.1 178.3h0.9M283.6 199.7h0.9M279.6 182.1h0.9M286.9 206.2h0.9M278.6 191.5h0.9M281.7 189.3h0.9M281.1 185.4h0.9M279.5 191.0h0.9M281.7 204.2h0.9M286.9 187.8h0.9M279.4 177.5h0.9M283.2 197.6h0.9M286.4 181.2h0.9M282.4 198.2h0.9M290.6 187.1h0.9M283.3 184.2h0.9M285.4 198.7h0.9M277.5 193.8h0.9M282.4 206.7h0.9M279.2 188.1h0.9M291.2 182.8h0.9M279.8 192.4h0.9M284.5 168.6h0.9M279.6 190.4h0.9M283.9 191.5h0.9M284.6 181.7h0.9M280.2 185.8h0.9M285.1 190.8h0.9M280.0 179.7h0.9M282.2 172.2h0.9M283.7 183.6h0.9M281.8 211.3h0.9M280.4 197.1h0.9M278.9 165.2h0.9M281.0 186.0h0.9M278.5 197.4h0.9M286.6 184.8h0.9M279.8 200.8h0.9M281.7 192.7h0.9M282.7 175.1h0.9M281.8 168.9h0.9M280.5 172.8h0.9M284.1 187.4h0.9M282.3 194.9h0.9M284.2 173.8h0.9M281.1 186.6h0.9M281.0 204.7h0.9M278.8 178.3h0.9M287.2 193.4h0.9M282.9 197.2h0.9M280.4 181.9h0.9M277.6 171.4h0.9M285.2 191.1h0.9M290.0 202.3h0.9M281.8 182.2h0.9M280.6 196.7h0.9M285.0 179.7h0.9M285.8 186.4h0.9M282.9 175.5h0.9M277.2 193.9h0.9M280.9 202.5h0.9M285.7 180.5h0.9M285.5 166.4h0.9M280.7 187.0h0.9M288.0 197.3h0.9M283.4 183.9h0.9M283.6 210.5h0.9M279.3 198.9h0.9M284.8 179.5h0.9M281.1 179.4h0.9M280.5 169.0h0.9M276.9 197.4h0.9M281.1 186.9h0.9M279.1 166.9h0.9M280.4 194.7h0.9M286.9 177.6h0.9M282.9 199.4h0.9M275.2 165.7h0.9M287.4 188.9h0.9M289.1 176.8h0.9M285.9 182.3h0.9M288.2 171.1h0.9M277.0 204.0h0.9M284.1 192.2h0.9M283.3 188.0h0.9M279.5 182.3h0.9M279.5 189.7h0.9M281.6 203.9h0.9M280.7 181.4h0.9M287.0 199.9h0.9M282.2 183.6h0.9M279.2 190.4h0.9M291.9 182.2h0.9M286.4 192.6h0.9M284.2 212.9h0.9M283.8 180.3h0.9M287.1 171.9h0.9M283.5 165.5h0.9M282.1 172.8h0.9M281.5 201.6h0.9M284.2 212.6h0.9M278.8 207.7h0.9M287.6 176.4h0.9M282.3 195.0h0.9M279.3 188.0h0.9M279.1 187.1h0.9M281.2 182.4h0.9M285.1 193.2h0.9M284.9 179.3h0.9M283.4 188.4h0.9M284.5 203.2h0.9M279.5 183.8h0.9M281.0 196.8h0.9M285.3 164.1h0.9M288.0 189.8h0.9M284.4 183.6h0.9M285.1 200.4h0.9M283.1 186.4h0.9M285.6 176.1h0.9M282.3 183.2h0.9M284.7 181.6h0.9M282.2 182.6h0.9M284.4 195.8h0.9M283.2 178.7h0.9M281.5 184.6h0.9M285.2 194.2h0.9M284.2 187.2h0.9M275.3 187.8h0.9M284.8 192.9h0.9M284.5 179.1h0.9M282.6 181.7h0.9M282.0 201.2h0.9M282.8 199.5h0.9M284.4 186.2h0.9M285.5 185.7h0.9M284.6 199.6h0.9M282.0 194.2h0.9M286.7 185.7h0.9M281.4 183.6h0.9M279.6 193.6h0.9M282.5 189.6h0.9M282.0 191.6h0.9M289.4 193.8h0.9M282.8 187.7h0.9M280.9 186.9h0.9M280.7 174.5h0.9M284.1 187.9h0.9M280.7 188.8h0.9M278.9 191.2h0.9M279.9 194.3h0.9M288.0 186.1h0.9M282.4 190.5h0.9M285.0 187.4h0.9M282.5 171.4h0.9M277.4 212.2h0.9M288.8 194.3h0.9M275.7 197.5h0.9M280.5 186.7h0.9M283.9 175.7h0.9M280.3 181.4h0.9M289.8 180.4h0.9M278.7 172.0h0.9M286.2 182.3h0.9M285.0 172.8h0.9M283.2 176.7h0.9M286.3 194.8h0.9M279.3 164.3h0.9M280.9 181.9h0.9M284.3 179.7h0.9M280.1 198.0h0.9M286.0 174.1h0.9M279.9 187.1h0.9M286.7 196.6h0.9M281.3 174.0h0.9M277.8 199.8h0.9M280.3 175.4h0.9M279.1 194.0h0.9M284.7 183.2h0.9M281.8 195.2h0.9M283.9 164.4h0.9M286.3 188.4h0.9M282.5 181.8h0.9M285.9 175.3h0.9M281.6 182.8h0.9M283.8 181.0h0.9M282.5 182.0h0.9M281.6 182.0h0.9M284.3 193.2h0.9M284.4 186.8h0.9M286.4 192.2h0.9M283.4 192.2h0.9M284.3 178.2h0.9M284.2 177.4h0.9M280.6 174.3h0.9M281.5 179.4h0.9M287.1 175.2h0.9M283.6 198.6h0.9M284.9 183.4h0.9M282.5 182.7h0.9M288.8 173.7h0.9M286.9 190.8h0.9M281.8 176.2h0.9M284.5 214.9h0.9M287.5 202.1h0.9M292.4 206.3h0.9M282.6 211.4h0.9M278.0 187.9h0.9M279.4 168.3h0.9M291.0 179.4h0.9M282.8 185.4h0.9M285.5 186.8h0.9M285.1 194.1h0.9M279.2 199.0h0.9M281.5 180.1h0.9M282.4 194.5h0.9M277.2 165.7h0.9M285.0 174.9h0.9M280.9 186.2h0.9M288.0 191.9h0.9M279.2 191.0h0.9M282.8 200.3h0.9M284.8 185.4h0.9M284.2 178.2h0.9M280.2 194.1h0.9M278.4 193.3h0.9M286.6 171.8h0.9M287.3 195.4h0.9M281.4 174.7h0.9M283.5 179.6h0.9M280.4 180.9h0.9M278.3 179.1h0.9M281.0 189.4h0.9M283.3 185.8h0.9M286.1 182.1h0.9M283.6 184.1h0.9M280.7 179.6h0.9M286.2 166.8h0.9M283.1 186.9h0.9M278.3 186.0h0.9M284.4 172.2h0.9M283.9 175.2h0.9M282.6 184.0h0.9M285.2 175.2h0.9M285.4 185.1h0.9M287.9 174.9h0.9M285.4 200.0h0.9M287.2 191.0h0.9M279.5 177.4h0.9M280.9 184.8h0.9M282.2 174.6h0.9M285.3 176.0h0.9M279.6 184.4h0.9M285.1 185.4h0.9M287.2 194.7h0.9M279.6 189.1h0.9M289.1 182.5h0.9M279.0 174.6h0.9M284.4 192.6h0.9M281.5 170.6h0.9M278.8 177.7h0.9M281.0 176.0h0.9M277.4 198.4h0.9M282.5 179.3h0.9M278.0 199.9h0.9M283.1 188.3h0.9M282.6 187.4h0.9M283.0 199.2h0.9M280.8 179.1h0.9M282.7 180.3h0.9M282.4 209.8h0.9M283.9 196.4h0.9M282.1 181.5h0.9M282.6 184.8h0.9M282.8 200.0h0.9M283.5 189.6h0.9M281.6 194.1h0.9M283.9 201.8h0.9M284.3 201.1h0.9M277.9 166.3h0.9M281.5 189.0h0.9M278.3 191.8h0.9M281.5 182.7h0.9M292.2 197.5h0.9M280.7 190.8h0.9M284.6 190.0h0.9M288.9 181.6h0.9M288.3 181.4h0.9M285.0 208.0h0.9M282.8 187.1h0.9M287.9 186.1h0.9M277.9 193.7h0.9M285.3 185.6h0.9M290.0 192.9h0.9M286.5 177.9h0.9M287.8 184.3h0.9M280.7 192.1h0.9M277.9 184.7h0.9M284.0 186.8h0.9M280.2 184.2h0.9M284.8 177.3h0.9M287.8 175.6h0.9M281.6 186.9h0.9M289.1 201.7h0.9M282.6 189.8h0.9M285.0 182.7h0.9M289.3 177.4h0.9M285.2 187.1h0.9M279.2 200.9h0.9M289.2 181.1h0.9M278.4 205.7h0.9M284.7 208.8h0.9M282.2 190.7h0.9M280.6 181.8h0.9M287.6 178.3h0.9M285.9 193.4h0.9M284.5 182.4h0.9M289.3 182.2h0.9M275.9 188.8h0.9M281.2 187.4h0.9M286.5 174.9h0.9M284.5 179.3h0.9M283.2 186.3h0.9M283.7 168.2h0.9M283.1 177.2h0.9M280.5 200.0h0.9M289.7 182.1h0.9M280.0 181.4h0.9M278.4 182.0h0.9M283.8 194.7h0.9M279.6 197.7h0.9M279.7 193.6h0.9M284.7 203.5h0.9M287.4 204.4h0.9M288.4 171.3h0.9M284.2 188.9h0.9M282.1 194.7h0.9M286.8 188.8h0.9M285.1 173.5h0.9M284.1 189.6h0.9M278.3 189.7h0.9M285.6 179.5h0.9M282.7 198.7h0.9M281.6 169.6h0.9M285.9 181.9h0.9M284.1 195.0h0.9M284.8 196.0h0.9M279.1 183.2h0.9M284.1 192.7h0.9M280.9 180.9h0.9M284.9 180.5h0.9M277.4 181.6h0.9M283.9 184.6h0.9M283.5 185.7h0.9M282.7 195.4h0.9M282.2 196.6h0.9M281.4 187.3h0.9M291.4 177.5h0.9M275.3 192.1h0.9M283.9 180.8h0.9M287.6 198.4h0.9M286.4 185.4h0.9M282.5 201.7h0.9M280.5 197.7h0.9M282.4 172.8h0.9M278.3 174.5h0.9M287.8 192.6h0.9M288.0 181.9h0.9M284.9 186.2h0.9M289.0 184.5h0.9M282.9 199.9h0.9M281.5 205.1h0.9M276.8 182.3h0.9M278.0 175.7h0.9M280.4 203.5h0.9M282.7 172.6h0.9M277.8 185.8h0.9M285.4 189.6h0.9M276.7 174.1h0.9M277.2 192.4h0.9M282.1 185.0h0.9M284.1 191.0h0.9M283.0 185.0h0.9M282.4 199.1h0.9M281.1 187.8h0.9M278.2 188.7h0.9M277.3 174.0h0.9M282.9 181.6h0.9M287.2 175.5h0.9M287.3 191.6h0.9M285.5 188.6h0.9M287.1 184.8h0.9M284.5 180.6h0.9M280.8 194.9h0.9M286.9 182.8h0.9M285.7 185.6h0.9M287.4 187.7h0.9M280.9 193.4h0.9M280.2 184.3h0.9M283.6 188.9h0.9M279.9 212.1h0.9M287.5 176.0h0.9M281.9 172.8h0.9M281.4 175.7h0.9M290.2 179.7h0.9M275.8 194.2h0.9M279.4 206.1h0.9M284.5 194.0h0.9M286.5 194.1h0.9M281.4 196.0h0.9M283.9 207.8h0.9M283.1 174.2h0.9M282.8 184.7h0.9M278.6 181.7h0.9M281.8 181.5h0.9M277.5 177.5h0.9M288.9 186.4h0.9M281.5 205.3h0.9M281.2 195.8h0.9M282.8 198.0h0.9M278.6 182.2h0.9M275.8 182.8h0.9M281.9 178.3h0.9M289.7 201.5h0.9M278.3 206.8h0.9M276.3 195.7h0.9M284.6 173.3h0.9M287.4 200.5h0.9M285.8 164.2h0.9M288.5 184.8h0.9M281.5 186.8h0.9M276.4 193.9h0.9M282.8 178.6h0.9M286.4 187.6h0.9M281.2 180.2h0.9M285.7 182.3h0.9M284.9 177.2h0.9M280.9 186.4h0.9M285.5 183.8h0.9M285.9 181.0h0.9M281.5 197.1h0.9M285.4 181.0h0.9M283.8 173.5h0.9M286.9 200.7h0.9M277.8 185.1h0.9M285.8 178.6h0.9M286.7 212.5h0.9M288.2 180.2h0.9M289.7 188.4h0.9M284.9 181.4h0.9M280.7 164.9h0.9M287.9 181.2h0.9M285.7 187.1h0.9M286.0 177.1h0.9M283.4 191.4h0.9M275.4 186.4h0.9M284.9 174.7h0.9M281.9 179.6h0.9M277.0 182.1h0.9M285.4 187.4h0.9M282.6 185.4h0.9M281.1 182.3h0.9M279.4 183.4h0.9M282.4 171.0h0.9M282.3 200.8h0.9M284.1 184.2h0.9M285.5 169.9h0.9M281.6 188.0h0.9M284.3 202.2h0.9M283.4 185.9h0.9M287.2 173.3h0.9M284.8 187.5h0.9M282.6 175.9h0.9M281.4 183.6h0.9M281.9 208.9h0.9M279.2 178.8h0.9M283.5 179.9h0.9M284.8 192.4h0.9M283.1 200.2h0.9M282.9 200.4h0.9M287.4 181.2h0.9M278.7 178.9h0.9M284.0 189.8h0.9M287.1 188.5h0.9M282.7 191.6h0.9M282.6 173.6h0.9M279.3 176.3h0.9M280.1 195.9h0.9M289.0 178.1h0.9M285.7 191.7h0.9M281.7 208.7h0.9M283.5 180.0h0.9M282.6 178.1h0.9M283.8 193.6h0.9M284.5 189.0h0.9M283.2 189.5h0.9M286.8 199.0h0.9M282.3 190.7h0.9M280.6 174.4h0.9M286.0 192.5h0.9M283.1 175.3h0.9M284.3 192.8h0.9M285.3 189.8h0.9M285.5 185.9h0.9M280.3 202.4h0.9M285.4 189.7h0.9M280.8 196.6h0.9M278.6 175.1h0.9M285.5 193.2h0.9M284.3 171.9h0.9M281.2 179.4h0.9M291.2 183.4h0.9M285.4 186.8h0.9M285.8 201.1h0.9M278.8 175.4h0.9M283.7 187.1h0.9M275.4 183.9h0.9M282.3 178.2h0.9M281.9 201.1h0.9M285.6 192.8h0.9M277.9 194.3h0.9M286.5 174.9h0.9M282.8 197.7h0.9M284.4 203.3h0.9M280.6 192.9h0.9M281.8 195.2h0.9M290.9 188.8h0.9M283.1 172.2h0.9M283.4 189.3h0.9M286.3 193.1h0.9M285.3 179.7h0.9M280.9 185.0h0.9M284.3 181.5h0.9M284.2 188.3h0.9M281.9 176.6h0.9M285.4 200.4h0.9M284.8 185.8h0.9M282.9 192.0h0.9M283.6 173.8h0.9M281.0 186.4h0.9M282.2 188.9h0.9M282.0 182.3h0.9M286.4 180.3h0.9M280.9 176.4h0.9M284.2 170.0h0.9M281.7 169.2h0.9M284.2 177.6h0.9M281.2 205.0h0.9M282.3 193.2h0.9M278.4 171.2h0.9M278.3 185.5h0.9M284.6 189.7h0.9M280.0 191.1h0.9M281.6 176.9h0.9M285.2 168.1h0.9M286.3 196.5h0.9M287.2 180.4h0.9M285.4 187.4h0.9M287.6 184.9h0.9M283.3 189.6h0.9M285.7 201.4h0.9M281.8 173.7h0.9M281.7 185.0h0.9M282.4 192.7h0.9M286.9 187.7h0.9M281.1 206.6h0.9M283.9 189.7h0.9M285.0 185.5h0.9M284.3 178.1h0.9M286.6 171.6h0.9M288.1 182.4h0.9M282.5 193.2h0.9M288.3 178.0h0.9M285.6 180.4h0.9M283.4 184.7h0.9M286.4 188.2h0.9M283.5 191.7h0.9M284.0 179.7h0.9M282.3 194.8h0.9M282.1 187.8h0.9M282.7 175.4h0.9M285.5 178.0h0.9M288.1 184.0h0.9M283.8 174.1h0.9M284.6 188.3h0.9M286.8 170.6h0.9M278.9 197.0h0.9M286.5 183.6h0.9M282.9 184.8h0.9M282.0 170.8h0.9M284.5 168.7h0.9M278.9 211.9h0.9M281.9 191.9h0.9M283.0 186.2h0.9M287.7 181.2h0.9M284.1 185.6h0.9M285.1 181.9h0.9M289.0 202.4h0.9M289.5 203.0h0.9M282.6 203.2h0.9M285.2 187.9h0.9M283.1 201.1h0.9M287.1 173.7h0.9M279.5 186.1h0.9M287.6 198.6h0.9M289.2 205.9h0.9M276.7 183.3h0.9M286.6 184.3h0.9M283.6 194.5h0.9M283.2 199.8h0.9M284.1 213.6h0.9M286.3 183.7h0.9M285.7 183.2h0.9M289.4 175.1h0.9M283.6 199.5h0.9M288.0 173.2h0.9M276.6 184.1h0.9M283.3 178.6h0.9M278.2 193.2h0.9M280.0 197.2h0.9M286.3 184.7h0.9M282.6 177.2h0.9M281.8 176.1h0.9M281.4 176.3h0.9M282.7 179.1h0.9M291.0 202.8h0.9M287.6 184.6h0.9M288.0 195.9h0.9M286.0 188.2h0.9M285.3 174.3h0.9M285.0 187.9h0.9M286.5 183.6h0.9M279.7 200.4h0.9M283.2 168.1h0.9M286.2 185.3h0.9M280.3 198.1h0.9M286.2 167.7h0.9M277.9 183.0h0.9M282.5 175.1h0.9M291.1 192.8h0.9M282.4 183.4h0.9M278.4 212.2h0.9M277.1 182.7h0.9M279.6 185.2h0.9M285.5 174.6h0.9M287.7 190.3h0.9M286.0 191.0h0.9M281.0 169.8h0.9M283.8 179.6h0.9M286.9 185.5h0.9M284.4 184.2h0.9M284.4 172.3h0.9M281.2 175.7h0.9M280.4 180.1h0.9M280.1 183.7h0.9M283.1 178.9h0.9M276.8 189.0h0.9M281.8 203.7h0.9M284.6 180.9h0.9M282.3 180.9h0.9M280.5 185.9h0.9M281.2 191.7h0.9M283.8 190.7h0.9M277.5 187.8h0.9M279.2 191.2h0.9M281.3 180.5h0.9M277.1 185.2h0.9M288.3 183.8h0.9M282.5 188.5h0.9M285.4 178.4h0.9M280.6 190.2h0.9M287.1 178.1h0.9M283.7 186.0h0.9M279.0 187.9h0.9M282.0 179.3h0.9M277.2 174.6h0.9M278.9 202.3h0.9M287.0 174.5h0.9M283.6 177.1h0.9M287.9 176.8h0.9M279.1 181.1h0.9M282.7 184.0h0.9M284.0 194.4h0.9M281.4 180.8h0.9M288.1 192.1h0.9M287.4 192.4h0.9M278.8 183.4h0.9M280.7 175.0h0.9M280.3 188.1h0.9M277.2 186.8h0.9M277.4 205.6h0.9M282.7 187.0h0.9M286.2 190.3h0.9M282.5 164.1h0.9M287.2 195.3h0.9M289.9 192.4h0.9M281.7 172.1h0.9M275.9 194.0h0.9M283.7 169.0h0.9M279.6 171.6h0.9M280.6 172.7h0.9M281.2 168.1h0.9M282.7 191.1h0.9M285.1 182.1h0.9M281.5 189.1h0.9M284.8 171.3h0.9M289.7 176.8h0.9M284.5 196.2h0.9M282.5 167.7h0.9M279.6 212.1h0.9M279.1 164.5h0.9M280.8 169.6h0.9M284.7 185.6h0.9M288.6 192.5h0.9M281.8 185.1h0.9M280.5 203.8h0.9M284.1 190.0h0.9M289.9 184.8h0.9M282.8 187.6h0.9M284.5 192.2h0.9M279.1 165.1h0.9M286.4 201.6h0.9M285.8 183.7h0.9M283.5 187.5h0.9M285.2 169.9h0.9M279.0 194.4h0.9M281.5 173.9h0.9M280.8 173.2h0.9M290.8 184.3h0.9M285.4 174.5h0.9M278.2 198.6h0.9M282.1 185.5h0.9M280.6 197.6h0.9M283.4 188.3h0.9M279.3 187.0h0.9M285.2 194.8h0.9M279.2 197.3h0.9M285.2 196.2h0.9M287.6 175.1h0.9M283.8 176.3h0.9M285.0 186.5h0.9M285.2 181.3h0.9M281.1 167.6h0.9M283.1 185.0h0.9M287.3 182.5h0.9M285.8 183.9h0.9M281.6 202.2h0.9M281.0 195.1h0.9M281.3 203.3h0.9M282.6 191.4h0.9M287.1 174.1h0.9M279.9 172.1h0.9M282.3 184.8h0.9M280.9 189.2h0.9M277.7 188.6h0.9M277.6 186.4h0.9M279.8 170.2h0.9M284.1 179.9h0.9M285.3 199.7h0.9M279.5 194.6h0.9M280.5 195.5h0.9M276.2 186.5h0.9M286.9 200.2h0.9M283.5 189.4h0.9M283.3 187.2h0.9M282.5 175.3h0.9M285.3 191.7h0.9M286.4 194.7h0.9M283.5 169.9h0.9M278.1 185.8h0.9M286.6 179.5h0.9M282.4 180.5h0.9M281.8 185.4h0.9M279.5 178.2h0.9M279.1 185.3h0.9M279.0 188.9h0.9M281.9 173.1h0.9M285.3 184.4h0.9M287.9 177.2h0.9M283.3 182.3h0.9M285.9 206.6h0.9M287.8 168.8h0.9M289.5 182.0h0.9M288.4 191.4h0.9M285.6 184.8h0.9M282.9 195.9h0.9M277.0 180.9h0.9M283.5 189.8h0.9M290.5 195.7h0.9M283.5 193.1h0.9M279.2 179.6h0.9M282.7 175.2h0.9M279.6 173.8h0.9M286.8 202.2h0.9M281.5 180.1h0.9M290.1 181.7h0.9M278.8 192.6h0.9M283.1 185.3h0.9M286.2 187.9h0.9M281.8 189.5h0.9M287.0 201.7h0.9M285.6 176.3h0.9M285.1 206.1h0.9M281.6 169.9h0.9M282.6 202.2h0.9M283.5 175.0h0.9M282.8 195.1h0.9M285.4 183.7h0.9M285.3 178.3h0.9M285.2 189.6h0.9M283.0 185.7h0.9M278.6 197.3h0.9M287.0 190.6h0.9M291.1 191.4h0.9M280.0 176.5h0.9M287.8 190.8h0.9M282.8 199.9h0.9M287.4 176.6h0.9M284.7 208.1h0.9M285.7 189.0h0.9M279.4 193.5h0.9M277.9 200.6h0.9M278.4 196.6h0.9M283.1 182.1h0.9M288.5 191.9h0.9M280.8 194.0h0.9M278.8 193.2h0.9M279.7 185.2h0.9M284.6 194.0h0.9M282.8 203.2h0.9M278.4 189.2h0.9M284.9 198.1h0.9M280.2 177.1h0.9M281.8 196.1h0.9M275.3 192.6h0.9M285.2 194.9h0.9M284.3 177.6h0.9M283.0 172.9h0.9M289.9 191.6h0.9M282.7 206.5h0.9M284.1 172.9h0.9M280.7 185.0h0.9M285.0 196.3h0.9M282.5 182.3h0.9M280.1 177.5h0.9M277.5 173.0h0.9M282.6 173.9h0.9M287.9 192.7h0.9M286.3 196.1h0.9M288.6 184.0h0.9M277.1 206.1h0.9M284.6 206.1h0.9M281.4 192.2h0.9M278.5 181.5h0.9M284.0 181.8h0.9M283.7 176.1h0.9M290.9 166.9h0.9M283.2 178.1h0.9M285.4 180.6h0.9M291.4 187.2h0.9M283.7 201.7h0.9M283.4 192.5h0.9M281.8 185.7h0.9M287.0 199.2h0.9M287.0 171.9h0.9M280.5 197.6h0.9M285.4 192.1h0.9M279.9 203.2h0.9M281.2 197.2h0.9M284.2 178.7h0.9M284.2 183.0h0.9M279.5 176.1h0.9M288.9 180.6h0.9M282.4 177.5h0.9M280.1 184.2h0.9M280.0 184.9h0.9M282.3 184.7h0.9M284.2 187.8h0.9M284.8 189.4h0.9M287.4 199.0h0.9M286.8 198.4h0.9M281.3 185.0h0.9M284.4 183.1h0.9M279.9 181.6h0.9M280.3 184.2h0.9M286.9 196.4h0.9M288.9 206.2h0.9M287.3 194.4h0.9M285.7 171.3h0.9M279.4 175.6h0.9M287.9 176.4h0.9M283.5 174.7h0.9M283.0 193.1h0.9M279.0 167.5h0.9M284.6 188.0h0.9M284.6 173.1h0.9M285.0 184.6h0.9M287.2 192.5h0.9M286.7 184.1h0.9M285.4 170.8h0.9M281.2 190.3h0.9M281.1 188.4h0.9M279.7 185.8h0.9M285.2 177.2h0.9M287.7 173.5h0.9M277.7 193.4h0.9M284.6 185.3h0.9M281.6 170.7h0.9M281.2 191.1h0.9M286.0 193.9h0.9M281.0 205.9h0.9M281.4 176.7h0.9M282.3 179.6h0.9M278.8 199.3h0.9M279.9 198.2h0.9M283.7 193.9h0.9M282.4 179.0h0.9M279.0 186.4h0.9M285.2 176.2h0.9M290.3 194.7h0.9M282.5 195.6h0.9M284.7 175.2h0.9M278.2 179.5h0.9M279.0 175.9h0.9M284.2 182.1h0.9M276.8 191.2h0.9M283.0 190.5h0.9M281.4 180.2h0.9M290.0 164.8h0.9M284.4 180.2h0.9M283.4 191.4h0.9M281.0 187.5h0.9M281.5 185.4h0.9M282.4 175.6h0.9M278.6 193.2h0.9M281.5 196.1h0.9M283.5 198.0h0.9M284.5 183.4h0.9M284.1 176.0h0.9M289.0 187.4h0.9M288.8 184.2h0.9M283.3 181.3h0.9M278.3 208.3h0.9M280.6 192.7h0.9M287.3 180.0h0.9M284.0 172.0h0.9M279.4 183.1h0.9M284.4 211.4h0.9M279.5 184.2h0.9M283.1 170.3h0.9M286.0 209.6h0.9M283.7 190.2h0.9M277.4 175.8h0.9M285.9 194.5h0.9M282.8 181.1h0.9M289.1 178.9h0.9M278.4 165.7h0.9M283.2 179.0h0.9M276.1 214.9h0.9M284.0 191.2h0.9M288.3 193.1h0.9M284.9 172.2h0.9M284.6 173.1h0.9M280.5 188.7h0.9M285.8 197.5h0.9M280.1 193.0h0.9M283.8 181.2h0.9M281.2 196.3h0.9M286.5 166.6h0.9M282.6 188.1h0.9M286.4 181.1h0.9M279.2 203.8h0.9M286.3 182.5h0.9M283.4 179.1h0.9M285.3 180.2h0.9M282.0 165.6h0.9M288.6 190.8h0.9M289.7 181.0h0.9M282.6 181.8h0.9M278.5 198.3h0.9M276.7 174.9h0.9M292.4 178.3h0.9M286.2 199.5h0.9M277.5 196.8h0.9M282.5 201.1h0.9M284.7 180.4h0.9M287.3 183.5h0.9M281.3 179.9h0.9M287.5 193.8h0.9M278.5 186.3h0.9M282.2 184.0h0.9M280.5 180.8h0.9M283.2 194.0h0.9M282.6 197.0h0.9M281.0 177.7h0.9M284.0 192.0h0.9M284.2 201.3h0.9M278.8 195.1h0.9M279.8 186.6h0.9M275.4 182.6h0.9M280.6 210.8h0.9M278.3 198.9h0.9M278.5 185.9h0.9M280.7 192.8h0.9M280.8 194.4h0.9M284.6 190.1h0.9M284.8 184.0h0.9M284.1 199.6h0.9M288.6 181.0h0.9M283.9 198.0h0.9M278.1 186.9h0.9M278.5 182.6h0.9M278.1 198.2h0.9M278.6 183.9h0.9M284.4 203.6h0.9M283.4 201.0h0.9M277.7 185.4h0.9M283.5 188.0h0.9M287.3 189.6h0.9M280.8 176.9h0.9M283.6 183.2h0.9M281.7 166.7h0.9M286.9 203.8h0.9M288.8 185.0h0.9M280.6 180.2h0.9M276.4 190.6h0.9M282.0 178.7h0.9M284.1 187.1h0.9M284.5 178.3h0.9M285.0 191.6h0.9M282.7 194.2h0.9M284.1 197.9h0.9M280.9 193.5h0.9M283.0 194.0h0.9M284.0 178.9h0.9M283.6 195.0h0.9M285.4 168.8h0.9M283.6 179.3h0.9M281.0 180.9h0.9M281.2 197.9h0.9M286.8 193.8h0.9M284.7 186.7h0.9M282.7 199.3h0.9M280.9 168.4h0.9M282.6 198.3h0.9M284.7 176.1h0.9M283.0 184.9h0.9M283.1 171.1h0.9M287.3 188.8h0.9M284.5 180.5h0.9M282.6 179.0h0.9M282.3 177.7h0.9M284.6 186.4h0.9M284.2 182.3h0.9M277.5 204.2h0.9M286.8 176.8h0.9M280.1 179.2h0.9M278.2 172.9h0.9M283.2 179.7h0.9M281.0 171.6h0.9M283.3 173.0h0.9M285.0 182.9h0.9M282.6 176.1h0.9M280.1 169.8h0.9M286.8 180.6h0.9M282.8 186.8h0.9M286.1 178.3h0.9M284.4 186.1h0.9M287.2 197.7h0.9M286.9 176.2h0.9M280.1 177.9h0.9M283.2 176.8h0.9M289.4 164.6h0.9M286.8 207.0h0.9M280.4 179.4h0.9M288.8 195.0h0.9M280.6 209.4h0.9M285.6 196.5h0.9M278.9 168.4h0.9M288.2 201.3h0.9M289.6 188.7h0.9M278.0 191.9h0.9M291.6 182.0h0.9M284.3 202.3h0.9M283.2 186.7h0.9M278.2 179.0h0.9M276.0 210.1h0.9M287.5 185.8h0.9M280.7 179.2h0.9M281.2 199.6h0.9M282.5 213.2h0.9M282.3 181.3h0.9M282.5 170.9h0.9M286.2 203.7h0.9M285.7 187.9h0.9M282.8 175.0h0.9M289.3 183.8h0.9M281.6 199.5h0.9M285.2 199.6h0.9M282.5 176.6h0.9M285.9 184.3h0.9M281.2 169.6h0.9M284.1 191.3h0.9M281.1 198.5h0.9M287.3 174.1h0.9M285.3 211.0h0.9M276.7 192.7h0.9M286.2 192.0h0.9M285.9 178.6h0.9M286.9 176.0h0.9M280.6 192.0h0.9M278.4 183.2h0.9M277.3 181.7h0.9M281.6 187.6h0.9M283.9 184.6h0.9M283.3 188.4h0.9M279.6 204.0h0.9M278.7 195.3h0.9M279.8 195.1h0.9M281.1 186.2h0.9M282.8 197.0h0.9M284.3 180.5h0.9M284.7 170.5h0.9M288.1 190.5h0.9M282.5 189.0h0.9M285.0 169.9h0.9M284.1 185.0h0.9M284.1 193.3h0.9M277.6 174.7h0.9M281.7 180.3h0.9M285.8 179.8h0.9M278.0 164.4h0.9M288.1 199.3h0.9M278.2 186.8h0.9M279.7 184.6h0.9M281.4 186.6h0.9M288.1 190.0h0.9M285.0 191.8h0.9M284.3 186.3h0.9M280.8 189.0h0.9M288.1 195.9h0.9M279.2 181.2h0.9M287.2 187.1h0.9M283.1 171.7h0.9M285.9 172.9h0.9M286.3 185.8h0.9M283.3 187.6h0.9M280.9 185.6h0.9M284.4 188.0h0.9M285.3 192.9h0.9M283.2 208.0h0.9M286.4 167.7h0.9M284.2 191.2h0.9M279.2 171.2h0.9M286.8 184.1h0.9M285.9 172.5h0.9M283.4 183.8h0.9M286.6 187.2h0.9M281.9 174.7h0.9M286.3 189.6h0.9M284.4 188.0h0.9M278.5 184.8h0.9M281.0 181.0h0.9M288.0 184.8h0.9M290.8 205.7h0.9M280.7 186.7h0.9M281.3 182.9h0.9M290.5 174.8h0.9M287.3 191.8h0.9M283.5 200.5h0.9M280.9 179.2h0.9M283.8 181.3h0.9M285.4 180.7h0.9M286.7 202.1h0.9M278.3 196.4h0.9M280.6 183.9h0.9M280.6 176.1h0.9M286.0 199.2h0.9M280.2 177.9h0.9M276.3 196.0h0.9M281.2 202.2h0.9M282.6 186.5h0.9M282.4 199.0h0.9M279.1 181.5h0.9M281.6 191.6h0.9M286.5 191.8h0.9M282.2 164.5h0.9M276.7 166.3h0.9M282.5 188.0h0.9M287.6 188.3h0.9M287.0 180.8h0.9M283.6 177.8h0.9M285.3 168.7h0.9M277.4 184.2h0.9M284.6 197.0h0.9M278.0 166.1h0.9M280.3 194.7h0.9M284.2 184.8h0.9M282.8 197.5h0.9M285.4 202.8h0.9M285.8 167.6h0.9M283.3 185.7h0.9M288.1 179.0h0.9M278.7 185.6h0.9M284.1 175.7h0.9M279.9 196.1h0.9M286.5 214.0h0.9M281.9 172.1h0.9M285.2 171.1h0.9M288.8 182.5h0.9M280.3 196.9h0.9M278.9 182.1h0.9M284.4 182.5h0.9M282.1 172.9h0.9M287.2 179.1h0.9M283.7 191.0h0.9M280.6 194.5h0.9M279.4 181.9h0.9M286.3 184.7h0.9M283.3 175.6h0.9M284.8 187.0h0.9M285.6 188.7h0.9M277.9 189.6h0.9M282.2 178.7h0.9M281.5 193.6h0.9M283.3 181.9h0.9M276.6 194.9h0.9M281.8 188.5h0.9M284.5 179.8h0.9M283.3 174.5h0.9M286.1 168.3h0.9M284.2 188.5h0.9M285.8 190.2h0.9M279.5 213.3h0.9M280.2 186.9h0.9M279.3 174.7h0.9M285.4 192.7h0.9M279.3 197.9h0.9M287.6 186.7h0.9M283.3 201.1h0.9M285.2 176.4h0.9M279.4 168.2h0.9M286.6 166.0h0.9M283.1 167.0h0.9M288.5 194.4h0.9M279.2 204.6h0.9M280.5 184.1h0.9M288.1 182.7h0.9M283.6 178.6h0.9M285.0 183.0h0.9M277.8 206.6h0.9M286.2 181.6h0.9M283.3 203.2h0.9M285.0 181.6h0.9M281.4 171.3h0.9M282.0 167.3h0.9M285.5 184.4h0.9M284.0 186.1h0.9M281.7 187.8h0.9M287.7 183.3h0.9M281.8 186.9h0.9M285.4 195.9h0.9M286.6 179.3h0.9M277.1 179.9h0.9M284.3 175.4h0.9M286.6 180.7h0.9M287.2 182.0h0.9M286.3 189.5h0.9M282.1 190.9h0.9M280.6 178.1h0.9M283.6 168.3h0.9M278.5 187.6h0.9M280.5 200.9h0.9M284.8 164.4h0.9M292.2 189.6h0.9M278.3 177.4h0.9M284.2 179.7h0.9M287.3 181.4h0.9M285.9 197.8h0.9M282.5 181.9h0.9M283.0 197.1h0.9M285.9 186.7h0.9M283.1 183.4h0.9M279.1 165.9h0.9M279.2 182.1h0.9M286.2 190.7h0.9M278.2 197.7h0.9M273.4 235.1h0.9M285.0 211.8h0.9M275.9 237.2h0.9M279.2 227.0h0.9M288.2 233.5h0.9M277.3 216.1h0.9M273.5 211.2h0.9M283.6 211.3h0.9M282.7 233.6h0.9M279.0 219.1h0.9M286.6 219.9h0.9M275.9 203.5h0.9M282.6 212.1h0.9M282.6 213.1h0.9M276.2 221.8h0.9M282.2 208.5h0.9M278.9 240.1h0.9M283.5 234.0h0.9M275.2 204.5h0.9M284.9 206.5h0.9M276.0 236.2h0.9M278.6 211.2h0.9M282.8 223.5h0.9M278.9 217.9h0.9M286.4 215.2h0.9M282.5 203.9h0.9M276.2 228.8h0.9M286.0 224.2h0.9M278.6 212.5h0.9M285.3 227.3h0.9M279.4 217.0h0.9M285.3 223.4h0.9M282.6 222.7h0.9M278.2 222.9h0.9M286.8 208.2h0.9M285.3 218.0h0.9M285.6 206.9h0.9M283.0 204.2h0.9M284.4 204.4h0.9M282.1 209.4h0.9M282.3 209.9h0.9M286.6 206.4h0.9M281.7 225.9h0.9M280.6 226.8h0.9M277.8 237.7h0.9M289.3 212.2h0.9M280.7 207.6h0.9M280.0 203.2h0.9M285.2 234.6h0.9M284.3 211.8h0.9M284.5 227.9h0.9M280.0 217.3h0.9M285.9 221.1h0.9M282.6 227.8h0.9M274.0 232.6h0.9M283.4 221.4h0.9M278.3 210.3h0.9M288.9 210.6h0.9M279.7 214.8h0.9M274.6 206.5h0.9M283.3 223.7h0.9M281.1 208.6h0.9M282.3 227.7h0.9M281.3 237.4h0.9M284.1 218.3h0.9M283.4 207.7h0.9M280.0 220.1h0.9M281.6 205.5h0.9M288.8 217.4h0.9M283.5 205.0h0.9M283.4 210.2h0.9M281.6 204.7h0.9M278.9 204.9h0.9M285.1 215.8h0.9M277.3 222.3h0.9M282.6 234.7h0.9M280.4 207.1h0.9M274.9 242.3h0.9M286.3 209.2h0.9M281.4 205.7h0.9M278.3 223.9h0.9M278.9 206.1h0.9M285.0 231.9h0.9M281.5 241.5h0.9M279.0 229.3h0.9M290.3 238.9h0.9M279.8 215.0h0.9M281.6 242.2h0.9M279.6 210.7h0.9M280.6 230.0h0.9M278.1 212.3h0.9M283.2 217.6h0.9M277.1 208.0h0.9M279.2 220.0h0.9M285.4 211.0h0.9M282.3 207.9h0.9M281.6 203.5h0.9M278.7 231.8h0.9M276.0 204.0h0.9M288.2 219.8h0.9M284.7 219.2h0.9M273.8 221.6h0.9M283.7 206.1h0.9M277.8 206.2h0.9M281.5 225.9h0.9M289.5 214.6h0.9M279.5 240.8h0.9M286.6 212.7h0.9M278.1 204.0h0.9M282.3 208.0h0.9M274.0 214.8h0.9M280.6 223.9h0.9M289.5 227.1h0.9M289.1 218.0h0.9M279.1 214.5h0.9M280.1 208.5h0.9M289.2 217.3h0.9M284.3 206.1h0.9M286.5 206.5h0.9M273.9 208.0h0.9M280.6 225.4h0.9M278.3 234.5h0.9M282.7 218.3h0.9M277.9 205.7h0.9M275.1 210.1h0.9M286.0 214.5h0.9M279.2 212.5h0.9M279.4 223.2h0.9M281.4 236.2h0.9M284.0 238.8h0.9M283.2 206.5h0.9M282.6 207.6h0.9M277.4 224.6h0.9M279.0 223.6h0.9M279.7 217.2h0.9M279.5 206.8h0.9M279.0 234.9h0.9M276.9 219.0h0.9M276.4 216.5h0.9M278.0 229.1h0.9M284.1 228.2h0.9M278.3 235.8h0.9M283.1 213.5h0.9M279.6 219.1h0.9M284.0 240.4h0.9M281.1 212.1h0.9M275.8 205.8h0.9M278.2 237.7h0.9M280.1 224.9h0.9M282.4 230.6h0.9M280.4 220.7h0.9M280.2 204.5h0.9M281.3 232.1h0.9M276.3 221.8h0.9M284.5 225.1h0.9M284.7 213.0h0.9M286.4 235.6h0.9M280.6 210.4h0.9M280.8 216.5h0.9M277.9 212.1h0.9M280.2 223.5h0.9M288.6 204.7h0.9M286.7 204.6h0.9M284.6 230.1h0.9M280.7 206.5h0.9M289.2 220.1h0.9M281.8 211.7h0.9M284.8 206.3h0.9M288.5 214.7h0.9M279.5 218.1h0.9M284.5 208.3h0.9M284.3 233.9h0.9M278.2 221.7h0.9M282.8 218.6h0.9M276.7 206.7h0.9M283.4 217.4h0.9M280.1 226.9h0.9M276.2 231.6h0.9M284.7 212.8h0.9M288.2 206.3h0.9M284.5 232.4h0.9M279.6 211.0h0.9M282.9 228.9h0.9M286.6 241.7h0.9M276.8 224.5h0.9M285.5 237.0h0.9M282.7 215.0h0.9M281.1 207.1h0.9M277.8 237.5h0.9M281.4 236.3h0.9M276.5 226.9h0.9M284.6 214.7h0.9M280.0 205.6h0.9M278.4 212.9h0.9M283.8 225.3h0.9M282.1 231.9h0.9M281.9 212.9h0.9M279.9 234.5h0.9M278.5 207.1h0.9M284.7 211.9h0.9M281.9 211.5h0.9M282.2 224.4h0.9M275.5 206.4h0.9M283.3 236.3h0.9M282.1 215.9h0.9M274.6 215.7h0.9M285.2 228.4h0.9M286.5 239.8h0.9M283.7 237.1h0.9M283.6 215.6h0.9M281.0 208.2h0.9M281.3 230.5h0.9M282.0 234.8h0.9M280.3 224.1h0.9M284.2 237.1h0.9M283.2 238.5h0.9M286.4 208.4h0.9M278.2 230.9h0.9M281.9 212.3h0.9M280.0 209.4h0.9M279.4 233.3h0.9M285.1 230.0h0.9M287.4 212.5h0.9M282.7 229.9h0.9M281.0 204.2h0.9M289.9 208.9h0.9M280.2 204.1h0.9M287.2 219.5h0.9M277.8 215.1h0.9M277.3 217.0h0.9M282.7 231.5h0.9M279.1 211.2h0.9M281.6 225.1h0.9M282.1 203.8h0.9M286.2 209.5h0.9M280.0 216.6h0.9M286.0 223.8h0.9M278.3 204.0h0.9M280.0 215.6h0.9M281.1 222.1h0.9M286.3 234.6h0.9M279.4 221.9h0.9M279.0 215.5h0.9M279.9 208.2h0.9M288.5 230.4h0.9M276.8 218.8h0.9M284.2 226.7h0.9M281.6 212.6h0.9M280.9 209.6h0.9M280.8 220.2h0.9M283.7 203.9h0.9M286.6 222.9h0.9M284.9 218.4h0.9M282.4 216.2h0.9M278.1 211.7h0.9M284.1 215.8h0.9M275.0 226.3h0.9M280.5 234.4h0.9M282.2 206.1h0.9M283.4 224.8h0.9M285.3 204.9h0.9M274.7 204.9h0.9M280.3 207.7h0.9M284.7 205.3h0.9M281.6 231.3h0.9M281.6 214.0h0.9M284.0 207.8h0.9M279.0 211.8h0.9M279.8 209.3h0.9M277.8 219.9h0.9M285.2 224.0h0.9M281.8 225.7h0.9M279.3 210.6h0.9M278.7 213.4h0.9M284.6 235.7h0.9M278.0 205.1h0.9M282.4 210.7h0.9M284.7 213.3h0.9M282.0 218.9h0.9M280.6 234.5h0.9M287.7 216.1h0.9M276.7 203.4h0.9M277.2 205.8h0.9M287.3 222.3h0.9M275.2 230.4h0.9M281.8 224.1h0.9M280.6 217.9h0.9M275.0 212.8h0.9M274.9 222.0h0.9M282.6 211.7h0.9M284.1 208.7h0.9M279.1 226.5h0.9M283.5 223.9h0.9M283.7 215.5h0.9M287.3 221.3h0.9M283.5 237.5h0.9M283.4 216.4h0.9M281.6 230.9h0.9M281.4 211.5h0.9M277.7 222.6h0.9M278.8 241.9h0.9M281.8 233.6h0.9M279.8 208.2h0.9M277.2 220.4h0.9M279.5 204.1h0.9M279.6 205.9h0.9M275.3 213.3h0.9M276.6 212.9h0.9M283.7 221.2h0.9M289.5 209.5h0.9M278.1 226.7h0.9M283.7 216.2h0.9M286.0 206.2h0.9M278.8 220.4h0.9M286.6 234.0h0.9M277.4 204.5h0.9M276.0 229.9h0.9M282.8 208.1h0.9M285.8 242.2h0.9M281.4 204.2h0.9M282.3 217.9h0.9M283.5 236.0h0.9M284.1 204.8h0.9M281.8 228.1h0.9M285.1 212.7h0.9M281.1 219.0h0.9M279.1 218.7h0.9M277.7 215.7h0.9M278.2 207.1h0.9M281.3 205.3h0.9M277.2 214.8h0.9M279.9 206.2h0.9M286.5 206.8h0.9M283.3 227.2h0.9M284.4 228.6h0.9M286.3 215.7h0.9M280.3 234.0h0.9M277.5 230.8h0.9M283.4 220.7h0.9M286.4 203.2h0.9M282.0 214.2h0.9M275.6 213.2h0.9M283.9 205.1h0.9M278.4 207.8h0.9M282.0 216.4h0.9M279.4 205.3h0.9M283.6 204.3h0.9M289.7 206.5h0.9M281.8 235.3h0.9M283.9 210.3h0.9M279.7 205.1h0.9M276.7 216.0h0.9M282.7 225.7h0.9M281.5 220.9h0.9M280.9 217.4h0.9M282.6 207.4h0.9M283.9 210.9h0.9M290.2 234.9h0.9M279.9 218.7h0.9M277.1 209.3h0.9M279.9 215.2h0.9M284.6 218.2h0.9M287.1 208.0h0.9M284.3 235.5h0.9M277.7 212.4h0.9M284.1 218.8h0.9M276.0 215.3h0.9M282.0 226.2h0.9M288.7 230.4h0.9M282.8 226.9h0.9M277.9 241.1h0.9M280.3 235.1h0.9M280.2 204.7h0.9M284.4 220.7h0.9M283.2 234.4h0.9M280.4 236.1h0.9M279.9 223.5h0.9M282.2 205.1h0.9M278.8 213.6h0.9M288.1 208.9h0.9M277.0 219.1h0.9M278.8 215.6h0.9M282.5 214.2h0.9M281.1 218.2h0.9M281.5 215.9h0.9M283.1 213.3h0.9M282.4 210.2h0.9M277.5 211.4h0.9M277.5 218.1h0.9M277.1 238.7h0.9M274.0 225.6h0.9M281.4 204.2h0.9M279.2 224.5h0.9M278.6 220.8h0.9M282.8 213.3h0.9M283.8 228.7h0.9M285.2 216.9h0.9M275.2 208.4h0.9M289.5 209.2h0.9M281.6 207.2h0.9M283.6 203.8h0.9M288.2 215.6h0.9M280.8 208.4h0.9M278.0 218.1h0.9M285.0 208.4h0.9M276.2 204.4h0.9M287.7 221.8h0.9M273.4 220.2h0.9M283.1 212.4h0.9M284.4 207.1h0.9M281.2 214.8h0.9M281.8 227.6h0.9M287.2 205.9h0.9M281.7 223.5h0.9M287.1 229.1h0.9M275.3 230.5h0.9M277.8 215.7h0.9M277.5 203.9h0.9M277.6 212.7h0.9M277.9 224.6h0.9M283.0 208.3h0.9M284.0 205.5h0.9M285.7 225.9h0.9M283.5 205.3h0.9M283.0 205.4h0.9M285.0 207.2h0.9M282.4 206.7h0.9M282.1 231.9h0.9M280.7 213.2h0.9M283.5 216.8h0.9M285.5 203.2h0.9M281.8 242.9h0.9M276.7 203.5h0.9M276.9 241.1h0.9M279.4 207.1h0.9M280.1 217.0h0.9M277.8 225.2h0.9M284.4 217.7h0.9M286.9 214.4h0.9M282.3 242.5h0.9M283.4 207.1h0.9M280.1 208.9h0.9M278.5 203.1h0.9M281.8 216.1h0.9M286.6 207.2h0.9M283.7 221.2h0.9M284.7 209.7h0.9M280.0 224.7h0.9M282.8 203.5h0.9M284.6 212.2h0.9M284.5 222.8h0.9M282.1 239.2h0.9M286.9 206.2h0.9M275.6 211.1h0.9M281.8 214.0h0.9M285.7 214.3h0.9M282.6 236.4h0.9M284.1 240.2h0.9M285.1 223.1h0.9M281.3 219.0h0.9M282.5 212.4h0.9M281.6 210.0h0.9M279.0 203.4h0.9M284.6 212.2h0.9M280.9 221.1h0.9M290.4 216.9h0.9M281.8 209.9h0.9M282.8 218.7h0.9M278.1 216.6h0.9M281.5 203.0h0.9M282.8 203.5h0.9M285.2 207.3h0.9M275.5 226.9h0.9M279.3 208.4h0.9M282.1 210.7h0.9M283.2 203.5h0.9M282.3 212.6h0.9M276.7 214.5h0.9M282.5 221.6h0.9M285.9 218.8h0.9M281.9 223.1h0.9M278.1 229.0h0.9M284.8 228.2h0.9M280.7 221.6h0.9M287.2 220.5h0.9M283.5 217.0h0.9M286.6 208.8h0.9M284.2 229.3h0.9M284.9 211.7h0.9M278.4 206.2h0.9M278.8 207.5h0.9M289.1 206.2h0.9M278.8 204.7h0.9M280.1 204.1h0.9M275.8 240.5h0.9M275.1 232.0h0.9M288.2 214.2h0.9M288.3 215.4h0.9M282.0 221.7h0.9M281.9 218.8h0.9M280.6 223.4h0.9M286.6 226.5h0.9M278.5 235.2h0.9M276.5 227.7h0.9M280.1 238.1h0.9M278.8 240.9h0.9M282.9 219.9h0.9M282.0 222.5h0.9M283.3 233.5h0.9M279.4 222.7h0.9M283.9 229.0h0.9M282.9 207.5h0.9M277.1 209.1h0.9M279.2 205.1h0.9M277.7 240.0h0.9M283.2 206.6h0.9M283.1 226.3h0.9M284.9 228.5h0.9M279.4 211.6h0.9M282.3 216.7h0.9M282.6 222.0h0.9M279.6 220.9h0.9M284.1 217.6h0.9M284.7 225.1h0.9M280.3 221.9h0.9M286.8 203.9h0.9M274.1 209.7h0.9M281.9 213.2h0.9M280.7 210.3h0.9M279.4 227.9h0.9M280.4 217.7h0.9M276.7 205.6h0.9M281.4 228.9h0.9M275.1 227.9h0.9M278.6 207.9h0.9M285.1 217.8h0.9M283.8 231.4h0.9M287.2 212.1h0.9M277.8 223.0h0.9M277.2 219.7h0.9M275.1 206.0h0.9M280.5 208.8h0.9M281.8 219.0h0.9M284.9 209.7h0.9M283.1 208.6h0.9M280.0 206.1h0.9M285.9 221.2h0.9M285.2 220.9h0.9M283.2 217.8h0.9M278.7 217.0h0.9M276.0 217.5h0.9M277.2 206.8h0.9M278.1 218.5h0.9M276.0 227.1h0.9M277.8 218.3h0.9M279.7 222.0h0.9M277.6 209.7h0.9M280.8 234.7h0.9M286.8 225.9h0.9M286.1 204.8h0.9M281.7 229.8h0.9M285.7 216.1h0.9M279.5 225.7h0.9M284.5 232.4h0.9M275.9 221.1h0.9M283.8 209.7h0.9M276.4 218.7h0.9M284.5 240.8h0.9M278.2 238.1h0.9M274.1 236.9h0.9M287.8 203.2h0.9M281.6 226.1h0.9M288.2 240.6h0.9M278.4 230.3h0.9M279.9 208.1h0.9M280.8 209.2h0.9M279.1 206.0h0.9M281.9 204.2h0.9M278.1 218.5h0.9M281.9 208.2h0.9M279.2 215.3h0.9M285.2 226.0h0.9M278.0 228.6h0.9M276.3 235.2h0.9M274.8 206.8h0.9M283.6 229.4h0.9M279.9 218.2h0.9M281.6 207.3h0.9M286.6 219.6h0.9M279.5 240.4h0.9M281.9 221.6h0.9M280.3 209.2h0.9M284.9 234.2h0.9M282.0 240.6h0.9M284.7 214.8h0.9M285.3 221.2h0.9M275.6 214.7h0.9M283.0 232.9h0.9M286.5 233.9h0.9M273.7 213.5h0.9M278.5 211.0h0.9M278.7 213.7h0.9M283.0 224.3h0.9M276.8 220.3h0.9M282.6 208.2h0.9M287.5 234.0h0.9M286.0 211.0h0.9M283.6 219.5h0.9M284.0 207.9h0.9M284.6 212.6h0.9M277.6 233.7h0.9M283.2 214.9h0.9M284.1 221.6h0.9M274.2 225.7h0.9M279.0 231.3h0.9M284.3 214.9h0.9M288.6 223.8h0.9M288.7 222.4h0.9M288.6 208.0h0.9M278.5 217.6h0.9M283.9 205.8h0.9M275.2 222.8h0.9M284.1 204.7h0.9M289.9 229.3h0.9M283.4 222.5h0.9M286.7 226.7h0.9M284.1 241.3h0.9M277.3 203.3h0.9M278.7 222.3h0.9M280.9 221.6h0.9M280.0 223.3h0.9M281.7 211.0h0.9M281.8 215.8h0.9M285.4 226.2h0.9M278.9 233.3h0.9M274.4 211.9h0.9M281.1 203.0h0.9M282.9 222.8h0.9M286.6 209.6h0.9M285.4 203.6h0.9M275.8 212.1h0.9M282.8 219.6h0.9M279.4 229.7h0.9M282.2 204.1h0.9M275.3 216.9h0.9M276.8 210.7h0.9M280.9 203.1h0.9M277.7 222.0h0.9M280.2 211.8h0.9M282.0 229.0h0.9M279.7 229.1h0.9M274.4 227.6h0.9M281.0 215.9h0.9M281.3 209.2h0.9M287.0 214.1h0.9M283.6 220.1h0.9M279.9 208.5h0.9M283.0 204.9h0.9M284.0 205.5h0.9M280.4 214.6h0.9M288.5 233.3h0.9M282.5 226.5h0.9M283.2 213.0h0.9M282.8 230.3h0.9M283.0 229.2h0.9M278.9 217.4h0.9M286.5 241.5h0.9M276.3 219.5h0.9M285.4 207.7h0.9M279.2 219.7h0.9M281.9 223.1h0.9M278.4 204.4h0.9M277.5 226.6h0.9M284.7 211.7h0.9M285.2 211.2h0.9M285.1 219.2h0.9M277.6 211.1h0.9M278.4 209.5h0.9M279.8 220.3h0.9M282.0 228.6h0.9M281.7 204.0h0.9M277.3 207.5h0.9M278.2 205.0h0.9M282.7 203.3h0.9M279.6 229.4h0.9M281.4 211.8h0.9M278.3 219.2h0.9M275.1 212.9h0.9M285.7 231.8h0.9M283.6 222.9h0.9M274.9 218.4h0.9M281.3 232.1h0.9M279.5 210.5h0.9M283.4 208.1h0.9M285.5 228.4h0.9M286.5 224.7h0.9M286.6 209.6h0.9M281.4 224.0h0.9M275.3 228.3h0.9M282.5 205.5h0.9M285.7 170.8h0.9M279.9 167.3h0.9M284.2 183.4h0.9M290.6 215.7h0.9M279.3 189.7h0.9M282.0 228.6h0.9M282.2 214.7h0.9M287.3 181.7h0.9M275.5 186.6h0.9M280.2 209.4h0.9M284.0 205.2h0.9M294.0 198.8h0.9M273.4 167.0h0.9M278.4 196.1h0.9M277.9 169.6h0.9M283.4 203.5h0.9M284.5 186.4h0.9M281.9 179.8h0.9M276.4 215.1h0.9M284.4 188.5h0.9M276.5 199.8h0.9M286.9 200.7h0.9M275.7 182.3h0.9M281.5 179.0h0.9M276.6 210.5h0.9M277.0 215.2h0.9M285.3 199.2h0.9M290.8 170.9h0.9M281.6 206.1h0.9M278.1 174.3h0.9M283.4 200.1h0.9M277.1 200.1h0.9M284.5 178.0h0.9M291.2 202.3h0.9M273.8 204.1h0.9M278.8 169.5h0.9M285.2 208.5h0.9M278.8 201.5h0.9M282.1 180.1h0.9M282.5 176.0h0.9M285.8 190.5h0.9M287.8 183.0h0.9M282.1 161.8h0.9M283.9 178.2h0.9M284.6 211.9h0.9M293.1 199.2h0.9M294.1 194.8h0.9M288.5 202.0h0.9M285.6 202.8h0.9M282.1 189.5h0.9M283.5 187.0h0.9M288.2 193.3h0.9M285.5 197.1h0.9M287.5 216.6h0.9M284.3 205.3h0.9M281.8 167.0h0.9M280.9 179.5h0.9M278.6 206.7h0.9M280.3 179.8h0.9M282.3 196.9h0.9M275.2 183.8h0.9M279.9 183.8h0.9M283.9 161.0h0.9M295.7 219.3h0.9M279.4 170.6h0.9M284.3 192.4h0.9M274.9 183.5h0.9M287.8 185.5h0.9M290.1 172.3h0.9M286.2 201.4h0.9M283.4 168.9h0.9M291.9 166.4h0.9M277.6 166.6h0.9M289.2 205.5h0.9M283.5 183.5h0.9M282.7 185.1h0.9M284.1 201.0h0.9M285.4 206.4h0.9M278.0 226.7h0.9M274.0 205.7h0.9M281.0 193.4h0.9M274.7 178.6h0.9M286.5 209.2h0.9M276.0 189.6h0.9M287.6 175.6h0.9M280.6 210.5h0.9M287.8 165.6h0.9M277.2 189.5h0.9M288.7 182.7h0.9M286.3 216.4h0.9M280.2 174.4h0.9M286.3 199.6h0.9M276.2 175.8h0.9M289.1 217.8h0.9M274.0 169.8h0.9M286.4 174.0h0.9M284.6 186.3h0.9M286.2 198.1h0.9M288.9 225.2h0.9M288.4 176.7h0.9M284.9 227.4h0.9M281.5 199.2h0.9M281.1 170.6h0.9M286.9 198.9h0.9M281.2 187.6h0.9M285.3 206.0h0.9M289.7 198.8h0.9M283.5 177.8h0.9M281.3 175.9h0.9M283.6 206.6h0.9M276.0 186.6h0.9M280.2 181.0h0.9M279.9 221.9h0.9M275.9 168.9h0.9M288.4 198.8h0.9M276.6 205.0h0.9M287.9 188.0h0.9M285.3 192.9h0.9M288.8 174.6h0.9M290.2 178.3h0.9M279.1 185.7h0.9M282.3 217.9h0.9M275.9 171.2h0.9M284.3 186.2h0.9M282.5 160.8h0.9M282.2 172.2h0.9M277.2 196.3h0.9M284.1 181.7h0.9M275.1 180.3h0.9M278.5 171.5h0.9M277.0 198.2h0.9M279.4 191.7h0.9M282.2 179.0h0.9M277.6 206.4h0.9M290.5 192.1h0.9M274.7 162.6h0.9M295.4 200.6h0.9M279.0 189.1h0.9M278.2 216.2h0.9M289.2 211.9h0.9M273.5 219.6h0.9M284.9 181.8h0.9M290.2 175.2h0.9M281.6 203.4h0.9M282.3 198.1h0.9M278.4 190.5h0.9M283.6 196.1h0.9M294.9 198.1h0.9M285.0 189.0h0.9M284.2 185.6h0.9M283.3 192.5h0.9M276.6 183.2h0.9M289.2 215.1h0.9M278.7 189.3h0.9M284.5 201.9h0.9M279.9 191.8h0.9M282.6 187.4h0.9M284.4 199.5h0.9M279.4 188.5h0.9M278.7 182.0h0.9M288.0 200.4h0.9M286.5 199.1h0.9M285.5 180.7h0.9M281.0 196.2h0.9M280.9 204.7h0.9M283.1 206.1h0.9M281.6 180.1h0.9M282.0 181.6h0.9M282.7 187.9h0.9M284.1 190.7h0.9M285.4 201.4h0.9M283.1 202.3h0.9M274.5 185.7h0.9M279.8 213.3h0.9M279.1 190.8h0.9M283.8 218.0h0.9M286.7 182.9h0.9M284.9 197.8h0.9M281.5 179.8h0.9M287.1 178.4h0.9M288.6 170.9h0.9M282.2 172.5h0.9M276.6 190.4h0.9M280.2 203.7h0.9M277.1 179.4h0.9M280.6 214.2h0.9M285.4 179.6h0.9M284.8 174.5h0.9M280.4 175.5h0.9M280.4 198.1h0.9M286.2 216.3h0.9M279.6 192.1h0.9M284.4 189.3h0.9M282.9 186.7h0.9M286.6 211.0h0.9M280.4 214.2h0.9M280.9 184.4h0.9M275.3 182.7h0.9M284.9 181.8h0.9M287.3 217.5h0.9" stroke="#111" stroke-opacity="0.58" stroke-width="0.9" fill="none" filter="url(#b0)"/>
<g clip-path="url(#c3)"><path d="M251.5 245V212.5Q251.5 206.3 256.7 206.3Q261.9 206.3 261.9 212.5V245Z" fill="#d2d2d2" opacity="0.92" filter="url(#b1)"/></g>
<path d="M284.3 188L286.8 170" stroke="#b8b8b8" stroke-width="2.4" stroke-linecap="round" opacity="0.8" filter="url(#b1)"/>
<rect x="241.7" y="154.9" width="89.3" height="89.1" fill="none" stroke="#505050" stroke-width="0.9"/><line x1="273.4" y1="154.9" x2="273.4" y2="244.0" stroke="#505050" stroke-width="0.85"/><line x1="241.7" y1="202.9" x2="331.0" y2="202.9" stroke="#505050" stroke-width="0.85"/><path d="M241.7 154.9h-1.2M241.7 157.1h-1.2M241.7 159.4h-1.2M241.7 161.6h-1.2M241.7 163.8h-1.2M241.7 166.0h-1.2M241.7 168.3h-1.2M241.7 170.5h-1.2M241.7 172.7h-1.2M241.7 174.9h-1.2M241.7 177.2h-1.2M241.7 179.4h-1.2M241.7 181.6h-1.2M241.7 183.9h-1.2M241.7 186.1h-1.2M241.7 188.3h-1.2M241.7 190.5h-1.2M241.7 192.8h-1.2M241.7 195.0h-1.2M241.7 197.2h-1.2M241.7 199.4h-1.2M241.7 201.7h-1.2M241.7 203.9h-1.2M241.7 206.1h-1.2M241.7 208.4h-1.2M241.7 210.6h-1.2M241.7 212.8h-1.2M241.7 215.0h-1.2M241.7 217.3h-1.2M241.7 219.5h-1.2M241.7 221.7h-1.2M241.7 224.0h-1.2M241.7 226.2h-1.2M241.7 228.4h-1.2M241.7 230.6h-1.2M241.7 232.9h-1.2M241.7 235.1h-1.2M241.7 237.3h-1.2M241.7 239.5h-1.2M241.7 241.8h-1.2M241.7 244.0h-1.2M241.7 244.0v1.2M243.9 244.0v1.2M246.2 244.0v1.2M248.4 244.0v1.2M250.6 244.0v1.2M252.9 244.0v1.2M255.1 244.0v1.2M257.3 244.0v1.2M259.6 244.0v1.2M261.8 244.0v1.2M264.0 244.0v1.2M266.3 244.0v1.2M268.5 244.0v1.2M270.7 244.0v1.2M273.0 244.0v1.2M275.2 244.0v1.2M277.4 244.0v1.2M279.7 244.0v1.2M281.9 244.0v1.2M284.1 244.0v1.2M286.4 244.0v1.2M288.6 244.0v1.2M290.8 244.0v1.2M293.0 244.0v1.2M295.3 244.0v1.2M297.5 244.0v1.2M299.7 244.0v1.2M302.0 244.0v1.2M304.2 244.0v1.2M306.4 244.0v1.2M308.7 244.0v1.2M310.9 244.0v1.2M313.1 244.0v1.2M315.4 244.0v1.2M317.6 244.0v1.2M319.8 244.0v1.2M322.1 244.0v1.2M324.3 244.0v1.2M326.5 244.0v1.2M328.8 244.0v1.2M331.0 244.0v1.2" stroke="#555" stroke-width="0.6" fill="none"/><text x="251.9" y="252.0" font-size="3.6" text-anchor="middle" fill="#111" stroke="none">0</text><text x="260.0" y="252.0" font-size="4.1" text-anchor="middle" fill="#000" stroke="none">10<tspan dy="-1.5" font-size="3">2</tspan></text><text x="282.0" y="252.0" font-size="4.1" text-anchor="middle" fill="#000" stroke="none">10<tspan dy="-1.5" font-size="3">3</tspan></text><text x="303.3" y="252.0" font-size="4.1" text-anchor="middle" fill="#000" stroke="none">10<tspan dy="-1.5" font-size="3">4</tspan></text><text x="323.5" y="252.0" font-size="4.1" text-anchor="middle" fill="#000" stroke="none">10<tspan dy="-1.5" font-size="3">5</tspan></text><text x="239.7" y="163.5" font-size="4.1" text-anchor="end" fill="#000" stroke="none">10<tspan dy="-1.5" font-size="3">5</tspan></text><text x="239.7" y="183.5" font-size="4.1" text-anchor="end" fill="#000" stroke="none">10<tspan dy="-1.5" font-size="3">4</tspan></text><text x="239.7" y="204.5" font-size="4.1" text-anchor="end" fill="#000" stroke="none">10<tspan dy="-1.5" font-size="3">3</tspan></text><text x="239.7" y="225.5" font-size="4.1" text-anchor="end" fill="#000" stroke="none">10<tspan dy="-1.5" font-size="3">2</tspan></text><text x="238.7" y="235.2" font-size="3.4" text-anchor="end" fill="#111" stroke="none">0</text><text x="243.7" y="159.2" font-size="4.1" text-anchor="start" fill="#111" stroke="none">2.53</text><text x="329.5" y="159.2" font-size="4.1" text-anchor="end" fill="#111" stroke="none">9.16</text><text x="243.7" y="242.2" font-size="4.1" text-anchor="start" fill="#111" stroke="none">85</text><text x="329.5" y="242.2" font-size="4.1" text-anchor="end" fill="#111" stroke="none">3.04</text>
<rect x="275.3" y="165.8" width="17.3" height="39.5" fill="none" stroke="#1a1a1a" stroke-width="1.2"/>
<line x1="226.4" y1="187.4" x2="226.4" y2="165.6" stroke="#111" stroke-width="1.30"/><polygon points="226.4,160.1 229.5,166.1 223.3,166.1" fill="#111"/>
<line x1="226.4" y1="219.8" x2="226.4" y2="244.0" stroke="#111" stroke-width="1.30"/>
<text x="0" y="0" transform="translate(229.6 206.5) rotate(-90)" font-size="8.70" text-anchor="middle" font-weight="normal" fill="#111" textLength="20.4" lengthAdjust="spacingAndGlyphs" >CD25</text>
<line x1="247.7" y1="266.6" x2="310.4" y2="266.6" stroke="#111" stroke-width="1.05"/>
<text x="317.8" y="266.9" font-size="8.30" text-anchor="start" font-weight="normal" fill="#111" textLength="23.2" lengthAdjust="spacingAndGlyphs" >Foxp3</text>
<line x1="348.5" y1="266.6" x2="438.7" y2="266.6" stroke="#111" stroke-width="1.05"/><polygon points="443.4,266.6 438.2,269.0 438.2,264.2" fill="#111"/>
<line x1="331.0" y1="204.8" x2="352.8" y2="204.8" stroke="#111" stroke-width="1.30"/><polygon points="358.3,204.8 352.3,207.3 352.3,202.3" fill="#111"/>
<text x="300.4" y="150.7" font-size="8.3" fill="#111" textLength="88" lengthAdjust="spacingAndGlyphs">Gated on CD25<tspan dy="-3.2" font-size="4.6">+</tspan><tspan dy="3.2">Foxp3</tspan><tspan dy="-3.2" font-size="4.6">+</tspan></text>
<line x1="298.3" y1="152.0" x2="286.1" y2="161.9" stroke="#111" stroke-width="1.40"/><polygon points="281.8,165.4 284.9,159.7 288.0,163.6" fill="#111"/>
<g><ellipse cx="423" cy="204" rx="6.5" ry="23" fill="#555" opacity="0.16" filter="url(#b2)"/></g>
<path d="M418.3 212.4h0.8M419.4 215.5h0.8M419.3 219.9h0.8M421.4 231.9h0.8M423.8 200.1h0.8M423.4 184.2h0.8M420.5 196.9h0.8M429.3 222.1h0.8M417.7 202.7h0.8M423.9 188.9h0.8M424.0 226.2h0.8M416.5 182.7h0.8M422.5 225.3h0.8M415.5 193.3h0.8M420.8 200.1h0.8M420.4 185.3h0.8M420.9 187.9h0.8M418.2 193.5h0.8M418.7 222.6h0.8M415.6 210.8h0.8M425.4 207.5h0.8M428.6 207.6h0.8M417.6 222.0h0.8M423.9 229.6h0.8M427.9 204.5h0.8M424.5 223.2h0.8M413.5 226.7h0.8M425.3 192.3h0.8M422.9 227.7h0.8M424.5 190.5h0.8M416.2 204.8h0.8M424.1 196.2h0.8M419.4 186.9h0.8M422.5 207.8h0.8M422.4 182.8h0.8M419.2 213.3h0.8M427.5 187.4h0.8M428.3 228.2h0.8M418.1 187.5h0.8M423.6 217.8h0.8M419.6 183.6h0.8M423.9 186.6h0.8M426.1 196.5h0.8M430.6 207.7h0.8M421.9 209.1h0.8M419.2 205.0h0.8M427.4 197.1h0.8M420.6 207.5h0.8M423.0 221.3h0.8M426.8 208.5h0.8M419.8 223.2h0.8M423.3 221.1h0.8M425.1 214.3h0.8M427.2 180.5h0.8M413.7 221.8h0.8M416.6 190.8h0.8M417.6 196.6h0.8M427.5 198.0h0.8M431.1 210.7h0.8M419.2 199.9h0.8M423.8 225.4h0.8M426.4 218.1h0.8M422.4 227.0h0.8M422.6 191.5h0.8M418.2 217.6h0.8M427.7 191.5h0.8M422.0 211.0h0.8M421.5 167.5h0.8M428.1 185.6h0.8M417.4 235.2h0.8M416.8 209.3h0.8M418.3 214.0h0.8M422.6 198.8h0.8M420.1 191.1h0.8M422.6 205.8h0.8M413.9 190.6h0.8M414.0 187.9h0.8M425.0 185.3h0.8M416.5 206.4h0.8M423.0 226.1h0.8M417.9 213.1h0.8M429.8 200.2h0.8M428.8 202.6h0.8M417.0 190.7h0.8M428.0 216.6h0.8M427.8 210.6h0.8M415.4 196.6h0.8M427.9 215.3h0.8M423.2 218.5h0.8M426.8 215.9h0.8M422.3 221.4h0.8M420.5 212.9h0.8M422.6 202.4h0.8M420.3 219.9h0.8M421.4 188.3h0.8M426.5 206.6h0.8M420.7 190.4h0.8M422.2 217.9h0.8M415.2 182.6h0.8M425.4 224.7h0.8M428.9 208.6h0.8M423.2 214.1h0.8M423.7 192.0h0.8M424.9 215.2h0.8M421.2 214.9h0.8M420.4 203.4h0.8M433.8 207.2h0.8M415.1 203.5h0.8M419.7 206.0h0.8M420.3 197.9h0.8M418.8 212.1h0.8M420.2 201.4h0.8M424.1 231.7h0.8M422.0 195.8h0.8M421.1 230.3h0.8M421.2 193.1h0.8M426.0 199.6h0.8M422.9 198.2h0.8M417.3 204.1h0.8M416.4 204.7h0.8M419.7 198.2h0.8M413.7 213.0h0.8M419.3 197.7h0.8M415.5 212.1h0.8M421.0 201.2h0.8M419.3 211.6h0.8M417.5 187.0h0.8M420.2 239.1h0.8M430.3 219.7h0.8M419.9 220.7h0.8M421.8 195.2h0.8M419.0 196.4h0.8M423.6 206.7h0.8M424.5 217.2h0.8M422.0 198.6h0.8M425.3 201.3h0.8M423.5 193.2h0.8M429.4 226.1h0.8M426.1 212.6h0.8M418.4 205.0h0.8M428.4 216.3h0.8M424.9 185.0h0.8M421.6 212.4h0.8M431.2 192.7h0.8M423.2 212.7h0.8M427.6 210.6h0.8M418.2 179.0h0.8M421.6 172.5h0.8M415.9 196.9h0.8M426.2 189.9h0.8M420.3 184.7h0.8M421.4 221.2h0.8M421.9 212.6h0.8M413.0 227.7h0.8M421.0 192.4h0.8M423.0 223.5h0.8M427.4 205.4h0.8M421.2 198.5h0.8M422.2 198.4h0.8M423.2 220.6h0.8M417.8 210.1h0.8M420.2 204.7h0.8M428.2 237.3h0.8M422.9 217.2h0.8M424.4 206.1h0.8M420.4 198.5h0.8M416.1 194.5h0.8M416.4 184.3h0.8M425.8 221.7h0.8M413.0 201.1h0.8M422.9 217.2h0.8M422.4 219.0h0.8M415.5 208.5h0.8M422.2 214.9h0.8M428.2 213.8h0.8M419.5 192.1h0.8M424.1 211.0h0.8M428.1 212.2h0.8M413.0 203.4h0.8M425.2 206.4h0.8M426.1 181.6h0.8M417.7 207.0h0.8M418.9 184.1h0.8M416.1 217.3h0.8M427.9 193.5h0.8M416.8 213.2h0.8M423.1 181.6h0.8M415.9 207.7h0.8M424.0 232.9h0.8M425.5 204.8h0.8M418.4 218.4h0.8M418.3 207.3h0.8M431.5 212.5h0.8M419.1 203.1h0.8M421.8 192.0h0.8M425.8 215.6h0.8M425.5 198.0h0.8M418.6 214.4h0.8M419.6 218.1h0.8M415.6 214.2h0.8M424.1 201.4h0.8M417.3 216.3h0.8M421.0 199.4h0.8M424.6 219.3h0.8M420.5 170.1h0.8M420.5 196.0h0.8M414.4 194.9h0.8M419.3 216.3h0.8M420.0 210.7h0.8M422.4 190.8h0.8M428.9 210.6h0.8M424.6 168.6h0.8M422.9 212.3h0.8M421.9 193.4h0.8M425.7 221.1h0.8M421.9 182.4h0.8M429.2 218.1h0.8M425.3 214.4h0.8M428.7 195.3h0.8M429.0 195.6h0.8M428.3 186.3h0.8M426.6 215.1h0.8M428.3 213.9h0.8M428.2 207.3h0.8M427.6 199.3h0.8M423.9 190.1h0.8M420.0 202.5h0.8M425.3 202.3h0.8M427.8 221.3h0.8M425.6 195.0h0.8M429.0 230.0h0.8M428.1 194.6h0.8M417.5 216.4h0.8M424.6 206.3h0.8M427.9 214.2h0.8M419.7 191.2h0.8M425.9 214.1h0.8M417.3 223.9h0.8M426.3 188.4h0.8M413.6 209.9h0.8M418.9 214.4h0.8M419.3 223.4h0.8M424.9 224.0h0.8M431.2 208.5h0.8M421.8 191.8h0.8M427.4 190.3h0.8M414.1 213.0h0.8M419.6 180.5h0.8M417.2 227.7h0.8M432.0 227.1h0.8M419.5 191.5h0.8M427.5 210.8h0.8M426.5 187.5h0.8M429.5 191.3h0.8M420.3 193.6h0.8M425.6 197.2h0.8M421.3 200.1h0.8M417.9 189.0h0.8M422.8 220.0h0.8M425.5 187.4h0.8M418.2 220.8h0.8M421.8 177.6h0.8M424.5 190.9h0.8M425.4 186.7h0.8M422.0 209.5h0.8M422.6 190.7h0.8M427.1 184.1h0.8M417.8 222.6h0.8M427.0 205.6h0.8M427.2 195.0h0.8M424.0 213.8h0.8M421.3 204.9h0.8M416.3 218.4h0.8M417.5 213.7h0.8M423.8 195.6h0.8M423.5 205.6h0.8M426.2 231.8h0.8M424.9 194.3h0.8M421.1 180.5h0.8M417.9 225.5h0.8M414.4 204.9h0.8M419.3 199.8h0.8M424.0 197.3h0.8M420.6 212.6h0.8M422.0 232.6h0.8M419.0 194.9h0.8M419.5 192.6h0.8M418.2 182.4h0.8M418.3 185.5h0.8M420.8 206.0h0.8M418.9 212.6h0.8M425.3 196.6h0.8M419.9 204.3h0.8M422.9 190.4h0.8M429.2 209.5h0.8M428.3 202.4h0.8M423.4 185.7h0.8M422.1 230.8h0.8M425.1 225.9h0.8M418.7 210.6h0.8M421.8 208.9h0.8M414.5 211.7h0.8M415.4 213.5h0.8M421.7 236.8h0.8M423.3 201.8h0.8M430.2 205.9h0.8M416.4 192.9h0.8M424.6 210.8h0.8M417.0 217.3h0.8M424.8 222.0h0.8M421.1 213.5h0.8M420.3 219.0h0.8M422.8 218.3h0.8M419.8 189.0h0.8M424.3 196.9h0.8M430.5 209.0h0.8M420.9 201.3h0.8M418.7 211.2h0.8M422.0 210.0h0.8M421.2 212.1h0.8M418.2 194.6h0.8M422.9 211.1h0.8M428.1 182.8h0.8M414.0 214.3h0.8M430.6 217.3h0.8M427.4 240.0h0.8M429.4 206.4h0.8M422.1 186.4h0.8M421.2 198.1h0.8M427.7 180.8h0.8M419.6 230.6h0.8M424.4 187.2h0.8M422.1 224.6h0.8M428.3 218.3h0.8M422.1 217.7h0.8M416.5 239.4h0.8M421.1 215.7h0.8M418.0 226.0h0.8M417.8 185.0h0.8M426.7 216.1h0.8M429.2 218.0h0.8M423.4 188.6h0.8M419.4 192.8h0.8M426.1 186.7h0.8M428.0 183.5h0.8M421.3 220.5h0.8M420.9 205.9h0.8M425.0 204.7h0.8M420.9 182.9h0.8M422.3 198.6h0.8M423.1 184.8h0.8M422.9 214.0h0.8M419.0 186.7h0.8M418.6 219.4h0.8M416.2 198.1h0.8M423.5 196.2h0.8M420.3 195.1h0.8M423.9 231.2h0.8M427.8 224.6h0.8M424.9 189.1h0.8M423.1 203.9h0.8M414.2 191.2h0.8M429.8 224.2h0.8M421.1 218.8h0.8M430.6 230.2h0.8M422.4 206.4h0.8M422.9 190.6h0.8M423.0 230.3h0.8M420.3 194.9h0.8M423.2 202.7h0.8M421.8 223.2h0.8M416.2 193.6h0.8M420.2 206.3h0.8M426.2 229.3h0.8M417.9 219.2h0.8M426.6 191.9h0.8M429.6 197.6h0.8M414.6 207.0h0.8M413.7 198.8h0.8M424.5 215.0h0.8M422.8 183.6h0.8M421.9 213.8h0.8M417.3 207.8h0.8M422.0 209.5h0.8M420.2 203.9h0.8M426.0 190.7h0.8M422.7 225.6h0.8M420.1 185.4h0.8M417.8 195.6h0.8M416.9 209.6h0.8M413.8 200.8h0.8M420.4 196.3h0.8M429.0 198.9h0.8M417.4 213.7h0.8M416.1 202.1h0.8M425.9 216.5h0.8M416.4 200.0h0.8M416.8 196.2h0.8M423.3 203.5h0.8M425.7 198.8h0.8M427.6 194.0h0.8M423.9 198.8h0.8M420.2 222.1h0.8M426.1 181.6h0.8M413.4 205.7h0.8M415.8 219.7h0.8M412.9 191.5h0.8M425.7 212.1h0.8M427.5 221.6h0.8M424.1 214.5h0.8M416.7 202.2h0.8M418.1 191.0h0.8M415.2 190.4h0.8M419.2 188.2h0.8M419.1 217.5h0.8M422.9 205.5h0.8M425.2 199.9h0.8M427.7 218.0h0.8M417.5 195.6h0.8M422.3 180.0h0.8M417.8 218.7h0.8M422.8 213.7h0.8M421.3 189.0h0.8M417.6 213.6h0.8M426.8 207.6h0.8M421.6 211.5h0.8M420.3 202.0h0.8M414.7 187.7h0.8M421.9 194.2h0.8M433.4 212.1h0.8M420.2 180.8h0.8M422.7 194.2h0.8M424.9 214.2h0.8M419.9 209.3h0.8M425.9 209.8h0.8M428.9 203.3h0.8M420.9 218.3h0.8M415.3 199.7h0.8M428.3 202.1h0.8M420.6 206.5h0.8M416.8 183.7h0.8M416.0 190.4h0.8M417.8 216.4h0.8M422.4 231.0h0.8M428.6 176.1h0.8M428.6 223.9h0.8M422.4 197.5h0.8M428.7 194.2h0.8M422.0 214.1h0.8M418.2 208.7h0.8M419.6 224.9h0.8M428.9 229.9h0.8M426.2 204.4h0.8M427.1 192.6h0.8M429.9 222.5h0.8M423.7 228.2h0.8M421.3 195.6h0.8M424.5 185.0h0.8M421.5 229.2h0.8M420.8 222.8h0.8M420.8 198.7h0.8M415.3 200.4h0.8M427.2 217.8h0.8M418.4 222.0h0.8M423.5 209.3h0.8M424.4 191.3h0.8M422.5 204.2h0.8M420.9 187.3h0.8M424.9 186.0h0.8M419.5 186.7h0.8M414.6 210.7h0.8M422.2 204.8h0.8M417.4 203.2h0.8M414.3 204.5h0.8M417.4 228.2h0.8M417.2 214.6h0.8M419.4 205.3h0.8M423.0 186.8h0.8M426.0 203.1h0.8M426.1 207.4h0.8M416.4 195.5h0.8M425.9 237.8h0.8M424.0 223.6h0.8M417.5 205.9h0.8M424.0 197.3h0.8M421.1 197.8h0.8M426.1 211.2h0.8M418.8 201.6h0.8M418.3 219.4h0.8M417.6 180.3h0.8M423.8 222.5h0.8M429.1 195.1h0.8M425.0 231.8h0.8M413.9 199.9h0.8M419.3 221.7h0.8M424.1 200.4h0.8M425.0 192.7h0.8M425.0 202.1h0.8M418.2 197.4h0.8M422.1 229.2h0.8M428.8 208.7h0.8M418.9 189.9h0.8M422.8 221.4h0.8M413.9 232.8h0.8M415.3 229.1h0.8M424.8 205.7h0.8M416.6 199.0h0.8M426.7 232.5h0.8M419.3 232.7h0.8M423.4 215.1h0.8M424.3 232.0h0.8M415.0 191.1h0.8M425.7 205.0h0.8M420.6 181.7h0.8M424.7 213.8h0.8M431.5 228.4h0.8M420.7 205.1h0.8M425.2 221.6h0.8M420.3 189.6h0.8M422.8 193.9h0.8M420.2 198.2h0.8M422.9 234.4h0.8M422.2 180.1h0.8M417.9 184.9h0.8M420.4 201.5h0.8M421.2 183.6h0.8M430.0 209.3h0.8M417.7 226.3h0.8M419.2 204.0h0.8M422.0 190.1h0.8M416.5 213.7h0.8M424.0 203.5h0.8M421.7 201.0h0.8M424.7 226.0h0.8M431.7 208.9h0.8M421.9 184.8h0.8M419.8 214.3h0.8M427.7 194.3h0.8M421.0 207.0h0.8M421.2 200.8h0.8M432.0 222.1h0.8M417.5 203.8h0.8M425.9 224.6h0.8M419.5 222.1h0.8M417.0 208.0h0.8M425.6 204.4h0.8M416.5 191.8h0.8M419.2 213.7h0.8M421.7 203.5h0.8M423.7 187.7h0.8M420.9 230.1h0.8M428.1 214.7h0.8M415.7 194.3h0.8M412.9 193.8h0.8M423.6 192.4h0.8M420.1 184.2h0.8M426.4 190.8h0.8M426.0 202.8h0.8M425.4 193.0h0.8M429.3 180.3h0.8M427.9 194.1h0.8M426.5 205.4h0.8M423.4 196.2h0.8M424.7 187.2h0.8M425.1 191.9h0.8M422.5 237.7h0.8M420.5 204.9h0.8M419.5 220.6h0.8M421.9 191.6h0.8M424.8 211.5h0.8M424.2 213.8h0.8M417.7 207.2h0.8M416.9 205.0h0.8M419.6 195.5h0.8M426.8 223.0h0.8M424.9 181.8h0.8M417.5 175.0h0.8M423.6 200.4h0.8M428.5 225.4h0.8M429.7 214.3h0.8M415.7 191.9h0.8M426.0 200.6h0.8M419.5 224.6h0.8M420.7 200.4h0.8M425.1 217.3h0.8M414.6 217.6h0.8M414.7 202.4h0.8M413.3 195.9h0.8M416.4 212.2h0.8M418.0 205.3h0.8M431.7 213.8h0.8M422.5 193.6h0.8M425.7 208.6h0.8M420.7 219.1h0.8M415.2 218.6h0.8M418.8 213.2h0.8M423.0 213.8h0.8M426.8 203.4h0.8M425.1 210.4h0.8M426.9 209.5h0.8M422.0 166.3h0.8M416.2 195.9h0.8M419.8 225.4h0.8M420.4 192.8h0.8M421.0 205.2h0.8M423.0 196.0h0.8M425.5 210.4h0.8M414.1 192.9h0.8M425.1 205.9h0.8M422.2 215.0h0.8M424.1 191.4h0.8M425.4 199.9h0.8M419.8 223.2h0.8M419.8 217.4h0.8M424.4 202.0h0.8M422.6 191.9h0.8M432.3 200.4h0.8M419.6 199.8h0.8M431.4 196.4h0.8M415.8 201.2h0.8M424.3 193.2h0.8M422.4 190.9h0.8M422.7 179.3h0.8M419.1 224.8h0.8M425.2 171.6h0.8M427.3 192.8h0.8M422.6 188.3h0.8M425.3 233.4h0.8M429.2 203.5h0.8M429.2 221.9h0.8M422.9 194.3h0.8M427.0 202.8h0.8M420.6 199.3h0.8M418.0 178.1h0.8M423.0 190.3h0.8M419.4 221.9h0.8M425.4 216.9h0.8M415.0 191.8h0.8M421.5 188.9h0.8M412.6 214.2h0.8M415.0 220.3h0.8M416.9 198.6h0.8M415.1 211.1h0.8M420.0 191.9h0.8M427.2 223.6h0.8M415.0 219.1h0.8M418.4 220.1h0.8M423.5 217.2h0.8M424.0 221.8h0.8M426.5 230.7h0.8M419.7 217.8h0.8M423.6 197.9h0.8M416.3 197.9h0.8M417.5 192.5h0.8M429.9 205.0h0.8M415.6 198.2h0.8M415.8 215.0h0.8M416.6 211.2h0.8M416.3 231.7h0.8M422.3 179.3h0.8M425.6 198.2h0.8M427.3 205.3h0.8M424.7 190.3h0.8M412.6 212.0h0.8M423.6 182.2h0.8M416.5 207.0h0.8M417.0 215.4h0.8M428.7 218.6h0.8M418.2 180.0h0.8M427.0 194.1h0.8M417.1 190.7h0.8M419.9 200.8h0.8M425.9 192.9h0.8M413.5 213.2h0.8M424.2 196.8h0.8M417.6 203.6h0.8M422.7 206.6h0.8M421.1 232.5h0.8M429.2 216.9h0.8M430.1 199.1h0.8M416.0 202.0h0.8M423.1 201.4h0.8M423.8 221.5h0.8M421.5 194.9h0.8M424.6 208.1h0.8M426.8 209.7h0.8M420.9 181.5h0.8M414.0 211.2h0.8M426.4 214.9h0.8M422.9 222.0h0.8M420.6 223.9h0.8M422.0 198.3h0.8M428.0 192.7h0.8M414.5 214.5h0.8M422.7 229.1h0.8M421.9 185.9h0.8M429.6 195.4h0.8M417.1 219.2h0.8M423.4 208.9h0.8M421.8 194.5h0.8M419.9 181.8h0.8M423.4 206.8h0.8M419.1 189.4h0.8M420.3 211.6h0.8M419.7 179.9h0.8M427.2 214.1h0.8M424.8 172.1h0.8M419.0 213.3h0.8M417.1 188.4h0.8M426.4 222.2h0.8M414.7 210.9h0.8M427.0 214.1h0.8M418.4 204.6h0.8M418.3 224.4h0.8M423.1 212.2h0.8M427.5 177.2h0.8M425.3 191.2h0.8M424.8 180.8h0.8M420.1 217.1h0.8M422.9 206.6h0.8M422.8 191.4h0.8M421.0 184.4h0.8M428.9 192.1h0.8M414.6 191.0h0.8M428.2 203.8h0.8M428.1 191.6h0.8M416.7 202.7h0.8M424.9 199.8h0.8M420.5 206.5h0.8M418.1 218.1h0.8M419.8 216.1h0.8M420.2 195.7h0.8M424.6 171.8h0.8M418.6 193.3h0.8M419.8 207.0h0.8M423.5 194.7h0.8M418.5 198.0h0.8M415.3 211.4h0.8M419.6 207.5h0.8M424.5 199.3h0.8M429.8 208.6h0.8M416.2 218.9h0.8M423.6 220.9h0.8M416.3 198.9h0.8M422.0 185.3h0.8M414.5 205.1h0.8M423.5 227.7h0.8M419.9 204.2h0.8M423.0 214.0h0.8M423.3 196.7h0.8M424.8 195.7h0.8M422.1 229.3h0.8M420.5 227.7h0.8M428.8 184.4h0.8M426.1 192.2h0.8M426.6 211.2h0.8M425.8 197.4h0.8M421.6 226.3h0.8M420.6 207.8h0.8M417.8 240.7h0.8M417.3 232.6h0.8M431.0 214.5h0.8M421.3 226.0h0.8M433.8 216.3h0.8M423.7 203.4h0.8M416.5 221.9h0.8M427.2 188.1h0.8M422.9 192.5h0.8M420.9 190.6h0.8M417.8 212.4h0.8M423.7 200.6h0.8M421.3 193.2h0.8M429.0 213.4h0.8M421.7 205.7h0.8M425.1 194.8h0.8M424.1 204.7h0.8M426.8 227.9h0.8M418.3 206.7h0.8M428.8 218.6h0.8M416.0 177.0h0.8M417.6 178.2h0.8M415.1 226.5h0.8M420.4 212.0h0.8M418.3 206.3h0.8M429.2 214.5h0.8M420.9 187.2h0.8M426.7 215.2h0.8M426.8 189.2h0.8M423.1 213.0h0.8M420.3 211.8h0.8M415.7 211.2h0.8M420.9 182.1h0.8M432.5 216.4h0.8M425.3 212.3h0.8M425.7 226.8h0.8M419.8 216.2h0.8M423.0 207.7h0.8M419.2 203.9h0.8M419.2 194.5h0.8M428.1 196.7h0.8M432.1 200.9h0.8M431.8 217.3h0.8M430.8 184.9h0.8M416.5 183.9h0.8M426.5 213.0h0.8M431.3 197.5h0.8M421.9 214.2h0.8M420.8 188.7h0.8M417.9 207.4h0.8M424.0 196.7h0.8M428.7 218.9h0.8M424.5 188.5h0.8M419.1 188.3h0.8M423.4 184.7h0.8M421.3 212.1h0.8M422.0 188.4h0.8M417.1 200.0h0.8M420.9 204.3h0.8M417.1 222.1h0.8M427.0 213.7h0.8M426.4 233.3h0.8M416.2 214.5h0.8M425.2 199.7h0.8M416.8 225.6h0.8M414.5 181.8h0.8M423.3 201.8h0.8M427.5 181.8h0.8M413.7 213.0h0.8M415.5 200.1h0.8M424.9 202.3h0.8M421.0 210.7h0.8M429.9 188.0h0.8M423.8 208.9h0.8M426.3 232.4h0.8M419.5 227.6h0.8M417.0 210.6h0.8M423.6 211.5h0.8M424.4 209.8h0.8M424.2 188.9h0.8M428.7 211.3h0.8M427.8 231.7h0.8M425.9 216.4h0.8M430.0 215.4h0.8M423.7 196.2h0.8M425.0 196.2h0.8M424.0 207.9h0.8M419.5 217.1h0.8M428.3 181.7h0.8M425.0 213.7h0.8M416.9 219.9h0.8M419.7 204.3h0.8M416.3 193.1h0.8M421.4 195.1h0.8M416.0 204.8h0.8M421.9 204.2h0.8M427.5 210.5h0.8M425.9 193.3h0.8M420.8 215.1h0.8M420.4 227.9h0.8M429.6 200.0h0.8M416.7 217.7h0.8M425.3 214.9h0.8M426.2 190.2h0.8M428.3 208.7h0.8M429.3 216.4h0.8M424.4 230.9h0.8M430.5 215.6h0.8M421.6 231.7h0.8M414.3 218.3h0.8M425.5 208.7h0.8M430.2 190.2h0.8M417.7 210.3h0.8M424.6 200.4h0.8M424.0 213.6h0.8M423.0 188.5h0.8M420.2 205.6h0.8M420.7 208.3h0.8M430.1 205.2h0.8M419.7 218.3h0.8M421.8 201.0h0.8M416.8 183.2h0.8M419.1 210.8h0.8M418.4 184.4h0.8M415.5 190.6h0.8M418.6 221.3h0.8M427.8 208.6h0.8M429.2 202.5h0.8M430.6 207.3h0.8M426.9 211.4h0.8M418.8 208.7h0.8M422.0 180.4h0.8M424.3 219.6h0.8M419.3 213.7h0.8M413.4 203.5h0.8M420.9 205.9h0.8M417.7 202.5h0.8M429.4 202.6h0.8M431.0 191.4h0.8M419.1 192.3h0.8M421.5 199.9h0.8M419.5 187.8h0.8M418.7 190.7h0.8M414.9 203.1h0.8M421.9 229.3h0.8M419.0 217.7h0.8M422.3 224.1h0.8M416.0 203.4h0.8M418.4 205.5h0.8M417.9 210.1h0.8M417.1 198.8h0.8M430.2 196.2h0.8M423.3 208.7h0.8M416.4 202.1h0.8M425.2 192.5h0.8M417.2 198.6h0.8M413.3 212.7h0.8M423.6 194.5h0.8M418.0 225.8h0.8M420.5 195.4h0.8M421.2 221.2h0.8M425.4 200.6h0.8M427.7 218.6h0.8M417.3 194.1h0.8M427.4 184.9h0.8M425.4 199.3h0.8M422.4 205.0h0.8M427.5 218.3h0.8M419.3 223.3h0.8M422.0 191.9h0.8M428.3 219.9h0.8M425.0 189.6h0.8M418.4 218.2h0.8M426.5 221.8h0.8M421.0 232.8h0.8M425.7 210.4h0.8M419.8 202.7h0.8M427.4 206.4h0.8M423.9 191.3h0.8M428.2 218.4h0.8M417.1 195.7h0.8M422.2 229.6h0.8M426.8 208.2h0.8M418.4 217.4h0.8M424.9 191.8h0.8M414.3 214.5h0.8M415.1 189.9h0.8M429.4 197.4h0.8M430.0 183.3h0.8M424.5 233.7h0.8M417.9 202.3h0.8M424.0 207.9h0.8M416.1 188.8h0.8M418.3 227.3h0.8M430.4 207.2h0.8M422.9 202.7h0.8M417.2 218.2h0.8M414.2 211.9h0.8M423.6 237.7h0.8M423.3 183.6h0.8M418.5 192.3h0.8M419.2 191.6h0.8M423.1 238.0h0.8M424.6 181.7h0.8M415.0 231.3h0.8M423.3 206.5h0.8M421.6 204.8h0.8M426.5 220.0h0.8M416.5 200.5h0.8M422.9 225.5h0.8M417.0 218.0h0.8M416.4 204.9h0.8M427.9 187.1h0.8M420.6 218.5h0.8M426.0 196.5h0.8M426.5 218.6h0.8M419.4 216.5h0.8M422.3 227.5h0.8M415.2 177.6h0.8M414.8 207.0h0.8M418.5 186.7h0.8M426.5 212.8h0.8M417.5 198.8h0.8M422.9 225.7h0.8M416.8 191.6h0.8M420.9 210.2h0.8M415.6 217.6h0.8M413.2 208.8h0.8M421.5 208.0h0.8M422.7 208.8h0.8M418.8 199.7h0.8M428.7 231.4h0.8M413.5 210.9h0.8M419.9 233.2h0.8M427.1 209.6h0.8M423.9 204.3h0.8M426.3 217.6h0.8M421.3 192.8h0.8M419.8 214.7h0.8M419.9 184.2h0.8M425.3 209.2h0.8M424.0 207.7h0.8M421.8 207.7h0.8M427.2 200.6h0.8M430.2 178.7h0.8M414.7 191.6h0.8M416.6 212.6h0.8M416.6 239.4h0.8M421.4 192.4h0.8M425.3 216.6h0.8M430.6 222.6h0.8M424.3 192.9h0.8M427.8 189.0h0.8M418.9 195.9h0.8M427.6 222.5h0.8M425.0 231.4h0.8M424.9 205.8h0.8M416.9 214.7h0.8M433.0 228.1h0.8M419.1 196.6h0.8M432.9 174.9h0.8M433.1 203.7h0.8M416.2 209.2h0.8M419.0 215.6h0.8M427.4 198.7h0.8M422.8 211.1h0.8M430.9 201.7h0.8M421.3 220.7h0.8M415.5 210.6h0.8M422.8 208.1h0.8M422.6 212.3h0.8M413.6 191.8h0.8M419.4 179.9h0.8M414.9 181.6h0.8M426.7 171.0h0.8M422.2 222.0h0.8M423.2 211.1h0.8M427.7 179.2h0.8M427.3 197.4h0.8M426.7 217.4h0.8M426.2 200.4h0.8M423.9 211.1h0.8M425.5 202.5h0.8M428.0 189.4h0.8M412.4 201.0h0.8M422.8 199.5h0.8M417.9 213.1h0.8M423.2 201.2h0.8M430.5 222.5h0.8M422.0 195.3h0.8M427.6 226.4h0.8M419.2 233.2h0.8M424.2 213.2h0.8M415.0 168.0h0.8M420.4 212.7h0.8M417.3 210.0h0.8M423.8 209.5h0.8M433.1 213.5h0.8M415.7 220.5h0.8M426.8 198.9h0.8M417.6 178.6h0.8M424.6 224.0h0.8M426.9 230.3h0.8M425.0 190.5h0.8M425.7 208.7h0.8M425.9 194.4h0.8M422.0 221.7h0.8M419.1 206.5h0.8M415.5 212.3h0.8M424.9 195.3h0.8M419.4 194.1h0.8" stroke="#111" stroke-opacity="0.50" stroke-width="0.8" fill="none" filter="url(#b0)"/>
<rect x="381.7" y="155.5" width="89.3" height="88.8" fill="none" stroke="#505050" stroke-width="0.9"/><line x1="412.1" y1="155.5" x2="412.1" y2="244.3" stroke="#505050" stroke-width="0.85"/><line x1="381.7" y1="206.2" x2="471.0" y2="206.2" stroke="#505050" stroke-width="0.85"/><path d="M381.7 155.5h-1.2M381.7 157.7h-1.2M381.7 159.9h-1.2M381.7 162.2h-1.2M381.7 164.4h-1.2M381.7 166.6h-1.2M381.7 168.8h-1.2M381.7 171.0h-1.2M381.7 173.3h-1.2M381.7 175.5h-1.2M381.7 177.7h-1.2M381.7 179.9h-1.2M381.7 182.1h-1.2M381.7 184.4h-1.2M381.7 186.6h-1.2M381.7 188.8h-1.2M381.7 191.0h-1.2M381.7 193.2h-1.2M381.7 195.5h-1.2M381.7 197.7h-1.2M381.7 199.9h-1.2M381.7 202.1h-1.2M381.7 204.3h-1.2M381.7 206.6h-1.2M381.7 208.8h-1.2M381.7 211.0h-1.2M381.7 213.2h-1.2M381.7 215.4h-1.2M381.7 217.7h-1.2M381.7 219.9h-1.2M381.7 222.1h-1.2M381.7 224.3h-1.2M381.7 226.5h-1.2M381.7 228.8h-1.2M381.7 231.0h-1.2M381.7 233.2h-1.2M381.7 235.4h-1.2M381.7 237.6h-1.2M381.7 239.9h-1.2M381.7 242.1h-1.2M381.7 244.3h-1.2M381.7 244.3v1.2M383.9 244.3v1.2M386.2 244.3v1.2M388.4 244.3v1.2M390.6 244.3v1.2M392.9 244.3v1.2M395.1 244.3v1.2M397.3 244.3v1.2M399.6 244.3v1.2M401.8 244.3v1.2M404.0 244.3v1.2M406.3 244.3v1.2M408.5 244.3v1.2M410.7 244.3v1.2M413.0 244.3v1.2M415.2 244.3v1.2M417.4 244.3v1.2M419.7 244.3v1.2M421.9 244.3v1.2M424.1 244.3v1.2M426.4 244.3v1.2M428.6 244.3v1.2M430.8 244.3v1.2M433.0 244.3v1.2M435.3 244.3v1.2M437.5 244.3v1.2M439.7 244.3v1.2M442.0 244.3v1.2M444.2 244.3v1.2M446.4 244.3v1.2M448.7 244.3v1.2M450.9 244.3v1.2M453.1 244.3v1.2M455.4 244.3v1.2M457.6 244.3v1.2M459.8 244.3v1.2M462.1 244.3v1.2M464.3 244.3v1.2M466.5 244.3v1.2M468.8 244.3v1.2M471.0 244.3v1.2" stroke="#555" stroke-width="0.6" fill="none"/><text x="392.0" y="252.3" font-size="3.6" text-anchor="middle" fill="#111" stroke="none">0</text><text x="400.0" y="252.3" font-size="4.1" text-anchor="middle" fill="#000" stroke="none">10<tspan dy="-1.5" font-size="3">2</tspan></text><text x="422.6" y="252.3" font-size="4.1" text-anchor="middle" fill="#000" stroke="none">10<tspan dy="-1.5" font-size="3">3</tspan></text><text x="443.0" y="252.3" font-size="4.1" text-anchor="middle" fill="#000" stroke="none">10<tspan dy="-1.5" font-size="3">4</tspan></text><text x="462.5" y="252.3" font-size="4.1" text-anchor="middle" fill="#000" stroke="none">10<tspan dy="-1.5" font-size="3">5</tspan></text><text x="379.7" y="163.5" font-size="4.1" text-anchor="end" fill="#000" stroke="none">10<tspan dy="-1.5" font-size="3">5</tspan></text><text x="379.7" y="183.5" font-size="4.1" text-anchor="end" fill="#000" stroke="none">10<tspan dy="-1.5" font-size="3">4</tspan></text><text x="379.7" y="204.5" font-size="4.1" text-anchor="end" fill="#000" stroke="none">10<tspan dy="-1.5" font-size="3">3</tspan></text><text x="379.7" y="225.5" font-size="4.1" text-anchor="end" fill="#000" stroke="none">10<tspan dy="-1.5" font-size="3">2</tspan></text><text x="378.7" y="235.2" font-size="3.4" text-anchor="end" fill="#111" stroke="none">0</text><text x="383.7" y="159.8" font-size="4.1" text-anchor="start" fill="#111" stroke="none">0</text><text x="469.5" y="159.8" font-size="4.1" text-anchor="end" fill="#111" stroke="none">73.5</text><text x="383.7" y="242.5" font-size="4.1" text-anchor="start" fill="#111" stroke="none">0</text><text x="469.5" y="242.5" font-size="4.1" text-anchor="end" fill="#111" stroke="none">26.5</text>
<line x1="367.9" y1="183.3" x2="367.9" y2="165.7" stroke="#111" stroke-width="1.30"/><polygon points="367.9,160.2 371.0,166.2 364.8,166.2" fill="#111"/>
<line x1="367.9" y1="220.5" x2="367.9" y2="243.2" stroke="#111" stroke-width="1.30"/>
<text x="0" y="0" transform="translate(370.1 205.0) rotate(-90)" font-size="8.70" text-anchor="middle" font-weight="normal" fill="#111" textLength="28.0" lengthAdjust="spacingAndGlyphs" >CTLA-4</text>
<text x="-0.6" y="291.0" font-size="11.50" text-anchor="start" font-weight="bold" fill="#111" stroke-width="0.4">B</text>
<line x1="50.9" y1="296.6" x2="50.9" y2="423.8" stroke="#111" stroke-width="1.10"/><line x1="50.9" y1="423.8" x2="243.8" y2="423.8" stroke="#111" stroke-width="1.10"/><line x1="50.9" y1="423.8" x2="50.9" y2="426.4" stroke="#111" stroke-width="1.00"/><text x="50.9" y="437.0" font-size="7.80" text-anchor="middle" font-weight="normal" fill="#111" >0</text><line x1="82.8" y1="423.8" x2="82.8" y2="426.4" stroke="#111" stroke-width="1.00"/><text x="82.8" y="437.0" font-size="7.80" text-anchor="middle" font-weight="normal" fill="#111" >20</text><line x1="114.6" y1="423.8" x2="114.6" y2="426.4" stroke="#111" stroke-width="1.00"/><text x="114.6" y="437.0" font-size="7.80" text-anchor="middle" font-weight="normal" fill="#111" >40</text><line x1="146.5" y1="423.8" x2="146.5" y2="426.4" stroke="#111" stroke-width="1.00"/><text x="146.5" y="437.0" font-size="7.80" text-anchor="middle" font-weight="normal" fill="#111" >60</text><line x1="178.3" y1="423.8" x2="178.3" y2="426.4" stroke="#111" stroke-width="1.00"/><text x="178.3" y="437.0" font-size="7.80" text-anchor="middle" font-weight="normal" fill="#111" >80</text><line x1="210.2" y1="423.8" x2="210.2" y2="426.4" stroke="#111" stroke-width="1.00"/><text x="210.2" y="437.0" font-size="7.80" text-anchor="middle" font-weight="normal" fill="#111" >100</text><line x1="242.1" y1="423.8" x2="242.1" y2="426.4" stroke="#111" stroke-width="1.00"/><text x="242.1" y="437.0" font-size="7.80" text-anchor="middle" font-weight="normal" fill="#111" >120</text><line x1="48.3" y1="423.8" x2="50.9" y2="423.8" stroke="#111" stroke-width="1.00"/><text x="45.6" y="428.1" font-size="7.80" text-anchor="end" font-weight="normal" fill="#111" >0</text><line x1="48.3" y1="405.6" x2="50.9" y2="405.6" stroke="#111" stroke-width="1.00"/><text x="45.6" y="409.9" font-size="7.80" text-anchor="end" font-weight="normal" fill="#111" >2</text><line x1="48.3" y1="387.5" x2="50.9" y2="387.5" stroke="#111" stroke-width="1.00"/><text x="45.6" y="391.8" font-size="7.80" text-anchor="end" font-weight="normal" fill="#111" >4</text><line x1="48.3" y1="369.3" x2="50.9" y2="369.3" stroke="#111" stroke-width="1.00"/><text x="45.6" y="373.6" font-size="7.80" text-anchor="end" font-weight="normal" fill="#111" >6</text><line x1="48.3" y1="351.2" x2="50.9" y2="351.2" stroke="#111" stroke-width="1.00"/><text x="45.6" y="355.5" font-size="7.80" text-anchor="end" font-weight="normal" fill="#111" >8</text><line x1="48.3" y1="333.0" x2="50.9" y2="333.0" stroke="#111" stroke-width="1.00"/><text x="45.6" y="337.3" font-size="7.80" text-anchor="end" font-weight="normal" fill="#111" >10</text><line x1="48.3" y1="314.8" x2="50.9" y2="314.8" stroke="#111" stroke-width="1.00"/><text x="45.6" y="319.1" font-size="7.80" text-anchor="end" font-weight="normal" fill="#111" >12</text><line x1="48.3" y1="296.7" x2="50.9" y2="296.7" stroke="#111" stroke-width="1.00"/><text x="45.6" y="301.0" font-size="7.80" text-anchor="end" font-weight="normal" fill="#111" >14</text>
<polyline points="50.9,331.2 52.5,320.3 54.9,314.8 57.3,340.3 66.4,343.0 74.8,318.5 186.3,346.2 242.1,347.0" fill="none" stroke="#111" stroke-width="0.9"/><polyline points="50.9,316.7 52.2,330.3 53.8,336.6 55.7,303.9 57.3,305.8 66.4,343.0 74.8,321.2 186.3,350.3 242.1,338.2" fill="none" stroke="#111" stroke-width="0.9"/><polyline points="50.9,394.7 52.2,376.6 53.4,386.6 54.7,390.2 57.3,390.2 66.4,390.2 74.8,379.3 186.3,389.8 242.1,391.3" fill="none" stroke="#111" stroke-width="0.9"/><polygon points="50.9,327.6 54.5,331.2 50.9,334.8 47.3,331.2" fill="#000"/><polygon points="52.5,316.7 56.1,320.3 52.5,323.9 48.9,320.3" fill="#000"/><polygon points="54.9,311.2 58.5,314.8 54.9,318.4 51.3,314.8" fill="#000"/><polygon points="57.3,336.7 60.9,340.3 57.3,343.9 53.7,340.3" fill="#000"/><polygon points="66.4,339.4 70.0,343.0 66.4,346.6 62.8,343.0" fill="#000"/><polygon points="74.8,314.9 78.4,318.5 74.8,322.1 71.2,318.5" fill="#000"/><polygon points="186.3,342.6 189.9,346.2 186.3,349.8 182.7,346.2" fill="#000"/><polygon points="242.1,343.4 245.7,347.0 242.1,350.6 238.5,347.0" fill="#000"/><polygon points="50.9,391.2 54.2,397.5 47.6,397.5" fill="#fff" stroke="#111" stroke-width="0.9"/><polygon points="52.2,373.1 55.5,379.4 48.9,379.4" fill="#fff" stroke="#111" stroke-width="0.9"/><polygon points="53.4,383.1 56.7,389.4 50.1,389.4" fill="#fff" stroke="#111" stroke-width="0.9"/><polygon points="54.7,386.7 58.0,393.0 51.4,393.0" fill="#fff" stroke="#111" stroke-width="0.9"/><polygon points="57.3,386.7 60.6,393.0 54.0,393.0" fill="#fff" stroke="#111" stroke-width="0.9"/><polygon points="66.4,386.7 69.7,393.0 63.1,393.0" fill="#fff" stroke="#111" stroke-width="0.9"/><polygon points="74.8,375.8 78.1,382.1 71.5,382.1" fill="#fff" stroke="#111" stroke-width="0.9"/><polygon points="186.3,386.2 189.6,392.6 183.0,392.6" fill="#fff" stroke="#111" stroke-width="0.9"/><polygon points="242.1,387.8 245.4,394.1 238.8,394.1" fill="#fff" stroke="#111" stroke-width="0.9"/><ellipse cx="50.9" cy="316.7" rx="2.8" ry="2.8" fill="#fff" stroke="#111" stroke-width="0.9"/><ellipse cx="52.2" cy="330.3" rx="2.8" ry="2.8" fill="#fff" stroke="#111" stroke-width="0.9"/><ellipse cx="53.8" cy="336.6" rx="2.8" ry="2.8" fill="#fff" stroke="#111" stroke-width="0.9"/><ellipse cx="55.7" cy="303.9" rx="2.8" ry="2.8" fill="#fff" stroke="#111" stroke-width="0.9"/><ellipse cx="57.3" cy="305.8" rx="2.8" ry="2.8" fill="#fff" stroke="#111" stroke-width="0.9"/><ellipse cx="66.4" cy="343.0" rx="2.8" ry="2.8" fill="#fff" stroke="#111" stroke-width="0.9"/><ellipse cx="74.8" cy="321.2" rx="2.8" ry="2.8" fill="#fff" stroke="#111" stroke-width="0.9"/><ellipse cx="186.3" cy="350.3" rx="2.8" ry="2.8" fill="#fff" stroke="#111" stroke-width="0.9"/><ellipse cx="242.1" cy="338.2" rx="2.8" ry="2.8" fill="#fff" stroke="#111" stroke-width="0.9"/>
<text x="0" y="0" transform="translate(20.4 361.6) rotate(-90)" font-size="9.50" text-anchor="middle" font-weight="normal" fill="#111" textLength="86.0" lengthAdjust="spacingAndGlyphs" >CD4+CD25+Foxp3+</text>
<text x="0" y="0" transform="translate(32.4 363.5) rotate(-90)" font-size="9.50" text-anchor="middle" font-weight="normal" fill="#111" textLength="93.0" lengthAdjust="spacingAndGlyphs" >T cells (of CD4+ cells)</text>
<text x="99.4" y="451.5" font-size="9.40" text-anchor="start" font-weight="normal" fill="#111" textLength="98.7" lengthAdjust="spacingAndGlyphs" >Days after cell injection</text>
<rect x="159.4" y="293.3" width="81.6" height="33.2" fill="#fff" stroke="#111" stroke-width="1.2"/><line x1="168.7" y1="299.6" x2="183.7" y2="299.6" stroke="#111" stroke-width="0.90"/><polygon points="176.2,297.8 178.0,299.6 176.2,301.4 174.4,299.6" fill="#000"/><text x="194.5" y="302.5" font-size="8.00" text-anchor="start" font-weight="normal" fill="#111" textLength="24.5" lengthAdjust="spacingAndGlyphs" >Spleen</text><line x1="168.7" y1="311.0" x2="183.7" y2="311.0" stroke="#111" stroke-width="0.90"/><ellipse cx="176.2" cy="311.0" rx="1.4" ry="1.4" fill="#fff" stroke="#111" stroke-width="0.8"/><text x="193.0" y="313.9" font-size="8.00" text-anchor="start" font-weight="normal" fill="#111" textLength="45.7" lengthAdjust="spacingAndGlyphs" >Lymph Node</text><line x1="168.7" y1="321.8" x2="183.7" y2="321.8" stroke="#111" stroke-width="0.90"/><polygon points="176.2,320.1 177.9,323.2 174.5,323.2" fill="#fff" stroke="#111" stroke-width="0.8"/><text x="195.5" y="324.7" font-size="8.00" text-anchor="start" font-weight="normal" fill="#111" textLength="20.5" lengthAdjust="spacingAndGlyphs" >Blood</text>
<text x="279.5" y="292.7" font-size="12.00" text-anchor="start" font-weight="bold" fill="#111" stroke-width="0.35">C</text>
<line x1="321.0" y1="304.2" x2="321.0" y2="422.2" stroke="#111" stroke-width="1.10"/><line x1="321.0" y1="422.2" x2="513.0" y2="422.2" stroke="#111" stroke-width="1.10"/><line x1="321.0" y1="422.2" x2="321.0" y2="424.8" stroke="#111" stroke-width="1.00"/><text x="321.0" y="436.2" font-size="7.80" text-anchor="middle" font-weight="normal" fill="#111" >0</text><line x1="352.9" y1="422.2" x2="352.9" y2="424.8" stroke="#111" stroke-width="1.00"/><text x="352.9" y="436.2" font-size="7.80" text-anchor="middle" font-weight="normal" fill="#111" >20</text><line x1="384.8" y1="422.2" x2="384.8" y2="424.8" stroke="#111" stroke-width="1.00"/><text x="384.8" y="436.2" font-size="7.80" text-anchor="middle" font-weight="normal" fill="#111" >40</text><line x1="416.8" y1="422.2" x2="416.8" y2="424.8" stroke="#111" stroke-width="1.00"/><text x="416.8" y="436.2" font-size="7.80" text-anchor="middle" font-weight="normal" fill="#111" >60</text><line x1="448.7" y1="422.2" x2="448.7" y2="424.8" stroke="#111" stroke-width="1.00"/><text x="448.7" y="436.2" font-size="7.80" text-anchor="middle" font-weight="normal" fill="#111" >80</text><line x1="480.6" y1="422.2" x2="480.6" y2="424.8" stroke="#111" stroke-width="1.00"/><text x="480.6" y="436.2" font-size="7.80" text-anchor="middle" font-weight="normal" fill="#111" >100</text><line x1="512.5" y1="422.2" x2="512.5" y2="424.8" stroke="#111" stroke-width="1.00"/><text x="512.5" y="436.2" font-size="7.80" text-anchor="middle" font-weight="normal" fill="#111" >120</text><line x1="318.4" y1="422.2" x2="321.0" y2="422.2" stroke="#111" stroke-width="1.00"/><text x="317.0" y="424.3" font-size="7.80" text-anchor="end" font-weight="normal" fill="#111" >0</text><line x1="318.4" y1="405.3" x2="321.0" y2="405.3" stroke="#111" stroke-width="1.00"/><text x="317.0" y="407.4" font-size="7.80" text-anchor="end" font-weight="normal" fill="#111" >2</text><line x1="318.4" y1="388.5" x2="321.0" y2="388.5" stroke="#111" stroke-width="1.00"/><text x="317.0" y="390.6" font-size="7.80" text-anchor="end" font-weight="normal" fill="#111" >4</text><line x1="318.4" y1="371.6" x2="321.0" y2="371.6" stroke="#111" stroke-width="1.00"/><text x="317.0" y="373.7" font-size="7.80" text-anchor="end" font-weight="normal" fill="#111" >6</text><line x1="318.4" y1="354.8" x2="321.0" y2="354.8" stroke="#111" stroke-width="1.00"/><text x="317.0" y="356.9" font-size="7.80" text-anchor="end" font-weight="normal" fill="#111" >8</text><line x1="318.4" y1="337.9" x2="321.0" y2="337.9" stroke="#111" stroke-width="1.00"/><text x="317.0" y="340.0" font-size="7.80" text-anchor="end" font-weight="normal" fill="#111" >10</text><line x1="318.4" y1="321.0" x2="321.0" y2="321.0" stroke="#111" stroke-width="1.00"/><text x="317.0" y="323.1" font-size="7.80" text-anchor="end" font-weight="normal" fill="#111" >12</text><line x1="318.4" y1="304.2" x2="321.0" y2="304.2" stroke="#111" stroke-width="1.00"/><text x="317.0" y="306.3" font-size="7.80" text-anchor="end" font-weight="normal" fill="#111" >14</text>
<line x1="337.0" y1="422.2" x2="337.0" y2="424.8" stroke="#111" stroke-width="1.00"/>
<line x1="368.9" y1="422.2" x2="368.9" y2="424.8" stroke="#111" stroke-width="1.00"/>
<line x1="400.8" y1="422.2" x2="400.8" y2="424.8" stroke="#111" stroke-width="1.00"/>
<line x1="432.7" y1="422.2" x2="432.7" y2="424.8" stroke="#111" stroke-width="1.00"/>
<line x1="464.6" y1="422.2" x2="464.6" y2="424.8" stroke="#111" stroke-width="1.00"/>
<line x1="496.6" y1="422.2" x2="496.6" y2="424.8" stroke="#111" stroke-width="1.00"/>
<polyline points="321.0,395.6 323.4,344.1 325.6,342.5 327.4,371.4 336.6,358.1 345.3,390.2 376.9,403.7 455.1,395.6 510.9,391.9" fill="none" stroke="#111" stroke-width="0.9"/><polyline points="321.3,420.9 322.6,352.8 323.6,331.2 325.3,328.6 327.4,324.4 336.6,354.3 345.3,389.3 376.9,417.6 455.1,415.9 510.9,415.0" fill="none" stroke="#111" stroke-width="0.9"/><polyline points="321.8,413.8 322.6,396.9 324.2,388.9 325.3,403.7 327.4,397.8 336.6,396.9 344.9,414.6 376.9,413.8 455.1,410.8 510.9,409.1" fill="none" stroke="#111" stroke-width="0.9"/><polygon points="321.0,390.6 324.1,395.6 321.0,400.6 317.9,395.6" fill="#000"/><polygon points="323.4,339.1 326.5,344.1 323.4,349.1 320.3,344.1" fill="#000"/><polygon points="325.6,337.5 328.7,342.5 325.6,347.5 322.5,342.5" fill="#000"/><polygon points="327.4,366.4 330.5,371.4 327.4,376.4 324.3,371.4" fill="#000"/><polygon points="336.6,353.1 339.7,358.1 336.6,363.1 333.5,358.1" fill="#000"/><polygon points="345.3,385.2 348.4,390.2 345.3,395.2 342.2,390.2" fill="#000"/><polygon points="376.9,398.7 380.0,403.7 376.9,408.7 373.8,403.7" fill="#000"/><polygon points="455.1,390.6 458.2,395.6 455.1,400.6 452.0,395.6" fill="#000"/><polygon points="510.9,386.9 514.0,391.9 510.9,396.9 507.8,391.9" fill="#000"/><polygon points="321.8,409.4 325.0,417.3 318.6,417.3" fill="#fff" stroke="#111" stroke-width="0.9"/><polygon points="322.6,392.5 325.8,400.4 319.4,400.4" fill="#fff" stroke="#111" stroke-width="0.9"/><polygon points="324.2,384.5 327.4,392.4 321.0,392.4" fill="#fff" stroke="#111" stroke-width="0.9"/><polygon points="325.3,399.3 328.5,407.2 322.1,407.2" fill="#fff" stroke="#111" stroke-width="0.9"/><polygon points="327.4,393.4 330.6,401.3 324.2,401.3" fill="#fff" stroke="#111" stroke-width="0.9"/><polygon points="336.6,392.5 339.8,400.4 333.4,400.4" fill="#fff" stroke="#111" stroke-width="0.9"/><polygon points="344.9,410.2 348.1,418.1 341.7,418.1" fill="#fff" stroke="#111" stroke-width="0.9"/><polygon points="376.9,409.4 380.1,417.3 373.7,417.3" fill="#fff" stroke="#111" stroke-width="0.9"/><polygon points="455.1,406.4 458.3,414.3 451.9,414.3" fill="#fff" stroke="#111" stroke-width="0.9"/><polygon points="510.9,404.7 514.1,412.7 507.7,412.7" fill="#fff" stroke="#111" stroke-width="0.9"/><ellipse cx="321.3" cy="420.9" rx="2.5" ry="4.0" fill="#fff" stroke="#111" stroke-width="0.9"/><ellipse cx="322.6" cy="352.8" rx="2.5" ry="4.0" fill="#fff" stroke="#111" stroke-width="0.9"/><ellipse cx="323.6" cy="331.2" rx="2.5" ry="4.0" fill="#fff" stroke="#111" stroke-width="0.9"/><ellipse cx="325.3" cy="328.6" rx="2.5" ry="4.0" fill="#fff" stroke="#111" stroke-width="0.9"/><ellipse cx="327.4" cy="324.4" rx="2.5" ry="4.0" fill="#fff" stroke="#111" stroke-width="0.9"/><ellipse cx="336.6" cy="354.3" rx="2.5" ry="4.0" fill="#fff" stroke="#111" stroke-width="0.9"/><ellipse cx="345.3" cy="389.3" rx="2.5" ry="4.0" fill="#fff" stroke="#111" stroke-width="0.9"/><ellipse cx="376.9" cy="417.6" rx="2.5" ry="4.0" fill="#fff" stroke="#111" stroke-width="0.9"/><ellipse cx="455.1" cy="415.9" rx="2.5" ry="4.0" fill="#fff" stroke="#111" stroke-width="0.9"/><ellipse cx="510.9" cy="415.0" rx="2.5" ry="4.0" fill="#fff" stroke="#111" stroke-width="0.9"/>
<text x="0" y="0" transform="translate(294.3 368.5) rotate(-90)" font-size="9.50" text-anchor="middle" font-weight="normal" fill="#111" textLength="121.0" lengthAdjust="spacingAndGlyphs" >CD4+CD25+Foxp3+CTLA4+</text>
<text x="0" y="0" transform="translate(305.9 371.3) rotate(-90)" font-size="9.50" text-anchor="middle" font-weight="normal" fill="#111" textLength="107.0" lengthAdjust="spacingAndGlyphs" >T cells (% of CD4+ cells)</text>
<text x="370.6" y="451.0" font-size="9.50" text-anchor="start" font-weight="normal" fill="#111" textLength="93.7" lengthAdjust="spacingAndGlyphs" >Days after cell injection</text>
<rect x="430.3" y="282.5" width="82.1" height="33.1" fill="#fff" stroke="#111" stroke-width="1.2"/><line x1="440.0" y1="288.8" x2="455.0" y2="288.8" stroke="#111" stroke-width="0.90"/><polygon points="447.5,286.9 449.4,288.8 447.5,290.7 445.6,288.8" fill="#000"/><text x="465.7" y="291.7" font-size="8.00" text-anchor="start" font-weight="normal" fill="#111" textLength="24.5" lengthAdjust="spacingAndGlyphs" >Spleen</text><line x1="440.0" y1="299.8" x2="455.0" y2="299.8" stroke="#111" stroke-width="0.90"/><ellipse cx="447.5" cy="299.8" rx="1.5" ry="1.5" fill="#fff" stroke="#111" stroke-width="0.8"/><text x="464.2" y="302.7" font-size="8.00" text-anchor="start" font-weight="normal" fill="#111" textLength="45.7" lengthAdjust="spacingAndGlyphs" >Lymph Node</text><line x1="440.0" y1="311.2" x2="455.0" y2="311.2" stroke="#111" stroke-width="0.90"/><polygon points="447.5,309.4 449.3,312.6 445.7,312.6" fill="#fff" stroke="#111" stroke-width="0.8"/><text x="466.6" y="314.1" font-size="8.00" text-anchor="start" font-weight="normal" fill="#111" textLength="19.5" lengthAdjust="spacingAndGlyphs" >Blood</text>
<line x1="427.8" y1="322.5" x2="427.8" y2="365.0" stroke="#111" stroke-width="0.80"/><line x1="427.8" y1="365.0" x2="513.0" y2="365.0" stroke="#111" stroke-width="0.80"/>
<line x1="428.2" y1="365.0" x2="428.2" y2="366.5" stroke="#111" stroke-width="0.60"/>
<text x="428.2" y="371.0" font-size="4.00" text-anchor="middle" font-weight="normal" fill="#222" stroke="none">0</text>
<line x1="456.3" y1="365.0" x2="456.3" y2="366.5" stroke="#111" stroke-width="0.60"/>
<text x="456.3" y="371.0" font-size="4.00" text-anchor="middle" font-weight="normal" fill="#222" stroke="none">5</text>
<line x1="484.4" y1="365.0" x2="484.4" y2="366.5" stroke="#111" stroke-width="0.60"/>
<text x="484.4" y="371.0" font-size="4.00" text-anchor="middle" font-weight="normal" fill="#222" stroke="none">10</text>
<line x1="512.5" y1="365.0" x2="512.5" y2="366.5" stroke="#111" stroke-width="0.60"/>
<text x="512.5" y="371.0" font-size="4.00" text-anchor="middle" font-weight="normal" fill="#222" stroke="none">15</text>
<line x1="426.3" y1="365.0" x2="427.8" y2="365.0" stroke="#111" stroke-width="0.60"/>
<text x="425.8" y="366.4" font-size="4.00" text-anchor="end" font-weight="normal" fill="#222" stroke="none">0</text>
<line x1="426.3" y1="351.0" x2="427.8" y2="351.0" stroke="#111" stroke-width="0.60"/>
<text x="425.8" y="352.4" font-size="4.00" text-anchor="end" font-weight="normal" fill="#222" stroke="none">5</text>
<line x1="426.3" y1="337.0" x2="427.8" y2="337.0" stroke="#111" stroke-width="0.60"/>
<text x="425.8" y="338.4" font-size="4.00" text-anchor="end" font-weight="normal" fill="#222" stroke="none">10</text>
<line x1="426.3" y1="323.0" x2="427.8" y2="323.0" stroke="#111" stroke-width="0.60"/>
<text x="425.8" y="324.4" font-size="4.00" text-anchor="end" font-weight="normal" fill="#222" stroke="none">15</text>
<polyline points="428.2,355.5 433.8,339.2 439.4,341.2 445.1,338.1 450.7,347.5 484.4,343.2 512.5,353.8" fill="none" stroke="#111" stroke-width="0.9"/><polyline points="428.2,363.6 433.8,341.2 439.4,333.6 445.1,333.4 450.7,332.5 484.4,341.8 512.5,353.8" fill="none" stroke="#111" stroke-width="0.9"/><polyline points="428.2,362.0 433.8,356.3 439.4,354.2 445.1,358.8 450.7,356.3 484.4,356.3 512.5,361.6" fill="none" stroke="#111" stroke-width="0.9"/><polygon points="428.2,353.1 430.6,355.5 428.2,357.9 425.8,355.5" fill="#000"/><polygon points="433.8,336.8 436.2,339.2 433.8,341.6 431.4,339.2" fill="#000"/><polygon points="439.4,338.8 441.8,341.2 439.4,343.6 437.0,341.2" fill="#000"/><polygon points="445.1,335.7 447.5,338.1 445.1,340.5 442.7,338.1" fill="#000"/><polygon points="450.7,345.1 453.1,347.5 450.7,349.9 448.3,347.5" fill="#000"/><polygon points="484.4,340.8 486.8,343.2 484.4,345.6 482.0,343.2" fill="#000"/><polygon points="512.5,351.4 514.9,353.8 512.5,356.2 510.1,353.8" fill="#000"/><polygon points="428.2,359.8 430.4,363.8 426.0,363.8" fill="#fff" stroke="#111" stroke-width="0.8"/><polygon points="433.8,354.1 436.0,358.1 431.6,358.1" fill="#fff" stroke="#111" stroke-width="0.8"/><polygon points="439.4,352.0 441.6,356.0 437.2,356.0" fill="#fff" stroke="#111" stroke-width="0.8"/><polygon points="445.1,356.6 447.3,360.6 442.9,360.6" fill="#fff" stroke="#111" stroke-width="0.8"/><polygon points="450.7,354.1 452.9,358.1 448.5,358.1" fill="#fff" stroke="#111" stroke-width="0.8"/><polygon points="484.4,354.1 486.6,358.1 482.2,358.1" fill="#fff" stroke="#111" stroke-width="0.8"/><polygon points="512.5,359.4 514.7,363.4 510.3,363.4" fill="#fff" stroke="#111" stroke-width="0.8"/><ellipse cx="428.2" cy="363.6" rx="2.2" ry="2.2" fill="#fff" stroke="#111" stroke-width="0.8"/><ellipse cx="433.8" cy="341.2" rx="2.2" ry="2.2" fill="#fff" stroke="#111" stroke-width="0.8"/><ellipse cx="439.4" cy="333.6" rx="2.2" ry="2.2" fill="#fff" stroke="#111" stroke-width="0.8"/><ellipse cx="445.1" cy="333.4" rx="2.2" ry="2.2" fill="#fff" stroke="#111" stroke-width="0.8"/><ellipse cx="450.7" cy="332.5" rx="2.2" ry="2.2" fill="#fff" stroke="#111" stroke-width="0.8"/><ellipse cx="484.4" cy="341.8" rx="2.2" ry="2.2" fill="#fff" stroke="#111" stroke-width="0.8"/><ellipse cx="512.5" cy="353.8" rx="2.2" ry="2.2" fill="#fff" stroke="#111" stroke-width="0.8"/>
<text x="0" y="0" transform="translate(415.0 346.8) rotate(-90)" font-size="3.60" text-anchor="middle" font-weight="normal" fill="#222" textLength="48.0" lengthAdjust="spacingAndGlyphs" stroke="none">CD4+CD25+Foxp3+CTLA4</text>
<text x="0" y="0" transform="translate(420.0 346.8) rotate(-90)" font-size="3.60" text-anchor="middle" font-weight="normal" fill="#222" textLength="53.0" lengthAdjust="spacingAndGlyphs" stroke="none">+ T cells (% in CD4+ cells)</text>
<text x="450.4" y="376.2" font-size="4.30" text-anchor="start" font-weight="normal" fill="#222" textLength="45.0" lengthAdjust="spacingAndGlyphs" stroke="none">Days after cell injection</text>
<text x="0.1" y="476.8" font-size="11.50" text-anchor="start" font-weight="bold" fill="#111" stroke-width="0.4">D</text>
<line x1="51.2" y1="489.0" x2="51.2" y2="609.3" stroke="#111" stroke-width="1.10"/><line x1="51.2" y1="609.3" x2="241.0" y2="609.3" stroke="#111" stroke-width="1.10"/><line x1="51.2" y1="609.3" x2="51.2" y2="611.9" stroke="#111" stroke-width="1.00"/><text x="51.2" y="621.3" font-size="7.80" text-anchor="middle" font-weight="normal" fill="#111" >0</text><line x1="82.7" y1="609.3" x2="82.7" y2="611.9" stroke="#111" stroke-width="1.00"/><text x="82.7" y="621.3" font-size="7.80" text-anchor="middle" font-weight="normal" fill="#111" >20</text><line x1="114.3" y1="609.3" x2="114.3" y2="611.9" stroke="#111" stroke-width="1.00"/><text x="114.3" y="621.3" font-size="7.80" text-anchor="middle" font-weight="normal" fill="#111" >40</text><line x1="145.8" y1="609.3" x2="145.8" y2="611.9" stroke="#111" stroke-width="1.00"/><text x="145.8" y="621.3" font-size="7.80" text-anchor="middle" font-weight="normal" fill="#111" >60</text><line x1="177.4" y1="609.3" x2="177.4" y2="611.9" stroke="#111" stroke-width="1.00"/><text x="177.4" y="621.3" font-size="7.80" text-anchor="middle" font-weight="normal" fill="#111" >80</text><line x1="208.9" y1="609.3" x2="208.9" y2="611.9" stroke="#111" stroke-width="1.00"/><text x="208.9" y="621.3" font-size="7.80" text-anchor="middle" font-weight="normal" fill="#111" >100</text><line x1="240.4" y1="609.3" x2="240.4" y2="611.9" stroke="#111" stroke-width="1.00"/><text x="240.4" y="621.3" font-size="7.80" text-anchor="middle" font-weight="normal" fill="#111" >120</text><line x1="48.6" y1="609.3" x2="51.2" y2="609.3" stroke="#111" stroke-width="1.00"/><text x="46.2" y="611.8" font-size="7.80" text-anchor="end" font-weight="normal" fill="#111" >0</text><line x1="48.6" y1="585.2" x2="51.2" y2="585.2" stroke="#111" stroke-width="1.00"/><text x="46.2" y="587.7" font-size="7.80" text-anchor="end" font-weight="normal" fill="#111" >20</text><line x1="48.6" y1="561.2" x2="51.2" y2="561.2" stroke="#111" stroke-width="1.00"/><text x="46.2" y="563.7" font-size="7.80" text-anchor="end" font-weight="normal" fill="#111" >40</text><line x1="48.6" y1="537.1" x2="51.2" y2="537.1" stroke="#111" stroke-width="1.00"/><text x="46.2" y="539.6" font-size="7.80" text-anchor="end" font-weight="normal" fill="#111" >60</text><line x1="48.6" y1="513.1" x2="51.2" y2="513.1" stroke="#111" stroke-width="1.00"/><text x="46.2" y="515.6" font-size="7.80" text-anchor="end" font-weight="normal" fill="#111" >80</text><line x1="48.6" y1="489.0" x2="51.2" y2="489.0" stroke="#111" stroke-width="1.00"/><text x="46.2" y="491.5" font-size="7.80" text-anchor="end" font-weight="normal" fill="#111" >100</text>
<polyline points="51.2,569.0 52.5,501.0 55.6,521.1 65.4,507.0 73.4,534.7 106.7,536.8 185.2,550.2 240.4,565.4" fill="none" stroke="#111" stroke-width="0.9"/><polyline points="51.2,573.0 52.5,503.9 54.0,501.6 55.6,497.2 65.4,500.4 73.4,530.5 185.2,554.8 240.4,568.8" fill="none" stroke="#111" stroke-width="0.9"/><polyline points="51.2,564.9 52.1,491.0 54.8,518.1 55.6,509.5 65.4,507.5 73.4,542.5 106.7,541.5 185.2,563.7 240.4,564.2" fill="none" stroke="#111" stroke-width="0.9"/><polygon points="51.2,565.5 54.7,569.0 51.2,572.5 47.7,569.0" fill="#000"/><polygon points="52.5,497.5 56.0,501.0 52.5,504.5 49.0,501.0" fill="#000"/><polygon points="55.6,517.6 59.1,521.1 55.6,524.6 52.1,521.1" fill="#000"/><polygon points="65.4,503.5 68.9,507.0 65.4,510.5 61.9,507.0" fill="#000"/><polygon points="73.4,531.2 76.9,534.7 73.4,538.2 69.9,534.7" fill="#000"/><polygon points="106.7,533.3 110.2,536.8 106.7,540.3 103.2,536.8" fill="#000"/><polygon points="185.2,546.7 188.7,550.2 185.2,553.7 181.7,550.2" fill="#000"/><polygon points="240.4,561.9 243.9,565.4 240.4,568.9 236.9,565.4" fill="#000"/><polygon points="51.2,561.4 54.5,567.7 47.9,567.7" fill="#fff" stroke="#111" stroke-width="0.9"/><polygon points="52.1,487.5 55.4,493.8 48.8,493.8" fill="#fff" stroke="#111" stroke-width="0.9"/><polygon points="54.8,514.6 58.1,520.9 51.5,520.9" fill="#fff" stroke="#111" stroke-width="0.9"/><polygon points="55.6,506.0 58.9,512.3 52.3,512.3" fill="#fff" stroke="#111" stroke-width="0.9"/><polygon points="65.4,504.0 68.7,510.3 62.1,510.3" fill="#fff" stroke="#111" stroke-width="0.9"/><polygon points="73.4,539.0 76.7,545.3 70.1,545.3" fill="#fff" stroke="#111" stroke-width="0.9"/><polygon points="106.7,538.0 110.0,544.3 103.4,544.3" fill="#fff" stroke="#111" stroke-width="0.9"/><polygon points="185.2,560.2 188.5,566.5 181.9,566.5" fill="#fff" stroke="#111" stroke-width="0.9"/><polygon points="240.4,560.7 243.7,567.0 237.1,567.0" fill="#fff" stroke="#111" stroke-width="0.9"/><ellipse cx="51.2" cy="573.0" rx="2.8" ry="2.8" fill="#fff" stroke="#111" stroke-width="0.9"/><ellipse cx="52.5" cy="503.9" rx="2.8" ry="2.8" fill="#fff" stroke="#111" stroke-width="0.9"/><ellipse cx="54.0" cy="501.6" rx="2.8" ry="2.8" fill="#fff" stroke="#111" stroke-width="0.9"/><ellipse cx="55.6" cy="497.2" rx="2.8" ry="2.8" fill="#fff" stroke="#111" stroke-width="0.9"/><ellipse cx="65.4" cy="500.4" rx="2.8" ry="2.8" fill="#fff" stroke="#111" stroke-width="0.9"/><ellipse cx="73.4" cy="530.5" rx="2.8" ry="2.8" fill="#fff" stroke="#111" stroke-width="0.9"/><ellipse cx="185.2" cy="554.8" rx="2.8" ry="2.8" fill="#fff" stroke="#111" stroke-width="0.9"/><ellipse cx="240.4" cy="568.8" rx="2.8" ry="2.8" fill="#fff" stroke="#111" stroke-width="0.9"/>
<text transform="translate(20.6 551.3) rotate(-90)" font-size="9.5" text-anchor="middle" fill="#111" textLength="124" lengthAdjust="spacingAndGlyphs">CD4<tspan dy="-3" font-size="5.5">+</tspan><tspan dy="3">CD25+FxoP3+CTLA4+/</tspan></text>
<text x="0" y="0" transform="translate(33.2 551.6) rotate(-90)" font-size="9.50" text-anchor="middle" font-weight="normal" fill="#111" textLength="129.5" lengthAdjust="spacingAndGlyphs" >CD4+CD25+FxoP3+ T cells(%)</text>
<text x="98.0" y="637.0" font-size="9.50" text-anchor="start" font-weight="normal" fill="#111" textLength="99.5" lengthAdjust="spacingAndGlyphs" >Days after cell injection</text>
<rect x="159.6" y="484.8" width="80.8" height="33.7" fill="#fff" stroke="#111" stroke-width="1.2"/><line x1="168.5" y1="491.5" x2="184.6" y2="491.5" stroke="#111" stroke-width="0.90"/><polygon points="176.6,489.7 178.4,491.5 176.6,493.3 174.8,491.5" fill="#000"/><text x="194.9" y="494.4" font-size="8.00" text-anchor="start" font-weight="normal" fill="#111" textLength="24.5" lengthAdjust="spacingAndGlyphs" >Spleen</text><line x1="168.5" y1="502.8" x2="184.6" y2="502.8" stroke="#111" stroke-width="0.90"/><ellipse cx="176.6" cy="502.8" rx="1.4" ry="1.4" fill="#fff" stroke="#111" stroke-width="0.8"/><text x="193.2" y="505.7" font-size="8.00" text-anchor="start" font-weight="normal" fill="#111" textLength="45.7" lengthAdjust="spacingAndGlyphs" >Lymph Node</text><line x1="168.5" y1="513.9" x2="184.6" y2="513.9" stroke="#111" stroke-width="0.90"/><polygon points="176.6,512.2 178.2,515.3 174.9,515.3" fill="#fff" stroke="#111" stroke-width="0.8"/><text x="195.4" y="516.8" font-size="8.00" text-anchor="start" font-weight="normal" fill="#111" textLength="20.5" lengthAdjust="spacingAndGlyphs" >Blood</text>
<text x="280.0" y="478.2" font-size="11.50" text-anchor="start" font-weight="bold" fill="#111" stroke-width="0.35">E</text>
<line x1="323.3" y1="498.5" x2="323.3" y2="614.3" stroke="#111" stroke-width="1.10"/><line x1="323.3" y1="614.3" x2="509.7" y2="614.3" stroke="#111" stroke-width="1.10"/><line x1="323.3" y1="614.3" x2="323.3" y2="616.9" stroke="#111" stroke-width="1.00"/><text x="323.3" y="626.1" font-size="7.80" text-anchor="middle" font-weight="normal" fill="#111" >0</text><line x1="354.2" y1="614.3" x2="354.2" y2="616.9" stroke="#111" stroke-width="1.00"/><text x="354.2" y="626.1" font-size="7.80" text-anchor="middle" font-weight="normal" fill="#111" >10</text><line x1="385.2" y1="614.3" x2="385.2" y2="616.9" stroke="#111" stroke-width="1.00"/><text x="385.2" y="626.1" font-size="7.80" text-anchor="middle" font-weight="normal" fill="#111" >20</text><line x1="416.2" y1="614.3" x2="416.2" y2="616.9" stroke="#111" stroke-width="1.00"/><text x="416.2" y="626.1" font-size="7.80" text-anchor="middle" font-weight="normal" fill="#111" >30</text><line x1="447.1" y1="614.3" x2="447.1" y2="616.9" stroke="#111" stroke-width="1.00"/><text x="447.1" y="626.1" font-size="7.80" text-anchor="middle" font-weight="normal" fill="#111" >40</text><line x1="478.1" y1="614.3" x2="478.1" y2="616.9" stroke="#111" stroke-width="1.00"/><text x="478.1" y="626.1" font-size="7.80" text-anchor="middle" font-weight="normal" fill="#111" >50</text><line x1="509.0" y1="614.3" x2="509.0" y2="616.9" stroke="#111" stroke-width="1.00"/><text x="509.0" y="626.1" font-size="7.80" text-anchor="middle" font-weight="normal" fill="#111" >60</text><line x1="320.7" y1="614.3" x2="323.3" y2="614.3" stroke="#111" stroke-width="1.00"/><text x="319.5" y="617.9" font-size="7.80" text-anchor="end" font-weight="normal" fill="#111" >0</text><line x1="320.7" y1="591.1" x2="323.3" y2="591.1" stroke="#111" stroke-width="1.00"/><text x="319.5" y="594.8" font-size="7.80" text-anchor="end" font-weight="normal" fill="#111" >5</text><line x1="320.7" y1="568.0" x2="323.3" y2="568.0" stroke="#111" stroke-width="1.00"/><text x="319.5" y="571.6" font-size="7.80" text-anchor="end" font-weight="normal" fill="#111" >10</text><line x1="320.7" y1="544.8" x2="323.3" y2="544.8" stroke="#111" stroke-width="1.00"/><text x="319.5" y="548.5" font-size="7.80" text-anchor="end" font-weight="normal" fill="#111" >15</text><line x1="320.7" y1="521.7" x2="323.3" y2="521.7" stroke="#111" stroke-width="1.00"/><text x="319.5" y="525.3" font-size="7.80" text-anchor="end" font-weight="normal" fill="#111" >20</text><line x1="320.7" y1="498.5" x2="323.3" y2="498.5" stroke="#111" stroke-width="1.00"/><text x="319.5" y="502.2" font-size="7.80" text-anchor="end" font-weight="normal" fill="#111" >25</text>
<polyline points="323.3,603.2 326.1,573.3 328.9,519.4 335.4,512.0 353.6,537.4 370.0,596.7 431.6,600.3 499.1,602.1" fill="none" stroke="#111" stroke-width="0.9"/><polyline points="323.3,606.9 342.2,583.3 365.4,599.0 389.5,584.7 431.6,593.1 499.1,594.4" fill="none" stroke="#111" stroke-width="0.9"/><polygon points="323.3,599.9 326.6,603.2 323.3,606.5 320.0,603.2" fill="#000"/><polygon points="326.1,570.0 329.4,573.3 326.1,576.6 322.8,573.3" fill="#000"/><polygon points="328.9,516.1 332.2,519.4 328.9,522.7 325.6,519.4" fill="#000"/><polygon points="335.4,508.7 338.7,512.0 335.4,515.3 332.1,512.0" fill="#000"/><polygon points="353.6,534.1 356.9,537.4 353.6,540.7 350.3,537.4" fill="#000"/><polygon points="370.0,593.4 373.3,596.7 370.0,600.0 366.7,596.7" fill="#000"/><polygon points="431.6,597.0 434.9,600.3 431.6,603.6 428.3,600.3" fill="#000"/><polygon points="499.1,598.8 502.4,602.1 499.1,605.4 495.8,602.1" fill="#000"/><rect x="320.9" y="604.5" width="4.8" height="4.8" fill="#fff" stroke="#111" stroke-width="0.9"/><rect x="339.8" y="580.9" width="4.8" height="4.8" fill="#fff" stroke="#111" stroke-width="0.9"/><rect x="363.0" y="596.6" width="4.8" height="4.8" fill="#fff" stroke="#111" stroke-width="0.9"/><rect x="387.1" y="582.3" width="4.8" height="4.8" fill="#fff" stroke="#111" stroke-width="0.9"/><rect x="429.2" y="590.7" width="4.8" height="4.8" fill="#fff" stroke="#111" stroke-width="0.9"/><rect x="496.7" y="592.0" width="4.8" height="4.8" fill="#fff" stroke="#111" stroke-width="0.9"/>
<text x="0" y="0" transform="translate(303.4 553.9) rotate(-90)" font-size="9.50" text-anchor="middle" font-weight="normal" fill="#111" textLength="111.5" lengthAdjust="spacingAndGlyphs" >CD4+CTLA-4+ T cells (%)</text>
<text x="370.6" y="639.7" font-size="9.50" text-anchor="start" font-weight="normal" fill="#111" textLength="98.0" lengthAdjust="spacingAndGlyphs" >Days after cell injection</text>
<rect x="408.5" y="491.6" width="103.9" height="28.2" fill="#fff" stroke="#111" stroke-width="1.2"/><line x1="412.5" y1="501.5" x2="423.1" y2="501.5" stroke="#111" stroke-width="0.90"/><polygon points="417.8,499.1 420.2,501.5 417.8,503.9 415.4,501.5" fill="#000"/><text x="423.2" y="504.1" font-size="7.10" text-anchor="start" font-weight="normal" fill="#111" textLength="85.0" lengthAdjust="spacingAndGlyphs" >Cell transfer+FVIII plasmid</text><line x1="412.5" y1="513.2" x2="423.1" y2="513.2" stroke="#111" stroke-width="0.90"/><rect x="415.9" y="511.3" width="3.8" height="3.8" fill="#fff" stroke="#111" stroke-width="0.8"/><text x="423.2" y="515.8" font-size="7.10" text-anchor="start" font-weight="normal" fill="#111" textLength="57.6" lengthAdjust="spacingAndGlyphs" >FVIII plasmid only</text>
</svg></body></html>
